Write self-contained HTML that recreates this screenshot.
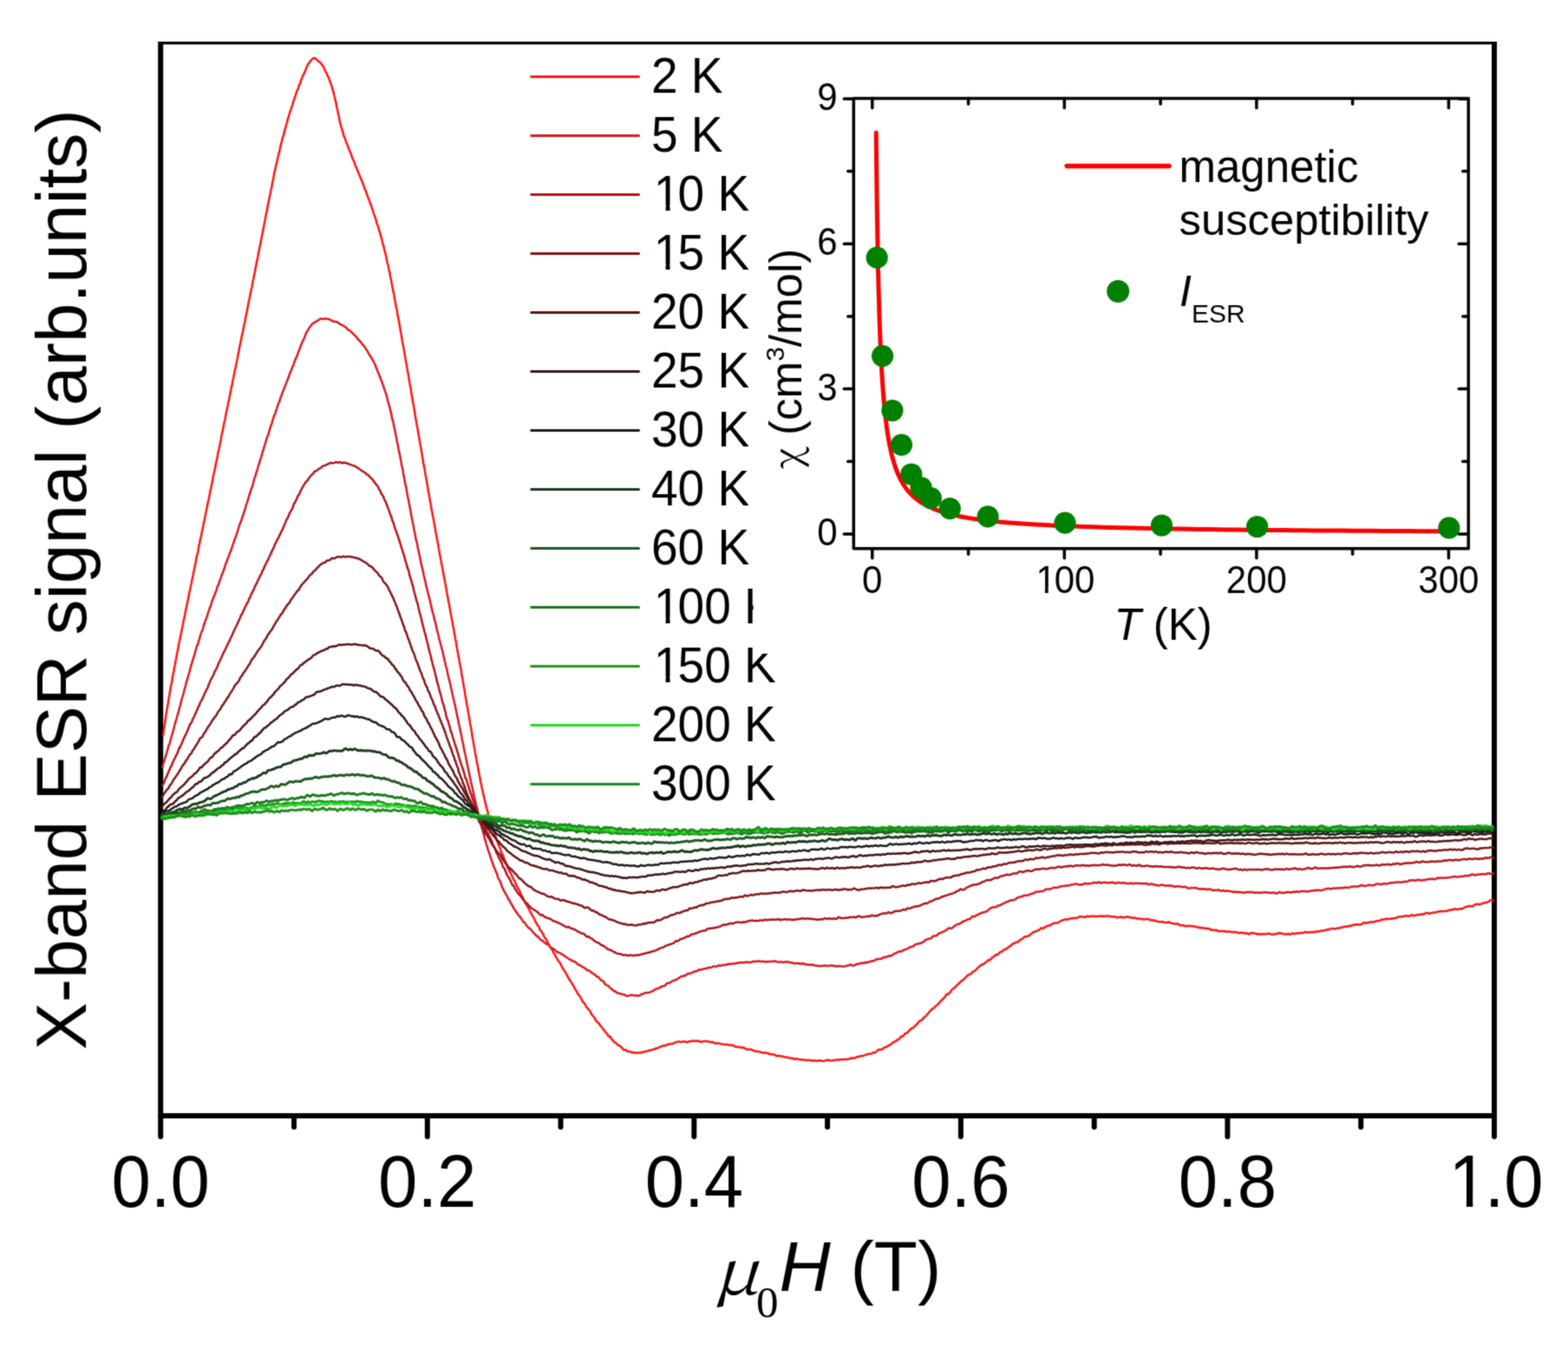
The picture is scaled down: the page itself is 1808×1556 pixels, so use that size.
<!DOCTYPE html><html><head><meta charset="utf-8"><title>X-band ESR signal</title><style>html,body{margin:0;padding:0;background:#fff;overflow:hidden;}svg{display:block;}#w{width:1808px;height:1556px;}text{font-family:'Liberation Sans', Arial, sans-serif;fill:#000;}</style></head><body>
<div id="w">
<svg width="1808" height="1556" viewBox="0 0 1808 1556">
<rect x="0" y="0" width="1808" height="1556" fill="#fff"/>
<defs><filter id="bl" x="0" y="0" width="1" height="1" color-interpolation-filters="sRGB"><feConvolveMatrix order="3" kernelMatrix="0.02768 0.11101 0.02768 0.11101 0.44521 0.11101 0.02768 0.11101 0.02768" edgeMode="duplicate"/></filter></defs>
<g filter="url(#bl)">
<defs><clipPath id="pc"><rect x="185.2" y="51.3" width="1537.8" height="1232.6"/></clipPath></defs>
<line x1="611.5" y1="88.4" x2="737.7" y2="88.4" stroke="#ff1414" stroke-width="3"/>
<text transform="translate(0 106.6) scale(1 1.040)" x="751.00 781.58 796.87" font-size="55.0">2 K</text>
<line x1="611.5" y1="156.4" x2="737.7" y2="156.4" stroke="#dc1820" stroke-width="3"/>
<text transform="translate(0 174.6) scale(1 1.040)" x="751.00 781.58 796.87" font-size="55.0">5 K</text>
<line x1="611.5" y1="224.4" x2="737.7" y2="224.4" stroke="#b0161c" stroke-width="3"/>
<text transform="translate(0 242.6) scale(1 1.040)" x="753.75 781.58 812.16 827.45" font-size="55.0">10 K</text>
<line x1="611.5" y1="292.4" x2="737.7" y2="292.4" stroke="#82161a" stroke-width="3"/>
<text transform="translate(0 310.6) scale(1 1.040)" x="753.75 781.58 812.16 827.45" font-size="55.0">15 K</text>
<line x1="611.5" y1="360.4" x2="737.7" y2="360.4" stroke="#5c1414" stroke-width="3"/>
<text transform="translate(0 378.6) scale(1 1.040)" x="751.00 781.58 812.16 827.45" font-size="55.0">20 K</text>
<line x1="611.5" y1="428.4" x2="737.7" y2="428.4" stroke="#3c1616" stroke-width="3"/>
<text transform="translate(0 446.6) scale(1 1.040)" x="751.00 781.58 812.16 827.45" font-size="55.0">25 K</text>
<line x1="611.5" y1="496.4" x2="737.7" y2="496.4" stroke="#1c1c1c" stroke-width="3"/>
<text transform="translate(0 514.6) scale(1 1.040)" x="751.00 781.58 812.16 827.45" font-size="55.0">30 K</text>
<line x1="611.5" y1="564.4" x2="737.7" y2="564.4" stroke="#1c381c" stroke-width="3"/>
<text transform="translate(0 582.6) scale(1 1.040)" x="751.00 781.58 812.16 827.45" font-size="55.0">40 K</text>
<line x1="611.5" y1="632.4" x2="737.7" y2="632.4" stroke="#1e581e" stroke-width="3"/>
<text transform="translate(0 650.6) scale(1 1.040)" x="751.00 781.58 812.16 827.45" font-size="55.0">60 K</text>
<line x1="611.5" y1="700.4" x2="737.7" y2="700.4" stroke="#1c781c" stroke-width="3"/>
<text transform="translate(0 718.6) scale(1 1.040)" x="753.75 781.58 812.16 842.74 858.03" font-size="55.0">100 K</text>
<line x1="611.5" y1="768.4" x2="737.7" y2="768.4" stroke="#1e981e" stroke-width="3"/>
<text transform="translate(0 786.6) scale(1 1.040)" x="753.75 781.58 812.16 842.74 858.03" font-size="55.0">150 K</text>
<line x1="611.5" y1="836.4" x2="737.7" y2="836.4" stroke="#22dd22" stroke-width="3"/>
<text transform="translate(0 854.6) scale(1 1.040)" x="751.00 781.58 812.16 842.74 858.03" font-size="55.0">200 K</text>
<line x1="611.5" y1="904.4" x2="737.7" y2="904.4" stroke="#1c8c1c" stroke-width="3"/>
<text transform="translate(0 922.6) scale(1 1.040)" x="751.00 781.58 812.16 842.74 858.03" font-size="55.0">300 K</text>
<rect x="868.6" y="52" width="850.4" height="702" fill="#fff"/>
<rect x="185.2" y="48.3" width="1537.8" height="1238.6" fill="none" stroke="#000" stroke-width="6" stroke-linejoin="round"/>
<line x1="185.2" y1="1286.9" x2="185.2" y2="1310.9" stroke="#000" stroke-width="6" stroke-linecap="round"/>
<line x1="339.0" y1="1286.9" x2="339.0" y2="1299.9" stroke="#000" stroke-width="6" stroke-linecap="round"/>
<line x1="492.8" y1="1286.9" x2="492.8" y2="1310.9" stroke="#000" stroke-width="6" stroke-linecap="round"/>
<line x1="646.5" y1="1286.9" x2="646.5" y2="1299.9" stroke="#000" stroke-width="6" stroke-linecap="round"/>
<line x1="800.3" y1="1286.9" x2="800.3" y2="1310.9" stroke="#000" stroke-width="6" stroke-linecap="round"/>
<line x1="954.1" y1="1286.9" x2="954.1" y2="1299.9" stroke="#000" stroke-width="6" stroke-linecap="round"/>
<line x1="1107.9" y1="1286.9" x2="1107.9" y2="1310.9" stroke="#000" stroke-width="6" stroke-linecap="round"/>
<line x1="1261.7" y1="1286.9" x2="1261.7" y2="1299.9" stroke="#000" stroke-width="6" stroke-linecap="round"/>
<line x1="1415.4" y1="1286.9" x2="1415.4" y2="1310.9" stroke="#000" stroke-width="6" stroke-linecap="round"/>
<line x1="1569.2" y1="1286.9" x2="1569.2" y2="1299.9" stroke="#000" stroke-width="6" stroke-linecap="round"/>
<line x1="1723.0" y1="1286.9" x2="1723.0" y2="1310.9" stroke="#000" stroke-width="6" stroke-linecap="round"/>
<text transform="translate(0 1392.2) scale(1 1.040)" x="128.56 173.87 196.53" font-size="81.5">0.0</text>
<text transform="translate(0 1392.2) scale(1 1.040)" x="436.12 481.43 504.09" font-size="81.5">0.2</text>
<text transform="translate(0 1392.2) scale(1 1.040)" x="743.68 788.99 811.65" font-size="81.5">0.4</text>
<text transform="translate(0 1392.2) scale(1 1.040)" x="1051.24 1096.55 1119.21" font-size="81.5">0.6</text>
<text transform="translate(0 1392.2) scale(1 1.040)" x="1358.80 1404.11 1426.77" font-size="81.5">0.8</text>
<text transform="translate(0 1392.2) scale(1 1.040)" x="1670.43 1711.67 1734.33" font-size="81.5">1.0</text>
<g clip-path="url(#pc)" fill="none" stroke-linejoin="round" stroke-linecap="round">
<polyline points="188.1,848.5 188.2,847.1 188.4,845.2 188.6,843.6 188.7,842.6 188.9,841.7 189.1,840.5 189.3,839.3 189.4,838.1 189.6,836.7 189.8,835.6 190.0,835.0 190.2,834.3 190.3,833.1 190.5,831.4 190.7,829.8 190.9,828.3 191.1,827.2 191.3,826.3 191.4,824.9 191.6,823.5 191.8,822.9 192.0,822.2 192.2,820.7 192.4,818.9 192.6,817.9 192.8,817.0 193.0,815.7 193.2,814.3 193.4,813.3 193.6,812.8 193.8,811.6 194.0,809.7 194.2,808.1 194.4,806.7 194.6,805.2 194.8,804.3 195.0,803.7 195.2,802.9 195.4,801.5 195.6,800.0 195.8,799.1 196.0,797.7 196.2,796.1 196.4,795.1 196.6,794.1 196.8,792.9 197.0,791.6 197.2,790.2 197.5,789.5 197.7,789.0 197.9,788.0 198.1,786.9 198.3,785.8 198.5,784.3 198.7,782.7 199.0,781.3 199.2,779.8 199.4,778.3 199.6,777.4 199.8,777.0 200.0,776.2 200.3,774.9 200.5,773.7 200.7,772.2 200.9,770.8 201.1,769.6 201.4,768.3 201.6,767.6 201.8,766.7 202.0,765.1 202.3,763.9 202.5,763.0 202.7,762.1 202.9,760.8 203.2,759.5 203.4,758.3 203.6,756.7 203.9,755.4 204.1,754.4 204.3,753.0 204.5,752.0 204.8,751.0 205.0,749.5 205.2,748.6 205.5,747.7 205.7,746.2 205.9,744.2 206.2,742.5 206.4,741.7 206.6,741.0 206.9,739.8 207.1,738.7 207.3,737.8 207.6,736.6 207.8,735.5 208.0,734.4 208.3,733.0 208.5,732.1 208.7,731.6 209.0,730.1 209.2,728.2 209.4,727.2 209.7,726.5 209.9,725.5 210.2,723.9 210.4,722.3 210.6,721.2 210.9,720.4 211.1,719.2 211.3,717.8 211.6,716.5 211.8,715.5 212.1,714.4 212.3,713.2 212.5,712.2 212.8,711.3 213.0,709.8 213.3,708.5 213.5,707.5 213.7,706.2 214.0,704.9 214.2,703.3 214.5,702.0 214.7,701.3 215.0,700.4 215.2,699.2 215.4,697.9 215.7,696.5 215.9,695.2 216.2,694.5 216.4,693.9 216.6,692.5 216.9,690.9 217.1,689.7 217.4,688.4 217.6,687.3 217.9,686.3 218.1,684.7 218.3,683.0 218.6,682.1 218.8,681.4 219.1,680.5 219.3,679.4 219.6,678.0 219.8,677.0 220.0,675.8 220.3,674.6 220.5,673.6 220.8,672.2 221.0,670.9 221.3,669.7 221.5,668.3 221.7,667.2 222.0,666.3 222.2,665.0 222.5,663.7 222.7,662.5 222.9,661.6 223.2,660.5 223.4,659.0 223.7,657.8 223.9,656.5 224.2,655.6 224.4,655.1 224.6,653.4 224.9,651.8 225.1,650.9 225.4,649.7 225.6,648.6 225.9,647.6 226.1,646.1 226.3,644.7 226.6,643.6 226.8,642.3 227.1,640.7 227.3,639.6 227.5,639.1 227.8,638.4 228.0,637.5 228.3,636.4 228.5,634.9 228.8,633.2 229.0,631.6 229.2,630.1 229.5,628.9 229.7,628.1 230.0,627.4 230.2,626.4 230.4,624.9 230.7,623.3 230.9,622.1 231.2,621.3 231.4,620.5 231.7,619.2 231.9,618.1 232.1,617.5 232.4,616.3 232.6,614.5 232.9,613.1 233.1,611.9 233.3,610.9 233.6,609.9 233.8,608.9 234.1,608.0 234.3,607.0 234.5,605.6 234.8,604.1 235.0,602.8 235.3,601.4 235.5,600.4 235.8,599.6 236.0,598.5 236.2,597.4 236.5,595.9 236.7,594.7 237.0,593.7 237.2,592.4 237.4,591.0 237.7,589.7 237.9,588.4 238.2,587.2 238.4,586.3 238.6,585.5 238.9,584.4 239.1,582.8 239.4,581.0 239.6,580.0 239.9,579.3 240.1,578.2 240.3,577.3 240.6,576.0 240.8,574.6 241.1,573.9 241.3,573.2 241.5,571.6 241.8,569.9 242.0,568.5 242.3,567.2 242.5,565.8 242.7,565.2 243.0,564.9 243.2,563.6 243.5,562.1 243.7,561.2 243.9,560.1 244.2,558.9 244.4,557.8 244.7,556.4 244.9,555.0 245.1,553.5 245.4,551.6 245.6,550.5 245.9,549.7 246.1,548.4 246.4,547.2 246.6,545.9 246.8,545.2 247.1,544.8 247.3,543.4 247.6,541.9 247.8,540.8 248.0,539.5 248.3,538.4 248.5,537.4 248.8,536.1 249.0,534.5 249.2,533.4 249.5,532.2 249.7,530.8 250.0,529.8 250.2,528.8 250.4,527.9 250.7,526.8 250.9,525.4 251.2,524.2 251.4,522.8 251.6,521.1 251.9,520.0 252.1,519.1 252.4,518.0 252.6,517.0 252.8,515.8 253.1,514.7 253.3,514.2 253.6,513.2 253.8,511.3 254.0,509.8 254.3,509.0 254.5,508.3 254.8,506.9 255.0,504.9 255.2,503.4 255.5,502.2 255.7,500.8 256.0,499.8 256.2,498.9 256.4,498.0 256.7,497.4 256.9,496.1 257.2,494.2 257.4,492.8 257.6,492.1 257.9,491.2 258.1,489.6 258.4,488.0 258.6,487.3 258.8,486.3 259.1,485.3 259.3,484.4 259.6,483.2 259.8,481.7 260.0,480.2 260.3,479.1 260.5,477.7 260.8,476.2 261.0,475.2 261.2,474.0 261.5,472.8 261.7,472.1 262.0,471.5 262.2,470.4 262.4,469.2 262.7,467.7 262.9,465.7 263.2,464.1 263.4,463.6 263.6,463.1 263.9,461.9 264.1,460.9 264.4,459.5 264.6,457.8 264.8,457.1 265.1,456.3 265.3,454.4 265.6,452.6 265.8,451.7 266.0,450.9 266.3,449.8 266.5,448.5 266.7,447.0 267.0,445.8 267.2,445.3 267.5,444.9 267.7,443.3 267.9,441.4 268.2,439.8 268.4,438.4 268.7,437.7 268.9,436.8 269.1,435.5 269.4,434.6 269.6,433.7 269.9,432.6 270.1,431.3 270.3,429.7 270.6,427.9 270.8,426.8 271.1,426.1 271.3,425.2 271.5,424.3 271.8,423.2 272.0,421.6 272.3,420.3 272.5,419.3 272.7,418.2 273.0,417.0 273.2,415.9 273.4,414.9 273.7,413.7 273.9,412.5 274.2,411.5 274.4,410.1 274.6,408.6 274.9,407.4 275.1,406.3 275.4,405.4 275.6,404.2 275.8,402.4 276.1,400.9 276.3,400.0 276.5,398.9 276.8,397.6 277.0,396.5 277.3,395.2 277.5,394.0 277.7,393.2 278.0,392.2 278.2,390.8 278.5,389.6 278.7,388.6 278.9,387.0 279.2,385.4 279.4,384.6 279.6,384.2 279.9,383.5 280.1,382.6 280.4,381.1 280.6,379.3 280.8,377.8 281.1,377.0 281.3,376.3 281.5,375.0 281.8,373.4 282.0,372.3 282.3,371.7 282.5,370.7 282.7,369.0 283.0,367.3 283.2,366.0 283.4,364.9 283.7,363.9 283.9,363.2 284.2,362.3 284.4,361.1 284.6,359.7 284.9,358.2 285.1,356.9 285.3,355.7 285.6,354.8 285.8,353.8 286.0,352.1 286.3,350.4 286.5,349.4 286.8,348.2 287.0,346.8 287.2,346.0 287.5,345.7 287.7,344.6 287.9,343.1 288.2,342.1 288.4,340.8 288.6,339.1 288.9,337.9 289.1,337.0 289.4,335.6 289.6,334.1 289.8,333.2 290.1,332.7 290.3,332.0 290.5,330.6 290.8,329.2 291.0,328.2 291.2,326.7 291.5,325.0 291.7,324.0 291.9,322.9 292.2,321.8 292.4,320.7 292.7,319.7 292.9,318.4 293.1,317.1 293.4,316.1 293.6,314.8 293.8,313.5 294.1,312.5 294.3,311.0 294.5,309.5 294.8,308.2 295.0,306.9 295.2,306.2 295.5,305.6 295.7,304.0 295.9,302.5 296.2,301.2 296.4,300.3 296.6,299.8 296.9,298.6 297.1,296.9 297.3,295.5 297.6,294.2 297.8,292.9 298.0,291.7 298.3,290.7 298.5,289.9 298.7,289.0 299.0,287.8 299.2,286.2 299.4,284.7 299.7,283.6 299.9,282.7 300.1,281.9 300.4,280.9 300.6,279.6 300.8,277.8 301.1,276.4 301.3,276.0 301.5,274.9 301.8,273.1 302.0,272.2 302.2,271.3 302.5,270.0 302.7,269.0 302.9,267.5 303.1,266.2 303.4,265.5 303.6,264.2 303.8,262.8 304.1,261.5 304.3,260.3 304.5,259.4 304.8,258.2 305.0,256.8 305.2,255.7 305.5,254.8 305.7,253.6 305.9,252.2 306.1,251.1 306.4,249.8 306.6,248.4 306.8,247.1 307.1,245.8 307.3,244.9 307.5,244.1 307.8,243.1 308.0,242.0 308.2,240.6 308.4,238.7 308.7,237.2 308.9,236.4 309.1,235.7 309.4,234.5 309.6,233.3 309.8,232.1 310.1,230.4 310.3,229.2 310.5,228.8 310.8,228.3 311.0,226.6 311.2,225.0 311.5,224.1 311.7,223.2 311.9,221.9 312.2,220.3 312.4,218.9 312.6,218.0 312.9,217.3 313.1,216.6 313.4,215.4 313.6,213.4 313.8,211.9 314.1,210.9 314.3,209.8 314.6,208.9 314.8,207.8 315.0,206.7 315.3,205.6 315.5,204.0 315.8,202.2 316.0,200.8 316.3,199.7 316.5,198.4 316.8,197.4 317.0,196.9 317.3,195.8 317.5,194.3 317.8,192.8 318.1,191.4 318.3,190.8 318.6,190.0 318.8,188.3 319.1,187.3 319.4,186.7 319.6,185.3 319.9,184.1 320.1,182.9 320.4,181.5 320.7,180.8 321.0,179.7 321.2,177.9 321.5,176.6 321.8,175.9 322.1,175.2 322.3,174.2 322.6,172.7 322.9,170.9 323.2,169.6 323.5,168.8 323.7,167.7 324.0,166.2 324.3,165.2 324.6,164.5 324.9,163.3 325.2,161.8 325.5,160.5 325.8,159.2 326.1,158.0 326.4,157.4 326.7,157.1 327.0,156.3 327.3,154.4 327.6,152.9 327.9,151.6 328.3,150.1 328.6,148.9 328.9,147.9 329.2,147.3 329.5,146.4 329.9,144.7 330.2,143.4 330.5,142.6 330.8,141.4 331.2,140.0 331.5,138.6 331.8,137.2 332.2,136.4 332.5,135.7 332.9,134.4 333.2,132.9 333.6,131.6 333.9,130.7 334.3,129.7 334.6,128.3 335.0,127.2 335.4,126.5 335.7,125.5 336.1,124.3 336.5,123.2 336.8,122.3 337.2,121.1 337.6,119.5 338.0,118.0 338.3,116.8 338.7,115.8 339.1,115.0 339.5,113.9 339.9,112.4 340.3,111.1 340.7,110.1 341.1,109.2 341.5,108.0 341.9,106.7 342.3,105.4 342.7,104.2 343.1,103.4 343.6,102.8 344.0,101.5 344.4,99.9 344.8,98.4 345.3,97.5 345.7,97.0 346.1,95.9 346.6,94.1 347.0,92.7 347.4,91.9 347.9,90.6 348.3,89.3 348.8,88.7 349.2,87.7 349.7,86.3 350.2,85.5 350.6,84.9 351.1,83.7 351.6,82.6 352.0,81.9 352.5,80.4 353.0,78.9 353.5,77.8 354.0,76.7 354.5,75.5 355.1,74.4 355.7,73.5 356.2,72.6 356.9,71.9 357.6,71.0 358.4,69.8 359.2,68.9 360.1,68.1 361.2,67.1 362.4,67.1 363.6,67.7 364.7,68.2 365.7,69.3 366.6,70.5 367.5,70.7 368.3,71.1 369.1,72.2 369.8,72.9 370.5,73.6 371.2,74.8 371.8,75.4 372.4,75.7 373.0,77.0 373.6,78.6 374.2,79.9 374.7,81.1 375.3,82.3 375.8,83.2 376.3,83.8 376.8,84.6 377.3,86.3 377.8,87.8 378.3,88.3 378.7,88.8 379.2,90.3 379.6,92.1 380.1,93.0 380.5,93.7 380.9,95.0 381.3,96.4 381.7,97.3 382.1,98.0 382.5,99.1 382.9,100.8 383.3,102.3 383.6,103.5 384.0,104.7 384.3,105.7 384.6,106.8 384.9,107.9 385.2,109.2 385.5,110.6 385.8,111.6 386.1,112.4 386.3,113.6 386.6,114.9 386.9,116.2 387.1,117.4 387.4,118.3 387.6,119.2 387.8,120.8 388.1,122.2 388.3,123.1 388.5,124.6 388.8,125.7 389.0,126.3 389.2,127.3 389.5,128.8 389.7,129.9 389.9,131.1 390.2,132.4 390.4,133.2 390.7,134.1 390.9,135.4 391.2,137.0 391.4,138.6 391.7,139.8 392.0,140.8 392.3,141.8 392.5,142.9 392.8,144.3 393.2,145.9 393.5,146.6 393.8,146.9 394.1,148.4 394.5,150.1 394.8,150.8 395.2,151.9 395.6,153.3 395.9,154.4 396.3,156.1 396.7,157.4 397.1,158.1 397.5,159.1 397.9,159.9 398.3,160.9 398.7,162.4 399.1,163.6 399.5,164.7 400.0,165.8 400.4,166.5 400.8,167.4 401.3,168.8 401.7,170.5 402.1,171.9 402.6,172.7 403.0,173.4 403.5,174.7 403.9,175.8 404.4,176.4 404.8,177.7 405.3,179.4 405.7,180.7 406.2,181.7 406.6,182.8 407.0,183.9 407.5,184.9 407.9,185.7 408.4,186.7 408.8,187.8 409.3,189.4 409.7,191.1 410.2,191.9 410.6,192.6 411.1,193.6 411.5,194.7 412.0,195.9 412.4,197.1 412.9,198.3 413.3,199.4 413.8,200.3 414.2,201.6 414.7,202.7 415.1,203.5 415.5,204.7 416.0,206.0 416.4,206.9 416.9,207.7 417.3,208.8 417.8,210.3 418.2,211.2 418.6,212.2 419.1,213.5 419.5,214.5 419.9,216.1 420.4,217.5 420.8,218.5 421.2,219.2 421.7,219.7 422.1,221.0 422.5,222.8 422.9,223.8 423.4,225.0 423.8,226.4 424.2,227.2 424.6,228.1 425.1,229.3 425.5,230.3 425.9,231.2 426.3,232.7 426.7,234.4 427.1,235.1 427.5,235.0 427.9,236.3 428.3,238.2 428.7,239.6 429.1,240.8 429.5,241.9 429.9,242.8 430.3,244.3 430.7,245.6 431.1,246.6 431.5,247.9 431.9,249.0 432.2,249.8 432.6,250.9 433.0,252.3 433.4,253.2 433.7,254.2 434.1,256.0 434.5,257.5 434.8,258.5 435.2,259.3 435.5,260.2 435.9,261.0 436.2,262.0 436.6,263.4 436.9,264.7 437.3,266.0 437.6,267.2 437.9,267.8 438.3,268.7 438.6,270.3 438.9,271.9 439.3,272.8 439.6,273.6 439.9,274.6 440.2,275.6 440.5,277.0 440.8,278.8 441.1,280.2 441.4,281.2 441.7,282.4 442.0,283.8 442.3,284.1 442.6,284.6 442.9,286.3 443.2,288.0 443.5,289.1 443.8,290.1 444.1,291.7 444.4,293.0 444.6,293.6 444.9,294.2 445.2,295.4 445.5,297.1 445.7,298.8 446.0,300.1 446.3,301.3 446.5,302.5 446.8,303.5 447.0,304.4 447.3,305.1 447.6,306.2 447.8,307.5 448.1,308.8 448.3,310.4 448.6,311.9 448.8,312.7 449.1,313.3 449.3,314.6 449.6,316.1 449.8,317.1 450.0,318.2 450.3,319.4 450.5,320.8 450.8,322.1 451.0,322.8 451.2,323.9 451.5,325.6 451.7,327.0 451.9,328.0 452.2,329.1 452.4,330.5 452.6,332.0 452.8,333.0 453.1,333.7 453.3,334.7 453.5,336.1 453.7,337.4 454.0,338.4 454.2,339.0 454.4,339.9 454.6,341.7 454.9,343.5 455.1,344.8 455.3,346.2 455.5,347.1 455.7,347.9 455.9,349.2 456.2,350.4 456.4,351.7 456.6,352.8 456.8,353.9 457.0,355.0 457.2,355.8 457.5,356.7 457.7,357.8 457.9,358.9 458.1,360.7 458.3,362.7 458.5,364.0 458.8,364.6 459.0,365.0 459.2,366.3 459.4,368.0 459.6,369.0 459.8,369.9 460.0,370.7 460.2,372.3 460.5,374.0 460.7,375.1 460.9,376.0 461.1,376.8 461.3,378.2 461.5,379.9 461.7,381.1 461.9,382.0 462.1,383.1 462.4,384.3 462.6,385.9 462.8,387.2 463.0,387.9 463.2,389.2 463.4,390.5 463.6,391.7 463.8,393.4 464.0,394.6 464.2,395.3 464.5,396.7 464.7,397.9 464.9,398.5 465.1,399.7 465.3,400.9 465.5,402.1 465.7,403.4 465.9,404.2 466.1,404.9 466.3,406.1 466.5,407.9 466.7,409.4 466.9,410.4 467.2,411.5 467.4,412.9 467.6,414.4 467.8,415.3 468.0,416.1 468.2,417.4 468.4,418.9 468.6,419.8 468.8,420.8 469.0,421.9 469.2,423.2 469.4,424.3 469.6,425.4 469.8,427.0 470.0,428.0 470.2,428.8 470.4,430.1 470.6,431.2 470.9,432.8 471.1,434.2 471.3,435.1 471.5,436.3 471.7,437.7 471.9,438.7 472.1,439.9 472.3,441.5 472.5,442.8 472.7,443.6 472.9,444.8 473.1,445.8 473.3,446.3 473.5,447.4 473.7,448.4 473.9,450.0 474.1,452.1 474.3,453.6 474.5,454.6 474.7,455.5 474.9,456.5 475.1,457.5 475.3,458.6 475.5,459.9 475.7,461.5 475.9,462.9 476.1,463.8 476.3,464.8 476.6,465.9 476.8,466.9 477.0,468.1 477.2,469.5 477.4,470.7 477.6,471.7 477.8,473.1 478.0,474.6 478.2,475.7 478.4,476.7 478.6,477.9 478.8,479.2 479.0,480.5 479.2,481.8 479.4,483.3 479.6,484.5 479.8,485.1 480.0,486.0 480.2,487.9 480.4,489.3 480.6,489.8 480.8,490.2 481.0,491.3 481.2,492.9 481.4,494.4 481.6,495.5 481.8,496.2 482.0,497.6 482.2,499.2 482.4,500.1 482.6,501.1 482.8,502.5 483.0,503.6 483.2,504.8 483.4,506.0 483.6,507.1 483.9,508.5 484.1,509.8 484.3,510.9 484.5,511.9 484.7,513.2 484.9,514.4 485.1,515.5 485.3,516.4 485.5,517.0 485.7,518.1 485.9,519.8 486.1,521.6 486.3,522.7 486.5,523.4 486.7,524.9 486.9,526.6 487.1,527.7 487.3,528.5 487.5,529.1 487.7,530.3 487.9,532.5 488.1,534.1 488.3,534.8 488.5,535.6 488.8,536.9 489.0,538.2 489.2,539.2 489.4,539.9 489.6,540.8 489.8,542.4 490.0,544.2 490.2,545.4 490.4,546.3 490.6,547.6 490.8,548.7 491.0,549.6 491.2,550.4 491.4,551.3 491.6,553.0 491.8,554.7 492.1,555.6 492.3,556.8 492.5,558.1 492.7,558.9 492.9,560.2 493.1,561.6 493.3,563.0 493.5,564.3 493.7,565.3 493.9,566.4 494.1,567.9 494.3,569.0 494.6,569.8 494.8,570.7 495.0,572.1 495.2,573.5 495.4,574.5 495.6,576.0 495.8,577.8 496.0,578.7 496.2,579.3 496.4,580.2 496.7,581.6 496.9,583.2 497.1,584.4 497.3,585.8 497.5,587.2 497.7,587.8 497.9,588.5 498.1,589.9 498.4,591.3 498.6,592.5 498.8,593.7 499.0,595.1 499.2,596.2 499.4,596.7 499.6,597.6 499.9,599.2 500.1,600.4 500.3,601.5 500.5,602.7 500.7,603.6 500.9,604.9 501.1,606.4 501.4,607.7 501.6,608.8 501.8,609.8 502.0,610.9 502.2,612.0 502.4,613.4 502.6,614.8 502.9,615.7 503.1,616.6 503.3,618.1 503.5,619.7 503.7,621.1 503.9,622.0 504.2,622.7 504.4,624.1 504.6,625.7 504.8,626.4 505.0,627.2 505.2,628.4 505.5,629.7 505.7,631.4 505.9,632.8 506.1,633.7 506.3,634.5 506.6,635.9 506.8,637.6 507.0,639.3 507.2,640.8 507.4,641.3 507.6,641.5 507.9,642.8 508.1,644.4 508.3,645.8 508.5,646.9 508.7,648.0 509.0,649.1 509.2,650.6 509.4,651.9 509.6,652.3 509.8,652.8 510.0,654.5 510.3,656.5 510.5,657.6 510.7,658.3 510.9,659.5 511.1,661.1 511.4,662.3 511.6,663.1 511.8,664.2 512.0,665.4 512.2,666.7 512.4,668.3 512.7,669.3 512.9,669.6 513.1,670.7 513.3,672.4 513.5,673.6 513.8,674.4 514.0,675.7 514.2,677.1 514.4,678.3 514.6,679.5 514.9,680.9 515.1,682.5 515.3,683.8 515.5,684.8 515.7,685.7 515.9,686.5 516.2,687.8 516.4,689.3 516.6,690.6 516.8,691.9 517.0,692.9 517.2,694.0 517.5,695.0 517.7,695.8 517.9,697.0 518.1,698.5 518.3,699.9 518.6,700.9 518.8,702.0 519.0,703.3 519.2,704.7 519.4,706.0 519.6,706.9 519.9,708.1 520.1,709.4 520.3,710.6 520.5,711.6 520.7,712.7 520.9,713.7 521.1,714.8 521.4,716.3 521.6,717.5 521.8,718.7 522.0,720.1 522.2,721.2 522.4,722.4 522.7,723.4 522.9,724.1 523.1,725.2 523.3,726.4 523.5,727.9 523.7,729.8 523.9,731.3 524.2,732.0 524.4,732.4 524.6,733.9 524.8,735.7 525.0,737.0 525.2,738.0 525.4,738.7 525.6,739.4 525.9,740.5 526.1,742.1 526.3,743.7 526.5,744.7 526.7,746.0 526.9,747.4 527.1,748.5 527.3,749.4 527.5,750.9 527.8,752.2 528.0,753.0 528.2,754.4 528.4,756.0 528.6,757.1 528.8,757.8 529.0,758.1 529.2,759.2 529.4,760.7 529.6,762.0 529.8,763.5 530.1,764.7 530.3,765.8 530.5,767.0 530.7,768.0 530.9,769.5 531.1,770.4 531.3,770.9 531.5,771.8 531.7,773.1 531.9,774.7 532.1,776.6 532.3,778.3 532.5,779.1 532.7,779.4 532.9,780.2 533.2,781.7 533.4,783.1 533.6,784.4 533.8,786.1 534.0,787.6 534.2,788.2 534.4,789.6 534.6,791.3 534.8,791.9 535.0,793.0 535.2,794.3 535.4,794.7 535.6,795.5 535.8,797.2 536.0,799.0 536.2,800.4 536.4,801.8 536.6,803.2 536.8,804.0 537.0,804.8 537.2,806.2 537.5,807.6 537.7,808.6 537.9,809.8 538.1,811.5 538.3,812.9 538.5,813.5 538.7,813.9 538.9,814.9 539.1,816.4 539.3,817.7 539.5,818.9 539.7,820.2 539.9,821.5 540.1,822.5 540.3,823.7 540.5,824.9 540.7,825.9 540.9,827.3 541.1,828.8 541.3,829.8 541.5,830.8 541.7,832.1 541.9,833.5 542.1,834.6 542.3,835.8 542.5,837.2 542.8,838.2 543.0,838.7 543.2,839.6 543.4,841.0 543.6,842.6 543.8,843.8 544.0,844.9 544.2,846.5 544.4,848.3 544.6,849.6 544.8,850.5 545.0,851.8 545.2,853.0 545.4,853.9 545.6,854.5 545.8,855.4 546.0,857.2 546.2,858.4 546.4,859.1 546.6,860.3 546.8,861.9 547.0,863.0 547.3,863.7 547.5,865.1 547.7,867.0 547.9,868.4 548.1,869.3 548.3,870.4 548.5,871.5 548.7,872.5 548.9,873.5 549.1,874.5 549.3,875.7 549.5,877.2 549.8,878.7 550.0,879.8 550.2,880.8 550.4,881.8 550.6,882.6 550.8,883.0 551.0,884.3 551.3,885.9 551.5,887.2 551.7,888.8 551.9,890.1 552.2,891.0 552.4,892.1 552.6,893.0 552.8,894.2 553.1,895.4 553.3,896.7 553.5,898.3 553.8,899.6 554.0,900.9 554.2,902.0 554.5,903.0 554.7,903.9 555.0,905.1 555.2,906.4 555.5,908.0 555.7,909.3 556.0,910.1 556.2,911.2 556.5,912.6 556.7,913.9 557.0,914.8 557.3,915.7 557.5,916.9 557.8,918.2 558.1,919.4 558.3,920.4 558.6,921.7 558.9,923.1 559.2,924.1 559.5,925.2 559.8,926.7 560.1,928.1 560.3,929.2 560.6,930.2 560.9,931.1 561.2,932.3 561.6,933.6 561.9,934.4 562.2,935.2 562.5,936.7 562.8,938.2 563.1,939.4 563.5,940.3 563.8,941.2 564.1,941.8 564.5,942.5 564.8,943.7 565.2,945.8 565.5,948.0 565.9,949.1 566.2,949.6 566.6,950.9 566.9,952.3 567.3,952.8 567.7,953.7 568.1,955.3 568.4,956.5 568.8,957.6 569.2,959.3 569.6,960.4 570.0,961.6 570.4,962.7 570.8,963.3 571.2,964.1 571.6,965.6 572.0,966.9 572.4,968.1 572.8,969.0 573.2,969.8 573.6,971.0 574.1,972.1 574.5,973.2 574.9,974.5 575.3,975.8 575.8,976.7 576.2,977.6 576.7,978.7 577.1,980.1 577.5,981.6 578.0,982.4 578.4,983.5 578.9,984.9 579.3,985.6 579.8,986.1 580.3,987.2 580.7,988.9 581.2,990.4 581.7,991.6 582.1,992.4 582.6,993.4 583.1,994.8 583.6,996.0 584.1,997.2 584.5,998.8 585.0,999.5 585.5,1000.6 586.0,1002.0 586.5,1002.8 587.0,1003.6 587.5,1004.9 588.0,1005.6 588.5,1006.0 589.0,1007.3 589.5,1008.5 590.0,1009.5 590.5,1010.8 591.0,1012.1 591.6,1013.1 592.1,1014.2 592.6,1015.1 593.1,1015.6 593.6,1016.5 594.2,1017.9 594.7,1019.3 595.2,1020.5 595.8,1021.6 596.3,1022.8 596.8,1024.2 597.4,1025.2 597.9,1025.6 598.4,1026.2 599.0,1027.2 599.5,1028.7 600.1,1030.5 600.6,1031.5 601.2,1032.4 601.7,1033.8 602.3,1034.3 602.8,1035.0 603.4,1036.8 603.9,1038.3 604.5,1038.8 605.1,1039.7 605.6,1041.0 606.2,1042.0 606.8,1043.0 607.3,1044.2 607.9,1045.2 608.5,1045.9 609.0,1046.9 609.6,1048.0 610.2,1048.8 610.7,1050.2 611.3,1051.7 611.9,1052.6 612.5,1053.5 613.0,1054.7 613.6,1055.8 614.2,1056.5 614.8,1057.7 615.4,1058.7 616.0,1059.3 616.5,1060.6 617.1,1062.5 617.7,1063.5 618.3,1064.1 618.9,1065.3 619.5,1066.6 620.1,1067.9 620.7,1068.4 621.3,1068.6 621.8,1070.0 622.4,1072.0 623.0,1073.0 623.6,1073.3 624.2,1074.0 624.8,1075.3 625.4,1076.4 626.0,1077.3 626.6,1078.4 627.2,1079.8 627.8,1081.1 628.4,1081.8 629.0,1082.2 629.6,1082.9 630.2,1084.2 630.8,1085.6 631.4,1086.5 632.0,1088.2 632.6,1089.6 633.2,1090.1 633.8,1091.1 634.5,1092.6 635.1,1093.5 635.7,1094.1 636.3,1095.1 636.9,1096.2 637.5,1097.3 638.1,1098.5 638.7,1099.8 639.3,1100.6 639.9,1101.3 640.5,1102.7 641.1,1103.9 641.7,1104.7 642.4,1105.8 643.0,1107.0 643.6,1107.9 644.2,1108.7 644.8,1109.6 645.4,1110.3 646.0,1111.1 646.6,1112.2 647.2,1113.5 647.8,1114.9 648.4,1116.2 649.1,1117.4 649.7,1118.5 650.3,1119.1 650.9,1119.7 651.5,1120.6 652.1,1121.7 652.7,1123.1 653.3,1124.3 653.9,1125.1 654.5,1126.2 655.2,1127.5 655.8,1128.5 656.4,1129.5 657.0,1130.5 657.6,1131.5 658.2,1132.3 658.8,1133.0 659.5,1134.5 660.1,1135.6 660.7,1136.3 661.3,1137.4 661.9,1138.5 662.6,1139.8 663.2,1140.9 663.8,1142.0 664.5,1142.8 665.1,1143.7 665.7,1145.3 666.3,1146.3 667.0,1146.8 667.6,1147.9 668.3,1149.0 668.9,1149.5 669.5,1150.6 670.2,1152.1 670.8,1153.1 671.5,1154.4 672.1,1155.8 672.8,1156.2 673.5,1156.9 674.1,1157.9 674.8,1158.5 675.4,1159.9 676.1,1161.6 676.8,1162.2 677.5,1162.7 678.1,1163.6 678.8,1164.7 679.5,1165.5 680.2,1165.9 680.9,1167.3 681.6,1169.1 682.2,1170.2 682.9,1170.9 683.6,1171.6 684.3,1172.6 685.1,1173.5 685.8,1174.3 686.5,1175.9 687.2,1177.2 687.9,1177.8 688.6,1178.7 689.4,1179.5 690.1,1179.8 690.8,1180.8 691.6,1182.0 692.3,1183.1 693.1,1184.0 693.8,1184.7 694.6,1185.7 695.4,1187.1 696.1,1187.9 696.9,1188.5 697.7,1189.9 698.4,1191.1 699.2,1191.4 700.0,1192.0 700.8,1193.7 701.6,1195.3 702.4,1195.7 703.2,1195.5 704.0,1196.2 704.8,1197.9 705.6,1198.9 706.4,1199.7 707.3,1200.7 708.1,1201.8 709.0,1202.4 709.8,1202.9 710.7,1203.6 711.5,1204.3 712.4,1205.3 713.3,1205.9 714.3,1206.1 715.2,1206.8 716.2,1207.6 717.1,1208.5 718.1,1209.8 719.2,1210.9 720.2,1211.1 721.3,1210.9 722.4,1211.4 723.5,1212.5 724.6,1213.0 725.7,1213.0 726.9,1212.9 728.1,1213.3 729.2,1214.3 730.4,1214.3 731.6,1213.9 732.8,1214.2 734.0,1214.6 735.2,1214.4 736.4,1214.1 737.6,1214.1 738.8,1214.2 740.0,1214.0 741.2,1213.4 742.4,1213.2 743.6,1213.0 744.7,1212.6 745.9,1212.5 747.1,1212.2 748.2,1211.7 749.4,1211.5 750.5,1211.4 751.7,1210.9 752.8,1210.5 754.0,1210.4 755.1,1210.0 756.2,1209.5 757.4,1209.0 758.5,1208.7 759.7,1208.4 760.8,1207.6 761.9,1207.0 763.1,1206.9 764.2,1206.4 765.3,1205.9 766.5,1206.0 767.6,1205.9 768.8,1205.3 769.9,1204.7 771.1,1204.5 772.2,1204.3 773.4,1204.0 774.5,1204.0 775.7,1203.9 776.9,1203.3 778.0,1202.7 779.2,1202.2 780.4,1201.9 781.6,1201.6 782.8,1201.5 784.0,1201.6 785.1,1201.9 786.3,1201.8 787.5,1201.5 788.7,1201.2 789.9,1201.3 791.1,1202.1 792.3,1202.2 793.5,1201.5 794.7,1201.2 795.9,1201.2 797.1,1201.1 798.3,1200.6 799.5,1200.4 800.7,1200.7 801.9,1200.8 803.1,1200.7 804.3,1200.6 805.5,1200.8 806.7,1201.5 807.9,1201.8 809.1,1201.4 810.3,1201.2 811.5,1201.3 812.7,1201.1 813.9,1200.9 815.1,1201.0 816.3,1201.2 817.5,1201.6 818.7,1202.0 819.9,1202.0 821.0,1201.8 822.2,1202.1 823.4,1203.0 824.6,1203.5 825.8,1203.6 827.0,1203.3 828.2,1203.2 829.4,1203.6 830.5,1203.9 831.7,1204.1 832.9,1204.4 834.1,1204.6 835.3,1204.9 836.4,1204.8 837.6,1204.7 838.8,1204.9 840.0,1205.0 841.2,1205.4 842.3,1205.6 843.5,1205.5 844.7,1205.6 845.9,1206.0 847.0,1206.7 848.2,1207.4 849.4,1207.4 850.6,1207.5 851.7,1207.7 852.9,1207.8 854.1,1208.2 855.3,1208.4 856.4,1208.3 857.6,1208.4 858.8,1209.1 860.0,1210.1 861.1,1210.4 862.3,1210.3 863.5,1210.4 864.6,1210.4 865.8,1210.3 867.0,1210.8 868.1,1211.6 869.3,1211.8 870.5,1212.2 871.7,1212.8 872.8,1212.7 874.0,1212.8 875.2,1213.1 876.3,1213.3 877.5,1213.6 878.7,1214.0 879.9,1214.5 881.0,1214.6 882.2,1214.1 883.4,1214.2 884.5,1214.6 885.7,1215.0 886.9,1215.5 888.1,1216.0 889.2,1216.0 890.4,1216.2 891.6,1216.3 892.8,1216.3 893.9,1217.0 895.1,1217.9 896.3,1218.0 897.5,1217.7 898.7,1217.8 899.8,1218.2 901.0,1218.2 902.2,1218.3 903.4,1218.9 904.6,1219.2 905.7,1219.2 906.9,1219.4 908.1,1219.8 909.3,1219.9 910.5,1220.0 911.7,1220.6 912.9,1220.8 914.0,1220.7 915.2,1221.3 916.4,1221.7 917.6,1221.3 918.8,1221.0 920.0,1221.6 921.2,1221.9 922.4,1221.9 923.6,1222.2 924.8,1222.2 926.0,1222.2 927.1,1222.6 928.3,1222.8 929.5,1222.9 930.7,1222.8 931.9,1222.8 933.1,1222.8 934.3,1223.0 935.5,1223.2 936.7,1223.2 937.9,1223.2 939.1,1223.3 940.3,1223.5 941.5,1223.7 942.7,1223.6 943.9,1223.2 945.1,1223.0 946.3,1223.4 947.5,1223.8 948.7,1223.8 949.9,1223.7 951.1,1223.4 952.3,1223.1 953.5,1222.7 954.7,1222.6 955.9,1223.0 957.1,1223.2 958.3,1223.3 959.5,1223.2 960.7,1223.1 961.9,1223.1 963.1,1222.7 964.3,1222.4 965.5,1222.3 966.7,1222.5 967.9,1222.6 969.1,1222.1 970.3,1222.1 971.5,1222.2 972.7,1222.1 973.8,1222.1 975.0,1222.1 976.2,1221.9 977.4,1221.7 978.6,1221.6 979.8,1221.3 981.0,1220.7 982.2,1220.3 983.3,1220.4 984.5,1220.4 985.7,1220.3 986.9,1219.6 988.0,1219.1 989.2,1219.2 990.4,1218.6 991.6,1218.2 992.7,1218.3 993.9,1218.0 995.0,1217.8 996.2,1217.4 997.4,1217.1 998.5,1216.6 999.7,1215.9 1000.8,1215.7 1002.0,1215.6 1003.1,1215.4 1004.2,1215.4 1005.4,1215.1 1006.5,1214.3 1007.6,1214.0 1008.7,1214.1 1009.9,1213.6 1011.0,1212.6 1012.1,1211.4 1013.2,1210.7 1014.3,1210.6 1015.4,1210.5 1016.5,1210.6 1017.6,1210.3 1018.6,1209.0 1019.7,1208.2 1020.8,1208.1 1021.8,1207.8 1022.9,1207.2 1024.0,1206.2 1025.0,1205.7 1026.0,1205.7 1027.1,1204.7 1028.1,1203.5 1029.1,1202.9 1030.1,1202.2 1031.2,1201.6 1032.2,1201.3 1033.2,1200.7 1034.2,1199.7 1035.2,1199.2 1036.1,1199.0 1037.1,1198.0 1038.1,1196.6 1039.1,1195.5 1040.0,1195.2 1041.0,1195.3 1041.9,1194.7 1042.9,1193.1 1043.8,1192.0 1044.8,1191.7 1045.7,1191.4 1046.6,1190.7 1047.6,1189.7 1048.5,1188.6 1049.4,1187.5 1050.3,1186.7 1051.2,1186.2 1052.1,1185.8 1053.0,1185.4 1053.9,1184.6 1054.8,1183.5 1055.7,1182.9 1056.6,1181.9 1057.5,1181.0 1058.4,1180.2 1059.3,1178.6 1060.1,1177.7 1061.0,1177.3 1061.9,1177.1 1062.8,1176.7 1063.6,1175.7 1064.5,1174.5 1065.3,1173.7 1066.2,1173.1 1067.1,1172.4 1067.9,1171.5 1068.8,1170.5 1069.6,1169.5 1070.5,1168.5 1071.3,1167.5 1072.2,1166.5 1073.0,1165.6 1073.9,1164.8 1074.7,1164.0 1075.6,1163.2 1076.4,1162.8 1077.3,1162.2 1078.1,1161.3 1079.0,1160.4 1079.8,1159.8 1080.7,1159.2 1081.5,1158.2 1082.4,1157.4 1083.2,1156.6 1084.1,1155.4 1084.9,1154.2 1085.8,1153.6 1086.6,1153.1 1087.5,1152.1 1088.3,1151.1 1089.2,1150.5 1090.1,1149.2 1090.9,1147.7 1091.8,1146.7 1092.6,1146.6 1093.5,1146.5 1094.4,1145.7 1095.2,1144.9 1096.1,1143.8 1097.0,1142.3 1097.9,1141.2 1098.7,1140.7 1099.6,1140.2 1100.5,1139.3 1101.4,1138.6 1102.3,1137.8 1103.2,1136.6 1104.1,1135.5 1105.0,1135.0 1105.8,1134.4 1106.7,1133.3 1107.7,1132.2 1108.6,1131.5 1109.5,1131.0 1110.4,1130.4 1111.3,1129.5 1112.2,1128.5 1113.1,1127.9 1114.0,1127.0 1115.0,1125.9 1115.9,1124.9 1116.8,1124.3 1117.7,1124.0 1118.7,1123.6 1119.6,1123.0 1120.5,1122.2 1121.5,1121.2 1122.4,1120.4 1123.4,1120.1 1124.3,1119.6 1125.3,1118.6 1126.2,1117.6 1127.2,1116.7 1128.1,1115.8 1129.1,1114.9 1130.0,1114.1 1131.0,1113.2 1131.9,1112.5 1132.9,1112.6 1133.9,1112.3 1134.8,1111.4 1135.8,1110.4 1136.8,1109.8 1137.8,1109.2 1138.7,1108.0 1139.7,1107.3 1140.7,1107.6 1141.7,1107.2 1142.7,1106.2 1143.6,1105.0 1144.6,1104.0 1145.6,1103.5 1146.6,1102.8 1147.6,1101.7 1148.6,1101.2 1149.6,1101.2 1150.6,1100.9 1151.6,1099.9 1152.6,1098.6 1153.6,1098.1 1154.6,1098.0 1155.6,1097.4 1156.6,1096.5 1157.6,1095.5 1158.6,1094.9 1159.7,1094.9 1160.7,1094.5 1161.7,1093.4 1162.7,1092.4 1163.7,1091.9 1164.7,1091.5 1165.8,1090.5 1166.8,1089.4 1167.8,1088.6 1168.8,1088.2 1169.9,1088.1 1170.9,1087.3 1171.9,1086.5 1173.0,1086.6 1174.0,1086.5 1175.0,1085.3 1176.1,1084.0 1177.1,1083.7 1178.2,1083.5 1179.2,1082.4 1180.2,1081.5 1181.3,1080.9 1182.3,1080.2 1183.4,1080.2 1184.4,1080.1 1185.5,1079.7 1186.5,1079.1 1187.6,1078.2 1188.6,1077.4 1189.7,1076.6 1190.8,1075.8 1191.8,1075.1 1192.9,1074.7 1194.0,1074.4 1195.0,1073.9 1196.1,1073.5 1197.2,1073.1 1198.3,1072.6 1199.3,1071.5 1200.4,1070.5 1201.5,1070.6 1202.6,1071.0 1203.7,1070.4 1204.8,1069.4 1205.9,1068.8 1207.0,1068.3 1208.1,1067.8 1209.2,1067.6 1210.3,1067.5 1211.4,1067.0 1212.5,1066.2 1213.6,1065.5 1214.8,1065.1 1215.9,1065.0 1217.0,1064.7 1218.2,1064.4 1219.3,1064.4 1220.4,1064.0 1221.6,1063.2 1222.7,1062.4 1223.9,1061.9 1225.0,1061.7 1226.2,1061.2 1227.3,1060.7 1228.5,1060.5 1229.6,1060.2 1230.8,1060.4 1232.0,1060.5 1233.2,1059.9 1234.3,1059.5 1235.5,1059.2 1236.7,1059.1 1237.9,1059.1 1239.0,1059.1 1240.2,1059.1 1241.4,1059.0 1242.6,1058.4 1243.8,1057.8 1245.0,1057.4 1246.2,1057.2 1247.4,1057.2 1248.6,1057.5 1249.8,1057.9 1251.0,1058.0 1252.1,1057.5 1253.3,1056.8 1254.5,1057.0 1255.7,1057.4 1256.9,1057.1 1258.1,1056.8 1259.3,1056.8 1260.5,1056.8 1261.7,1056.8 1262.9,1056.9 1264.1,1057.0 1265.3,1056.9 1266.5,1056.8 1267.7,1056.8 1268.9,1056.7 1270.1,1056.6 1271.3,1056.7 1272.5,1056.8 1273.7,1056.8 1274.9,1056.7 1276.1,1056.6 1277.3,1056.6 1278.5,1056.7 1279.7,1057.1 1280.9,1057.2 1282.1,1057.3 1283.3,1057.4 1284.5,1057.2 1285.7,1057.3 1286.9,1058.0 1288.1,1058.3 1289.3,1058.1 1290.5,1058.0 1291.7,1057.7 1292.9,1057.5 1294.1,1058.0 1295.3,1058.3 1296.5,1058.3 1297.7,1058.0 1298.9,1057.5 1300.1,1057.4 1301.3,1057.8 1302.5,1058.0 1303.7,1058.2 1304.9,1058.5 1306.1,1058.9 1307.2,1058.9 1308.4,1058.6 1309.6,1058.8 1310.8,1059.4 1312.0,1059.8 1313.2,1059.7 1314.4,1059.4 1315.6,1059.8 1316.8,1060.3 1318.0,1060.2 1319.2,1060.2 1320.4,1060.4 1321.5,1060.1 1322.7,1060.0 1323.9,1060.0 1325.1,1060.6 1326.3,1061.4 1327.5,1061.3 1328.7,1061.2 1329.9,1061.7 1331.1,1061.6 1332.2,1061.8 1333.4,1062.7 1334.6,1062.9 1335.8,1062.9 1337.0,1063.3 1338.2,1063.3 1339.4,1063.2 1340.5,1063.2 1341.7,1063.4 1342.9,1063.9 1344.1,1064.2 1345.3,1064.0 1346.5,1063.8 1347.7,1063.5 1348.8,1063.9 1350.0,1064.7 1351.2,1065.0 1352.4,1065.1 1353.6,1065.5 1354.8,1065.6 1356.0,1065.7 1357.1,1065.6 1358.3,1065.6 1359.5,1066.5 1360.7,1067.3 1361.9,1067.4 1363.1,1067.2 1364.2,1067.3 1365.4,1067.7 1366.6,1068.2 1367.8,1068.3 1369.0,1067.9 1370.2,1067.9 1371.4,1068.1 1372.5,1068.1 1373.7,1068.3 1374.9,1068.3 1376.1,1068.3 1377.3,1068.8 1378.5,1069.1 1379.7,1069.0 1380.8,1069.3 1382.0,1069.8 1383.2,1070.2 1384.4,1070.1 1385.6,1070.3 1386.8,1070.6 1388.0,1070.4 1389.1,1070.5 1390.3,1071.0 1391.5,1071.1 1392.7,1070.9 1393.9,1071.1 1395.1,1072.0 1396.3,1072.5 1397.5,1072.3 1398.7,1072.6 1399.8,1073.0 1401.0,1073.0 1402.2,1072.8 1403.4,1073.1 1404.6,1073.8 1405.8,1074.2 1407.0,1074.0 1408.2,1074.0 1409.4,1074.2 1410.6,1074.0 1411.8,1073.8 1412.9,1074.3 1414.1,1074.7 1415.3,1074.5 1416.5,1074.4 1417.7,1074.4 1418.9,1074.7 1420.1,1075.1 1421.3,1075.2 1422.5,1075.0 1423.7,1074.9 1424.9,1075.1 1426.1,1075.4 1427.3,1076.0 1428.5,1076.3 1429.7,1076.0 1430.9,1075.8 1432.1,1075.8 1433.3,1075.9 1434.5,1076.4 1435.6,1076.6 1436.8,1076.3 1438.0,1076.4 1439.2,1077.4 1440.4,1077.4 1441.6,1076.5 1442.8,1076.0 1444.0,1076.3 1445.2,1076.6 1446.4,1076.6 1447.6,1076.7 1448.8,1077.2 1450.0,1077.7 1451.2,1077.3 1452.4,1077.2 1453.6,1077.7 1454.8,1077.6 1456.0,1077.2 1457.2,1077.3 1458.4,1077.4 1459.6,1077.2 1460.8,1077.2 1462.0,1076.9 1463.2,1076.8 1464.4,1077.1 1465.6,1077.6 1466.8,1077.9 1468.0,1077.6 1469.2,1077.3 1470.4,1077.4 1471.6,1077.2 1472.8,1076.7 1474.0,1076.5 1475.2,1076.3 1476.4,1076.3 1477.6,1076.7 1478.8,1077.1 1480.0,1077.2 1481.2,1077.4 1482.4,1077.6 1483.6,1077.5 1484.8,1077.2 1486.0,1077.3 1487.2,1077.7 1488.4,1077.5 1489.6,1076.8 1490.8,1076.6 1492.0,1077.0 1493.2,1077.0 1494.4,1076.8 1495.6,1076.6 1496.8,1076.2 1498.0,1076.2 1499.2,1076.4 1500.4,1076.1 1501.6,1076.0 1502.8,1075.9 1504.0,1075.4 1505.2,1075.0 1506.4,1075.2 1507.6,1075.5 1508.8,1075.5 1509.9,1075.6 1511.1,1075.4 1512.3,1074.9 1513.5,1075.0 1514.7,1075.3 1515.9,1075.1 1517.1,1074.5 1518.3,1074.3 1519.5,1074.6 1520.7,1074.4 1521.9,1074.0 1523.0,1073.7 1524.2,1073.5 1525.4,1073.6 1526.6,1073.5 1527.8,1072.9 1529.0,1072.6 1530.2,1072.2 1531.4,1072.1 1532.5,1072.2 1533.7,1071.6 1534.9,1071.1 1536.1,1071.0 1537.3,1071.1 1538.5,1071.4 1539.6,1071.4 1540.8,1071.0 1542.0,1070.6 1543.2,1070.5 1544.4,1070.7 1545.6,1070.2 1546.7,1069.6 1547.9,1069.6 1549.1,1069.4 1550.3,1068.9 1551.5,1068.5 1552.7,1068.9 1553.8,1068.8 1555.0,1068.1 1556.2,1067.7 1557.4,1068.0 1558.6,1067.8 1559.7,1066.9 1560.9,1066.6 1562.1,1066.7 1563.3,1066.5 1564.5,1066.3 1565.6,1066.4 1566.8,1066.5 1568.0,1066.4 1569.2,1066.3 1570.4,1065.8 1571.5,1064.8 1572.7,1064.2 1573.9,1064.6 1575.1,1064.8 1576.2,1064.5 1577.4,1064.3 1578.6,1064.1 1579.8,1063.6 1581.0,1063.6 1582.1,1063.7 1583.3,1063.6 1584.5,1063.5 1585.7,1063.0 1586.9,1062.5 1588.0,1062.2 1589.2,1062.2 1590.4,1062.1 1591.6,1061.7 1592.8,1060.8 1594.0,1060.4 1595.1,1060.8 1596.3,1060.6 1597.5,1059.9 1598.7,1059.7 1599.9,1059.9 1601.0,1060.0 1602.2,1060.0 1603.4,1059.8 1604.6,1059.5 1605.8,1059.4 1607.0,1059.3 1608.2,1059.2 1609.3,1059.1 1610.5,1058.6 1611.7,1057.8 1612.9,1057.4 1614.1,1057.4 1615.3,1057.3 1616.5,1057.2 1617.6,1057.1 1618.8,1056.8 1620.0,1056.5 1621.2,1056.1 1622.4,1056.4 1623.6,1056.8 1624.8,1056.6 1626.0,1056.2 1627.2,1055.6 1628.3,1055.5 1629.5,1056.0 1630.7,1056.2 1631.9,1055.8 1633.1,1055.5 1634.3,1055.3 1635.5,1055.0 1636.7,1055.0 1637.9,1054.7 1639.0,1054.4 1640.2,1054.6 1641.4,1054.5 1642.6,1054.0 1643.8,1053.2 1645.0,1052.9 1646.2,1053.2 1647.4,1053.6 1648.6,1053.7 1649.8,1053.3 1650.9,1052.9 1652.1,1052.8 1653.3,1052.6 1654.5,1052.4 1655.7,1052.2 1656.9,1051.9 1658.1,1051.6 1659.3,1051.2 1660.5,1051.1 1661.6,1051.3 1662.8,1051.2 1664.0,1051.1 1665.2,1050.9 1666.4,1050.9 1667.6,1051.0 1668.8,1050.6 1670.0,1049.9 1671.1,1049.7 1672.3,1049.4 1673.5,1049.3 1674.7,1049.5 1675.9,1049.0 1677.1,1048.2 1678.2,1048.4 1679.4,1048.8 1680.6,1049.0 1681.8,1048.8 1683.0,1048.3 1684.1,1048.1 1685.3,1048.5 1686.5,1048.0 1687.7,1047.2 1688.9,1046.7 1690.0,1046.2 1691.2,1045.7 1692.4,1045.5 1693.6,1045.5 1694.7,1045.1 1695.9,1045.1 1697.1,1045.6 1698.2,1045.3 1699.4,1044.2 1700.6,1043.6 1701.7,1043.3 1702.9,1042.8 1704.1,1042.8 1705.2,1043.2 1706.4,1043.1 1707.6,1042.7 1708.7,1042.4 1709.9,1041.8 1711.0,1041.2 1712.2,1041.3 1713.3,1041.3 1714.5,1040.7 1715.6,1040.3 1716.8,1039.8 1717.9,1038.9 1719.1,1038.2 1720.2,1038.1 1721.4,1038.2" stroke="#ff1414" stroke-width="2.5"/>
<polyline points="187.2,884.6 187.6,883.1 188.0,881.4 188.3,880.5 188.7,879.6 189.1,878.3 189.4,877.2 189.8,876.2 190.1,874.9 190.5,873.8 190.9,872.9 191.2,871.8 191.6,870.4 191.9,869.4 192.3,868.4 192.6,866.9 193.0,865.5 193.3,864.7 193.7,863.8 194.0,861.9 194.3,860.0 194.7,859.2 195.0,859.0 195.4,858.7 195.7,857.6 196.0,856.1 196.4,854.8 196.7,853.5 197.0,852.2 197.4,850.9 197.7,849.6 198.0,848.3 198.4,847.2 198.7,846.3 199.0,845.4 199.4,844.2 199.7,842.8 200.0,841.7 200.3,840.6 200.7,839.3 201.0,838.1 201.3,836.8 201.6,835.3 202.0,834.2 202.3,833.1 202.6,832.1 202.9,831.1 203.2,830.1 203.6,829.1 203.9,827.7 204.2,826.5 204.5,825.4 204.8,824.2 205.1,823.3 205.5,822.3 205.8,821.3 206.1,820.5 206.4,819.1 206.7,817.3 207.0,815.9 207.4,814.7 207.7,813.8 208.0,812.8 208.3,811.4 208.6,810.1 208.9,809.1 209.3,808.0 209.6,806.5 209.9,805.3 210.2,804.5 210.5,803.5 210.8,802.4 211.2,801.2 211.5,800.2 211.8,799.4 212.1,798.2 212.4,796.4 212.7,795.1 213.1,793.7 213.4,792.9 213.7,792.6 214.0,791.2 214.3,789.1 214.6,787.9 215.0,786.8 215.3,785.3 215.6,784.6 215.9,783.9 216.3,782.4 216.6,781.0 216.9,780.3 217.2,779.3 217.6,777.8 217.9,776.6 218.2,775.9 218.5,774.8 218.9,773.3 219.2,772.2 219.5,771.0 219.9,769.4 220.2,768.1 220.5,766.8 220.9,765.9 221.2,765.2 221.5,764.1 221.9,762.7 222.2,761.8 222.5,761.0 222.9,759.7 223.2,758.2 223.6,757.1 223.9,756.3 224.2,755.5 224.6,753.8 224.9,752.3 225.3,751.2 225.6,750.1 226.0,749.2 226.3,747.8 226.7,746.3 227.1,745.0 227.4,744.2 227.8,744.0 228.1,743.5 228.5,742.0 228.9,740.5 229.2,739.3 229.6,738.2 230.0,737.2 230.3,735.9 230.7,734.1 231.1,732.6 231.4,731.6 231.8,730.6 232.2,729.3 232.6,728.5 232.9,727.8 233.3,726.8 233.7,726.0 234.1,724.8 234.5,722.8 234.9,721.2 235.2,720.3 235.6,719.4 236.0,718.6 236.4,717.6 236.8,715.9 237.2,714.7 237.6,714.0 238.0,713.2 238.4,711.9 238.8,710.8 239.2,709.8 239.5,708.5 239.9,707.0 240.3,705.7 240.7,704.6 241.1,703.8 241.5,702.4 241.9,700.7 242.3,700.1 242.8,699.3 243.2,698.2 243.6,696.7 244.0,694.9 244.4,693.7 244.8,693.0 245.2,692.0 245.6,691.0 246.0,689.6 246.4,688.4 246.8,687.9 247.2,687.2 247.6,685.8 248.0,684.2 248.5,683.2 248.9,682.4 249.3,681.5 249.7,680.3 250.1,678.6 250.5,677.0 250.9,676.1 251.3,675.6 251.7,674.9 252.2,674.0 252.6,672.4 253.0,670.9 253.4,669.7 253.8,668.6 254.2,667.7 254.6,666.6 255.1,665.1 255.5,663.7 255.9,662.7 256.3,661.9 256.7,661.2 257.1,660.0 257.5,658.5 258.0,657.5 258.4,656.3 258.8,655.3 259.2,654.2 259.6,652.7 260.0,651.4 260.4,649.9 260.8,648.8 261.3,648.4 261.7,647.3 262.1,645.6 262.5,644.2 262.9,643.7 263.3,643.1 263.7,641.9 264.1,640.3 264.5,639.1 264.9,637.9 265.4,636.8 265.8,636.2 266.2,635.4 266.6,634.1 267.0,632.7 267.4,631.7 267.8,630.4 268.2,628.8 268.6,627.9 269.0,626.9 269.4,625.6 269.8,624.5 270.2,623.6 270.6,622.3 271.0,621.0 271.4,620.2 271.8,619.2 272.2,618.0 272.6,616.9 273.0,615.7 273.4,614.3 273.8,612.9 274.2,612.0 274.6,611.0 274.9,609.5 275.3,608.4 275.7,607.0 276.1,605.6 276.5,604.7 276.9,604.1 277.3,603.0 277.6,601.8 278.0,601.3 278.4,600.3 278.8,598.6 279.2,597.1 279.5,596.0 279.9,595.2 280.3,594.3 280.7,593.2 281.0,591.8 281.4,590.6 281.8,589.4 282.1,588.3 282.5,587.7 282.9,586.5 283.2,584.9 283.6,583.3 284.0,582.2 284.3,581.2 284.7,580.2 285.1,579.3 285.4,578.1 285.8,576.7 286.1,575.6 286.5,574.6 286.9,573.2 287.2,571.7 287.6,570.7 287.9,570.1 288.3,569.0 288.6,567.7 289.0,566.8 289.3,565.4 289.7,563.9 290.1,563.1 290.4,562.3 290.8,561.4 291.1,560.5 291.5,559.1 291.8,557.7 292.2,556.5 292.5,555.0 292.9,553.2 293.2,552.0 293.6,551.4 293.9,550.6 294.3,549.6 294.6,548.6 295.0,547.4 295.3,546.0 295.7,544.7 296.0,543.7 296.4,542.9 296.7,541.8 297.1,540.5 297.4,538.9 297.8,537.5 298.1,536.5 298.5,535.8 298.8,535.0 299.2,533.7 299.5,532.0 299.9,530.9 300.2,530.2 300.6,529.0 300.9,527.8 301.3,526.6 301.6,525.6 302.0,524.5 302.3,523.0 302.7,521.6 303.0,520.3 303.4,519.5 303.7,518.7 304.1,517.3 304.4,516.0 304.8,514.9 305.2,513.6 305.5,512.3 305.9,511.1 306.2,510.1 306.6,509.3 306.9,507.8 307.3,506.2 307.7,505.4 308.0,504.6 308.4,503.5 308.8,502.7 309.1,501.7 309.5,500.4 309.9,499.6 310.2,498.2 310.6,496.4 311.0,495.6 311.3,494.6 311.7,493.3 312.1,492.3 312.4,491.0 312.8,489.9 313.2,489.0 313.6,487.9 314.0,486.7 314.3,485.0 314.7,483.5 315.1,482.7 315.5,481.5 315.9,479.9 316.2,478.8 316.6,478.5 317.0,478.0 317.4,476.8 317.8,475.4 318.2,474.0 318.6,472.8 319.0,471.7 319.4,470.6 319.8,469.1 320.2,467.6 320.6,466.8 321.0,465.9 321.4,464.7 321.8,464.0 322.2,463.4 322.6,461.8 323.0,460.1 323.5,458.8 323.9,457.5 324.3,456.8 324.7,456.0 325.1,454.6 325.6,453.0 326.0,452.0 326.4,451.2 326.8,450.2 327.3,449.1 327.7,447.8 328.1,446.7 328.6,445.9 329.0,444.6 329.4,443.4 329.9,442.4 330.3,441.4 330.7,440.2 331.2,439.0 331.6,437.9 332.0,436.9 332.5,435.9 332.9,434.8 333.4,433.6 333.8,431.8 334.2,430.5 334.7,429.7 335.1,428.9 335.6,427.7 336.0,426.4 336.4,425.5 336.9,424.4 337.3,422.9 337.8,422.3 338.2,421.7 338.7,420.1 339.1,418.5 339.5,417.4 340.0,416.4 340.4,414.8 340.9,413.5 341.3,413.2 341.7,412.2 342.2,411.1 342.6,410.3 343.0,409.0 343.5,407.6 343.9,406.6 344.3,405.7 344.8,404.6 345.2,403.4 345.6,402.5 346.1,401.3 346.5,399.7 346.9,398.4 347.4,397.7 347.8,396.7 348.2,395.3 348.7,394.1 349.1,393.3 349.6,392.4 350.0,391.5 350.5,390.6 351.0,389.7 351.5,388.1 352.0,386.3 352.5,385.3 353.1,384.1 353.7,382.9 354.2,382.3 354.8,381.4 355.5,380.2 356.1,378.9 356.8,377.8 357.5,376.9 358.2,376.0 359.0,375.1 359.8,374.0 360.6,373.1 361.5,372.7 362.4,372.2 363.3,371.5 364.3,371.0 365.3,370.4 366.4,369.6 367.5,369.0 368.6,368.2 369.8,367.7 370.9,367.6 372.1,367.9 373.3,368.0 374.5,367.5 375.7,367.4 376.9,368.0 378.1,368.0 379.3,367.9 380.4,368.7 381.6,369.3 382.7,369.7 383.8,370.5 384.9,370.9 386.1,370.9 387.2,371.0 388.2,371.2 389.3,371.8 390.4,372.7 391.5,373.4 392.5,374.0 393.5,374.6 394.6,375.0 395.6,375.4 396.6,376.1 397.6,376.8 398.6,377.5 399.6,378.3 400.5,379.4 401.5,380.5 402.4,380.8 403.3,381.2 404.2,382.1 405.1,382.9 406.0,383.8 406.9,384.6 407.8,385.5 408.6,386.5 409.5,387.2 410.3,387.7 411.2,388.8 412.0,390.3 412.8,391.5 413.6,392.0 414.3,392.6 415.1,393.7 415.9,394.4 416.6,395.3 417.3,396.5 418.1,397.3 418.8,398.0 419.5,398.9 420.2,399.7 420.9,400.7 421.5,401.8 422.2,403.0 422.9,403.8 423.5,404.6 424.1,405.8 424.8,407.0 425.4,408.2 426.0,409.4 426.6,410.2 427.2,410.9 427.8,411.8 428.4,412.9 428.9,413.8 429.5,414.7 430.0,415.9 430.6,416.8 431.1,417.8 431.7,419.0 432.2,420.1 432.7,421.2 433.2,422.5 433.7,424.0 434.2,425.2 434.7,426.1 435.2,427.6 435.7,428.9 436.1,429.8 436.6,430.7 437.0,431.9 437.5,433.2 437.9,434.3 438.4,435.2 438.8,436.6 439.2,438.0 439.7,439.1 440.1,439.9 440.5,440.7 440.9,441.8 441.3,443.0 441.7,444.1 442.1,445.3 442.5,446.5 442.8,447.5 443.2,448.6 443.6,449.8 443.9,450.9 444.3,451.9 444.7,453.1 445.0,454.1 445.4,454.9 445.7,455.9 446.0,457.3 446.4,458.9 446.7,460.6 447.0,462.0 447.3,463.1 447.7,464.0 448.0,464.9 448.3,466.2 448.6,467.2 448.9,468.0 449.2,469.3 449.5,470.3 449.8,471.4 450.1,472.9 450.3,473.9 450.6,475.1 450.9,476.4 451.2,477.1 451.5,478.4 451.7,480.6 452.0,482.2 452.3,482.9 452.5,483.6 452.8,484.8 453.0,486.2 453.3,486.7 453.6,487.1 453.8,488.9 454.1,490.4 454.3,491.5 454.6,493.0 454.8,494.3 455.1,495.0 455.3,496.1 455.5,497.5 455.8,499.1 456.0,500.2 456.3,501.0 456.5,502.2 456.8,503.4 457.0,504.7 457.2,506.1 457.5,507.8 457.7,509.3 457.9,510.0 458.2,510.9 458.4,511.8 458.7,512.8 458.9,514.2 459.1,515.7 459.4,516.8 459.6,517.7 459.8,519.0 460.1,520.6 460.3,521.9 460.5,522.7 460.7,523.7 461.0,524.7 461.2,525.6 461.4,526.9 461.7,528.2 461.9,529.3 462.1,530.5 462.4,532.0 462.6,533.2 462.8,534.5 463.0,536.1 463.3,537.1 463.5,537.8 463.7,538.4 463.9,539.2 464.2,540.5 464.4,541.9 464.6,543.1 464.8,544.8 465.1,546.5 465.3,547.4 465.5,548.0 465.7,549.1 466.0,550.6 466.2,552.1 466.4,553.5 466.6,554.6 466.9,555.8 467.1,556.8 467.3,557.7 467.5,558.9 467.7,560.2 468.0,561.0 468.2,561.5 468.4,562.5 468.6,564.0 468.9,565.5 469.1,566.9 469.3,568.3 469.5,569.5 469.8,570.7 470.0,571.9 470.2,573.3 470.4,574.4 470.6,574.9 470.9,575.6 471.1,577.2 471.3,578.8 471.5,579.8 471.8,580.7 472.0,581.7 472.2,583.0 472.4,584.2 472.7,585.3 472.9,586.7 473.1,588.2 473.3,589.4 473.6,590.5 473.8,591.8 474.0,593.4 474.3,594.5 474.5,595.2 474.7,596.2 474.9,597.7 475.2,599.1 475.4,600.0 475.6,600.9 475.9,602.6 476.1,603.9 476.3,604.7 476.6,605.6 476.8,606.9 477.0,608.0 477.2,609.4 477.5,611.0 477.7,612.4 478.0,613.6 478.2,614.3 478.4,615.1 478.7,616.5 478.9,618.1 479.1,619.4 479.4,620.5 479.6,621.8 479.8,623.1 480.1,624.0 480.3,624.6 480.6,625.2 480.8,626.1 481.1,627.5 481.3,628.9 481.5,630.1 481.8,631.8 482.0,633.4 482.3,634.0 482.5,634.8 482.8,636.4 483.0,637.6 483.3,638.6 483.5,639.6 483.8,640.7 484.0,642.3 484.3,643.6 484.5,644.6 484.8,646.0 485.0,647.2 485.3,648.3 485.6,649.4 485.8,650.4 486.1,651.7 486.3,652.9 486.6,654.1 486.9,655.4 487.1,656.2 487.4,656.8 487.6,657.8 487.9,659.3 488.2,661.0 488.4,662.7 488.7,664.0 489.0,665.0 489.3,665.8 489.5,666.9 489.8,668.4 490.1,669.3 490.3,670.0 490.6,671.4 490.9,673.3 491.2,674.5 491.4,675.4 491.7,677.0 492.0,678.2 492.3,678.8 492.5,679.9 492.8,681.5 493.1,682.3 493.4,683.0 493.6,684.2 493.9,685.4 494.2,686.6 494.5,688.0 494.8,688.9 495.0,689.6 495.3,690.7 495.6,692.0 495.9,693.3 496.2,694.7 496.5,696.1 496.7,697.2 497.0,698.2 497.3,699.5 497.6,700.9 497.9,702.3 498.2,703.6 498.5,704.3 498.7,705.5 499.0,706.9 499.3,707.5 499.6,708.3 499.9,709.6 500.2,711.0 500.5,712.4 500.8,713.8 501.0,715.0 501.3,715.7 501.6,716.9 501.9,717.9 502.2,718.6 502.5,720.0 502.8,721.4 503.1,722.7 503.3,724.3 503.6,725.6 503.9,726.8 504.2,728.1 504.5,728.9 504.8,729.8 505.1,730.9 505.4,731.9 505.7,733.3 505.9,734.7 506.2,736.0 506.5,737.3 506.8,738.4 507.1,739.4 507.4,740.1 507.7,741.5 508.0,743.1 508.3,743.9 508.5,744.5 508.8,745.5 509.1,746.7 509.4,748.1 509.7,749.2 510.0,749.9 510.3,751.1 510.5,752.4 510.8,753.6 511.1,754.9 511.4,756.3 511.7,757.7 512.0,758.8 512.3,760.0 512.5,761.6 512.8,762.8 513.1,763.8 513.4,764.7 513.7,765.7 513.9,767.5 514.2,769.1 514.5,769.6 514.8,770.1 515.1,770.9 515.3,772.1 515.6,773.7 515.9,775.3 516.2,776.8 516.5,778.0 516.7,779.2 517.0,780.6 517.3,781.7 517.6,782.6 517.8,783.9 518.1,784.9 518.4,785.5 518.7,786.6 518.9,788.2 519.2,789.0 519.5,789.8 519.7,791.5 520.0,793.1 520.3,794.4 520.5,795.7 520.8,796.3 521.1,797.1 521.3,798.7 521.6,800.2 521.9,801.4 522.1,802.6 522.4,803.5 522.6,804.5 522.9,805.7 523.2,806.8 523.4,808.0 523.7,809.3 523.9,810.5 524.2,811.5 524.4,812.4 524.7,813.5 524.9,814.6 525.2,816.0 525.4,817.6 525.7,818.7 526.0,819.6 526.2,820.6 526.5,822.1 526.7,823.8 527.0,824.9 527.2,825.7 527.4,827.0 527.7,827.9 527.9,828.7 528.2,829.6 528.4,830.8 528.7,832.7 528.9,834.6 529.2,835.7 529.4,836.4 529.7,837.2 529.9,838.5 530.2,839.9 530.4,840.9 530.6,841.8 530.9,843.4 531.1,844.8 531.4,845.8 531.6,846.5 531.9,847.4 532.1,848.9 532.3,850.3 532.6,851.4 532.8,852.7 533.1,853.9 533.3,855.1 533.5,856.2 533.8,857.1 534.0,858.0 534.3,859.3 534.5,860.9 534.8,862.3 535.0,863.5 535.2,864.7 535.5,866.0 535.7,867.4 536.0,868.2 536.2,869.1 536.5,870.2 536.7,871.2 536.9,872.4 537.2,873.9 537.4,875.1 537.7,876.6 537.9,877.9 538.2,878.7 538.4,879.7 538.7,881.1 538.9,882.5 539.2,883.4 539.4,884.4 539.6,885.8 539.9,886.6 540.1,887.5 540.4,889.1 540.6,890.4 540.9,891.5 541.1,893.1 541.4,894.5 541.6,895.4 541.9,896.3 542.1,897.2 542.4,898.4 542.7,900.0 542.9,901.5 543.2,902.6 543.4,903.3 543.7,904.5 543.9,905.6 544.2,906.1 544.4,907.3 544.7,909.1 545.0,910.3 545.2,911.4 545.5,912.7 545.8,913.4 546.0,914.4 546.3,916.0 546.5,917.5 546.8,918.8 547.1,920.0 547.3,921.0 547.6,922.0 547.9,923.1 548.2,924.3 548.4,925.6 548.7,926.8 549.0,927.7 549.2,928.8 549.5,930.0 549.8,931.0 550.1,931.8 550.4,933.1 550.6,934.5 550.9,936.1 551.2,937.3 551.5,938.4 551.8,939.7 552.1,940.8 552.3,941.4 552.6,942.2 552.9,944.0 553.2,945.7 553.5,946.7 553.8,947.7 554.1,948.6 554.4,950.0 554.7,951.7 555.0,952.5 555.3,953.3 555.6,954.9 555.9,956.1 556.2,956.8 556.5,957.5 556.8,958.9 557.1,960.4 557.5,961.4 557.8,962.3 558.1,963.9 558.4,965.4 558.7,966.4 559.1,967.8 559.4,969.1 559.7,969.8 560.1,970.9 560.4,972.5 560.7,973.8 561.1,974.5 561.4,975.2 561.8,976.6 562.1,977.9 562.5,979.3 562.8,980.5 563.2,981.4 563.5,982.5 563.9,983.0 564.3,984.0 564.6,985.5 565.0,986.9 565.4,988.2 565.8,989.3 566.2,990.0 566.5,991.2 566.9,992.4 567.3,993.3 567.7,994.5 568.1,996.0 568.5,997.1 568.9,998.3 569.4,999.6 569.8,1000.6 570.2,1001.2 570.6,1002.0 571.0,1003.2 571.5,1004.4 571.9,1005.4 572.4,1006.7 572.8,1007.4 573.3,1008.3 573.7,1010.5 574.2,1012.2 574.6,1013.1 575.1,1013.9 575.6,1014.6 576.1,1015.3 576.5,1016.5 577.0,1017.6 577.5,1018.6 578.0,1019.8 578.5,1021.7 579.0,1023.4 579.5,1024.2 580.0,1025.2 580.6,1026.5 581.1,1027.7 581.6,1028.4 582.2,1028.9 582.7,1030.3 583.3,1031.4 583.8,1032.1 584.4,1033.1 584.9,1034.0 585.5,1035.5 586.1,1037.0 586.7,1037.6 587.3,1038.2 587.9,1039.4 588.5,1040.9 589.1,1042.1 589.7,1042.9 590.3,1043.6 590.9,1044.6 591.6,1046.1 592.2,1047.6 592.8,1048.2 593.5,1049.0 594.2,1050.1 594.8,1051.3 595.5,1052.3 596.2,1053.2 596.9,1054.1 597.5,1054.9 598.2,1055.9 598.9,1057.0 599.7,1057.6 600.4,1058.5 601.1,1059.5 601.8,1060.6 602.6,1062.0 603.3,1063.3 604.1,1063.7 604.8,1063.9 605.6,1065.1 606.3,1066.3 607.1,1067.2 607.9,1068.4 608.7,1069.6 609.5,1070.2 610.3,1070.4 611.1,1071.2 611.9,1072.1 612.8,1072.9 613.6,1074.1 614.4,1075.1 615.3,1075.9 616.1,1076.7 617.0,1077.7 617.9,1078.9 618.7,1079.5 619.6,1079.8 620.5,1080.6 621.4,1081.6 622.3,1082.8 623.2,1083.9 624.1,1084.5 625.0,1084.8 626.0,1085.4 626.9,1086.4 627.8,1087.1 628.8,1087.8 629.7,1088.7 630.7,1089.0 631.6,1088.8 632.6,1089.3 633.6,1090.9 634.6,1092.6 635.5,1093.4 636.5,1093.7 637.5,1094.0 638.5,1094.8 639.5,1095.6 640.5,1096.3 641.5,1097.4 642.5,1098.3 643.6,1098.6 644.6,1098.7 645.6,1099.2 646.6,1100.0 647.6,1100.4 648.7,1101.0 649.7,1101.9 650.7,1102.4 651.7,1103.0 652.8,1103.7 653.8,1104.4 654.8,1105.3 655.9,1106.0 656.9,1106.6 657.9,1107.0 659.0,1107.5 660.0,1108.5 661.0,1109.0 662.1,1109.0 663.1,1109.5 664.1,1110.3 665.2,1111.2 666.2,1112.2 667.2,1113.0 668.2,1112.9 669.3,1113.5 670.3,1114.7 671.3,1115.2 672.3,1115.5 673.4,1116.1 674.4,1116.8 675.4,1117.6 676.4,1118.6 677.4,1119.1 678.4,1119.0 679.4,1119.6 680.4,1120.5 681.4,1121.0 682.3,1121.8 683.3,1122.8 684.3,1123.2 685.3,1123.8 686.2,1124.5 687.2,1125.4 688.1,1126.6 689.1,1126.7 690.0,1126.9 691.0,1128.1 691.9,1129.2 692.8,1130.4 693.7,1131.1 694.6,1131.1 695.5,1131.6 696.4,1133.0 697.3,1134.5 698.2,1135.4 699.1,1136.1 700.1,1136.6 701.0,1136.9 701.9,1137.4 702.8,1138.6 703.8,1139.7 704.7,1140.4 705.7,1141.0 706.7,1142.1 707.7,1142.9 708.7,1143.1 709.7,1143.7 710.7,1144.5 711.8,1145.3 712.9,1145.8 714.0,1145.7 715.1,1145.8 716.2,1146.6 717.3,1146.9 718.5,1146.9 719.7,1147.2 720.8,1147.8 722.0,1148.6 723.2,1148.8 724.4,1148.6 725.6,1148.3 726.8,1147.8 728.0,1147.7 729.2,1147.8 730.4,1148.1 731.6,1148.4 732.8,1148.1 734.0,1148.2 735.2,1148.6 736.4,1148.6 737.6,1148.4 738.7,1147.4 739.9,1146.5 741.1,1146.6 742.2,1146.2 743.4,1145.5 744.6,1145.0 745.7,1145.1 746.9,1145.2 748.0,1144.9 749.1,1144.6 750.2,1144.1 751.4,1143.5 752.5,1143.3 753.6,1142.7 754.7,1141.7 755.8,1141.1 756.9,1140.5 758.0,1140.3 759.0,1139.9 760.1,1139.5 761.2,1139.1 762.3,1138.0 763.3,1137.7 764.4,1137.5 765.4,1137.2 766.5,1137.0 767.6,1136.0 768.6,1134.7 769.7,1134.1 770.7,1134.0 771.8,1133.8 772.8,1133.3 773.9,1132.5 774.9,1131.9 776.0,1131.4 777.1,1130.8 778.1,1130.5 779.2,1130.3 780.3,1129.7 781.4,1129.0 782.5,1128.4 783.6,1127.5 784.6,1126.7 785.7,1126.2 786.9,1126.1 788.0,1126.0 789.1,1125.5 790.2,1125.0 791.3,1124.6 792.4,1123.5 793.6,1122.8 794.7,1122.9 795.8,1122.9 797.0,1122.4 798.1,1121.8 799.2,1121.4 800.4,1120.7 801.5,1120.3 802.7,1120.4 803.8,1119.9 805.0,1119.0 806.1,1118.5 807.3,1118.5 808.4,1118.5 809.6,1118.2 810.8,1117.8 811.9,1117.4 813.1,1117.3 814.3,1117.2 815.4,1116.6 816.6,1116.1 817.8,1116.0 818.9,1116.2 820.1,1115.9 821.3,1115.3 822.5,1114.7 823.6,1114.6 824.8,1114.9 826.0,1114.9 827.2,1114.3 828.3,1113.6 829.5,1113.7 830.7,1113.8 831.9,1113.7 833.1,1113.4 834.2,1112.9 835.4,1112.9 836.6,1113.1 837.8,1112.8 839.0,1112.1 840.2,1111.8 841.4,1111.9 842.5,1111.7 843.7,1111.7 844.9,1111.8 846.1,1111.6 847.3,1111.5 848.5,1111.2 849.7,1110.8 850.9,1110.9 852.1,1110.5 853.3,1110.1 854.5,1110.3 855.7,1110.5 856.8,1110.3 858.0,1110.1 859.2,1110.1 860.4,1109.7 861.6,1109.7 862.8,1110.1 864.0,1110.0 865.2,1110.0 866.4,1110.1 867.6,1109.3 868.8,1108.8 870.0,1109.0 871.2,1109.1 872.4,1108.9 873.6,1108.7 874.8,1108.6 876.0,1108.8 877.2,1108.9 878.4,1108.8 879.6,1108.9 880.8,1109.0 882.0,1109.3 883.2,1109.5 884.4,1109.2 885.6,1109.0 886.8,1109.2 888.0,1109.1 889.2,1108.9 890.4,1108.9 891.6,1108.9 892.8,1108.5 894.0,1108.7 895.2,1109.0 896.4,1109.4 897.6,1109.7 898.8,1109.6 900.0,1109.4 901.2,1109.5 902.4,1109.9 903.6,1109.9 904.8,1109.6 906.0,1109.5 907.2,1109.5 908.4,1109.6 909.6,1109.7 910.8,1110.0 912.0,1110.4 913.2,1110.5 914.4,1110.7 915.5,1111.3 916.7,1111.4 917.9,1111.1 919.1,1111.1 920.3,1111.3 921.5,1111.3 922.7,1111.5 923.9,1111.8 925.1,1111.4 926.3,1111.2 927.5,1111.9 928.7,1112.6 929.9,1112.5 931.1,1112.5 932.3,1112.8 933.5,1112.8 934.6,1113.0 935.8,1112.8 937.0,1112.6 938.2,1113.2 939.4,1113.6 940.6,1113.7 941.8,1113.9 943.0,1114.1 944.2,1114.1 945.4,1114.3 946.6,1114.3 947.8,1114.2 949.0,1113.9 950.2,1113.7 951.4,1113.8 952.6,1114.2 953.8,1114.1 955.0,1114.0 956.2,1114.1 957.4,1113.8 958.6,1113.4 959.8,1113.7 961.0,1114.1 962.2,1114.1 963.4,1114.6 964.6,1114.7 965.8,1114.3 967.0,1114.2 968.2,1114.4 969.4,1114.5 970.6,1114.6 971.8,1114.8 973.0,1114.9 974.2,1114.6 975.4,1114.1 976.6,1113.9 977.8,1113.8 979.0,1113.3 980.1,1112.4 981.3,1112.7 982.5,1113.7 983.7,1113.7 984.9,1113.5 986.1,1113.1 987.3,1112.3 988.5,1111.9 989.6,1112.0 990.8,1111.7 992.0,1110.9 993.2,1110.7 994.4,1111.1 995.5,1111.0 996.7,1110.2 997.9,1110.4 999.0,1110.7 1000.2,1109.9 1001.4,1109.4 1002.5,1109.5 1003.7,1109.3 1004.9,1108.5 1006.0,1108.2 1007.2,1108.5 1008.3,1107.9 1009.5,1107.0 1010.7,1106.5 1011.8,1106.5 1013.0,1106.3 1014.1,1105.9 1015.2,1105.9 1016.4,1105.9 1017.5,1105.1 1018.7,1104.3 1019.8,1104.2 1021.0,1104.2 1022.1,1103.5 1023.2,1103.2 1024.4,1103.1 1025.5,1102.4 1026.6,1102.4 1027.7,1102.5 1028.9,1101.7 1030.0,1100.8 1031.1,1100.1 1032.2,1099.6 1033.4,1099.3 1034.5,1098.6 1035.6,1097.9 1036.7,1097.6 1037.8,1097.3 1038.9,1097.4 1040.0,1097.2 1041.2,1096.3 1042.3,1095.7 1043.4,1095.3 1044.5,1094.9 1045.6,1094.7 1046.7,1094.3 1047.8,1093.4 1048.9,1092.5 1050.0,1092.2 1051.1,1092.2 1052.2,1091.8 1053.3,1091.1 1054.4,1090.4 1055.5,1089.5 1056.6,1088.9 1057.7,1088.8 1058.8,1088.7 1059.8,1088.2 1060.9,1088.0 1062.0,1087.9 1063.1,1087.1 1064.2,1086.5 1065.3,1086.1 1066.4,1085.0 1067.5,1083.9 1068.5,1083.6 1069.6,1083.4 1070.7,1082.8 1071.8,1082.7 1072.9,1082.6 1073.9,1081.7 1075.0,1080.6 1076.1,1079.9 1077.2,1079.4 1078.3,1079.6 1079.3,1079.6 1080.4,1078.8 1081.5,1077.6 1082.6,1076.7 1083.6,1076.2 1084.7,1075.9 1085.8,1075.3 1086.9,1074.9 1088.0,1074.6 1089.0,1074.0 1090.1,1073.3 1091.2,1072.7 1092.2,1071.9 1093.3,1070.9 1094.4,1070.5 1095.5,1070.6 1096.5,1070.9 1097.6,1070.6 1098.7,1069.7 1099.8,1068.8 1100.8,1067.8 1101.9,1067.2 1103.0,1066.8 1104.1,1066.2 1105.1,1065.8 1106.2,1065.7 1107.3,1065.1 1108.4,1064.4 1109.4,1063.6 1110.5,1062.9 1111.6,1062.5 1112.7,1062.2 1113.8,1061.5 1114.8,1061.0 1115.9,1060.6 1117.0,1060.3 1118.1,1060.1 1119.2,1059.5 1120.2,1058.1 1121.3,1056.9 1122.4,1057.1 1123.5,1057.4 1124.6,1056.6 1125.7,1055.6 1126.7,1055.5 1127.8,1055.2 1128.9,1054.2 1130.0,1053.7 1131.1,1053.6 1132.2,1053.0 1133.3,1052.5 1134.4,1052.3 1135.5,1052.1 1136.6,1051.7 1137.7,1051.0 1138.7,1050.5 1139.8,1049.6 1140.9,1048.5 1142.0,1047.8 1143.1,1047.1 1144.2,1046.6 1145.3,1046.5 1146.4,1046.4 1147.6,1046.3 1148.7,1046.0 1149.8,1045.1 1150.9,1044.5 1152.0,1044.6 1153.1,1044.2 1154.2,1043.6 1155.3,1042.9 1156.4,1042.4 1157.5,1041.9 1158.6,1041.6 1159.8,1040.7 1160.9,1039.9 1162.0,1040.0 1163.1,1039.6 1164.2,1038.9 1165.4,1038.4 1166.5,1038.2 1167.6,1038.4 1168.7,1038.1 1169.9,1037.6 1171.0,1037.2 1172.1,1036.3 1173.3,1035.4 1174.4,1034.9 1175.5,1034.8 1176.6,1034.4 1177.8,1034.0 1178.9,1034.0 1180.1,1033.3 1181.2,1032.7 1182.3,1032.7 1183.5,1032.7 1184.6,1032.7 1185.8,1032.5 1186.9,1031.9 1188.1,1031.2 1189.2,1031.0 1190.4,1030.8 1191.5,1030.3 1192.7,1029.7 1193.8,1029.0 1195.0,1028.7 1196.1,1028.5 1197.3,1028.5 1198.4,1028.5 1199.6,1028.1 1200.8,1027.9 1201.9,1027.9 1203.1,1027.7 1204.3,1026.8 1205.4,1026.0 1206.6,1025.7 1207.8,1025.4 1208.9,1025.4 1210.1,1025.7 1211.3,1025.4 1212.4,1024.9 1213.6,1024.3 1214.8,1023.8 1216.0,1023.7 1217.1,1023.8 1218.3,1023.9 1219.5,1023.6 1220.7,1023.2 1221.9,1022.8 1223.1,1022.3 1224.2,1022.2 1225.4,1022.2 1226.6,1021.9 1227.8,1021.7 1229.0,1021.7 1230.2,1021.6 1231.4,1021.6 1232.5,1021.5 1233.7,1020.9 1234.9,1020.6 1236.1,1020.5 1237.3,1020.2 1238.5,1019.9 1239.7,1019.5 1240.9,1019.5 1242.1,1019.9 1243.3,1020.2 1244.5,1020.6 1245.7,1020.5 1246.8,1020.2 1248.0,1020.4 1249.2,1019.9 1250.4,1019.0 1251.6,1019.0 1252.8,1019.2 1254.0,1019.4 1255.2,1019.2 1256.4,1019.0 1257.6,1019.1 1258.8,1019.0 1260.0,1018.4 1261.2,1017.8 1262.4,1017.9 1263.6,1018.4 1264.8,1018.4 1266.0,1017.7 1267.2,1017.5 1268.4,1018.0 1269.6,1018.5 1270.8,1018.5 1272.0,1017.9 1273.2,1017.6 1274.4,1018.1 1275.6,1018.1 1276.8,1018.3 1278.0,1018.6 1279.2,1018.1 1280.4,1017.9 1281.6,1018.0 1282.8,1017.8 1284.0,1018.0 1285.2,1018.7 1286.4,1018.9 1287.6,1018.5 1288.8,1018.1 1290.0,1018.1 1291.2,1018.2 1292.4,1018.4 1293.6,1018.4 1294.8,1018.4 1296.0,1018.3 1297.2,1018.5 1298.4,1018.9 1299.6,1019.1 1300.8,1019.2 1302.0,1019.1 1303.2,1018.6 1304.4,1018.8 1305.6,1019.2 1306.8,1019.0 1308.0,1018.8 1309.2,1018.9 1310.4,1018.9 1311.6,1018.7 1312.8,1018.7 1314.0,1019.0 1315.2,1019.2 1316.4,1019.0 1317.6,1019.1 1318.8,1019.3 1320.0,1019.2 1321.2,1018.9 1322.4,1019.1 1323.6,1020.0 1324.8,1020.3 1326.0,1019.8 1327.2,1019.5 1328.4,1019.6 1329.5,1020.1 1330.7,1020.5 1331.9,1020.5 1333.1,1020.8 1334.3,1021.2 1335.5,1021.4 1336.7,1021.3 1337.9,1021.1 1339.1,1020.7 1340.3,1020.6 1341.5,1020.9 1342.7,1021.4 1343.9,1021.6 1345.1,1021.5 1346.3,1021.5 1347.5,1021.3 1348.7,1021.5 1349.9,1021.9 1351.1,1021.7 1352.3,1021.8 1353.5,1022.7 1354.7,1022.9 1355.9,1022.3 1357.0,1022.3 1358.2,1022.5 1359.4,1022.5 1360.6,1022.4 1361.8,1022.6 1363.0,1023.0 1364.2,1023.2 1365.4,1022.9 1366.6,1022.9 1367.8,1023.3 1369.0,1024.1 1370.2,1024.6 1371.4,1024.5 1372.6,1024.4 1373.8,1024.1 1375.0,1024.1 1376.2,1024.4 1377.4,1024.1 1378.5,1023.9 1379.7,1024.5 1380.9,1025.0 1382.1,1025.1 1383.3,1025.6 1384.5,1025.6 1385.7,1025.2 1386.9,1025.4 1388.1,1025.5 1389.3,1025.3 1390.5,1025.6 1391.7,1026.1 1392.9,1026.0 1394.1,1025.5 1395.3,1025.6 1396.5,1026.1 1397.7,1026.7 1398.9,1026.9 1400.0,1026.7 1401.2,1026.8 1402.4,1026.9 1403.6,1026.6 1404.8,1026.3 1406.0,1026.8 1407.2,1027.5 1408.4,1027.7 1409.6,1027.2 1410.8,1027.1 1412.0,1027.8 1413.2,1028.0 1414.4,1027.6 1415.6,1027.5 1416.8,1027.9 1418.0,1028.0 1419.2,1027.9 1420.4,1028.3 1421.6,1028.7 1422.8,1028.9 1424.0,1028.7 1425.2,1028.6 1426.4,1029.2 1427.6,1028.9 1428.8,1028.7 1430.0,1029.2 1431.2,1029.2 1432.4,1029.2 1433.6,1029.7 1434.8,1029.9 1436.0,1029.2 1437.2,1028.9 1438.3,1029.2 1439.5,1028.9 1440.7,1029.0 1441.9,1029.2 1443.1,1029.1 1444.3,1029.1 1445.5,1029.3 1446.7,1029.7 1447.9,1029.8 1449.1,1029.6 1450.3,1029.6 1451.5,1029.7 1452.7,1029.8 1453.9,1029.5 1455.1,1029.4 1456.3,1029.4 1457.5,1029.2 1458.7,1029.3 1459.9,1029.3 1461.1,1029.2 1462.3,1029.8 1463.5,1029.8 1464.7,1029.6 1465.9,1030.0 1467.1,1029.8 1468.3,1029.4 1469.5,1029.8 1470.7,1030.4 1471.9,1030.6 1473.1,1030.2 1474.3,1029.2 1475.5,1028.9 1476.7,1029.6 1477.9,1030.0 1479.1,1029.8 1480.3,1029.7 1481.5,1029.8 1482.7,1029.3 1483.9,1029.0 1485.1,1029.1 1486.3,1029.1 1487.5,1029.2 1488.7,1029.4 1489.9,1029.2 1491.1,1028.8 1492.3,1028.6 1493.5,1028.8 1494.7,1028.4 1495.9,1028.2 1497.1,1028.8 1498.3,1028.7 1499.5,1028.2 1500.7,1027.9 1501.9,1028.0 1503.1,1028.0 1504.3,1027.9 1505.5,1028.2 1506.7,1028.3 1507.9,1028.2 1509.1,1028.2 1510.3,1027.8 1511.5,1027.5 1512.7,1027.4 1513.9,1027.3 1515.1,1027.3 1516.2,1027.0 1517.4,1026.8 1518.6,1026.7 1519.8,1026.6 1521.0,1026.9 1522.2,1027.1 1523.4,1027.0 1524.6,1026.7 1525.8,1026.4 1527.0,1026.0 1528.2,1025.5 1529.4,1025.3 1530.6,1025.0 1531.8,1024.7 1533.0,1025.0 1534.2,1025.4 1535.4,1025.3 1536.6,1024.7 1537.7,1024.4 1538.9,1024.6 1540.1,1024.7 1541.3,1024.4 1542.5,1024.1 1543.7,1024.5 1544.9,1024.6 1546.1,1024.1 1547.3,1024.0 1548.5,1024.3 1549.7,1024.1 1550.9,1023.6 1552.1,1023.4 1553.3,1024.0 1554.5,1024.1 1555.7,1023.7 1556.8,1023.3 1558.0,1022.8 1559.2,1022.7 1560.4,1022.8 1561.6,1022.5 1562.8,1022.4 1564.0,1022.5 1565.2,1022.5 1566.4,1022.3 1567.6,1022.0 1568.8,1021.3 1570.0,1020.9 1571.2,1021.3 1572.4,1021.7 1573.6,1021.9 1574.8,1021.8 1576.0,1021.4 1577.1,1021.0 1578.3,1020.8 1579.5,1020.9 1580.7,1021.1 1581.9,1021.2 1583.1,1021.2 1584.3,1021.0 1585.5,1020.4 1586.7,1019.8 1587.9,1019.5 1589.1,1019.6 1590.3,1019.7 1591.5,1019.9 1592.7,1020.2 1593.9,1019.7 1595.1,1019.3 1596.3,1019.2 1597.4,1019.3 1598.6,1019.4 1599.8,1019.4 1601.0,1019.1 1602.2,1018.5 1603.4,1018.2 1604.6,1018.4 1605.8,1018.3 1607.0,1018.0 1608.2,1017.9 1609.4,1017.7 1610.6,1017.6 1611.8,1017.5 1613.0,1017.5 1614.2,1017.8 1615.4,1017.8 1616.6,1017.3 1617.8,1017.2 1618.9,1017.2 1620.1,1016.8 1621.3,1016.9 1622.5,1017.0 1623.7,1016.3 1624.9,1015.6 1626.1,1015.4 1627.3,1015.4 1628.5,1015.2 1629.7,1015.2 1630.9,1015.5 1632.1,1015.8 1633.3,1015.5 1634.5,1014.7 1635.7,1014.7 1636.9,1015.3 1638.1,1015.6 1639.3,1015.5 1640.4,1015.3 1641.6,1015.3 1642.8,1015.1 1644.0,1014.5 1645.2,1014.4 1646.4,1014.3 1647.6,1013.9 1648.8,1014.1 1650.0,1014.0 1651.2,1013.6 1652.4,1013.8 1653.6,1014.3 1654.8,1014.2 1656.0,1013.6 1657.2,1012.8 1658.4,1012.6 1659.6,1012.7 1660.8,1012.6 1661.9,1012.6 1663.1,1012.7 1664.3,1012.7 1665.5,1012.5 1666.7,1012.5 1667.9,1012.6 1669.1,1012.6 1670.3,1012.3 1671.5,1011.9 1672.7,1011.9 1673.9,1011.8 1675.1,1011.3 1676.3,1010.9 1677.5,1010.9 1678.7,1011.4 1679.9,1011.5 1681.1,1011.5 1682.3,1011.4 1683.5,1011.1 1684.6,1010.7 1685.8,1010.7 1687.0,1010.9 1688.2,1010.6 1689.4,1009.9 1690.6,1010.0 1691.8,1010.3 1693.0,1010.3 1694.2,1010.0 1695.4,1009.3 1696.6,1008.7 1697.8,1008.4 1699.0,1008.8 1700.2,1009.6 1701.4,1009.4 1702.6,1008.9 1703.8,1008.8 1705.0,1008.8 1706.2,1008.6 1707.4,1008.3 1708.5,1008.4 1709.7,1008.3 1710.9,1008.3 1712.1,1008.3 1713.3,1008.3 1714.5,1007.9 1715.7,1007.2 1716.9,1007.4 1718.1,1007.8 1719.3,1007.7 1720.5,1007.5 1721.7,1007.2" stroke="#dc1820" stroke-width="2.5"/>
<polyline points="187.3,905.8 187.8,904.5 188.3,903.9 188.8,903.4 189.2,902.5 189.7,901.3 190.2,899.7 190.7,898.3 191.2,897.2 191.7,896.4 192.2,895.9 192.7,894.5 193.2,892.5 193.7,891.6 194.2,890.6 194.7,889.4 195.2,888.6 195.7,887.3 196.2,885.9 196.7,884.9 197.2,884.0 197.7,883.4 198.2,882.3 198.7,880.7 199.2,879.5 199.7,878.4 200.2,877.3 200.7,876.3 201.2,875.3 201.7,874.5 202.2,873.6 202.7,872.3 203.2,871.1 203.7,870.3 204.2,869.4 204.7,868.3 205.2,867.1 205.7,865.7 206.2,863.9 206.7,862.4 207.2,862.2 207.7,862.2 208.2,860.6 208.7,859.0 209.2,858.1 209.7,857.1 210.2,856.1 210.7,854.9 211.2,853.3 211.7,852.3 212.2,851.5 212.7,850.3 213.2,849.1 213.7,848.1 214.2,847.3 214.7,846.2 215.2,845.0 215.7,844.0 216.2,842.6 216.7,841.2 217.2,840.4 217.7,839.3 218.2,837.6 218.7,836.0 219.2,835.5 219.7,835.1 220.2,834.2 220.7,833.5 221.2,832.8 221.7,831.2 222.2,829.5 222.7,828.5 223.2,827.7 223.7,826.8 224.2,825.7 224.7,824.4 225.2,823.3 225.7,822.6 226.2,821.6 226.7,820.0 227.2,818.8 227.7,817.9 228.2,816.6 228.7,815.3 229.2,814.5 229.7,813.8 230.2,812.4 230.8,810.6 231.3,809.8 231.8,808.8 232.3,807.5 232.8,807.2 233.3,806.5 233.8,804.8 234.3,803.8 234.8,803.0 235.3,801.6 235.8,800.1 236.3,799.3 236.8,798.7 237.3,797.3 237.8,796.1 238.3,795.2 238.8,794.4 239.3,793.6 239.9,792.3 240.4,790.5 240.9,789.0 241.4,788.0 241.9,786.6 242.4,785.5 242.9,784.5 243.4,783.4 243.9,782.5 244.4,781.9 244.9,781.0 245.4,779.7 245.9,778.6 246.5,777.9 247.0,776.5 247.5,774.6 248.0,773.9 248.5,773.3 249.0,772.2 249.5,771.2 250.0,770.4 250.5,769.5 251.0,767.8 251.5,766.2 252.0,765.2 252.6,764.1 253.1,763.0 253.6,761.8 254.1,760.8 254.6,760.2 255.1,759.1 255.6,757.6 256.1,756.5 256.6,755.5 257.1,754.1 257.6,753.1 258.2,752.1 258.7,751.0 259.2,750.4 259.7,749.1 260.2,747.8 260.7,747.1 261.2,746.3 261.7,745.0 262.2,743.6 262.8,742.5 263.3,741.7 263.8,740.9 264.3,739.9 264.8,738.5 265.3,737.5 265.8,736.5 266.3,735.2 266.8,734.2 267.4,733.3 267.9,732.1 268.4,730.7 268.9,729.4 269.4,728.3 269.9,727.5 270.4,726.4 270.9,724.9 271.5,723.9 272.0,723.3 272.5,722.3 273.0,721.0 273.5,719.8 274.0,718.9 274.5,717.9 275.0,716.7 275.6,715.4 276.1,714.3 276.6,713.2 277.1,711.9 277.6,710.5 278.1,709.2 278.6,708.5 279.2,708.0 279.7,707.2 280.2,706.0 280.7,704.3 281.2,703.4 281.7,702.7 282.2,701.0 282.8,699.8 283.3,699.2 283.8,698.4 284.3,697.0 284.8,695.7 285.3,695.1 285.8,694.7 286.4,693.5 286.9,691.7 287.4,690.2 287.9,689.5 288.4,689.0 288.9,687.7 289.5,685.8 290.0,684.7 290.5,684.4 291.0,683.4 291.5,681.7 292.0,680.8 292.6,680.4 293.1,679.0 293.6,677.2 294.1,676.1 294.6,675.4 295.1,674.3 295.7,673.3 296.2,672.5 296.7,671.2 297.2,669.6 297.7,668.8 298.2,668.0 298.8,666.7 299.3,665.6 299.8,664.4 300.3,663.4 300.8,662.9 301.3,662.0 301.9,660.5 302.4,659.0 302.9,658.0 303.4,657.3 303.9,656.5 304.5,655.0 305.0,653.2 305.5,652.2 306.0,651.7 306.5,650.6 307.1,649.2 307.6,648.1 308.1,647.2 308.6,646.6 309.1,645.7 309.6,644.2 310.2,642.9 310.7,642.0 311.2,641.2 311.7,639.8 312.2,638.8 312.8,637.8 313.3,636.1 313.8,634.9 314.3,634.2 314.8,633.3 315.3,632.4 315.9,630.9 316.4,629.3 316.9,628.4 317.4,627.3 317.9,626.1 318.4,625.4 319.0,624.4 319.5,622.9 320.0,621.8 320.5,621.3 321.0,620.6 321.5,619.4 322.1,617.9 322.6,616.9 323.1,616.3 323.6,615.0 324.1,613.5 324.6,612.8 325.2,612.0 325.7,610.8 326.2,609.8 326.7,608.4 327.2,606.7 327.7,605.7 328.2,605.0 328.7,603.8 329.3,602.3 329.8,601.0 330.3,599.7 330.8,598.7 331.3,598.1 331.8,597.1 332.3,595.9 332.8,595.1 333.3,593.7 333.8,592.2 334.4,591.1 334.9,590.4 335.4,589.6 335.9,588.6 336.4,587.6 336.9,586.8 337.4,585.9 337.9,584.4 338.4,582.6 338.9,581.1 339.4,580.7 339.9,580.2 340.4,579.0 340.9,577.9 341.4,576.8 342.0,575.8 342.5,574.6 343.0,573.3 343.5,572.1 344.0,571.3 344.6,570.7 345.1,570.1 345.7,568.8 346.2,567.2 346.8,566.0 347.4,565.1 347.9,563.7 348.5,562.5 349.1,561.6 349.8,560.5 350.4,559.4 351.0,558.6 351.7,557.5 352.3,556.2 353.0,555.6 353.7,555.2 354.4,554.4 355.1,553.2 355.9,552.0 356.6,551.0 357.4,550.0 358.2,549.0 359.0,548.1 359.8,547.5 360.6,546.7 361.5,545.7 362.4,544.3 363.3,543.5 364.2,543.3 365.2,542.9 366.1,542.1 367.1,541.2 368.1,540.7 369.1,540.2 370.1,539.4 371.2,538.6 372.2,537.6 373.3,537.2 374.4,537.1 375.5,536.6 376.6,536.0 377.7,535.4 378.8,535.0 380.0,534.3 381.1,533.8 382.3,533.9 383.5,534.2 384.7,534.0 385.9,533.6 387.1,533.1 388.2,533.2 389.4,533.6 390.6,533.6 391.8,533.1 393.0,533.2 394.2,534.2 395.4,534.0 396.6,533.5 397.8,533.7 399.0,534.1 400.1,534.5 401.3,534.7 402.5,535.3 403.6,535.7 404.7,536.0 405.9,536.6 407.0,536.9 408.1,537.2 409.2,537.7 410.3,538.3 411.3,538.9 412.4,539.4 413.4,540.2 414.5,541.0 415.5,541.7 416.5,542.5 417.5,543.2 418.5,543.7 419.5,544.3 420.4,544.8 421.4,545.5 422.3,546.7 423.2,547.4 424.1,547.8 425.0,548.4 425.9,549.5 426.7,550.5 427.6,551.1 428.4,552.0 429.2,552.7 430.0,553.6 430.7,555.1 431.5,555.9 432.2,556.3 432.9,557.8 433.6,558.9 434.3,559.2 435.0,560.1 435.7,561.2 436.3,562.4 436.9,563.8 437.5,564.9 438.1,565.4 438.7,566.7 439.3,568.6 439.8,569.8 440.4,570.2 440.9,570.9 441.5,572.0 442.0,572.8 442.5,574.0 443.0,575.6 443.5,576.7 443.9,577.5 444.4,578.3 444.9,579.3 445.3,580.4 445.8,581.6 446.2,583.0 446.7,584.1 447.1,585.2 447.5,586.5 447.9,587.3 448.4,588.1 448.8,589.4 449.2,590.8 449.6,592.0 450.0,593.1 450.4,594.5 450.8,595.4 451.3,595.9 451.7,597.5 452.1,599.9 452.5,600.8 452.9,601.2 453.3,602.5 453.7,603.4 454.0,604.1 454.4,605.4 454.8,607.0 455.2,608.7 455.6,610.0 456.0,611.0 456.4,611.8 456.8,612.6 457.1,613.4 457.5,614.8 457.9,616.3 458.3,616.9 458.7,617.7 459.0,619.3 459.4,620.4 459.8,621.6 460.1,622.6 460.5,623.4 460.9,624.8 461.2,626.1 461.6,627.0 462.0,628.4 462.3,629.6 462.7,630.8 463.1,632.2 463.4,633.1 463.8,633.7 464.1,634.9 464.5,636.5 464.8,637.6 465.2,638.5 465.5,639.7 465.9,641.0 466.2,642.0 466.6,643.1 466.9,644.5 467.2,646.2 467.6,647.5 467.9,648.1 468.3,649.1 468.6,650.2 468.9,651.4 469.3,652.8 469.6,654.1 470.0,655.3 470.3,656.3 470.6,657.1 470.9,657.7 471.3,658.2 471.6,659.8 471.9,661.9 472.3,663.3 472.6,664.4 472.9,665.4 473.2,666.7 473.6,667.8 473.9,668.3 474.2,669.3 474.5,670.6 474.8,672.1 475.2,673.5 475.5,674.1 475.8,674.8 476.1,676.1 476.4,677.3 476.7,678.7 477.0,680.4 477.4,681.8 477.7,682.9 478.0,683.9 478.3,685.0 478.6,686.2 478.9,687.1 479.2,688.4 479.5,689.9 479.8,690.9 480.1,692.0 480.4,693.2 480.8,694.0 481.1,694.7 481.4,695.7 481.7,697.1 482.0,698.4 482.3,699.8 482.6,701.5 482.9,702.8 483.2,703.6 483.5,704.7 483.8,706.1 484.1,707.4 484.4,708.5 484.7,709.3 485.0,710.4 485.3,711.7 485.6,712.9 485.9,713.7 486.1,714.7 486.4,716.5 486.7,718.0 487.0,718.9 487.3,719.8 487.6,721.2 487.9,722.7 488.2,723.7 488.5,724.6 488.8,725.8 489.1,727.2 489.4,728.6 489.7,729.5 490.0,729.9 490.3,730.8 490.6,732.2 490.9,733.3 491.1,734.3 491.4,735.7 491.7,737.2 492.0,738.1 492.3,739.2 492.6,740.9 492.9,741.9 493.2,742.4 493.5,743.5 493.8,745.5 494.1,747.2 494.4,748.2 494.6,749.0 494.9,750.1 495.2,751.4 495.5,752.4 495.8,753.6 496.1,754.5 496.4,755.5 496.7,756.7 497.0,757.9 497.3,759.3 497.6,760.9 497.9,762.1 498.2,763.0 498.5,764.0 498.7,765.5 499.0,766.6 499.3,767.3 499.6,768.5 499.9,770.0 500.2,770.8 500.5,771.4 500.8,772.9 501.1,774.2 501.4,775.1 501.7,776.5 502.0,777.8 502.3,779.1 502.6,780.2 502.9,781.1 503.2,782.3 503.5,784.2 503.8,786.0 504.1,786.7 504.4,787.4 504.7,788.7 505.0,789.7 505.3,790.5 505.6,791.8 505.9,793.2 506.2,794.1 506.5,794.9 506.8,796.5 507.1,798.0 507.5,799.0 507.8,800.3 508.1,801.2 508.4,802.2 508.7,803.6 509.0,804.6 509.3,805.6 509.6,807.1 509.9,808.4 510.3,809.7 510.6,811.0 510.9,811.6 511.2,812.3 511.5,813.5 511.8,814.7 512.2,815.8 512.5,817.0 512.8,818.6 513.1,819.9 513.4,820.4 513.8,821.5 514.1,823.6 514.4,825.4 514.7,826.5 515.1,827.6 515.4,828.6 515.7,829.5 516.1,830.2 516.4,831.0 516.7,831.9 517.1,833.1 517.4,834.5 517.7,835.6 518.1,836.6 518.4,837.8 518.8,839.3 519.1,840.6 519.4,841.8 519.8,843.0 520.1,844.4 520.5,845.0 520.8,845.2 521.2,846.5 521.5,848.2 521.9,849.8 522.2,851.0 522.6,851.9 522.9,852.9 523.3,854.0 523.6,855.1 524.0,856.0 524.3,857.3 524.7,858.9 525.1,859.6 525.4,860.4 525.8,862.1 526.1,863.2 526.5,863.9 526.9,865.3 527.2,866.4 527.6,867.3 527.9,868.5 528.3,869.6 528.7,871.1 529.0,872.7 529.4,874.0 529.8,875.3 530.1,876.5 530.5,877.5 530.9,878.5 531.2,879.6 531.6,880.9 532.0,882.2 532.3,883.2 532.7,884.0 533.1,884.8 533.4,885.8 533.8,887.4 534.2,888.6 534.6,889.4 534.9,890.8 535.3,892.0 535.7,893.0 536.0,894.9 536.4,896.9 536.8,897.6 537.1,897.9 537.5,898.2 537.9,898.9 538.3,900.8 538.6,902.3 539.0,903.0 539.4,904.5 539.7,906.1 540.1,906.9 540.5,907.6 540.8,909.3 541.2,910.5 541.6,911.3 541.9,912.3 542.3,913.6 542.7,915.1 543.0,915.7 543.4,916.3 543.8,917.3 544.1,918.6 544.5,920.3 544.9,921.6 545.3,922.1 545.6,923.3 546.0,925.0 546.4,926.4 546.8,927.2 547.2,927.6 547.6,928.6 548.0,930.4 548.5,931.6 548.9,932.3 549.3,933.3 549.8,934.6 550.2,936.0 550.7,937.3 551.1,938.6 551.6,940.0 552.1,941.2 552.6,942.0 553.1,943.0 553.6,944.1 554.2,945.0 554.7,946.1 555.2,947.1 555.8,948.1 556.3,949.7 556.9,950.8 557.4,951.2 558.0,952.4 558.6,953.4 559.1,954.3 559.7,955.1 560.2,956.2 560.8,958.0 561.3,959.4 561.8,960.0 562.4,960.5 562.9,961.6 563.4,963.0 564.0,964.1 564.5,965.0 565.0,966.0 565.5,967.0 566.0,968.0 566.5,968.8 567.0,969.6 567.5,971.4 568.0,973.3 568.5,974.6 569.0,975.7 569.5,976.7 570.0,977.4 570.5,978.4 571.0,979.6 571.5,980.7 572.0,982.3 572.5,983.8 572.9,984.3 573.4,985.0 573.9,986.1 574.4,987.4 574.9,988.8 575.4,989.8 575.9,990.5 576.4,991.4 576.9,992.5 577.4,993.6 577.9,994.5 578.4,995.0 578.9,996.2 579.4,998.3 579.9,999.8 580.4,1000.6 580.9,1001.0 581.5,1001.3 582.0,1002.7 582.5,1004.4 583.1,1005.3 583.6,1006.7 584.1,1008.3 584.7,1009.2 585.2,1009.9 585.8,1010.9 586.3,1011.8 586.9,1012.7 587.5,1013.7 588.1,1014.7 588.6,1016.1 589.2,1017.5 589.8,1018.6 590.4,1019.9 591.1,1021.3 591.7,1021.6 592.3,1021.7 592.9,1022.9 593.6,1024.8 594.2,1025.8 594.9,1026.7 595.6,1028.0 596.2,1028.8 596.9,1029.7 597.6,1030.6 598.3,1031.4 599.0,1032.1 599.8,1032.9 600.5,1034.0 601.3,1035.1 602.0,1036.0 602.8,1036.9 603.6,1038.0 604.4,1039.1 605.2,1040.2 606.0,1041.3 606.8,1041.7 607.6,1041.7 608.5,1042.9 609.4,1044.1 610.2,1045.0 611.1,1045.9 612.0,1046.9 612.9,1047.7 613.9,1048.3 614.8,1048.7 615.8,1049.3 616.7,1049.9 617.7,1050.6 618.7,1051.4 619.7,1052.1 620.7,1052.8 621.7,1054.0 622.7,1055.1 623.7,1055.5 624.8,1055.3 625.8,1055.5 626.9,1056.6 627.9,1057.6 629.0,1058.0 630.0,1058.2 631.1,1058.8 632.2,1059.3 633.3,1059.4 634.4,1059.7 635.4,1060.5 636.5,1061.2 637.6,1062.0 638.7,1062.5 639.8,1062.7 640.9,1063.1 642.0,1063.7 643.1,1064.2 644.2,1064.7 645.3,1065.2 646.4,1065.5 647.5,1066.3 648.6,1067.0 649.7,1067.4 650.8,1067.9 651.9,1068.7 653.0,1069.5 654.1,1069.3 655.3,1069.0 656.4,1069.5 657.5,1070.3 658.6,1071.0 659.7,1071.1 660.8,1071.3 661.9,1072.0 663.0,1072.4 664.0,1072.9 665.1,1073.8 666.2,1074.5 667.3,1074.9 668.4,1075.3 669.5,1076.1 670.5,1076.6 671.6,1076.8 672.7,1076.9 673.7,1077.3 674.8,1078.6 675.9,1080.0 676.9,1080.5 678.0,1080.2 679.0,1080.5 680.0,1081.5 681.1,1082.1 682.1,1082.4 683.1,1083.2 684.2,1084.2 685.2,1085.1 686.2,1085.8 687.2,1086.4 688.3,1086.8 689.3,1087.3 690.3,1087.5 691.3,1088.2 692.3,1089.5 693.4,1090.2 694.4,1090.2 695.4,1090.7 696.5,1091.7 697.5,1092.2 698.5,1092.6 699.6,1093.7 700.6,1094.6 701.7,1095.0 702.7,1095.5 703.8,1095.8 704.9,1096.1 706.0,1097.0 707.0,1097.6 708.1,1097.9 709.2,1098.6 710.3,1099.4 711.5,1099.8 712.6,1099.9 713.7,1100.1 714.9,1100.2 716.0,1100.5 717.2,1101.2 718.3,1101.6 719.5,1101.7 720.7,1101.6 721.9,1101.5 723.1,1102.0 724.2,1102.2 725.4,1101.9 726.6,1101.8 727.8,1101.8 729.0,1102.1 730.2,1102.2 731.4,1102.0 732.6,1102.0 733.8,1101.8 735.0,1101.4 736.2,1101.5 737.4,1101.7 738.6,1101.2 739.7,1100.6 740.9,1100.5 742.1,1100.2 743.2,1099.7 744.4,1099.6 745.6,1099.5 746.7,1098.8 747.9,1098.5 749.0,1098.7 750.1,1098.0 751.3,1097.6 752.4,1097.4 753.5,1097.0 754.7,1096.7 755.8,1096.3 756.9,1095.9 758.0,1095.5 759.1,1094.9 760.2,1094.2 761.3,1093.7 762.4,1093.3 763.5,1093.0 764.7,1092.6 765.8,1092.1 766.9,1091.3 768.0,1090.7 769.0,1090.5 770.1,1090.1 771.2,1089.6 772.3,1089.3 773.4,1089.1 774.5,1088.7 775.6,1088.2 776.7,1087.9 777.8,1086.9 778.9,1085.6 780.0,1085.2 781.1,1085.4 782.2,1085.2 783.3,1084.1 784.4,1083.2 785.5,1083.0 786.7,1082.8 787.8,1082.4 788.9,1082.0 790.0,1081.4 791.1,1080.8 792.2,1080.1 793.3,1080.0 794.4,1080.0 795.5,1079.3 796.7,1078.1 797.8,1077.6 798.9,1077.7 800.0,1077.3 801.1,1076.8 802.3,1076.5 803.4,1076.3 804.5,1075.8 805.6,1075.0 806.8,1074.6 807.9,1074.2 809.0,1073.9 810.2,1073.7 811.3,1073.4 812.5,1073.4 813.6,1073.2 814.7,1072.3 815.9,1071.3 817.0,1070.8 818.2,1070.9 819.3,1071.0 820.5,1070.6 821.6,1070.6 822.8,1070.6 824.0,1070.3 825.1,1069.8 826.3,1069.7 827.4,1069.5 828.6,1069.1 829.8,1068.8 830.9,1068.4 832.1,1067.7 833.3,1066.9 834.5,1066.5 835.6,1066.7 836.8,1066.9 838.0,1066.3 839.2,1065.9 840.3,1065.8 841.5,1065.1 842.7,1064.8 843.9,1065.3 845.1,1065.5 846.3,1064.8 847.4,1064.2 848.6,1064.0 849.8,1063.7 851.0,1063.8 852.2,1063.7 853.4,1063.9 854.6,1064.2 855.8,1063.8 856.9,1063.5 858.1,1063.7 859.3,1063.6 860.5,1063.1 861.7,1062.9 862.9,1062.5 864.1,1062.1 865.3,1061.9 866.5,1061.7 867.7,1061.6 868.9,1062.0 870.1,1062.3 871.3,1062.1 872.5,1062.1 873.7,1062.2 874.9,1061.9 876.1,1061.5 877.3,1061.4 878.5,1061.7 879.7,1061.7 880.9,1061.1 882.1,1060.7 883.2,1061.0 884.4,1061.2 885.6,1060.9 886.8,1060.8 888.0,1060.9 889.2,1060.7 890.4,1060.5 891.6,1060.7 892.8,1060.8 894.0,1060.8 895.2,1060.8 896.4,1060.3 897.6,1060.1 898.8,1060.8 900.0,1061.2 901.2,1060.7 902.4,1060.7 903.6,1060.5 904.8,1060.1 906.0,1060.4 907.2,1060.7 908.4,1060.5 909.6,1060.4 910.8,1060.6 912.0,1060.7 913.2,1060.9 914.4,1061.1 915.6,1060.8 916.8,1060.7 918.0,1060.6 919.2,1060.1 920.4,1060.0 921.6,1060.2 922.8,1060.1 924.0,1059.4 925.2,1059.1 926.4,1059.6 927.6,1059.7 928.8,1059.7 930.0,1059.6 931.2,1059.5 932.4,1059.7 933.6,1059.7 934.8,1059.5 936.0,1059.9 937.2,1060.3 938.4,1060.3 939.6,1060.3 940.8,1060.5 942.0,1060.7 943.2,1060.7 944.4,1060.6 945.6,1060.4 946.8,1060.3 948.0,1060.5 949.2,1060.1 950.4,1059.4 951.6,1059.1 952.8,1059.6 954.0,1060.1 955.2,1059.7 956.4,1059.2 957.6,1059.5 958.8,1060.1 960.0,1060.0 961.2,1059.5 962.4,1059.6 963.6,1060.1 964.8,1059.8 966.0,1058.6 967.2,1057.8 968.4,1058.4 969.6,1059.1 970.8,1059.0 972.0,1059.0 973.2,1059.0 974.4,1058.7 975.6,1058.6 976.8,1058.7 978.0,1058.6 979.2,1058.2 980.4,1057.8 981.6,1057.9 982.8,1058.1 984.0,1057.7 985.2,1057.7 986.4,1058.4 987.6,1058.0 988.8,1057.0 990.0,1056.7 991.2,1056.9 992.4,1057.4 993.6,1057.9 994.7,1057.9 995.9,1057.6 997.1,1057.4 998.3,1057.3 999.5,1057.1 1000.7,1056.8 1001.9,1057.0 1003.1,1056.9 1004.3,1056.1 1005.5,1055.6 1006.7,1056.1 1007.9,1056.5 1009.0,1056.2 1010.2,1056.3 1011.4,1056.5 1012.6,1055.7 1013.8,1054.9 1015.0,1054.7 1016.2,1054.2 1017.3,1053.8 1018.5,1053.6 1019.7,1053.6 1020.9,1053.6 1022.1,1053.6 1023.3,1053.0 1024.4,1052.1 1025.6,1052.4 1026.8,1053.2 1028.0,1053.2 1029.1,1052.7 1030.3,1051.9 1031.5,1051.1 1032.7,1051.0 1033.8,1051.0 1035.0,1050.8 1036.2,1050.8 1037.4,1050.8 1038.5,1050.6 1039.7,1050.0 1040.9,1049.3 1042.0,1049.0 1043.2,1049.2 1044.4,1049.5 1045.5,1048.4 1046.7,1047.4 1047.8,1047.7 1049.0,1047.9 1050.2,1047.4 1051.3,1046.7 1052.5,1046.4 1053.6,1046.2 1054.8,1045.6 1055.9,1045.3 1057.1,1045.4 1058.2,1045.3 1059.4,1045.1 1060.5,1044.6 1061.7,1044.2 1062.8,1043.7 1063.9,1043.2 1065.1,1042.5 1066.2,1042.0 1067.4,1042.0 1068.5,1042.1 1069.6,1041.9 1070.8,1040.9 1071.9,1039.9 1073.0,1039.7 1074.1,1039.5 1075.3,1039.1 1076.4,1038.3 1077.5,1037.6 1078.6,1037.2 1079.8,1036.8 1080.9,1036.4 1082.0,1036.2 1083.1,1036.1 1084.2,1035.6 1085.4,1034.7 1086.5,1034.2 1087.6,1034.2 1088.7,1033.7 1089.8,1033.2 1091.0,1032.9 1092.1,1032.6 1093.2,1032.2 1094.3,1031.7 1095.4,1031.3 1096.5,1031.2 1097.6,1030.9 1098.8,1030.4 1099.9,1029.9 1101.0,1029.5 1102.1,1029.0 1103.2,1028.0 1104.3,1027.6 1105.5,1027.3 1106.6,1026.1 1107.7,1025.5 1108.8,1026.0 1109.9,1026.3 1111.0,1026.2 1112.2,1025.9 1113.3,1024.9 1114.4,1023.8 1115.5,1023.4 1116.6,1023.1 1117.8,1022.3 1118.9,1021.7 1120.0,1021.4 1121.1,1021.0 1122.3,1020.5 1123.4,1020.4 1124.5,1020.6 1125.7,1020.4 1126.8,1019.9 1127.9,1019.5 1129.1,1019.3 1130.2,1019.0 1131.4,1018.0 1132.5,1017.2 1133.6,1017.0 1134.8,1016.6 1135.9,1016.1 1137.1,1015.5 1138.2,1015.2 1139.4,1015.2 1140.5,1015.1 1141.7,1015.3 1142.8,1015.1 1144.0,1014.1 1145.1,1013.6 1146.3,1013.0 1147.4,1012.4 1148.6,1012.6 1149.7,1012.9 1150.9,1012.5 1152.1,1011.7 1153.2,1011.0 1154.4,1010.6 1155.6,1010.5 1156.7,1010.2 1157.9,1009.7 1159.1,1009.5 1160.2,1009.0 1161.4,1008.6 1162.6,1009.0 1163.7,1009.3 1164.9,1008.9 1166.1,1008.4 1167.2,1008.0 1168.4,1007.6 1169.6,1007.4 1170.8,1007.5 1171.9,1007.6 1173.1,1007.1 1174.3,1005.8 1175.5,1005.3 1176.7,1005.3 1177.8,1005.5 1179.0,1005.9 1180.2,1005.8 1181.4,1005.3 1182.6,1004.8 1183.7,1004.5 1184.9,1004.3 1186.1,1004.2 1187.3,1004.6 1188.5,1005.0 1189.7,1004.8 1190.8,1004.4 1192.0,1003.6 1193.2,1002.9 1194.4,1002.8 1195.6,1002.7 1196.8,1002.6 1198.0,1002.7 1199.2,1002.4 1200.4,1002.2 1201.5,1002.1 1202.7,1001.8 1203.9,1001.9 1205.1,1002.2 1206.3,1002.2 1207.5,1002.3 1208.7,1002.1 1209.9,1001.5 1211.1,1001.1 1212.3,1000.9 1213.5,1000.9 1214.7,1001.1 1215.9,1001.4 1217.0,1001.1 1218.2,1000.3 1219.4,1000.1 1220.6,1000.1 1221.8,999.7 1223.0,1000.0 1224.2,1000.5 1225.4,1000.1 1226.6,999.5 1227.8,999.4 1229.0,999.6 1230.2,999.4 1231.4,998.9 1232.6,998.7 1233.8,998.9 1235.0,998.6 1236.2,998.9 1237.4,999.5 1238.6,999.0 1239.8,998.3 1241.0,998.2 1242.2,998.2 1243.4,998.2 1244.6,998.4 1245.8,998.6 1247.0,998.2 1248.2,997.8 1249.4,997.9 1250.6,998.4 1251.8,998.5 1253.0,998.2 1254.2,998.4 1255.4,998.7 1256.6,998.6 1257.8,998.2 1259.0,998.0 1260.2,997.9 1261.4,997.7 1262.6,998.0 1263.8,998.2 1265.0,998.0 1266.2,998.0 1267.4,997.9 1268.6,998.0 1269.8,997.7 1271.0,997.1 1272.2,997.2 1273.4,997.5 1274.6,997.8 1275.8,997.7 1277.0,997.6 1278.2,997.7 1279.4,997.9 1280.6,998.3 1281.8,998.5 1283.0,998.4 1284.2,998.5 1285.4,998.7 1286.6,998.6 1287.8,998.2 1289.0,997.7 1290.2,997.5 1291.4,997.7 1292.6,998.0 1293.8,997.5 1295.0,997.2 1296.2,997.5 1297.4,997.6 1298.6,997.9 1299.8,998.1 1301.0,997.6 1302.2,997.1 1303.4,997.3 1304.6,998.4 1305.8,998.7 1307.0,998.0 1308.2,998.0 1309.4,998.7 1310.6,998.6 1311.8,998.3 1313.0,997.6 1314.2,997.7 1315.4,998.8 1316.6,999.2 1317.8,998.9 1319.0,999.1 1320.2,999.0 1321.4,998.6 1322.6,998.6 1323.8,998.6 1325.0,998.9 1326.2,999.4 1327.4,999.2 1328.5,999.3 1329.7,999.7 1330.9,999.6 1332.1,999.2 1333.3,999.1 1334.5,999.4 1335.7,999.6 1336.9,999.5 1338.1,999.3 1339.3,999.4 1340.5,999.8 1341.7,1000.0 1342.9,1000.1 1344.1,1000.0 1345.3,999.9 1346.5,999.9 1347.7,1000.0 1348.9,1000.3 1350.1,1000.2 1351.3,1000.0 1352.5,1000.4 1353.7,1000.5 1354.9,1000.5 1356.1,1000.6 1357.3,1000.1 1358.5,999.8 1359.7,1000.0 1360.9,1000.0 1362.1,1000.3 1363.3,1000.7 1364.5,1000.6 1365.7,1000.6 1366.9,1001.1 1368.1,1001.2 1369.3,1000.9 1370.5,1001.0 1371.7,1001.2 1372.9,1001.0 1374.1,1000.6 1375.3,1000.5 1376.5,1000.6 1377.7,1001.0 1378.9,1001.3 1380.1,1001.7 1381.3,1001.6 1382.5,1001.0 1383.7,1001.1 1384.9,1001.6 1386.1,1001.8 1387.3,1001.7 1388.5,1001.6 1389.7,1001.3 1390.9,1001.2 1392.1,1001.4 1393.3,1001.8 1394.5,1002.1 1395.7,1002.1 1396.9,1001.7 1398.1,1001.5 1399.3,1001.8 1400.5,1002.1 1401.7,1002.5 1402.9,1002.6 1404.1,1002.5 1405.3,1002.9 1406.5,1003.0 1407.7,1002.4 1408.9,1002.0 1410.1,1001.8 1411.3,1001.7 1412.5,1002.1 1413.7,1002.5 1414.9,1002.8 1416.1,1003.0 1417.3,1002.9 1418.5,1002.8 1419.7,1002.7 1420.9,1002.6 1422.1,1002.3 1423.3,1001.9 1424.5,1001.7 1425.7,1001.9 1426.9,1002.5 1428.1,1003.2 1429.3,1003.0 1430.5,1002.7 1431.7,1003.4 1432.9,1003.7 1434.1,1003.1 1435.3,1002.7 1436.5,1003.3 1437.7,1003.6 1438.9,1003.3 1440.1,1002.9 1441.3,1002.9 1442.5,1003.1 1443.7,1003.1 1444.9,1002.9 1446.1,1002.9 1447.3,1003.1 1448.5,1002.9 1449.7,1003.0 1450.9,1003.1 1452.1,1003.0 1453.3,1003.2 1454.5,1003.4 1455.7,1003.2 1456.9,1002.9 1458.1,1002.7 1459.3,1002.6 1460.5,1002.3 1461.7,1002.5 1462.9,1002.7 1464.1,1002.9 1465.3,1003.3 1466.5,1003.4 1467.7,1003.3 1468.9,1003.1 1470.1,1002.4 1471.3,1002.4 1472.5,1002.8 1473.7,1002.7 1474.9,1002.5 1476.1,1002.9 1477.3,1002.8 1478.5,1002.5 1479.7,1002.9 1480.9,1003.1 1482.1,1002.6 1483.3,1002.0 1484.5,1002.2 1485.7,1002.7 1486.9,1002.8 1488.1,1002.5 1489.3,1002.1 1490.5,1001.9 1491.7,1002.0 1492.9,1001.5 1494.1,1001.5 1495.3,1002.4 1496.5,1002.7 1497.7,1002.3 1498.9,1002.2 1500.1,1002.7 1501.3,1002.9 1502.5,1002.8 1503.7,1002.6 1504.9,1002.2 1506.1,1001.9 1507.3,1001.3 1508.5,1000.9 1509.7,1001.3 1510.9,1001.9 1512.1,1002.0 1513.3,1001.9 1514.5,1001.6 1515.7,1000.9 1516.9,1000.4 1518.1,1000.9 1519.3,1001.8 1520.5,1001.8 1521.7,1001.4 1522.9,1001.5 1524.0,1001.5 1525.2,1001.4 1526.4,1001.5 1527.6,1001.6 1528.8,1001.6 1530.0,1001.5 1531.2,1001.4 1532.4,1001.2 1533.6,1001.2 1534.8,1001.1 1536.0,1000.9 1537.2,1001.0 1538.4,1001.0 1539.6,1000.7 1540.8,1000.6 1542.0,1000.7 1543.2,1000.6 1544.4,1000.5 1545.6,1000.4 1546.8,999.9 1548.0,999.8 1549.2,1000.0 1550.4,999.8 1551.6,999.6 1552.8,999.9 1554.0,1000.1 1555.2,999.7 1556.4,999.2 1557.6,999.5 1558.8,1000.1 1560.0,1000.1 1561.2,1000.0 1562.4,1000.0 1563.6,999.4 1564.8,998.8 1566.0,999.0 1567.2,999.5 1568.4,999.8 1569.6,999.4 1570.8,998.8 1572.0,998.6 1573.2,998.3 1574.4,998.0 1575.6,998.1 1576.8,998.0 1578.0,997.8 1579.2,998.2 1580.4,998.3 1581.6,998.1 1582.8,998.2 1584.0,998.2 1585.2,998.0 1586.4,997.7 1587.6,997.5 1588.8,998.1 1590.0,998.3 1591.2,998.4 1592.3,997.9 1593.5,997.1 1594.7,997.3 1595.9,997.5 1597.1,997.2 1598.3,997.1 1599.5,996.9 1600.7,996.8 1601.9,997.2 1603.1,997.4 1604.3,997.5 1605.5,996.8 1606.7,996.4 1607.9,996.9 1609.1,996.5 1610.3,996.0 1611.5,995.9 1612.7,996.1 1613.9,997.0 1615.1,996.9 1616.3,996.4 1617.5,996.4 1618.7,995.9 1619.9,995.6 1621.1,995.7 1622.3,995.5 1623.5,995.5 1624.7,995.5 1625.9,995.4 1627.1,995.6 1628.3,995.6 1629.5,995.0 1630.7,994.9 1631.9,994.7 1633.1,994.0 1634.3,994.1 1635.5,994.7 1636.7,994.8 1637.8,994.5 1639.0,994.0 1640.2,993.5 1641.4,993.7 1642.6,994.2 1643.8,994.2 1645.0,994.2 1646.2,994.3 1647.4,994.2 1648.6,993.8 1649.8,993.7 1651.0,993.7 1652.2,993.4 1653.4,993.8 1654.6,994.1 1655.8,993.8 1657.0,993.5 1658.2,993.5 1659.4,993.5 1660.6,993.5 1661.8,993.5 1663.0,993.3 1664.2,992.8 1665.4,992.3 1666.6,992.4 1667.8,992.9 1669.0,992.5 1670.2,991.9 1671.4,991.9 1672.6,991.9 1673.8,992.0 1675.0,992.5 1676.2,992.4 1677.4,991.9 1678.6,991.5 1679.8,992.0 1680.9,992.2 1682.1,992.1 1683.3,991.9 1684.5,991.5 1685.7,991.4 1686.9,991.1 1688.1,990.7 1689.3,990.9 1690.5,991.5 1691.7,991.3 1692.9,990.7 1694.1,990.6 1695.3,990.7 1696.5,990.7 1697.7,991.0 1698.9,991.0 1700.1,990.4 1701.3,990.1 1702.5,990.7 1703.7,990.7 1704.9,990.5 1706.1,990.7 1707.3,990.6 1708.5,990.3 1709.7,990.4 1710.9,990.3 1712.1,989.7 1713.3,989.3 1714.5,989.6 1715.7,989.7 1716.9,989.4 1718.1,988.9 1719.3,988.8 1720.5,989.2 1721.7,989.4" stroke="#b0161c" stroke-width="2.5"/>
<polyline points="186.9,919.8 187.6,918.4 188.2,917.1 188.9,916.0 189.5,914.8 190.2,914.0 190.9,913.5 191.5,912.4 192.2,911.0 192.8,910.4 193.5,910.1 194.1,909.4 194.8,908.1 195.5,906.6 196.1,905.5 196.8,904.9 197.4,904.2 198.1,903.1 198.8,901.8 199.4,900.4 200.1,899.2 200.7,898.6 201.4,898.0 202.0,896.7 202.7,895.7 203.4,894.8 204.0,893.9 204.7,893.0 205.3,892.0 206.0,890.8 206.7,889.5 207.3,888.8 208.0,887.8 208.6,886.5 209.3,885.3 209.9,883.9 210.6,883.1 211.3,882.5 211.9,881.4 212.6,880.6 213.2,879.9 213.9,878.4 214.6,876.9 215.2,876.5 215.9,875.9 216.5,874.6 217.2,873.4 217.9,872.1 218.5,870.8 219.2,870.3 219.8,870.0 220.5,869.1 221.2,867.7 221.8,866.3 222.5,865.3 223.1,864.5 223.8,863.5 224.5,862.3 225.1,861.3 225.8,860.3 226.4,859.2 227.1,858.3 227.8,857.3 228.4,855.9 229.1,855.0 229.7,853.6 230.4,852.1 231.1,851.3 231.7,850.9 232.4,850.6 233.0,850.2 233.7,849.1 234.4,847.5 235.0,846.1 235.7,845.5 236.3,844.9 237.0,843.8 237.6,842.3 238.3,841.3 239.0,840.5 239.6,839.0 240.3,837.9 240.9,837.3 241.6,836.3 242.3,835.2 242.9,834.5 243.6,833.3 244.2,831.8 244.9,830.9 245.6,830.0 246.2,829.2 246.9,828.3 247.5,827.2 248.2,826.6 248.9,826.0 249.5,824.8 250.2,823.8 250.8,822.4 251.5,821.0 252.1,820.3 252.8,819.5 253.5,818.7 254.1,817.8 254.8,816.6 255.4,815.2 256.1,814.0 256.8,813.3 257.4,812.4 258.1,811.5 258.7,810.4 259.4,809.2 260.0,808.6 260.7,807.7 261.4,806.0 262.0,804.9 262.7,804.7 263.3,803.8 264.0,802.4 264.6,801.1 265.3,799.9 266.0,798.9 266.6,798.1 267.3,797.1 267.9,795.9 268.6,794.8 269.2,793.8 269.9,792.5 270.5,791.2 271.2,790.1 271.9,789.4 272.5,788.9 273.2,788.1 273.8,787.3 274.5,786.6 275.1,785.8 275.8,784.7 276.4,783.3 277.1,781.7 277.8,780.5 278.4,780.1 279.1,779.4 279.7,778.0 280.4,776.7 281.0,775.7 281.7,774.9 282.3,774.2 283.0,773.3 283.6,772.3 284.3,771.1 284.9,770.1 285.6,769.4 286.2,768.1 286.9,766.9 287.5,766.4 288.2,765.3 288.9,763.8 289.5,762.3 290.2,761.1 290.8,760.4 291.5,759.7 292.1,758.8 292.8,758.0 293.4,757.0 294.1,755.9 294.7,754.8 295.4,753.8 296.0,752.9 296.7,751.8 297.3,750.7 298.0,749.6 298.6,749.0 299.3,748.4 299.9,747.4 300.6,746.5 301.2,745.6 301.9,744.4 302.5,743.3 303.1,742.1 303.8,740.8 304.4,739.5 305.1,738.3 305.7,737.6 306.4,737.2 307.0,736.0 307.7,734.9 308.3,733.5 309.0,731.9 309.6,731.3 310.3,730.8 310.9,729.6 311.5,728.4 312.2,727.5 312.8,727.1 313.5,726.3 314.1,725.0 314.8,723.7 315.4,722.6 316.1,721.3 316.7,720.2 317.4,719.3 318.0,718.0 318.7,716.7 319.3,716.1 319.9,715.2 320.6,714.2 321.2,713.1 321.9,711.9 322.6,710.9 323.2,709.8 323.9,708.8 324.5,708.4 325.2,707.7 325.8,706.4 326.5,705.3 327.2,704.3 327.8,703.2 328.5,702.0 329.2,701.1 329.8,700.0 330.5,698.9 331.2,698.0 331.8,697.0 332.5,696.2 333.2,695.9 333.9,695.0 334.6,693.3 335.2,692.2 335.9,691.5 336.6,690.4 337.3,689.5 338.0,688.6 338.7,687.6 339.4,686.3 340.1,685.2 340.8,684.6 341.5,683.6 342.2,682.4 342.9,681.5 343.6,680.9 344.4,680.5 345.1,679.3 345.8,677.7 346.5,676.6 347.3,675.6 348.0,674.5 348.7,673.6 349.5,672.9 350.2,672.2 351.0,671.2 351.7,670.3 352.5,669.6 353.2,668.8 354.0,667.8 354.8,667.2 355.5,666.3 356.3,664.7 357.1,663.7 357.9,663.0 358.7,662.5 359.5,662.0 360.3,660.8 361.2,659.5 362.0,658.7 362.9,658.2 363.7,657.6 364.6,656.4 365.5,655.3 366.4,654.5 367.3,653.6 368.2,652.5 369.1,651.7 370.1,651.0 371.1,650.1 372.0,649.6 373.0,649.3 374.1,649.1 375.1,648.5 376.1,647.4 377.2,646.6 378.2,646.5 379.3,646.4 380.4,645.9 381.5,644.9 382.7,643.7 383.8,643.8 384.9,644.3 386.1,643.8 387.2,643.2 388.4,642.5 389.6,642.1 390.8,642.4 391.9,642.4 393.1,642.5 394.3,642.5 395.5,641.9 396.7,641.8 397.9,642.4 399.1,642.3 400.3,641.9 401.5,642.1 402.7,642.0 403.9,642.0 405.1,642.5 406.3,642.6 407.4,642.7 408.6,643.2 409.7,643.4 410.9,643.5 412.0,644.0 413.1,644.4 414.2,644.6 415.3,645.3 416.4,646.1 417.5,646.6 418.5,647.0 419.6,647.8 420.6,648.3 421.6,648.7 422.6,649.7 423.6,650.5 424.6,651.2 425.5,652.5 426.5,653.1 427.4,653.0 428.3,653.6 429.2,654.4 430.1,655.3 431.0,656.7 431.8,657.5 432.7,658.3 433.5,659.3 434.3,659.9 435.1,660.4 435.9,661.7 436.7,663.1 437.5,664.0 438.2,664.9 439.0,665.4 439.7,665.8 440.4,666.9 441.1,668.5 441.8,670.0 442.5,671.3 443.2,672.1 443.9,672.8 444.5,673.4 445.2,673.8 445.8,674.8 446.4,675.8 447.0,676.7 447.6,678.0 448.2,679.3 448.8,680.6 449.3,681.8 449.9,682.5 450.4,683.7 451.0,684.9 451.5,685.9 452.0,687.3 452.5,688.1 453.0,688.7 453.5,690.2 454.0,691.6 454.5,692.6 455.0,693.7 455.4,694.5 455.9,695.5 456.3,697.1 456.8,698.4 457.2,698.8 457.6,699.7 458.1,701.5 458.5,703.0 458.9,704.1 459.3,705.1 459.8,705.9 460.2,706.8 460.6,708.3 461.0,709.8 461.4,710.7 461.8,711.7 462.2,713.1 462.6,714.2 463.0,714.8 463.4,715.7 463.8,717.2 464.2,718.8 464.6,719.7 465.0,720.7 465.5,722.0 465.9,723.1 466.3,724.4 466.7,726.0 467.1,727.3 467.5,728.1 467.9,728.5 468.3,729.4 468.7,730.9 469.1,731.9 469.5,732.7 469.9,734.2 470.3,735.9 470.7,736.7 471.1,737.3 471.5,738.3 471.9,739.5 472.3,741.3 472.8,742.3 473.2,742.9 473.6,744.5 474.0,746.1 474.4,746.9 474.8,747.6 475.2,749.3 475.6,750.7 476.0,751.3 476.5,752.0 476.9,752.7 477.3,753.9 477.7,755.2 478.1,756.0 478.5,757.5 479.0,759.2 479.4,760.4 479.8,761.5 480.2,762.3 480.6,763.1 481.1,764.1 481.5,765.2 481.9,766.4 482.3,767.8 482.8,769.1 483.2,770.0 483.6,771.2 484.1,772.6 484.5,773.9 484.9,774.8 485.4,775.3 485.8,776.2 486.2,777.7 486.7,779.3 487.1,780.4 487.5,781.4 488.0,782.8 488.4,783.6 488.9,784.3 489.3,785.6 489.8,787.3 490.2,788.7 490.7,789.7 491.1,790.6 491.6,791.4 492.0,792.0 492.5,792.8 492.9,794.4 493.4,796.2 493.9,797.2 494.3,797.6 494.8,798.2 495.3,799.7 495.7,801.0 496.2,801.9 496.6,803.3 497.1,804.8 497.6,805.6 498.0,806.4 498.5,807.6 499.0,808.9 499.4,810.0 499.9,811.5 500.4,812.9 500.8,813.6 501.3,813.9 501.7,815.0 502.2,816.6 502.7,818.3 503.1,819.6 503.6,820.4 504.0,821.4 504.5,823.0 505.0,824.1 505.4,824.5 505.9,825.5 506.3,826.9 506.8,828.1 507.2,829.4 507.7,830.6 508.1,831.4 508.6,832.4 509.0,833.8 509.4,835.1 509.9,835.8 510.3,836.3 510.7,837.9 511.2,839.6 511.6,840.0 512.0,840.6 512.4,842.4 512.9,843.8 513.3,844.5 513.7,845.6 514.1,847.1 514.5,848.3 514.9,849.9 515.3,851.2 515.8,852.0 516.2,853.0 516.6,854.6 517.0,855.6 517.4,856.2 517.8,857.2 518.2,858.7 518.6,860.2 519.0,861.1 519.4,861.9 519.8,862.9 520.2,863.7 520.6,865.1 521.0,866.5 521.4,867.6 521.7,868.8 522.1,870.0 522.5,871.1 522.9,872.1 523.3,872.6 523.7,873.8 524.1,875.7 524.5,876.9 524.9,877.3 525.3,878.2 525.7,879.9 526.1,881.1 526.5,881.9 526.9,883.3 527.3,884.5 527.7,885.0 528.1,886.0 528.5,887.8 528.8,889.6 529.2,890.9 529.6,891.7 530.1,892.8 530.5,893.9 530.9,894.9 531.3,896.1 531.7,897.2 532.1,898.0 532.5,899.1 532.9,900.0 533.3,901.1 533.7,902.8 534.1,903.8 534.6,904.5 535.0,905.6 535.4,906.4 535.8,907.6 536.2,909.2 536.7,910.8 537.1,912.0 537.5,912.8 538.0,913.8 538.4,915.0 538.8,916.3 539.3,917.4 539.7,918.3 540.2,919.3 540.6,920.4 541.1,921.8 541.5,922.9 542.0,923.5 542.4,924.4 542.9,926.0 543.4,927.2 543.9,927.6 544.3,928.4 544.8,930.1 545.3,931.5 545.8,932.7 546.3,934.0 546.7,935.1 547.2,935.6 547.7,936.3 548.2,937.5 548.7,939.0 549.3,940.1 549.8,941.1 550.3,942.0 550.8,942.9 551.3,944.4 551.9,946.0 552.4,947.4 552.9,948.6 553.5,949.2 554.0,949.7 554.6,950.9 555.1,952.0 555.7,952.7 556.3,954.0 556.8,955.3 557.4,956.0 558.0,956.4 558.5,957.6 559.1,959.9 559.7,961.5 560.3,962.1 560.9,962.7 561.5,963.3 562.1,964.3 562.7,965.6 563.3,966.6 564.0,967.3 564.6,968.1 565.2,969.4 565.8,971.1 566.5,972.4 567.1,973.4 567.8,974.5 568.4,975.3 569.1,976.0 569.7,976.9 570.4,977.8 571.1,978.9 571.7,980.3 572.4,981.2 573.1,982.0 573.8,983.2 574.5,984.0 575.2,984.4 575.9,985.1 576.6,985.8 577.3,986.8 578.0,988.1 578.7,989.4 579.4,990.9 580.2,991.9 580.9,992.4 581.6,993.5 582.4,995.1 583.1,996.0 583.9,996.5 584.6,997.4 585.4,998.6 586.2,999.9 586.9,1000.8 587.7,1001.2 588.5,1001.9 589.3,1002.8 590.1,1003.5 590.9,1004.0 591.7,1004.8 592.5,1006.0 593.3,1007.0 594.1,1007.5 594.9,1008.3 595.8,1009.2 596.6,1010.2 597.5,1011.7 598.3,1012.8 599.2,1013.3 600.1,1013.6 600.9,1014.1 601.8,1015.2 602.7,1016.2 603.6,1017.0 604.6,1018.0 605.5,1019.0 606.4,1019.7 607.3,1020.4 608.3,1021.2 609.3,1022.2 610.2,1022.7 611.2,1022.6 612.2,1022.9 613.2,1024.0 614.2,1025.2 615.2,1026.0 616.2,1026.6 617.3,1027.3 618.3,1028.0 619.4,1028.4 620.4,1028.5 621.5,1029.1 622.6,1029.9 623.7,1030.3 624.8,1030.5 625.9,1030.9 627.0,1031.1 628.1,1031.7 629.2,1032.5 630.3,1033.3 631.5,1033.8 632.6,1034.1 633.7,1034.5 634.9,1034.5 636.0,1034.3 637.2,1034.9 638.3,1035.8 639.5,1036.2 640.6,1036.6 641.8,1036.9 642.9,1036.9 644.1,1036.9 645.3,1037.9 646.4,1038.8 647.6,1038.7 648.7,1038.2 649.9,1038.1 651.1,1038.5 652.2,1039.3 653.4,1039.7 654.5,1039.8 655.7,1040.2 656.8,1040.5 658.0,1041.0 659.2,1041.3 660.3,1041.7 661.5,1042.2 662.6,1042.1 663.8,1042.4 664.9,1043.0 666.0,1043.0 667.2,1043.4 668.3,1044.3 669.5,1044.6 670.6,1044.5 671.7,1045.1 672.8,1046.3 674.0,1047.2 675.1,1047.1 676.2,1046.6 677.3,1046.7 678.4,1047.0 679.5,1047.7 680.6,1048.8 681.7,1049.9 682.7,1050.4 683.8,1050.3 684.9,1050.6 686.0,1051.6 687.0,1052.3 688.1,1052.3 689.2,1052.7 690.2,1054.0 691.3,1054.9 692.4,1055.0 693.4,1055.4 694.5,1056.0 695.6,1056.6 696.6,1057.0 697.7,1057.4 698.8,1058.1 699.9,1058.8 700.9,1059.5 702.0,1060.2 703.1,1060.4 704.2,1060.6 705.3,1061.1 706.4,1061.2 707.5,1061.6 708.6,1062.1 709.7,1062.5 710.8,1063.2 712.0,1063.7 713.1,1063.9 714.2,1064.5 715.4,1065.1 716.5,1065.1 717.7,1065.3 718.9,1065.9 720.0,1065.9 721.2,1065.7 722.4,1066.4 723.6,1067.0 724.8,1066.9 726.0,1066.7 727.2,1066.7 728.4,1066.6 729.6,1066.8 730.8,1067.3 732.0,1067.4 733.2,1067.4 734.4,1067.2 735.6,1066.6 736.8,1066.5 737.9,1066.4 739.1,1066.3 740.3,1066.1 741.5,1065.4 742.7,1065.2 743.9,1065.5 745.0,1065.3 746.2,1064.7 747.4,1064.2 748.5,1064.3 749.7,1064.3 750.9,1063.9 752.0,1063.8 753.2,1064.0 754.3,1063.8 755.5,1063.0 756.6,1062.0 757.8,1061.3 758.9,1061.4 760.0,1061.6 761.2,1061.4 762.3,1060.9 763.4,1060.2 764.6,1059.5 765.7,1058.6 766.8,1058.2 767.9,1058.3 769.1,1058.0 770.2,1057.7 771.3,1057.2 772.4,1056.1 773.6,1055.5 774.7,1055.5 775.8,1055.2 776.9,1054.9 778.1,1054.6 779.2,1053.7 780.3,1053.2 781.4,1053.1 782.6,1053.1 783.7,1053.3 784.8,1052.7 786.0,1051.7 787.1,1051.5 788.2,1051.1 789.4,1050.5 790.5,1050.1 791.6,1050.3 792.8,1050.3 793.9,1048.9 795.0,1047.7 796.2,1047.7 797.3,1047.7 798.5,1047.5 799.6,1047.2 800.7,1046.7 801.9,1046.7 803.0,1046.7 804.2,1045.8 805.3,1044.9 806.5,1044.8 807.6,1044.5 808.8,1044.0 809.9,1043.8 811.1,1043.9 812.3,1043.5 813.4,1042.4 814.6,1041.9 815.7,1042.1 816.9,1041.9 818.0,1041.6 819.2,1041.1 820.4,1040.7 821.5,1040.7 822.7,1040.5 823.9,1040.2 825.0,1040.3 826.2,1039.9 827.4,1039.3 828.5,1039.6 829.7,1039.6 830.9,1038.8 832.0,1038.7 833.2,1038.5 834.4,1037.4 835.6,1037.0 836.7,1037.1 837.9,1037.0 839.1,1036.8 840.3,1036.7 841.4,1036.5 842.6,1036.0 843.8,1035.4 845.0,1035.4 846.1,1035.7 847.3,1035.5 848.5,1035.2 849.7,1035.2 850.9,1035.1 852.1,1034.6 853.2,1034.3 854.4,1034.2 855.6,1034.4 856.8,1034.5 858.0,1033.4 859.2,1032.7 860.4,1033.2 861.5,1033.5 862.7,1033.3 863.9,1032.8 865.1,1032.3 866.3,1032.1 867.5,1032.5 868.7,1032.5 869.9,1032.0 871.1,1031.6 872.3,1031.5 873.4,1031.6 874.6,1031.6 875.8,1031.1 877.0,1030.6 878.2,1030.6 879.4,1030.9 880.6,1030.7 881.8,1030.8 883.0,1031.1 884.2,1030.8 885.4,1030.5 886.6,1030.5 887.8,1030.2 889.0,1030.3 890.2,1030.2 891.3,1029.7 892.5,1029.5 893.7,1029.8 894.9,1029.8 896.1,1029.8 897.3,1029.8 898.5,1029.8 899.7,1029.5 900.9,1029.0 902.1,1028.6 903.3,1028.6 904.5,1028.6 905.7,1028.9 906.9,1029.0 908.1,1028.8 909.3,1028.4 910.5,1028.0 911.7,1027.8 912.9,1028.0 914.1,1028.3 915.3,1028.1 916.5,1027.8 917.7,1027.5 918.9,1027.1 920.1,1027.2 921.3,1027.7 922.5,1027.9 923.7,1027.5 924.9,1026.7 926.1,1026.6 927.3,1026.8 928.5,1026.9 929.7,1027.1 930.9,1027.4 932.1,1027.3 933.3,1027.3 934.5,1027.5 935.7,1027.5 936.9,1027.4 938.1,1027.1 939.3,1026.8 940.5,1026.9 941.7,1026.6 942.9,1026.4 944.1,1027.0 945.3,1026.8 946.5,1026.2 947.7,1026.4 948.9,1026.2 950.1,1026.1 951.3,1026.5 952.5,1026.5 953.7,1026.3 954.9,1026.2 956.1,1026.2 957.3,1026.3 958.5,1026.6 959.7,1026.7 960.9,1026.4 962.1,1026.2 963.3,1026.1 964.5,1026.0 965.7,1026.5 966.9,1026.7 968.1,1026.3 969.3,1026.3 970.5,1026.2 971.7,1025.8 972.9,1025.5 974.1,1025.4 975.3,1025.4 976.5,1026.0 977.7,1026.6 978.9,1026.0 980.1,1025.9 981.3,1026.4 982.5,1026.1 983.7,1025.1 984.9,1024.6 986.1,1025.1 987.3,1025.8 988.5,1026.3 989.7,1026.7 990.9,1026.6 992.1,1025.9 993.3,1025.6 994.5,1025.9 995.7,1025.6 996.9,1025.3 998.1,1025.2 999.2,1025.1 1000.4,1024.8 1001.6,1024.4 1002.8,1024.6 1004.0,1024.8 1005.2,1024.6 1006.4,1024.4 1007.6,1024.4 1008.8,1024.3 1010.0,1023.9 1011.2,1024.0 1012.4,1024.5 1013.6,1024.4 1014.8,1023.7 1016.0,1023.5 1017.2,1023.8 1018.4,1023.9 1019.6,1023.8 1020.8,1023.9 1022.0,1023.9 1023.2,1023.7 1024.4,1023.8 1025.6,1023.8 1026.8,1023.7 1028.0,1022.9 1029.2,1022.1 1030.4,1022.4 1031.6,1023.0 1032.8,1023.2 1033.9,1023.2 1035.1,1023.1 1036.3,1022.8 1037.5,1022.6 1038.7,1022.1 1039.9,1021.6 1041.1,1021.6 1042.3,1021.8 1043.5,1021.9 1044.7,1021.7 1045.9,1020.9 1047.0,1020.5 1048.2,1020.7 1049.4,1020.8 1050.6,1020.0 1051.8,1019.4 1053.0,1019.6 1054.2,1019.9 1055.3,1019.7 1056.5,1019.5 1057.7,1019.1 1058.9,1018.4 1060.1,1018.4 1061.2,1018.9 1062.4,1019.0 1063.6,1018.4 1064.8,1018.1 1066.0,1018.1 1067.1,1017.8 1068.3,1017.5 1069.5,1017.7 1070.7,1017.8 1071.9,1017.1 1073.0,1016.2 1074.2,1015.9 1075.4,1016.2 1076.6,1016.3 1077.7,1016.2 1078.9,1016.0 1080.1,1015.5 1081.2,1014.9 1082.4,1014.3 1083.6,1013.7 1084.8,1013.8 1085.9,1014.2 1087.1,1013.8 1088.3,1013.2 1089.4,1012.9 1090.6,1012.2 1091.8,1011.9 1093.0,1012.2 1094.1,1012.3 1095.3,1012.2 1096.5,1012.0 1097.6,1011.5 1098.8,1010.5 1100.0,1010.1 1101.1,1010.3 1102.3,1009.9 1103.5,1009.4 1104.6,1009.7 1105.8,1009.6 1107.0,1008.9 1108.1,1008.3 1109.3,1008.0 1110.5,1008.1 1111.6,1007.7 1112.8,1007.2 1114.0,1006.9 1115.1,1006.4 1116.3,1006.4 1117.5,1006.5 1118.6,1006.3 1119.8,1005.8 1121.0,1005.3 1122.1,1005.2 1123.3,1005.2 1124.5,1004.7 1125.6,1003.9 1126.8,1003.1 1128.0,1003.4 1129.1,1003.4 1130.3,1002.9 1131.5,1002.6 1132.6,1002.2 1133.8,1001.6 1135.0,1001.9 1136.1,1002.3 1137.3,1001.4 1138.5,1000.6 1139.6,1000.5 1140.8,1000.3 1142.0,1000.4 1143.1,1000.3 1144.3,999.6 1145.5,999.3 1146.6,999.4 1147.8,999.2 1149.0,998.7 1150.2,998.3 1151.3,997.7 1152.5,997.4 1153.7,998.0 1154.8,998.1 1156.0,997.2 1157.2,996.5 1158.4,996.5 1159.5,996.8 1160.7,996.6 1161.9,995.8 1163.1,995.3 1164.2,995.3 1165.4,995.1 1166.6,994.8 1167.8,994.9 1168.9,995.0 1170.1,994.5 1171.3,994.0 1172.5,993.8 1173.7,993.6 1174.8,993.2 1176.0,993.2 1177.2,993.3 1178.4,993.3 1179.6,993.0 1180.8,992.2 1181.9,991.6 1183.1,991.6 1184.3,991.8 1185.5,992.0 1186.7,991.2 1187.9,990.8 1189.0,991.1 1190.2,991.1 1191.4,991.2 1192.6,990.9 1193.8,990.0 1195.0,989.5 1196.2,989.7 1197.4,989.7 1198.5,989.5 1199.7,989.2 1200.9,988.8 1202.1,988.7 1203.3,989.1 1204.5,989.5 1205.7,989.4 1206.9,988.9 1208.1,988.8 1209.3,988.8 1210.4,988.4 1211.6,987.9 1212.8,987.7 1214.0,987.6 1215.2,987.6 1216.4,987.4 1217.6,986.9 1218.8,986.4 1220.0,986.5 1221.2,986.5 1222.4,986.3 1223.6,986.6 1224.8,987.1 1226.0,986.9 1227.2,986.3 1228.3,986.2 1229.5,986.4 1230.7,986.4 1231.9,986.1 1233.1,985.6 1234.3,985.5 1235.5,985.7 1236.7,986.0 1237.9,986.1 1239.1,985.9 1240.3,985.3 1241.5,985.2 1242.7,985.4 1243.9,985.4 1245.1,985.0 1246.3,985.0 1247.5,984.9 1248.7,984.7 1249.9,984.9 1251.1,985.1 1252.3,984.6 1253.5,984.5 1254.7,984.7 1255.9,984.4 1257.1,983.8 1258.3,983.8 1259.5,984.0 1260.7,983.8 1261.9,983.8 1263.1,983.9 1264.3,983.9 1265.5,984.2 1266.7,984.5 1267.9,984.2 1269.1,983.5 1270.3,983.3 1271.5,983.5 1272.7,983.4 1273.9,983.1 1275.1,982.9 1276.3,982.8 1277.4,982.9 1278.6,983.1 1279.8,983.2 1281.0,983.0 1282.2,983.3 1283.4,983.6 1284.6,983.1 1285.8,982.9 1287.0,982.8 1288.2,982.7 1289.4,982.6 1290.6,982.7 1291.8,982.7 1293.0,982.4 1294.2,982.5 1295.4,982.6 1296.6,982.7 1297.8,983.2 1299.0,983.2 1300.2,982.6 1301.4,983.0 1302.6,983.3 1303.8,983.0 1305.0,982.5 1306.2,982.3 1307.4,982.2 1308.6,982.2 1309.8,982.3 1311.0,982.7 1312.2,983.1 1313.4,983.2 1314.6,983.3 1315.8,983.2 1317.0,983.0 1318.2,983.3 1319.4,983.3 1320.6,982.5 1321.8,982.0 1323.0,982.4 1324.2,982.7 1325.4,982.5 1326.6,982.2 1327.8,982.2 1329.0,982.6 1330.2,982.7 1331.4,982.4 1332.6,982.2 1333.8,982.6 1335.0,983.2 1336.2,983.2 1337.4,982.8 1338.6,982.9 1339.8,983.4 1341.0,983.4 1342.2,983.0 1343.4,982.8 1344.6,982.6 1345.8,982.7 1347.0,982.7 1348.2,982.9 1349.4,982.7 1350.6,982.3 1351.8,982.6 1353.0,983.1 1354.2,983.4 1355.4,983.3 1356.6,983.3 1357.8,983.4 1359.0,983.2 1360.2,983.0 1361.4,982.9 1362.6,983.0 1363.8,983.3 1365.0,983.5 1366.2,983.4 1367.4,983.5 1368.6,983.7 1369.8,984.2 1371.0,984.5 1372.2,983.9 1373.4,983.2 1374.6,983.3 1375.8,983.8 1377.0,984.0 1378.2,983.5 1379.4,982.9 1380.6,983.1 1381.8,983.6 1383.0,983.9 1384.2,984.0 1385.4,983.9 1386.6,984.0 1387.8,984.3 1389.0,984.7 1390.2,984.8 1391.4,984.5 1392.6,984.1 1393.8,984.0 1395.0,984.2 1396.2,984.3 1397.4,984.2 1398.6,983.9 1399.8,983.8 1401.0,984.1 1402.2,984.1 1403.4,983.8 1404.6,984.2 1405.8,984.2 1407.0,983.6 1408.2,983.7 1409.4,984.4 1410.6,984.9 1411.8,985.0 1413.0,984.6 1414.2,984.5 1415.4,984.1 1416.6,983.4 1417.8,983.7 1419.0,984.5 1420.2,984.5 1421.4,984.4 1422.6,984.7 1423.8,984.6 1425.0,984.2 1426.2,984.4 1427.4,984.3 1428.6,984.4 1429.8,984.8 1431.0,984.9 1432.2,984.7 1433.4,984.6 1434.6,985.0 1435.8,985.4 1437.0,985.3 1438.2,985.0 1439.4,984.8 1440.6,985.1 1441.8,985.2 1443.0,985.1 1444.2,985.5 1445.4,985.8 1446.6,985.9 1447.8,985.8 1449.0,985.4 1450.2,985.2 1451.4,985.1 1452.6,984.8 1453.8,984.6 1455.0,984.9 1456.2,985.1 1457.4,985.0 1458.6,985.2 1459.8,985.5 1461.0,985.5 1462.2,985.2 1463.4,985.4 1464.6,986.1 1465.8,986.0 1467.0,985.6 1468.2,985.5 1469.4,985.2 1470.6,985.3 1471.8,985.5 1473.0,985.1 1474.2,984.7 1475.4,985.2 1476.6,985.3 1477.8,984.8 1479.0,984.8 1480.2,985.2 1481.4,985.4 1482.6,984.9 1483.8,984.6 1485.0,985.1 1486.2,985.4 1487.4,985.5 1488.6,985.2 1489.8,985.1 1491.0,985.4 1492.2,985.2 1493.4,985.2 1494.6,985.4 1495.8,985.5 1497.0,985.5 1498.2,985.6 1499.4,985.5 1500.6,985.4 1501.8,985.4 1503.0,985.3 1504.2,985.0 1505.4,984.4 1506.6,984.7 1507.8,985.8 1509.0,985.8 1510.2,985.7 1511.4,985.8 1512.6,985.3 1513.8,985.1 1515.0,985.4 1516.2,985.7 1517.4,985.6 1518.6,985.6 1519.8,985.8 1521.0,985.3 1522.2,985.0 1523.4,984.8 1524.6,984.7 1525.8,985.2 1527.0,985.5 1528.2,985.6 1529.4,985.5 1530.6,985.1 1531.8,984.9 1533.0,985.0 1534.2,985.2 1535.4,985.3 1536.6,985.1 1537.8,985.0 1539.0,985.4 1540.2,985.4 1541.4,984.9 1542.6,984.9 1543.8,984.9 1545.0,985.0 1546.2,985.2 1547.4,985.0 1548.6,984.6 1549.8,984.3 1551.0,984.2 1552.2,984.2 1553.4,984.4 1554.6,984.6 1555.8,984.9 1557.0,985.1 1558.2,984.8 1559.4,984.5 1560.6,984.2 1561.8,984.0 1563.0,984.3 1564.2,984.7 1565.4,984.3 1566.6,983.9 1567.8,983.9 1569.0,983.7 1570.2,983.5 1571.4,983.7 1572.6,983.9 1573.8,984.0 1575.0,983.9 1576.2,984.0 1577.4,984.5 1578.6,984.3 1579.8,983.8 1581.0,983.7 1582.2,984.0 1583.4,984.4 1584.6,984.5 1585.8,984.1 1587.0,983.8 1588.2,983.9 1589.4,984.1 1590.6,984.1 1591.8,983.5 1593.0,982.9 1594.2,982.8 1595.4,983.1 1596.6,983.5 1597.8,983.6 1599.0,983.4 1600.2,983.1 1601.4,983.0 1602.6,983.0 1603.8,983.1 1605.0,983.3 1606.2,983.4 1607.4,983.2 1608.6,982.7 1609.8,982.3 1611.0,982.7 1612.2,983.1 1613.4,982.9 1614.6,982.6 1615.8,982.4 1617.0,982.7 1618.2,983.2 1619.4,982.5 1620.6,982.1 1621.8,982.3 1623.0,982.3 1624.2,982.7 1625.4,982.9 1626.6,982.1 1627.8,981.7 1629.0,981.8 1630.2,981.9 1631.4,982.1 1632.6,982.0 1633.8,981.7 1635.0,981.7 1636.2,982.1 1637.4,982.2 1638.6,982.4 1639.8,982.2 1641.0,981.7 1642.2,982.2 1643.4,982.7 1644.6,982.1 1645.8,981.4 1647.0,981.3 1648.1,981.3 1649.3,981.0 1650.5,981.0 1651.7,981.3 1652.9,981.4 1654.1,981.3 1655.3,981.4 1656.5,981.6 1657.7,981.2 1658.9,980.8 1660.1,980.8 1661.3,980.9 1662.5,980.8 1663.7,980.6 1664.9,980.3 1666.1,980.2 1667.3,980.3 1668.5,980.4 1669.7,980.3 1670.9,980.1 1672.1,979.6 1673.3,979.7 1674.5,980.3 1675.7,980.2 1676.9,979.8 1678.1,979.8 1679.3,980.3 1680.5,980.3 1681.7,980.0 1682.9,980.0 1684.1,980.2 1685.3,980.4 1686.5,980.4 1687.7,979.6 1688.9,978.8 1690.1,978.8 1691.3,978.6 1692.5,978.4 1693.7,978.9 1694.9,979.1 1696.1,978.9 1697.3,978.8 1698.5,978.7 1699.7,978.7 1700.9,979.0 1702.1,979.2 1703.3,979.6 1704.5,979.7 1705.7,978.8 1706.9,978.2 1708.1,978.6 1709.3,978.6 1710.5,978.0 1711.7,978.0 1712.9,978.1 1714.1,978.1 1715.3,978.0 1716.5,977.9 1717.6,977.6 1718.8,977.3 1720.0,977.6 1721.2,977.6" stroke="#82161a" stroke-width="2.5"/>
<polyline points="185.9,931.2 186.8,930.4 187.6,929.5 188.4,928.5 189.2,927.6 190.1,926.7 190.9,926.1 191.7,925.7 192.5,924.5 193.4,923.5 194.2,922.8 195.0,921.7 195.9,920.5 196.7,919.9 197.6,919.5 198.4,918.2 199.2,916.9 200.1,916.3 200.9,915.6 201.8,914.5 202.6,914.0 203.4,914.0 204.3,913.3 205.1,911.7 206.0,910.6 206.8,909.7 207.7,908.8 208.5,908.2 209.4,907.5 210.2,906.6 211.1,905.9 211.9,905.3 212.8,904.4 213.6,903.2 214.5,902.1 215.3,901.3 216.2,900.3 217.0,899.2 217.9,898.2 218.7,897.5 219.6,897.0 220.4,896.2 221.3,895.5 222.2,895.0 223.0,893.9 223.9,892.6 224.7,892.1 225.6,891.9 226.5,891.1 227.3,889.7 228.2,888.9 229.0,888.0 229.9,886.5 230.8,885.2 231.6,885.1 232.5,885.2 233.3,884.3 234.2,883.1 235.1,882.0 235.9,881.4 236.8,880.8 237.7,879.7 238.5,879.1 239.4,878.7 240.2,877.4 241.1,876.1 242.0,875.1 242.8,874.1 243.7,873.7 244.6,873.3 245.4,872.2 246.3,871.0 247.1,869.6 248.0,868.8 248.9,868.5 249.7,867.5 250.6,866.6 251.5,866.3 252.3,865.6 253.2,864.5 254.0,863.5 254.9,862.5 255.8,862.2 256.6,861.8 257.5,860.7 258.3,859.7 259.2,859.0 260.1,858.1 260.9,857.4 261.8,856.9 262.6,855.6 263.5,854.4 264.4,853.6 265.2,852.7 266.1,851.7 266.9,850.6 267.8,849.3 268.6,848.2 269.5,847.8 270.4,847.8 271.2,847.2 272.1,845.7 272.9,844.6 273.8,844.0 274.6,843.5 275.5,843.2 276.3,842.6 277.2,841.4 278.0,840.4 278.9,839.4 279.7,838.4 280.6,837.6 281.4,836.6 282.2,835.9 283.1,835.1 283.9,834.5 284.8,833.4 285.6,831.8 286.5,831.1 287.3,830.6 288.1,829.8 289.0,829.2 289.8,828.4 290.6,827.4 291.5,826.7 292.3,825.7 293.1,824.7 294.0,824.1 294.8,823.3 295.6,822.3 296.5,821.1 297.3,820.1 298.1,819.3 298.9,818.3 299.8,817.2 300.6,816.7 301.4,816.0 302.2,814.8 303.0,813.8 303.9,813.2 304.7,812.7 305.5,811.9 306.3,810.9 307.1,810.1 307.9,809.2 308.7,808.1 309.5,806.9 310.3,805.6 311.1,804.8 311.9,804.5 312.7,803.8 313.5,802.7 314.3,802.1 315.1,801.2 315.9,800.0 316.7,798.8 317.5,797.6 318.3,796.9 319.1,796.5 319.9,795.5 320.7,794.6 321.5,794.0 322.3,792.5 323.1,791.3 323.9,790.8 324.7,790.1 325.5,789.4 326.3,788.6 327.1,787.7 327.9,787.0 328.7,786.2 329.5,785.0 330.3,783.8 331.1,782.8 332.0,782.2 332.8,781.6 333.6,780.6 334.4,779.4 335.3,778.5 336.1,777.6 336.9,777.1 337.8,776.8 338.6,775.7 339.5,774.7 340.3,773.8 341.2,773.0 342.0,772.2 342.9,771.5 343.8,771.1 344.7,769.9 345.5,768.5 346.4,767.5 347.3,767.0 348.2,766.8 349.1,766.0 350.1,764.7 351.0,764.2 351.9,763.8 352.8,762.7 353.8,762.0 354.7,761.6 355.7,760.7 356.7,759.9 357.6,759.6 358.6,759.1 359.6,758.0 360.6,756.7 361.6,755.7 362.6,755.3 363.6,754.8 364.7,754.2 365.7,753.6 366.7,752.8 367.8,752.3 368.8,752.0 369.9,751.4 371.0,750.6 372.1,750.3 373.1,750.4 374.2,749.5 375.3,748.6 376.5,748.6 377.6,748.4 378.7,747.2 379.8,746.3 381.0,746.3 382.1,746.1 383.3,745.4 384.4,745.6 385.6,745.8 386.7,745.3 387.9,745.0 389.1,744.8 390.3,744.0 391.4,743.4 392.6,743.7 393.8,744.0 395.0,743.8 396.2,743.4 397.4,743.6 398.6,743.5 399.8,743.2 401.0,743.1 402.2,743.1 403.4,743.4 404.6,743.6 405.8,743.5 407.0,743.2 408.2,742.9 409.4,742.8 410.6,743.3 411.8,743.7 412.9,743.7 414.1,743.9 415.3,744.1 416.5,744.1 417.7,744.4 418.9,744.6 420.0,744.4 421.2,744.3 422.3,744.8 423.5,745.4 424.6,746.2 425.8,747.2 426.9,747.8 428.0,747.9 429.1,748.1 430.2,748.3 431.2,748.8 432.3,749.8 433.3,750.4 434.4,750.4 435.4,750.4 436.4,750.8 437.4,751.7 438.4,753.0 439.3,754.4 440.3,755.4 441.2,756.1 442.2,756.8 443.1,757.0 444.0,757.7 444.8,759.0 445.7,759.5 446.6,759.6 447.4,760.3 448.3,761.7 449.1,762.9 449.9,763.6 450.7,764.4 451.5,765.9 452.3,766.9 453.0,767.3 453.8,767.8 454.6,769.2 455.3,770.8 456.0,771.6 456.8,772.1 457.5,773.4 458.2,774.8 458.9,775.5 459.6,775.8 460.3,776.6 461.0,777.8 461.7,779.1 462.4,780.0 463.1,780.3 463.7,781.6 464.4,783.8 465.1,784.9 465.7,785.7 466.4,786.5 467.1,786.6 467.7,787.6 468.4,789.0 469.0,789.9 469.7,791.0 470.3,791.9 470.9,792.4 471.6,793.4 472.2,795.0 472.8,796.4 473.5,797.1 474.1,797.7 474.7,798.7 475.3,799.9 475.9,801.1 476.5,802.2 477.2,803.1 477.8,804.1 478.4,805.5 479.0,806.9 479.6,808.0 480.2,808.7 480.7,809.5 481.3,810.5 481.9,811.5 482.5,813.0 483.1,814.1 483.7,814.8 484.2,815.9 484.8,816.6 485.4,817.5 486.0,819.2 486.5,820.4 487.1,820.7 487.7,821.0 488.2,822.4 488.8,824.4 489.4,825.7 489.9,826.8 490.5,827.9 491.0,828.2 491.6,828.8 492.1,830.3 492.7,831.7 493.2,832.7 493.8,833.7 494.3,834.4 494.9,835.1 495.4,836.4 496.0,837.8 496.5,838.9 497.1,840.1 497.6,840.8 498.2,841.6 498.7,842.9 499.2,844.3 499.8,845.5 500.3,846.4 500.9,847.6 501.4,849.3 501.9,850.3 502.5,850.5 503.0,851.5 503.5,852.9 504.1,853.7 504.6,854.6 505.2,855.8 505.7,856.9 506.2,858.0 506.8,859.7 507.3,861.2 507.8,862.2 508.4,863.0 508.9,863.8 509.5,865.0 510.0,866.1 510.5,867.0 511.1,868.3 511.6,869.3 512.2,870.0 512.7,871.4 513.3,873.0 513.8,873.6 514.4,874.5 514.9,875.8 515.5,876.3 516.0,877.4 516.5,879.2 517.1,880.3 517.7,881.3 518.2,882.7 518.8,883.5 519.3,884.2 519.9,885.4 520.4,886.3 521.0,887.0 521.5,888.0 522.1,889.0 522.7,890.0 523.2,891.4 523.8,893.0 524.4,894.1 524.9,895.1 525.5,896.0 526.1,896.8 526.7,897.6 527.2,898.6 527.8,900.4 528.4,901.8 529.0,902.6 529.5,903.5 530.1,904.5 530.7,905.6 531.3,906.6 531.9,907.4 532.5,908.2 533.1,909.1 533.7,910.3 534.3,911.6 534.9,912.7 535.5,913.8 536.1,915.1 536.7,915.8 537.3,916.5 537.9,917.8 538.5,919.1 539.1,920.1 539.7,921.2 540.3,922.2 541.0,922.4 541.6,922.9 542.2,924.3 542.8,925.9 543.5,927.4 544.1,928.3 544.7,928.9 545.4,929.8 546.0,930.7 546.7,931.7 547.3,933.1 548.0,934.0 548.6,934.7 549.3,935.6 549.9,936.7 550.6,938.0 551.2,939.4 551.9,940.8 552.6,942.0 553.2,942.8 553.9,943.4 554.6,944.2 555.3,945.0 556.0,945.7 556.6,946.9 557.3,948.4 558.0,949.2 558.7,949.9 559.4,951.0 560.1,951.8 560.8,952.6 561.5,953.8 562.2,955.2 562.9,956.1 563.7,956.7 564.4,957.7 565.1,959.0 565.8,960.0 566.6,960.8 567.3,961.6 568.0,962.9 568.8,963.8 569.5,964.3 570.3,965.4 571.0,966.4 571.8,967.2 572.6,968.7 573.4,970.0 574.1,970.3 574.9,970.3 575.7,971.2 576.5,972.8 577.4,973.8 578.2,974.2 579.0,975.2 579.8,976.3 580.7,977.0 581.5,977.5 582.4,978.3 583.3,979.4 584.1,980.6 585.0,981.6 585.9,982.2 586.8,982.9 587.8,983.7 588.7,984.2 589.6,984.8 590.6,985.9 591.5,986.7 592.5,987.3 593.5,988.0 594.5,988.8 595.5,989.4 596.5,989.8 597.5,990.6 598.5,991.7 599.6,992.2 600.6,992.7 601.7,992.8 602.7,993.0 603.8,993.9 604.9,994.7 606.0,995.1 607.1,994.9 608.2,995.2 609.3,996.0 610.4,996.7 611.5,997.4 612.6,998.0 613.8,998.2 614.9,998.2 616.0,998.7 617.2,999.3 618.3,999.1 619.5,999.6 620.6,1000.5 621.8,1000.5 622.9,1000.7 624.1,1001.6 625.2,1002.0 626.4,1002.1 627.6,1002.4 628.7,1002.4 629.9,1002.1 631.0,1002.6 632.2,1003.4 633.4,1003.8 634.5,1004.1 635.7,1004.0 636.9,1003.8 638.0,1004.3 639.2,1004.9 640.4,1005.3 641.5,1005.6 642.7,1005.8 643.9,1006.4 645.0,1006.7 646.2,1006.4 647.4,1006.6 648.5,1007.4 649.7,1007.7 650.9,1007.7 652.0,1007.7 653.2,1007.9 654.4,1009.0 655.5,1010.2 656.7,1010.3 657.8,1010.0 659.0,1010.2 660.2,1010.4 661.3,1010.3 662.5,1010.5 663.6,1011.1 664.7,1011.8 665.9,1012.2 667.0,1012.6 668.2,1012.8 669.3,1013.1 670.5,1014.0 671.6,1014.6 672.7,1014.5 673.9,1014.3 675.0,1014.9 676.1,1015.6 677.3,1015.7 678.4,1016.1 679.5,1017.2 680.6,1017.8 681.8,1017.7 682.9,1017.8 684.0,1018.3 685.2,1019.0 686.3,1019.4 687.4,1019.6 688.5,1020.1 689.7,1021.2 690.8,1021.7 691.9,1021.8 693.1,1022.1 694.2,1022.1 695.3,1022.3 696.5,1023.0 697.6,1023.2 698.7,1023.2 699.9,1023.8 701.0,1024.6 702.2,1025.0 703.3,1024.8 704.5,1025.1 705.6,1026.0 706.8,1026.4 707.9,1026.3 709.1,1026.5 710.2,1027.0 711.4,1027.3 712.6,1027.5 713.7,1027.5 714.9,1027.5 716.1,1028.0 717.2,1028.3 718.4,1028.3 719.6,1028.5 720.8,1028.6 722.0,1029.0 723.2,1029.4 724.4,1029.4 725.6,1029.8 726.8,1030.2 728.0,1030.2 729.2,1030.4 730.4,1030.1 731.6,1029.7 732.8,1029.7 734.0,1029.7 735.2,1029.3 736.4,1029.1 737.6,1029.2 738.8,1028.9 740.0,1029.0 741.1,1029.4 742.3,1029.7 743.5,1029.6 744.7,1028.8 745.9,1028.1 747.1,1028.2 748.3,1028.4 749.5,1028.6 750.7,1028.7 751.9,1028.7 753.1,1028.7 754.3,1028.6 755.5,1028.1 756.6,1027.3 757.8,1026.9 759.0,1027.4 760.2,1027.6 761.4,1027.1 762.6,1026.3 763.7,1025.9 764.9,1025.9 766.1,1026.2 767.3,1026.5 768.4,1026.2 769.6,1025.6 770.8,1025.1 772.0,1024.5 773.1,1024.2 774.3,1024.0 775.5,1023.5 776.7,1023.2 777.8,1023.2 779.0,1023.2 780.2,1023.3 781.3,1023.1 782.5,1022.5 783.7,1022.1 784.8,1021.8 786.0,1021.4 787.2,1020.8 788.3,1020.5 789.5,1020.2 790.7,1020.0 791.8,1020.2 793.0,1020.0 794.2,1019.0 795.3,1018.5 796.5,1018.5 797.6,1018.7 798.8,1018.8 800.0,1018.2 801.1,1017.7 802.3,1017.5 803.5,1017.5 804.6,1017.2 805.8,1016.5 806.9,1016.1 808.1,1016.0 809.3,1015.7 810.4,1015.2 811.6,1014.6 812.8,1014.6 813.9,1014.7 815.1,1014.5 816.2,1014.0 817.4,1013.6 818.6,1013.4 819.7,1013.5 820.9,1013.4 822.1,1012.8 823.2,1012.5 824.4,1012.6 825.6,1011.7 826.7,1010.8 827.9,1010.2 829.1,1009.7 830.2,1009.7 831.4,1010.0 832.6,1009.9 833.8,1009.9 834.9,1009.6 836.1,1009.1 837.3,1009.4 838.5,1009.5 839.6,1008.6 840.8,1007.6 842.0,1007.7 843.2,1007.7 844.4,1007.1 845.5,1006.9 846.7,1007.1 847.9,1007.4 849.1,1007.4 850.3,1006.9 851.5,1006.6 852.6,1006.4 853.8,1005.9 855.0,1005.1 856.2,1004.8 857.4,1004.7 858.6,1004.6 859.8,1005.1 861.0,1004.9 862.2,1004.2 863.3,1004.5 864.5,1004.9 865.7,1004.6 866.9,1004.5 868.1,1004.3 869.3,1004.2 870.5,1004.5 871.7,1004.4 872.9,1003.7 874.1,1003.3 875.3,1003.7 876.5,1004.1 877.7,1004.0 878.9,1003.7 880.1,1003.8 881.3,1004.0 882.5,1003.4 883.7,1002.7 884.9,1002.2 886.1,1001.9 887.3,1002.3 888.5,1002.7 889.7,1002.7 890.9,1003.1 892.1,1003.3 893.3,1002.8 894.5,1002.5 895.7,1002.6 896.9,1002.7 898.1,1002.4 899.3,1002.3 900.5,1002.4 901.7,1002.1 902.9,1002.3 904.0,1002.6 905.2,1002.8 906.4,1002.9 907.6,1003.2 908.8,1003.1 910.0,1002.5 911.2,1001.9 912.4,1001.9 913.6,1002.0 914.8,1002.4 916.0,1002.7 917.2,1002.2 918.4,1001.5 919.6,1001.7 920.8,1001.9 922.0,1002.0 923.2,1002.2 924.4,1001.9 925.6,1001.8 926.8,1002.1 928.0,1001.9 929.2,1001.8 930.4,1002.1 931.6,1001.8 932.8,1001.5 934.0,1002.0 935.2,1002.1 936.4,1002.1 937.6,1002.3 938.8,1002.3 940.0,1002.3 941.2,1002.4 942.4,1002.5 943.6,1002.4 944.8,1002.1 946.0,1001.8 947.2,1001.3 948.4,1001.1 949.6,1001.4 950.8,1002.0 952.0,1001.7 953.2,1000.8 954.4,1000.9 955.6,1001.6 956.8,1001.8 958.0,1001.4 959.2,1001.0 960.4,1001.3 961.6,1002.0 962.8,1001.9 964.0,1001.1 965.2,1000.8 966.4,1001.2 967.6,1001.7 968.8,1001.6 970.0,1001.3 971.2,1001.3 972.4,1001.3 973.6,1001.5 974.8,1001.4 976.0,1000.9 977.2,1000.8 978.4,1001.0 979.6,1000.8 980.8,1000.5 982.0,1000.2 983.2,1000.3 984.4,1000.8 985.6,1000.9 986.8,1000.6 988.0,1000.5 989.2,1000.6 990.4,1000.7 991.6,1000.8 992.8,1000.5 994.0,1000.0 995.2,999.7 996.4,999.6 997.6,999.6 998.8,999.2 1000.0,998.8 1001.2,998.7 1002.4,999.3 1003.6,999.9 1004.8,999.5 1006.0,999.1 1007.2,999.0 1008.4,998.6 1009.6,998.5 1010.8,998.7 1012.0,999.0 1013.2,999.2 1014.4,998.6 1015.6,998.2 1016.7,998.7 1017.9,998.5 1019.1,997.8 1020.3,997.6 1021.5,997.8 1022.7,997.8 1023.9,997.7 1025.1,997.6 1026.3,997.3 1027.5,997.6 1028.7,997.8 1029.9,997.2 1031.1,997.1 1032.3,997.5 1033.5,997.2 1034.7,996.7 1035.9,996.9 1037.1,996.7 1038.3,996.5 1039.5,996.3 1040.7,996.1 1041.9,996.1 1043.0,996.3 1044.2,996.2 1045.4,995.9 1046.6,996.0 1047.8,996.1 1049.0,995.9 1050.2,995.3 1051.4,994.7 1052.6,994.9 1053.8,995.3 1055.0,995.2 1056.2,994.5 1057.4,994.2 1058.6,994.4 1059.8,994.4 1061.0,994.1 1062.2,994.2 1063.3,994.2 1064.5,993.5 1065.7,992.9 1066.9,992.8 1068.1,993.1 1069.3,993.6 1070.5,993.6 1071.7,993.3 1072.9,993.2 1074.1,993.1 1075.3,992.6 1076.5,992.1 1077.7,992.3 1078.9,992.3 1080.0,991.9 1081.2,991.8 1082.4,991.6 1083.6,991.6 1084.8,991.3 1086.0,991.2 1087.2,991.1 1088.4,990.9 1089.6,990.8 1090.8,990.6 1092.0,990.3 1093.2,990.2 1094.4,990.2 1095.6,990.6 1096.7,991.1 1097.9,991.1 1099.1,990.6 1100.3,990.7 1101.5,990.7 1102.7,989.9 1103.9,989.3 1105.1,989.3 1106.3,989.6 1107.5,989.5 1108.7,989.0 1109.9,988.7 1111.1,988.6 1112.2,988.4 1113.4,988.3 1114.6,988.3 1115.8,988.3 1117.0,987.9 1118.2,987.8 1119.4,987.9 1120.6,987.5 1121.8,987.3 1123.0,987.2 1124.2,987.1 1125.4,987.4 1126.6,987.7 1127.7,987.4 1128.9,986.9 1130.1,986.8 1131.3,986.8 1132.5,986.3 1133.7,985.8 1134.9,986.0 1136.1,986.2 1137.3,985.7 1138.5,985.4 1139.7,985.4 1140.9,985.5 1142.1,985.2 1143.3,984.4 1144.4,984.3 1145.6,984.8 1146.8,985.1 1148.0,985.3 1149.2,985.1 1150.4,984.5 1151.6,983.5 1152.8,983.1 1154.0,983.4 1155.2,983.4 1156.4,983.4 1157.6,983.4 1158.8,983.5 1160.0,983.7 1161.2,983.3 1162.3,983.1 1163.5,983.2 1164.7,983.1 1165.9,982.7 1167.1,982.8 1168.3,982.8 1169.5,982.4 1170.7,982.2 1171.9,982.1 1173.1,981.7 1174.3,981.5 1175.5,981.6 1176.7,982.0 1177.9,982.2 1179.1,982.1 1180.3,981.7 1181.5,981.2 1182.7,981.1 1183.8,981.2 1185.0,980.8 1186.2,980.5 1187.4,980.5 1188.6,980.7 1189.8,981.0 1191.0,980.9 1192.2,980.6 1193.4,980.5 1194.6,979.9 1195.8,979.5 1197.0,980.3 1198.2,980.5 1199.4,980.3 1200.6,980.4 1201.8,979.9 1203.0,979.1 1204.2,978.6 1205.4,978.7 1206.6,979.6 1207.8,979.9 1209.0,979.4 1210.2,979.1 1211.4,979.1 1212.5,978.9 1213.7,978.6 1214.9,978.6 1216.1,978.2 1217.3,978.3 1218.5,978.6 1219.7,978.3 1220.9,977.8 1222.1,978.0 1223.3,978.5 1224.5,977.9 1225.7,977.3 1226.9,977.6 1228.1,978.1 1229.3,977.8 1230.5,977.6 1231.7,977.5 1232.9,977.4 1234.1,977.3 1235.3,976.8 1236.5,976.6 1237.7,977.1 1238.9,977.5 1240.1,977.0 1241.3,976.5 1242.5,976.7 1243.7,977.0 1244.9,977.0 1246.1,977.2 1247.3,977.1 1248.5,976.9 1249.7,976.9 1250.9,976.2 1252.1,975.8 1253.3,976.1 1254.5,976.2 1255.7,976.0 1256.9,975.9 1258.1,976.2 1259.3,976.6 1260.5,976.6 1261.7,976.5 1262.9,976.3 1264.1,975.6 1265.3,975.6 1266.5,975.8 1267.7,975.1 1268.9,974.7 1270.0,974.9 1271.2,975.0 1272.4,975.2 1273.6,975.3 1274.8,975.6 1276.0,975.6 1277.2,975.0 1278.4,974.6 1279.6,974.7 1280.8,975.1 1282.0,975.3 1283.2,975.0 1284.4,974.4 1285.6,973.7 1286.8,974.2 1288.0,974.8 1289.2,974.6 1290.4,974.6 1291.6,974.5 1292.8,974.1 1294.0,974.3 1295.2,974.7 1296.4,974.5 1297.6,974.1 1298.8,974.2 1300.0,974.3 1301.2,974.3 1302.4,974.2 1303.6,974.2 1304.8,973.9 1306.0,973.9 1307.2,974.1 1308.4,974.2 1309.6,974.2 1310.8,974.1 1312.0,974.1 1313.2,974.1 1314.4,973.9 1315.6,973.6 1316.8,973.7 1318.0,974.2 1319.2,974.4 1320.4,974.5 1321.6,974.8 1322.8,974.4 1324.0,973.7 1325.2,974.0 1326.4,974.2 1327.6,973.4 1328.8,972.9 1330.0,973.2 1331.2,973.5 1332.4,973.4 1333.6,973.2 1334.8,973.6 1336.0,974.2 1337.2,974.0 1338.4,973.4 1339.6,972.9 1340.8,972.8 1342.0,972.8 1343.2,972.8 1344.4,972.9 1345.6,973.3 1346.8,973.6 1348.0,973.3 1349.2,972.7 1350.4,972.8 1351.6,973.0 1352.8,972.9 1354.0,973.0 1355.2,973.1 1356.4,972.7 1357.6,972.7 1358.8,972.8 1360.0,973.0 1361.2,973.0 1362.4,972.5 1363.6,972.6 1364.8,972.8 1366.0,972.8 1367.2,972.9 1368.4,972.8 1369.6,972.5 1370.8,972.7 1372.0,973.0 1373.2,972.7 1374.4,972.4 1375.6,972.3 1376.8,972.3 1378.0,972.5 1379.2,972.3 1380.4,972.1 1381.6,972.4 1382.8,972.5 1384.0,972.4 1385.2,972.5 1386.4,972.9 1387.6,973.0 1388.8,972.8 1390.0,972.6 1391.2,972.6 1392.4,972.5 1393.6,972.3 1394.8,972.4 1396.0,972.8 1397.2,972.9 1398.4,972.6 1399.6,972.5 1400.8,972.7 1402.0,972.6 1403.2,971.8 1404.4,971.5 1405.6,972.3 1406.8,973.2 1408.0,973.0 1409.2,972.6 1410.4,972.9 1411.6,972.7 1412.8,972.5 1414.0,972.6 1415.2,972.4 1416.4,972.2 1417.6,972.4 1418.8,972.2 1420.0,972.2 1421.2,972.6 1422.4,972.8 1423.6,972.6 1424.8,972.6 1426.0,972.7 1427.2,972.3 1428.4,972.3 1429.6,973.0 1430.8,972.7 1432.0,972.2 1433.2,972.6 1434.4,972.9 1435.6,972.9 1436.8,973.1 1438.0,972.5 1439.2,971.9 1440.4,972.0 1441.6,972.3 1442.8,972.6 1444.0,972.9 1445.2,972.7 1446.4,972.6 1447.6,972.4 1448.8,972.2 1450.0,972.2 1451.2,972.9 1452.4,973.3 1453.6,973.1 1454.8,973.1 1456.0,973.0 1457.2,972.5 1458.4,972.5 1459.6,973.2 1460.8,973.3 1462.0,972.9 1463.2,972.8 1464.4,972.7 1465.6,972.4 1466.8,972.3 1468.0,972.5 1469.2,972.6 1470.4,972.5 1471.6,972.7 1472.8,972.6 1474.0,972.3 1475.2,972.2 1476.4,972.4 1477.6,972.4 1478.8,972.4 1480.0,972.5 1481.2,972.4 1482.4,972.3 1483.6,972.5 1484.8,972.5 1486.0,972.4 1487.2,972.8 1488.4,973.1 1489.6,973.0 1490.8,972.7 1492.0,972.7 1493.2,972.4 1494.4,972.3 1495.6,972.7 1496.8,972.4 1498.0,972.2 1499.2,972.6 1500.4,972.6 1501.6,972.2 1502.8,972.4 1504.0,972.4 1505.2,971.7 1506.4,971.6 1507.6,972.0 1508.8,972.3 1510.0,972.6 1511.2,972.8 1512.4,973.1 1513.6,973.1 1514.8,972.7 1516.0,972.5 1517.2,972.5 1518.4,972.9 1519.6,973.1 1520.8,973.0 1522.0,972.8 1523.2,972.6 1524.4,972.4 1525.6,972.2 1526.8,972.1 1528.0,972.4 1529.2,972.5 1530.4,972.3 1531.6,972.3 1532.8,972.2 1534.0,972.5 1535.2,972.5 1536.4,972.4 1537.6,972.7 1538.8,972.3 1540.0,971.8 1541.2,972.1 1542.4,972.5 1543.6,972.1 1544.8,971.6 1546.0,971.9 1547.2,972.2 1548.4,972.3 1549.6,972.5 1550.8,972.7 1552.0,972.6 1553.2,972.1 1554.4,971.9 1555.6,972.3 1556.8,972.1 1558.0,972.0 1559.2,972.5 1560.4,972.6 1561.6,972.2 1562.8,972.3 1564.0,972.6 1565.2,972.3 1566.4,971.9 1567.6,972.1 1568.8,972.2 1570.0,971.8 1571.2,972.1 1572.4,972.4 1573.6,971.8 1574.8,971.6 1576.0,972.0 1577.2,972.1 1578.4,972.0 1579.6,971.5 1580.8,971.4 1582.0,971.4 1583.2,971.7 1584.4,971.8 1585.6,971.3 1586.8,971.2 1588.0,971.4 1589.2,971.5 1590.4,971.7 1591.6,971.9 1592.8,972.4 1594.0,972.6 1595.2,972.4 1596.4,972.1 1597.6,971.5 1598.8,971.1 1600.0,971.2 1601.2,971.3 1602.4,971.3 1603.6,971.8 1604.8,972.0 1606.0,971.2 1607.2,970.9 1608.4,971.6 1609.6,971.6 1610.8,971.2 1612.0,971.3 1613.2,971.7 1614.4,971.6 1615.6,971.1 1616.8,971.3 1618.0,972.0 1619.2,972.2 1620.4,971.8 1621.6,971.3 1622.8,971.1 1624.0,971.5 1625.2,971.3 1626.4,971.0 1627.6,971.3 1628.8,971.3 1630.0,970.6 1631.2,970.1 1632.4,970.7 1633.6,971.5 1634.8,971.3 1636.0,971.0 1637.2,970.8 1638.4,970.6 1639.6,970.6 1640.8,970.4 1642.0,970.4 1643.2,970.8 1644.4,971.0 1645.6,970.6 1646.8,970.0 1648.0,970.2 1649.2,971.0 1650.4,970.8 1651.6,970.7 1652.8,971.0 1654.0,970.9 1655.2,970.9 1656.4,971.2 1657.6,971.1 1658.8,970.5 1660.0,970.3 1661.2,970.5 1662.4,970.5 1663.6,970.3 1664.8,969.9 1666.0,969.9 1667.2,970.2 1668.4,970.0 1669.6,969.8 1670.8,970.1 1672.0,970.0 1673.2,969.6 1674.4,969.5 1675.6,969.5 1676.8,969.3 1678.0,969.0 1679.2,969.1 1680.4,969.5 1681.6,969.5 1682.8,969.1 1684.0,969.3 1685.2,969.1 1686.4,968.6 1687.6,968.1 1688.8,967.9 1690.0,968.4 1691.2,968.5 1692.4,967.7 1693.5,967.2 1694.7,967.6 1695.9,967.8 1697.1,967.8 1698.3,967.8 1699.5,968.1 1700.7,968.7 1701.9,968.7 1703.1,968.2 1704.3,968.0 1705.5,967.8 1706.7,967.5 1707.9,967.6 1709.1,967.8 1710.3,967.7 1711.5,967.9 1712.7,968.1 1713.9,968.0 1715.1,967.6 1716.3,967.1 1717.5,967.1 1718.7,967.1 1719.9,966.9 1721.1,967.1" stroke="#5c1414" stroke-width="2.5"/>
<polyline points="186.5,937.5 187.4,936.5 188.3,935.6 189.2,935.1 190.1,934.7 191.0,933.8 191.9,932.3 192.8,931.1 193.7,930.5 194.6,929.9 195.5,928.8 196.5,928.0 197.4,927.8 198.3,927.5 199.2,927.2 200.2,926.5 201.1,925.4 202.0,924.3 202.9,923.5 203.9,922.7 204.8,921.5 205.7,920.4 206.7,920.0 207.6,919.5 208.6,918.7 209.5,918.1 210.5,917.6 211.4,916.8 212.4,916.0 213.3,915.1 214.3,914.0 215.2,913.4 216.2,913.1 217.1,912.4 218.1,911.7 219.0,910.6 220.0,909.7 220.9,909.1 221.9,908.3 222.9,907.5 223.8,906.4 224.8,905.1 225.7,904.3 226.7,904.3 227.7,903.9 228.6,902.7 229.6,901.8 230.5,901.8 231.5,901.6 232.5,900.6 233.4,899.7 234.4,898.5 235.4,897.5 236.3,897.2 237.3,897.0 238.2,896.6 239.2,896.2 240.2,895.5 241.1,894.8 242.1,894.2 243.0,893.2 244.0,891.8 245.0,891.2 245.9,891.0 246.9,890.0 247.8,889.2 248.8,888.7 249.7,887.7 250.7,886.8 251.6,886.2 252.6,885.7 253.5,885.3 254.5,884.5 255.4,883.2 256.4,882.6 257.3,882.3 258.3,881.0 259.2,879.5 260.1,879.1 261.1,879.0 262.0,878.1 262.9,876.9 263.9,876.3 264.8,875.5 265.7,874.4 266.7,873.8 267.6,873.1 268.5,872.1 269.4,871.6 270.3,871.0 271.2,869.9 272.2,869.4 273.1,869.4 274.0,868.3 274.9,866.8 275.8,866.3 276.7,865.6 277.6,864.8 278.5,864.0 279.4,863.1 280.3,863.1 281.2,862.8 282.1,861.3 283.0,860.3 283.9,859.7 284.8,858.5 285.7,857.6 286.6,857.2 287.5,856.6 288.3,855.4 289.2,854.8 290.1,854.7 291.0,853.7 291.9,852.3 292.8,850.8 293.7,850.0 294.6,849.9 295.5,849.3 296.4,848.4 297.3,847.8 298.2,846.7 299.1,845.7 300.0,845.3 300.8,844.4 301.7,842.9 302.6,842.0 303.5,841.1 304.4,840.0 305.3,839.4 306.3,839.3 307.2,838.4 308.1,837.4 309.0,836.9 309.9,836.2 310.8,835.3 311.7,834.3 312.6,833.5 313.5,832.9 314.5,832.2 315.4,831.5 316.3,830.8 317.2,830.0 318.2,829.4 319.1,829.0 320.0,827.9 321.0,826.7 321.9,825.9 322.8,825.0 323.8,824.4 324.7,823.8 325.7,823.1 326.6,822.4 327.6,821.1 328.6,820.2 329.5,819.8 330.5,819.4 331.5,818.9 332.4,818.2 333.4,817.3 334.4,816.3 335.4,815.7 336.4,815.4 337.4,815.2 338.4,814.9 339.3,813.8 340.3,813.0 341.4,812.5 342.4,811.6 343.4,810.4 344.4,809.7 345.4,809.7 346.4,809.2 347.5,808.2 348.5,807.7 349.5,807.2 350.6,806.4 351.6,805.4 352.6,804.4 353.7,804.0 354.7,804.1 355.8,803.7 356.9,803.2 357.9,802.9 359.0,802.6 360.1,802.0 361.1,801.6 362.2,801.4 363.3,800.3 364.4,798.8 365.5,798.1 366.6,798.0 367.7,797.8 368.8,797.6 369.9,797.4 371.0,796.9 372.1,796.2 373.3,795.7 374.4,795.4 375.5,795.1 376.6,794.6 377.8,793.9 378.9,793.6 380.1,793.3 381.2,792.8 382.4,792.3 383.5,792.1 384.7,792.2 385.9,792.1 387.0,791.2 388.2,790.7 389.4,790.8 390.6,791.0 391.7,791.1 392.9,790.5 394.1,789.6 395.3,789.3 396.5,789.2 397.7,789.4 398.9,789.5 400.1,789.4 401.3,789.4 402.5,789.7 403.7,789.9 404.9,789.6 406.1,789.7 407.3,790.5 408.5,790.4 409.7,789.8 410.9,790.0 412.1,790.2 413.2,790.5 414.4,790.7 415.6,790.8 416.8,791.2 417.9,791.5 419.1,791.6 420.2,791.9 421.4,792.3 422.5,792.6 423.6,793.6 424.7,794.0 425.8,793.9 426.9,794.5 428.0,795.1 429.1,795.8 430.1,797.0 431.2,797.8 432.2,797.9 433.3,798.0 434.3,798.7 435.3,799.5 436.3,800.7 437.3,801.7 438.3,802.7 439.2,803.4 440.2,803.5 441.2,803.8 442.1,804.2 443.1,805.2 444.0,806.5 444.9,807.0 445.8,807.5 446.7,808.4 447.7,809.2 448.5,810.0 449.4,810.8 450.3,811.7 451.2,812.3 452.0,812.9 452.9,813.9 453.7,815.1 454.6,815.9 455.4,816.3 456.3,816.9 457.1,817.7 457.9,818.9 458.7,820.1 459.5,821.3 460.3,822.3 461.1,822.8 461.9,823.4 462.7,824.8 463.5,825.9 464.2,826.2 465.0,826.8 465.8,827.9 466.5,829.1 467.3,830.2 468.0,831.0 468.8,832.2 469.5,833.6 470.2,834.6 471.0,835.5 471.7,836.0 472.4,836.3 473.2,837.5 473.9,838.7 474.6,839.6 475.3,840.9 476.0,841.8 476.8,842.4 477.5,843.0 478.2,843.6 478.9,844.9 479.6,846.4 480.3,847.3 481.0,848.0 481.8,848.9 482.5,850.0 483.2,851.0 483.9,852.1 484.6,853.2 485.4,853.8 486.1,854.3 486.8,855.5 487.6,856.8 488.3,857.6 489.0,858.4 489.8,859.5 490.5,860.9 491.2,861.9 492.0,862.3 492.7,863.0 493.5,864.5 494.2,865.9 494.9,866.6 495.7,866.7 496.4,867.1 497.2,867.9 497.9,869.2 498.7,871.0 499.4,872.5 500.2,873.1 500.9,873.4 501.6,874.1 502.4,875.1 503.1,875.7 503.9,877.0 504.6,878.7 505.4,879.7 506.1,880.2 506.8,881.5 507.6,882.8 508.3,883.3 509.1,883.9 509.8,884.8 510.5,885.5 511.2,886.6 512.0,888.2 512.7,889.5 513.4,890.4 514.2,891.1 514.9,891.6 515.6,892.5 516.3,893.9 517.0,894.9 517.7,895.8 518.4,896.5 519.2,897.3 519.9,898.6 520.6,899.6 521.3,900.1 522.0,901.0 522.7,902.1 523.4,903.0 524.1,904.3 524.8,905.4 525.5,905.9 526.2,906.9 526.9,908.2 527.6,909.2 528.3,910.2 529.0,911.4 529.7,912.6 530.4,913.7 531.1,914.6 531.8,915.4 532.5,916.2 533.2,917.0 533.9,918.0 534.6,919.0 535.3,920.1 536.0,921.4 536.7,922.3 537.4,923.0 538.2,923.6 538.9,924.5 539.6,925.8 540.3,927.1 541.1,928.0 541.8,928.6 542.5,929.6 543.3,931.5 544.0,932.5 544.8,932.7 545.5,933.7 546.3,934.5 547.0,934.8 547.8,935.7 548.6,936.6 549.3,937.9 550.1,939.2 550.9,939.5 551.7,940.2 552.5,941.2 553.3,941.9 554.1,942.7 554.9,943.8 555.7,945.1 556.5,946.2 557.3,946.8 558.1,947.5 559.0,948.8 559.8,950.0 560.6,950.5 561.5,950.7 562.3,951.6 563.2,953.1 564.1,954.1 564.9,954.6 565.8,955.2 566.7,956.5 567.6,957.5 568.5,957.9 569.3,958.4 570.2,959.4 571.2,960.3 572.1,961.4 573.0,962.1 573.9,962.6 574.8,963.0 575.8,963.6 576.7,964.6 577.6,965.3 578.6,965.7 579.6,966.6 580.5,967.9 581.5,969.0 582.5,969.1 583.4,969.2 584.4,970.0 585.4,971.0 586.4,972.2 587.4,972.8 588.4,973.2 589.4,974.0 590.5,974.6 591.5,975.2 592.5,976.3 593.6,976.8 594.6,976.8 595.7,977.3 596.7,978.1 597.8,978.5 598.9,979.1 599.9,980.1 601.0,980.8 602.1,981.3 603.2,981.8 604.3,981.9 605.4,982.1 606.5,982.7 607.6,983.2 608.7,983.8 609.8,984.3 610.9,984.5 612.1,985.2 613.2,986.0 614.3,986.2 615.4,986.6 616.6,987.1 617.7,987.0 618.8,987.0 620.0,987.5 621.1,987.7 622.2,988.1 623.4,989.0 624.5,989.4 625.7,989.9 626.8,990.5 628.0,990.7 629.1,991.0 630.2,991.4 631.4,991.4 632.5,991.2 633.7,991.1 634.8,991.8 636.0,992.6 637.1,993.1 638.3,993.7 639.4,994.5 640.5,995.0 641.7,994.7 642.8,994.5 644.0,994.6 645.1,995.2 646.3,996.0 647.4,996.2 648.6,996.1 649.7,996.8 650.9,997.7 652.0,998.8 653.1,999.0 654.3,998.8 655.4,999.1 656.6,999.3 657.7,999.5 658.9,999.9 660.0,1000.4 661.2,1000.9 662.4,1001.0 663.5,1001.4 664.7,1001.7 665.8,1001.8 667.0,1002.1 668.1,1002.1 669.3,1002.4 670.4,1003.1 671.6,1003.1 672.8,1003.6 673.9,1004.2 675.1,1004.3 676.2,1004.7 677.4,1005.4 678.6,1005.6 679.7,1005.6 680.9,1006.0 682.1,1006.0 683.2,1006.0 684.4,1006.2 685.6,1006.5 686.7,1006.8 687.9,1007.2 689.1,1007.3 690.3,1007.6 691.4,1008.1 692.6,1008.8 693.8,1008.8 695.0,1009.0 696.2,1009.6 697.3,1009.7 698.5,1009.9 699.7,1009.9 700.9,1009.8 702.1,1010.4 703.3,1010.7 704.4,1010.3 705.6,1010.3 706.8,1010.7 708.0,1010.8 709.2,1010.7 710.4,1010.6 711.6,1011.1 712.8,1011.4 714.0,1011.3 715.2,1011.8 716.4,1012.4 717.6,1012.3 718.7,1012.8 719.9,1012.8 721.1,1012.4 722.3,1012.9 723.5,1012.8 724.7,1012.1 725.9,1011.9 727.1,1012.1 728.3,1012.2 729.5,1012.1 730.7,1011.7 731.9,1011.8 733.1,1012.3 734.3,1012.3 735.5,1011.9 736.7,1011.7 737.9,1011.7 739.1,1011.4 740.3,1011.1 741.5,1011.1 742.7,1011.2 743.9,1011.3 745.1,1011.0 746.3,1010.0 747.4,1009.6 748.6,1009.8 749.8,1009.7 751.0,1009.4 752.2,1009.5 753.4,1009.3 754.5,1008.8 755.7,1008.8 756.9,1008.8 758.1,1008.6 759.3,1008.7 760.5,1008.6 761.6,1008.5 762.8,1008.1 764.0,1007.7 765.2,1008.1 766.4,1008.3 767.6,1008.3 768.8,1007.9 770.0,1007.3 771.2,1007.2 772.4,1007.0 773.5,1006.8 774.7,1006.9 775.9,1006.6 777.1,1005.8 778.3,1005.6 779.5,1005.6 780.7,1005.4 781.9,1005.4 783.1,1005.7 784.3,1005.8 785.5,1005.7 786.7,1005.5 787.8,1005.3 789.0,1005.6 790.2,1006.0 791.4,1005.4 792.6,1004.3 793.8,1003.8 795.0,1004.0 796.2,1004.4 797.4,1004.3 798.6,1004.8 799.8,1004.8 801.0,1003.6 802.2,1003.1 803.4,1003.5 804.6,1004.0 805.7,1003.8 806.9,1003.1 808.1,1002.4 809.3,1002.7 810.5,1002.6 811.7,1002.0 812.9,1002.1 814.1,1002.3 815.3,1001.8 816.5,1001.4 817.7,1001.8 818.9,1002.0 820.1,1001.4 821.3,1001.2 822.5,1001.7 823.7,1001.7 824.8,1001.1 826.0,1001.1 827.2,1001.0 828.4,1001.0 829.6,1000.9 830.8,1000.5 832.0,1000.4 833.2,1000.5 834.4,1000.9 835.6,1001.0 836.8,1000.5 838.0,999.9 839.2,999.5 840.4,999.4 841.6,999.8 842.8,999.7 844.0,998.9 845.2,998.8 846.3,998.9 847.5,998.4 848.7,998.2 849.9,998.5 851.1,998.5 852.3,998.8 853.5,999.0 854.7,998.8 855.9,998.6 857.1,998.5 858.3,998.3 859.5,998.3 860.7,998.0 861.9,997.2 863.1,997.0 864.3,997.0 865.5,997.0 866.7,997.1 867.9,997.0 869.0,996.8 870.2,996.5 871.4,996.2 872.6,996.3 873.8,996.4 875.0,996.4 876.2,996.5 877.4,996.6 878.6,996.5 879.8,996.4 881.0,996.5 882.2,996.2 883.4,995.7 884.6,995.9 885.8,996.4 887.0,996.4 888.2,996.0 889.4,995.6 890.6,995.2 891.8,994.8 893.0,994.7 894.1,994.5 895.3,994.6 896.5,995.1 897.7,995.2 898.9,995.0 900.1,994.6 901.3,994.1 902.5,994.0 903.7,994.0 904.9,994.1 906.1,993.6 907.3,993.3 908.5,993.5 909.7,993.7 910.9,993.6 912.1,993.5 913.3,993.3 914.5,992.9 915.7,992.8 916.9,993.0 918.1,992.7 919.3,992.3 920.5,992.3 921.7,992.4 922.8,992.4 924.0,992.2 925.2,992.0 926.4,991.8 927.6,991.7 928.8,991.8 930.0,991.8 931.2,991.8 932.4,992.0 933.6,991.6 934.8,991.0 936.0,991.3 937.2,992.0 938.4,991.7 939.6,990.9 940.8,990.7 942.0,990.7 943.2,990.6 944.4,990.4 945.6,990.1 946.8,990.4 948.0,991.0 949.2,990.7 950.4,990.0 951.6,989.9 952.8,990.0 954.0,989.8 955.2,989.5 956.3,989.6 957.5,990.1 958.7,990.4 959.9,990.2 961.1,989.6 962.3,989.0 963.5,988.6 964.7,988.6 965.9,988.9 967.1,989.2 968.3,989.0 969.5,988.7 970.7,988.7 971.9,988.7 973.1,988.5 974.3,988.3 975.5,988.5 976.7,988.8 977.9,988.9 979.1,988.8 980.3,988.1 981.5,987.7 982.7,987.7 983.9,987.3 985.1,987.4 986.3,988.4 987.5,988.5 988.7,987.7 989.9,987.1 991.1,986.5 992.3,986.3 993.5,987.0 994.7,987.3 995.8,987.4 997.0,987.0 998.2,986.7 999.4,987.2 1000.6,987.0 1001.8,986.2 1003.0,986.3 1004.2,986.6 1005.4,986.6 1006.6,986.4 1007.8,986.0 1009.0,985.9 1010.2,986.1 1011.4,985.8 1012.6,985.6 1013.8,986.1 1015.0,986.3 1016.2,985.8 1017.4,985.5 1018.6,985.6 1019.8,985.8 1021.0,985.5 1022.2,985.0 1023.4,984.8 1024.6,984.8 1025.8,984.7 1027.0,984.9 1028.2,984.8 1029.4,984.4 1030.6,984.6 1031.8,984.7 1033.0,984.7 1034.2,984.6 1035.4,984.4 1036.6,984.2 1037.8,984.4 1039.0,984.6 1040.2,984.3 1041.4,984.1 1042.6,984.1 1043.8,984.1 1044.9,984.3 1046.1,984.5 1047.3,984.7 1048.5,984.3 1049.7,984.1 1050.9,984.0 1052.1,983.4 1053.3,983.0 1054.5,982.8 1055.7,982.6 1056.9,982.8 1058.1,983.2 1059.3,983.4 1060.5,983.1 1061.7,982.5 1062.9,982.0 1064.1,982.0 1065.3,982.0 1066.5,982.0 1067.7,981.8 1068.9,981.4 1070.1,981.6 1071.3,982.4 1072.5,982.8 1073.7,982.1 1074.9,981.5 1076.1,981.3 1077.3,981.7 1078.5,982.0 1079.7,981.9 1080.9,981.6 1082.1,981.6 1083.3,981.9 1084.5,981.5 1085.7,981.1 1086.9,980.9 1088.1,980.6 1089.3,980.8 1090.5,981.3 1091.7,981.3 1092.9,980.8 1094.1,980.6 1095.3,980.8 1096.5,981.3 1097.7,981.1 1098.9,980.8 1100.1,980.9 1101.3,980.9 1102.5,980.8 1103.7,980.8 1104.9,980.7 1106.1,980.7 1107.3,980.7 1108.4,980.6 1109.6,980.3 1110.8,980.0 1112.0,980.0 1113.2,979.9 1114.4,979.5 1115.6,979.5 1116.8,980.0 1118.0,980.4 1119.2,980.4 1120.4,980.0 1121.6,979.6 1122.8,979.4 1124.0,979.2 1125.2,979.1 1126.4,979.2 1127.6,979.3 1128.8,979.1 1130.0,979.2 1131.2,979.1 1132.4,978.9 1133.6,979.1 1134.8,979.4 1136.0,979.6 1137.2,979.3 1138.4,978.6 1139.6,978.3 1140.8,978.3 1142.0,978.5 1143.2,978.5 1144.4,978.4 1145.6,978.4 1146.8,978.6 1148.0,978.3 1149.2,977.6 1150.4,977.4 1151.6,977.7 1152.8,978.1 1154.0,978.3 1155.2,978.0 1156.4,977.9 1157.6,978.1 1158.8,978.1 1160.0,977.5 1161.2,977.2 1162.4,977.6 1163.6,978.1 1164.8,977.8 1166.0,977.6 1167.2,977.8 1168.4,977.6 1169.6,977.3 1170.8,977.1 1172.0,977.1 1173.2,977.3 1174.4,977.6 1175.6,977.5 1176.8,976.9 1178.0,976.3 1179.2,976.0 1180.4,976.2 1181.6,976.9 1182.8,977.6 1184.0,977.6 1185.2,977.0 1186.4,976.4 1187.6,976.3 1188.8,976.7 1190.0,976.5 1191.2,976.3 1192.4,976.5 1193.6,976.4 1194.8,976.0 1196.0,975.8 1197.2,975.8 1198.4,976.2 1199.6,976.6 1200.8,976.6 1202.0,975.9 1203.2,975.4 1204.3,975.6 1205.5,975.7 1206.7,975.8 1207.9,975.9 1209.1,976.0 1210.3,976.2 1211.5,975.9 1212.7,975.7 1213.9,975.6 1215.1,975.8 1216.3,975.9 1217.5,975.5 1218.7,975.2 1219.9,975.5 1221.1,975.5 1222.3,975.1 1223.5,975.3 1224.7,975.7 1225.9,975.8 1227.1,975.6 1228.3,975.0 1229.5,974.4 1230.7,974.4 1231.9,974.5 1233.1,974.3 1234.3,974.2 1235.5,974.5 1236.7,974.8 1237.9,974.6 1239.1,974.6 1240.3,974.7 1241.5,974.5 1242.7,974.6 1243.9,974.6 1245.1,974.4 1246.3,974.5 1247.5,974.5 1248.7,974.5 1249.9,974.2 1251.1,973.9 1252.3,974.2 1253.5,974.3 1254.7,974.3 1255.9,974.3 1257.1,974.2 1258.3,974.4 1259.5,974.7 1260.7,974.3 1261.9,973.6 1263.1,973.4 1264.3,973.6 1265.5,973.8 1266.7,973.9 1267.9,973.6 1269.1,973.3 1270.3,973.3 1271.5,973.3 1272.7,973.0 1273.9,972.6 1275.1,972.7 1276.3,972.9 1277.5,973.1 1278.7,973.3 1279.9,973.4 1281.1,973.6 1282.3,973.2 1283.5,972.6 1284.7,972.6 1285.9,973.2 1287.1,974.2 1288.3,974.0 1289.5,973.2 1290.7,973.0 1291.9,972.7 1293.1,972.5 1294.3,972.9 1295.5,972.9 1296.7,972.4 1297.9,971.9 1299.1,971.7 1300.3,972.3 1301.5,972.6 1302.7,972.1 1303.9,971.7 1305.1,971.9 1306.3,972.4 1307.5,972.4 1308.7,972.2 1309.9,971.8 1311.1,971.4 1312.3,971.3 1313.5,971.5 1314.7,971.8 1315.9,971.7 1317.1,971.7 1318.3,971.9 1319.5,971.7 1320.7,971.5 1321.9,971.9 1323.1,972.4 1324.3,972.0 1325.5,971.9 1326.7,971.5 1327.9,970.6 1329.1,971.2 1330.3,971.9 1331.5,971.6 1332.7,971.0 1333.9,970.8 1335.1,971.2 1336.3,971.7 1337.5,971.9 1338.7,972.2 1339.9,972.3 1341.1,971.9 1342.3,971.4 1343.5,971.3 1344.7,971.4 1345.9,971.5 1347.1,971.2 1348.3,971.0 1349.5,971.1 1350.7,971.1 1351.9,970.9 1353.1,971.4 1354.3,971.9 1355.5,971.8 1356.7,971.1 1357.9,970.6 1359.1,970.9 1360.3,971.0 1361.5,970.8 1362.7,970.3 1363.9,970.5 1365.1,971.1 1366.3,970.9 1367.5,970.5 1368.7,970.3 1369.9,970.1 1371.1,970.2 1372.3,970.0 1373.5,969.6 1374.7,969.8 1375.9,970.0 1377.1,969.8 1378.3,969.6 1379.5,969.6 1380.7,969.7 1381.9,970.1 1383.1,970.1 1384.3,969.7 1385.5,970.2 1386.7,970.9 1387.8,970.9 1389.0,970.3 1390.2,969.6 1391.4,969.3 1392.6,969.2 1393.8,968.8 1395.0,969.1 1396.2,969.5 1397.4,969.6 1398.6,969.8 1399.8,969.6 1401.0,969.7 1402.2,969.9 1403.4,969.8 1404.6,969.5 1405.8,969.5 1407.0,969.4 1408.2,969.3 1409.4,969.3 1410.6,969.2 1411.8,969.3 1413.0,969.3 1414.2,968.8 1415.4,968.6 1416.6,968.7 1417.8,968.8 1419.0,968.9 1420.2,969.3 1421.4,969.3 1422.6,968.6 1423.8,968.6 1425.0,969.1 1426.2,969.0 1427.4,968.5 1428.6,968.7 1429.8,969.0 1431.0,968.6 1432.2,968.3 1433.4,968.4 1434.6,968.7 1435.8,968.7 1437.0,968.4 1438.2,968.4 1439.4,968.4 1440.6,968.3 1441.8,968.5 1443.0,968.5 1444.2,968.4 1445.4,968.8 1446.6,968.8 1447.8,968.5 1449.0,968.5 1450.2,968.5 1451.4,968.4 1452.6,968.5 1453.8,968.5 1455.0,968.0 1456.2,967.7 1457.4,968.2 1458.6,968.3 1459.8,968.1 1461.0,968.3 1462.2,968.4 1463.4,968.3 1464.6,968.1 1465.8,968.0 1467.0,967.7 1468.2,967.4 1469.4,967.4 1470.6,967.8 1471.8,968.1 1473.0,967.8 1474.2,967.9 1475.4,968.3 1476.6,968.2 1477.8,968.1 1479.0,968.1 1480.2,967.9 1481.4,967.3 1482.6,967.2 1483.8,967.4 1485.0,967.4 1486.2,967.6 1487.4,967.7 1488.6,966.8 1489.8,966.5 1491.0,967.5 1492.2,967.8 1493.4,967.5 1494.6,967.4 1495.8,967.3 1497.0,967.3 1498.2,967.1 1499.4,967.1 1500.6,967.2 1501.8,967.1 1503.0,967.0 1504.2,966.6 1505.4,966.5 1506.6,966.7 1507.8,967.0 1509.0,966.8 1510.2,966.5 1511.4,966.5 1512.6,966.5 1513.8,966.4 1515.0,966.6 1516.2,966.9 1517.4,966.5 1518.6,966.1 1519.8,966.0 1521.0,966.4 1522.2,966.6 1523.4,966.6 1524.6,966.9 1525.8,966.8 1527.0,966.7 1528.2,966.9 1529.4,966.9 1530.6,966.6 1531.8,966.2 1533.0,966.0 1534.2,966.4 1535.4,966.7 1536.6,966.6 1537.8,966.6 1539.0,966.3 1540.2,966.3 1541.4,966.4 1542.6,966.4 1543.8,966.2 1545.0,965.9 1546.2,965.9 1547.4,966.1 1548.6,966.3 1549.8,966.3 1551.0,965.9 1552.2,965.7 1553.4,965.5 1554.6,965.4 1555.8,965.5 1557.0,965.5 1558.2,965.7 1559.4,966.1 1560.6,966.0 1561.8,965.5 1563.0,965.5 1564.2,965.8 1565.4,965.9 1566.6,965.9 1567.8,965.9 1569.0,965.5 1570.2,965.2 1571.4,965.5 1572.6,965.6 1573.8,965.6 1575.0,965.5 1576.2,965.4 1577.4,965.9 1578.6,966.2 1579.8,965.7 1581.0,965.3 1582.2,965.9 1583.4,966.1 1584.6,965.3 1585.8,965.1 1587.0,965.2 1588.2,964.6 1589.4,964.2 1590.6,964.7 1591.8,965.2 1593.0,964.8 1594.2,964.6 1595.4,964.4 1596.6,964.6 1597.8,965.0 1599.0,964.9 1600.2,964.4 1601.4,964.1 1602.6,964.6 1603.8,965.0 1605.0,964.5 1606.2,964.5 1607.4,964.8 1608.6,964.7 1609.8,964.5 1611.0,964.8 1612.2,965.0 1613.4,964.7 1614.6,964.6 1615.8,964.5 1617.0,964.2 1618.2,964.2 1619.4,964.6 1620.6,964.4 1621.8,964.0 1623.0,964.0 1624.2,964.0 1625.4,964.0 1626.6,964.2 1627.8,964.1 1629.0,963.7 1630.2,963.9 1631.4,964.8 1632.6,965.2 1633.8,964.9 1635.0,964.3 1636.2,963.7 1637.4,963.5 1638.6,963.5 1639.8,963.8 1641.0,964.2 1642.2,963.6 1643.4,963.2 1644.6,963.5 1645.8,963.2 1647.0,963.1 1648.2,963.5 1649.4,963.7 1650.6,963.5 1651.8,963.5 1653.0,963.3 1654.2,963.3 1655.4,963.2 1656.6,962.9 1657.8,962.7 1659.0,963.4 1660.2,963.9 1661.4,963.6 1662.6,963.8 1663.8,963.6 1665.0,962.6 1666.2,962.5 1667.4,962.7 1668.6,962.8 1669.8,963.0 1671.0,963.0 1672.2,962.8 1673.4,962.6 1674.6,962.5 1675.8,962.4 1677.0,962.7 1678.2,963.0 1679.4,963.0 1680.6,962.9 1681.8,962.5 1683.0,962.2 1684.2,962.2 1685.4,962.6 1686.6,963.1 1687.8,963.2 1689.0,963.2 1690.2,963.0 1691.4,962.5 1692.6,962.1 1693.8,962.0 1695.0,962.1 1696.2,962.4 1697.4,963.2 1698.6,963.3 1699.8,962.4 1701.0,962.1 1702.2,962.6 1703.4,962.9 1704.6,962.5 1705.8,962.2 1707.0,962.0 1708.2,962.1 1709.4,962.5 1710.6,962.6 1711.8,962.5 1713.0,962.5 1714.2,962.0 1715.4,961.4 1716.6,961.5 1717.8,961.5 1719.0,961.2 1720.2,961.8 1721.3,962.2" stroke="#3c1616" stroke-width="2.5"/>
<polyline points="185.4,939.2 186.5,938.7 187.6,938.0 188.7,937.2 189.8,936.1 190.9,935.5 192.0,935.6 193.0,935.4 194.1,935.2 195.2,934.9 196.3,934.2 197.4,933.3 198.4,932.6 199.5,932.1 200.6,931.3 201.6,930.6 202.7,930.3 203.8,930.0 204.8,929.3 205.9,928.4 207.0,927.8 208.0,927.2 209.1,927.0 210.1,926.6 211.2,926.1 212.2,925.9 213.3,925.4 214.4,925.1 215.4,924.6 216.4,923.1 217.5,922.2 218.5,921.8 219.6,921.4 220.6,921.2 221.7,920.8 222.7,920.1 223.7,919.3 224.8,918.5 225.8,917.8 226.9,917.2 227.9,916.9 228.9,916.3 229.9,915.2 231.0,914.3 232.0,913.9 233.0,913.3 234.1,912.5 235.1,912.3 236.1,911.9 237.1,910.9 238.1,910.5 239.2,910.4 240.2,909.2 241.2,908.3 242.2,907.9 243.2,907.6 244.3,906.8 245.3,905.7 246.3,905.2 247.3,904.8 248.3,904.0 249.3,903.3 250.3,903.0 251.3,902.7 252.3,901.9 253.4,901.1 254.4,900.4 255.4,899.5 256.4,898.7 257.4,898.6 258.4,898.4 259.4,897.5 260.4,896.6 261.4,896.2 262.4,895.8 263.4,894.6 264.4,893.3 265.4,893.1 266.4,893.4 267.4,892.7 268.4,891.2 269.4,890.0 270.4,889.3 271.4,888.9 272.4,888.4 273.4,887.8 274.4,887.0 275.4,886.1 276.4,885.5 277.4,884.9 278.4,883.9 279.4,883.1 280.4,882.6 281.4,882.1 282.4,881.3 283.4,880.8 284.4,880.5 285.4,879.6 286.4,878.5 287.4,878.4 288.4,878.1 289.4,877.4 290.4,876.9 291.4,875.9 292.4,875.1 293.4,874.7 294.4,873.8 295.4,873.0 296.4,872.4 297.4,871.6 298.4,871.3 299.4,870.5 300.4,870.0 301.4,869.7 302.5,868.1 303.5,867.0 304.5,866.9 305.5,866.1 306.5,865.4 307.5,865.1 308.5,864.7 309.5,864.1 310.5,863.3 311.6,862.6 312.6,862.0 313.6,861.1 314.6,860.9 315.6,860.8 316.6,859.9 317.7,859.0 318.7,857.9 319.7,856.7 320.7,856.1 321.8,856.2 322.8,856.4 323.8,855.8 324.8,855.5 325.9,855.2 326.9,853.9 327.9,852.7 329.0,852.3 330.0,851.9 331.0,851.2 332.1,850.4 333.1,849.7 334.2,849.3 335.2,849.0 336.2,848.1 337.3,847.3 338.3,846.8 339.4,846.0 340.4,845.3 341.5,844.9 342.5,844.6 343.6,844.1 344.6,843.5 345.7,843.3 346.8,842.9 347.8,842.0 348.9,841.2 350.0,840.8 351.0,840.3 352.1,839.8 353.2,839.5 354.3,839.0 355.3,838.0 356.4,837.4 357.5,837.1 358.6,836.1 359.7,835.2 360.8,834.7 361.9,834.7 363.0,834.8 364.1,834.4 365.2,833.7 366.3,833.5 367.5,833.1 368.6,832.4 369.7,832.0 370.8,831.6 372.0,830.8 373.1,830.0 374.2,829.3 375.4,829.0 376.5,829.2 377.7,829.4 378.8,829.4 380.0,829.2 381.2,828.6 382.3,828.0 383.5,827.6 384.7,827.6 385.8,827.6 387.0,827.4 388.2,826.5 389.4,825.8 390.6,826.4 391.8,826.3 392.9,825.4 394.1,825.4 395.3,826.0 396.5,826.4 397.7,826.6 398.9,826.4 400.1,825.5 401.3,824.9 402.5,825.2 403.7,825.6 404.9,826.0 406.1,826.2 407.3,826.0 408.5,826.5 409.7,827.0 410.9,826.4 412.1,826.3 413.3,827.1 414.4,827.5 415.6,827.3 416.8,827.2 417.9,827.4 419.1,828.0 420.3,828.3 421.4,828.6 422.5,829.2 423.7,829.6 424.8,829.7 426.0,829.8 427.1,830.7 428.2,831.5 429.3,832.0 430.4,832.8 431.5,833.0 432.6,833.0 433.7,833.5 434.8,834.4 435.9,835.5 436.9,836.3 438.0,836.6 439.0,836.9 440.1,837.5 441.1,837.7 442.2,837.9 443.2,838.7 444.3,839.6 445.3,840.5 446.3,841.3 447.3,841.3 448.3,841.2 449.3,841.7 450.3,842.7 451.3,844.0 452.3,844.3 453.3,844.4 454.2,845.0 455.2,845.9 456.2,847.3 457.1,849.1 458.1,850.3 459.0,850.2 460.0,849.9 460.9,850.2 461.8,851.3 462.8,852.7 463.7,853.4 464.6,853.9 465.5,854.4 466.4,855.0 467.3,855.7 468.2,856.9 469.1,857.9 470.0,858.4 470.9,859.4 471.7,860.6 472.6,861.3 473.5,861.7 474.3,861.8 475.2,862.6 476.0,864.3 476.9,865.7 477.7,866.6 478.6,867.7 479.4,868.7 480.2,869.9 481.1,871.0 481.9,871.3 482.7,871.5 483.6,872.4 484.4,873.4 485.2,874.4 486.1,875.4 486.9,876.3 487.7,877.0 488.5,877.8 489.4,878.6 490.2,879.3 491.0,880.1 491.8,881.2 492.7,882.2 493.5,883.0 494.3,883.9 495.2,885.0 496.0,885.7 496.8,886.0 497.7,886.9 498.5,888.4 499.3,889.9 500.2,890.5 501.0,890.5 501.9,891.2 502.7,892.6 503.5,893.2 504.4,893.5 505.2,894.5 506.1,896.0 506.9,897.0 507.8,897.3 508.6,897.7 509.4,898.6 510.3,899.4 511.1,900.2 512.0,901.1 512.8,902.1 513.7,902.9 514.5,903.8 515.4,905.0 516.2,906.0 517.1,907.1 517.9,907.9 518.7,908.3 519.6,909.0 520.4,909.9 521.3,910.5 522.1,911.2 523.0,912.1 523.8,913.4 524.6,915.0 525.5,915.3 526.3,915.6 527.2,917.2 528.0,918.4 528.9,919.0 529.7,919.5 530.5,920.1 531.4,921.2 532.2,921.8 533.1,922.4 533.9,923.4 534.8,924.5 535.6,925.9 536.5,927.2 537.4,927.7 538.2,927.9 539.1,928.9 539.9,929.6 540.8,929.4 541.6,929.6 542.5,930.9 543.4,932.5 544.3,933.7 545.1,934.7 546.0,935.6 546.9,936.1 547.8,936.7 548.6,937.3 549.5,938.2 550.4,939.4 551.3,940.5 552.2,941.6 553.1,942.5 554.0,942.9 554.9,943.5 555.8,944.0 556.7,944.7 557.6,945.4 558.5,945.8 559.5,946.5 560.4,947.5 561.3,948.3 562.2,949.2 563.2,950.2 564.1,951.1 565.1,952.1 566.0,952.9 567.0,953.4 567.9,954.0 568.9,955.2 569.8,956.5 570.8,957.1 571.8,957.2 572.8,957.5 573.7,958.2 574.7,958.8 575.7,959.3 576.7,960.1 577.7,961.5 578.7,962.5 579.7,962.4 580.8,962.7 581.8,963.8 582.8,964.6 583.8,964.6 584.9,964.9 585.9,965.7 587.0,966.6 588.0,967.2 589.1,967.9 590.1,968.5 591.2,968.9 592.3,969.2 593.4,969.6 594.4,970.3 595.5,971.0 596.6,971.6 597.7,972.5 598.8,973.2 599.9,973.5 601.0,974.0 602.2,974.1 603.3,973.7 604.4,973.8 605.5,974.8 606.7,975.9 607.8,976.1 608.9,975.7 610.1,975.6 611.2,975.7 612.4,976.7 613.5,978.2 614.7,978.8 615.8,978.7 617.0,978.6 618.1,978.8 619.3,979.1 620.5,979.2 621.6,978.9 622.8,978.9 624.0,979.7 625.1,980.5 626.3,981.1 627.5,981.1 628.6,980.9 629.8,981.5 631.0,982.3 632.2,982.2 633.3,982.0 634.5,982.8 635.7,983.7 636.9,984.1 638.0,983.8 639.2,983.9 640.4,983.8 641.6,983.6 642.7,983.9 643.9,984.4 645.1,984.4 646.3,984.6 647.5,985.2 648.7,985.6 649.8,985.7 651.0,986.1 652.2,986.5 653.4,986.3 654.6,986.0 655.7,986.0 656.9,986.5 658.1,987.2 659.3,987.8 660.5,987.9 661.6,987.7 662.8,987.8 664.0,988.2 665.2,988.6 666.3,988.9 667.5,989.2 668.7,989.9 669.9,990.1 671.0,989.9 672.2,989.6 673.4,989.8 674.6,990.1 675.8,990.2 676.9,991.0 678.1,991.5 679.3,991.4 680.5,991.7 681.6,991.8 682.8,991.9 684.0,992.0 685.2,992.2 686.3,992.5 687.5,992.7 688.7,993.2 689.9,993.3 691.1,993.1 692.2,993.5 693.4,994.2 694.6,994.4 695.8,994.5 697.0,994.6 698.1,994.5 699.3,994.2 700.5,994.4 701.7,995.1 702.9,995.1 704.1,995.3 705.2,996.0 706.4,996.6 707.6,996.8 708.8,996.8 710.0,996.7 711.2,996.9 712.4,997.7 713.6,998.0 714.8,997.7 715.9,997.7 717.1,997.6 718.3,997.7 719.5,998.3 720.7,998.6 721.9,998.1 723.1,998.1 724.3,998.2 725.5,998.4 726.7,998.7 727.9,998.5 729.1,998.5 730.3,998.5 731.5,998.5 732.7,998.8 733.9,999.2 735.1,999.3 736.3,999.4 737.5,999.0 738.7,998.1 739.9,998.0 741.1,998.5 742.3,998.8 743.5,998.7 744.7,998.5 745.9,997.9 747.1,997.6 748.3,997.8 749.5,998.0 750.7,997.9 751.9,997.8 753.1,998.0 754.3,997.7 755.5,997.2 756.7,997.4 757.9,997.6 759.1,997.4 760.2,996.8 761.4,996.0 762.6,995.6 763.8,995.9 765.0,996.1 766.2,996.0 767.4,995.7 768.6,995.6 769.8,995.6 771.0,995.4 772.2,995.6 773.4,995.7 774.6,995.2 775.8,994.7 777.0,994.8 778.2,994.9 779.3,994.7 780.5,994.8 781.7,995.2 782.9,994.8 784.1,994.0 785.3,993.9 786.5,994.0 787.7,994.0 788.9,993.8 790.1,993.7 791.3,993.7 792.5,993.5 793.7,993.5 794.9,993.4 796.0,993.1 797.2,993.2 798.4,993.5 799.6,993.1 800.8,992.4 802.0,992.6 803.2,993.1 804.4,992.9 805.6,992.2 806.8,991.9 808.0,991.7 809.2,991.2 810.4,991.0 811.6,990.7 812.7,990.5 813.9,990.7 815.1,991.1 816.3,991.2 817.5,990.7 818.7,990.1 819.9,990.1 821.1,990.6 822.3,990.4 823.5,990.3 824.7,990.3 825.9,989.6 827.1,989.4 828.3,989.2 829.5,988.7 830.7,989.1 831.8,989.3 833.0,988.9 834.2,989.2 835.4,989.4 836.6,989.2 837.8,989.2 839.0,988.4 840.2,987.5 841.4,988.0 842.6,988.6 843.8,988.6 845.0,988.7 846.2,988.4 847.4,987.8 848.6,987.5 849.8,987.3 851.0,987.2 852.2,987.2 853.3,987.5 854.5,987.4 855.7,986.9 856.9,987.1 858.1,987.4 859.3,987.1 860.5,986.2 861.7,985.7 862.9,986.0 864.1,986.6 865.3,986.7 866.5,986.0 867.7,985.3 868.9,985.1 870.1,985.3 871.3,985.5 872.5,985.5 873.7,985.6 874.9,985.8 876.0,985.3 877.2,984.4 878.4,983.9 879.6,983.9 880.8,984.2 882.0,984.2 883.2,983.8 884.4,983.6 885.6,984.1 886.8,984.6 888.0,984.3 889.2,983.4 890.4,983.1 891.6,983.4 892.8,983.5 894.0,983.5 895.2,983.1 896.4,982.9 897.6,982.9 898.8,982.6 900.0,982.7 901.2,982.9 902.4,983.0 903.5,983.0 904.7,982.3 905.9,981.9 907.1,982.3 908.3,982.6 909.5,982.6 910.7,982.8 911.9,982.5 913.1,981.7 914.3,981.7 915.5,981.9 916.7,982.1 917.9,982.3 919.1,981.9 920.3,981.3 921.5,981.1 922.7,981.4 923.9,981.4 925.1,981.1 926.3,980.6 927.5,980.6 928.7,980.9 929.9,981.1 931.1,981.6 932.3,981.8 933.5,981.1 934.7,980.1 935.9,979.7 937.0,979.8 938.2,979.7 939.4,979.8 940.6,979.9 941.8,979.9 943.0,980.1 944.2,979.9 945.4,979.3 946.6,978.8 947.8,978.8 949.0,979.6 950.2,980.0 951.4,979.6 952.6,978.9 953.8,978.4 955.0,978.5 956.2,978.9 957.4,979.2 958.6,979.0 959.8,978.6 961.0,978.3 962.2,978.4 963.4,978.6 964.6,978.5 965.8,978.5 967.0,978.4 968.2,977.6 969.4,977.1 970.6,977.0 971.8,977.0 973.0,977.2 974.2,977.1 975.4,976.9 976.6,977.6 977.7,977.5 978.9,976.7 980.1,976.8 981.3,976.9 982.5,977.0 983.7,977.0 984.9,977.2 986.1,977.2 987.3,976.9 988.5,976.6 989.7,976.3 990.9,976.3 992.1,976.6 993.3,977.0 994.5,976.7 995.7,976.2 996.9,976.4 998.1,975.8 999.3,975.3 1000.5,976.0 1001.7,976.5 1002.9,976.0 1004.1,975.6 1005.3,975.9 1006.5,976.0 1007.7,975.6 1008.9,975.2 1010.1,975.0 1011.3,975.6 1012.5,976.1 1013.7,975.6 1014.9,975.1 1016.1,975.3 1017.3,975.6 1018.5,975.7 1019.7,975.7 1020.9,975.8 1022.1,975.9 1023.3,975.4 1024.5,974.3 1025.7,973.5 1026.9,973.2 1028.1,973.8 1029.3,974.4 1030.5,973.9 1031.7,973.7 1032.9,973.5 1034.0,973.4 1035.2,973.9 1036.4,974.2 1037.6,973.8 1038.8,973.8 1040.0,974.0 1041.2,973.8 1042.4,973.6 1043.6,973.6 1044.8,973.5 1046.0,973.4 1047.2,972.9 1048.4,972.7 1049.6,973.3 1050.8,973.8 1052.0,973.7 1053.2,972.9 1054.4,972.6 1055.6,973.0 1056.8,973.1 1058.0,972.6 1059.2,971.9 1060.4,971.6 1061.6,972.2 1062.8,972.6 1064.0,972.7 1065.2,972.9 1066.4,972.6 1067.6,972.1 1068.8,972.0 1070.0,972.3 1071.2,972.7 1072.4,972.5 1073.6,971.9 1074.8,971.6 1076.0,971.6 1077.2,971.3 1078.4,971.6 1079.6,971.5 1080.8,971.0 1082.0,971.4 1083.2,971.8 1084.4,971.6 1085.6,971.0 1086.8,970.8 1088.0,971.4 1089.2,971.9 1090.4,971.7 1091.6,971.0 1092.8,970.8 1094.0,970.9 1095.2,971.0 1096.4,971.4 1097.6,971.0 1098.8,970.4 1100.0,970.6 1101.2,970.5 1102.4,970.0 1103.6,969.9 1104.8,970.2 1106.0,970.1 1107.2,970.0 1108.4,970.5 1109.6,971.0 1110.8,971.5 1112.0,971.5 1113.2,971.1 1114.4,971.1 1115.6,971.0 1116.8,970.6 1118.0,970.1 1119.2,970.0 1120.4,970.0 1121.6,970.0 1122.8,969.9 1124.0,969.4 1125.2,969.0 1126.4,969.0 1127.6,969.1 1128.8,969.4 1129.9,969.3 1131.1,968.8 1132.3,969.6 1133.5,970.3 1134.7,969.6 1135.9,969.0 1137.1,968.9 1138.3,969.0 1139.5,969.6 1140.7,970.1 1141.9,970.0 1143.1,969.6 1144.3,969.4 1145.5,969.2 1146.7,969.0 1147.9,968.9 1149.1,969.1 1150.3,969.8 1151.5,970.2 1152.7,969.4 1153.9,968.7 1155.1,968.6 1156.3,968.4 1157.5,968.1 1158.7,967.9 1159.9,968.4 1161.1,968.7 1162.3,968.4 1163.5,968.1 1164.7,968.4 1165.9,969.1 1167.1,968.9 1168.3,968.1 1169.5,968.1 1170.7,968.5 1171.9,968.4 1173.1,968.0 1174.3,967.8 1175.5,967.7 1176.7,967.7 1177.9,968.0 1179.1,967.9 1180.3,967.7 1181.5,967.6 1182.7,967.5 1183.9,967.8 1185.1,968.0 1186.3,967.7 1187.5,967.3 1188.7,967.4 1189.9,967.6 1191.1,967.3 1192.3,967.2 1193.5,967.9 1194.7,968.1 1195.9,967.2 1197.1,966.3 1198.3,966.4 1199.5,966.7 1200.7,966.8 1201.9,967.1 1203.1,966.9 1204.3,966.5 1205.5,966.9 1206.7,967.4 1207.9,967.5 1209.1,967.5 1210.3,967.5 1211.5,967.3 1212.7,967.0 1213.9,966.4 1215.1,966.3 1216.3,966.9 1217.5,967.0 1218.7,966.9 1219.9,967.3 1221.1,967.5 1222.3,967.0 1223.5,966.7 1224.7,967.1 1225.9,967.4 1227.1,967.3 1228.3,967.1 1229.5,966.6 1230.7,966.2 1231.9,966.5 1233.1,966.6 1234.3,966.4 1235.5,967.0 1236.7,967.7 1237.9,967.3 1239.1,966.4 1240.3,966.1 1241.5,966.5 1242.7,966.9 1243.9,966.8 1245.1,966.7 1246.3,966.7 1247.5,966.2 1248.7,965.9 1249.9,965.8 1251.1,965.8 1252.3,965.9 1253.5,965.8 1254.7,965.9 1255.9,966.3 1257.1,966.3 1258.3,965.9 1259.5,965.6 1260.7,965.3 1261.9,965.3 1263.1,965.0 1264.3,964.8 1265.5,965.7 1266.7,966.4 1267.9,966.3 1269.1,966.1 1270.3,966.1 1271.5,965.9 1272.7,965.7 1273.9,965.5 1275.1,965.1 1276.3,965.1 1277.5,965.2 1278.7,965.3 1279.9,965.5 1281.1,965.1 1282.3,965.0 1283.5,965.8 1284.7,965.8 1285.9,965.3 1287.1,965.4 1288.3,965.3 1289.5,965.3 1290.7,965.3 1291.9,964.8 1293.1,964.5 1294.3,964.6 1295.5,964.5 1296.7,964.6 1297.9,965.1 1299.1,965.4 1300.3,965.5 1301.5,965.6 1302.7,965.5 1303.9,965.5 1305.1,965.7 1306.3,965.7 1307.5,965.0 1308.7,964.8 1309.9,965.0 1311.1,964.9 1312.3,964.9 1313.5,964.9 1314.7,964.9 1315.9,965.0 1317.1,964.8 1318.3,964.8 1319.5,964.9 1320.7,964.7 1321.9,964.2 1323.1,963.6 1324.3,963.5 1325.5,964.0 1326.7,964.0 1327.9,964.0 1329.1,964.5 1330.3,964.8 1331.5,964.3 1332.7,963.7 1333.9,964.3 1335.1,964.8 1336.3,964.4 1337.5,964.1 1338.7,964.1 1339.9,964.6 1341.1,965.2 1342.3,964.9 1343.5,964.3 1344.7,964.5 1345.9,964.7 1347.1,964.4 1348.3,964.5 1349.5,964.8 1350.7,964.5 1351.9,964.2 1353.1,964.3 1354.3,964.3 1355.5,964.4 1356.7,964.4 1357.9,964.1 1359.1,964.0 1360.3,964.4 1361.5,964.5 1362.7,964.3 1363.9,964.4 1365.1,964.8 1366.3,964.6 1367.5,964.0 1368.7,964.0 1369.9,964.2 1371.1,964.1 1372.3,964.0 1373.5,963.8 1374.7,963.7 1375.9,963.6 1377.1,963.4 1378.3,963.8 1379.5,964.7 1380.7,965.0 1381.9,964.2 1383.1,963.9 1384.3,964.0 1385.5,964.0 1386.7,964.1 1387.9,963.8 1389.1,964.0 1390.3,964.3 1391.5,963.7 1392.7,963.5 1393.9,963.7 1395.1,963.6 1396.3,963.4 1397.5,962.9 1398.7,962.6 1399.9,963.1 1401.1,963.5 1402.3,963.7 1403.5,963.8 1404.7,963.5 1405.9,962.7 1407.1,962.5 1408.3,962.9 1409.5,963.4 1410.7,963.8 1411.9,963.9 1413.1,963.4 1414.3,963.1 1415.5,963.3 1416.7,963.6 1417.9,963.4 1419.1,963.0 1420.3,962.6 1421.5,962.4 1422.7,963.1 1423.9,963.7 1425.1,963.4 1426.3,963.0 1427.5,963.0 1428.7,962.7 1429.9,962.0 1431.1,962.2 1432.3,963.0 1433.5,963.7 1434.7,963.7 1435.9,963.2 1437.1,962.6 1438.3,962.7 1439.5,963.2 1440.7,963.0 1441.9,962.9 1443.1,963.0 1444.3,962.9 1445.5,962.5 1446.7,962.5 1447.9,963.0 1449.1,962.8 1450.3,962.9 1451.5,963.7 1452.7,964.0 1453.9,964.0 1455.1,963.6 1456.3,963.1 1457.5,963.2 1458.7,963.4 1459.9,963.4 1461.1,963.2 1462.3,963.0 1463.5,963.0 1464.7,963.2 1465.9,963.1 1467.1,962.8 1468.3,962.9 1469.5,963.3 1470.7,963.6 1471.9,963.2 1473.1,962.5 1474.3,962.1 1475.5,962.2 1476.7,962.3 1477.9,962.5 1479.1,962.6 1480.3,962.6 1481.5,963.1 1482.7,963.3 1483.9,963.1 1485.1,962.9 1486.3,963.0 1487.5,963.3 1488.7,963.1 1489.9,963.1 1491.1,963.3 1492.3,962.9 1493.5,962.6 1494.7,962.9 1495.9,962.9 1497.1,962.7 1498.3,962.7 1499.5,962.6 1500.7,962.6 1501.9,962.5 1503.1,962.4 1504.3,962.0 1505.5,961.6 1506.7,962.2 1507.9,962.7 1509.1,962.4 1510.3,962.1 1511.5,962.4 1512.7,962.9 1513.9,962.9 1515.1,962.4 1516.3,961.8 1517.5,961.5 1518.7,962.0 1519.9,962.6 1521.1,962.2 1522.3,961.9 1523.5,962.3 1524.7,961.9 1525.9,961.4 1527.1,961.8 1528.3,962.4 1529.5,962.3 1530.7,962.2 1531.9,962.5 1533.1,962.7 1534.3,962.8 1535.5,962.4 1536.7,962.0 1537.9,962.6 1539.1,963.0 1540.3,962.6 1541.5,962.0 1542.7,961.9 1543.9,961.8 1545.1,961.4 1546.3,960.9 1547.5,960.9 1548.7,961.8 1549.9,962.4 1551.1,962.0 1552.3,962.4 1553.5,962.1 1554.7,961.5 1555.9,961.8 1557.1,961.7 1558.3,961.6 1559.5,961.9 1560.7,961.5 1561.9,961.4 1563.1,961.9 1564.3,962.5 1565.5,962.6 1566.7,962.2 1567.9,961.9 1569.1,961.4 1570.3,961.1 1571.5,961.4 1572.7,961.5 1573.9,961.5 1575.1,961.6 1576.3,961.3 1577.5,961.0 1578.7,960.8 1579.9,960.8 1581.1,961.5 1582.3,961.9 1583.5,961.5 1584.7,961.8 1585.9,962.4 1587.1,961.9 1588.3,961.3 1589.5,961.5 1590.7,962.0 1591.9,962.0 1593.1,961.3 1594.3,960.5 1595.5,960.1 1596.7,960.5 1597.9,960.7 1599.1,960.8 1600.3,961.4 1601.5,961.5 1602.7,961.3 1603.9,961.5 1605.1,962.0 1606.3,961.7 1607.5,961.2 1608.7,961.2 1609.9,960.9 1611.1,960.9 1612.3,960.8 1613.5,960.4 1614.7,960.7 1615.9,961.5 1617.1,961.7 1618.3,961.4 1619.5,960.6 1620.7,960.2 1621.9,960.8 1623.1,961.7 1624.3,961.9 1625.5,961.5 1626.7,960.6 1627.9,960.2 1629.1,960.7 1630.3,960.9 1631.5,960.2 1632.7,959.7 1633.9,960.1 1635.1,961.0 1636.3,961.0 1637.5,960.5 1638.7,960.4 1639.9,961.0 1641.1,961.3 1642.3,960.8 1643.5,960.8 1644.7,961.3 1645.9,961.4 1647.1,961.3 1648.3,961.3 1649.5,961.2 1650.7,960.9 1651.9,960.9 1653.1,961.5 1654.3,961.4 1655.5,960.7 1656.7,960.1 1657.9,960.0 1659.1,960.8 1660.3,960.9 1661.5,959.8 1662.7,959.6 1663.9,960.4 1665.1,960.8 1666.3,960.3 1667.5,960.2 1668.7,960.4 1669.9,960.3 1671.1,960.4 1672.3,960.6 1673.5,960.1 1674.7,959.9 1675.9,960.1 1677.1,960.2 1678.3,960.6 1679.5,961.3 1680.7,961.1 1681.9,960.3 1683.1,960.0 1684.3,959.6 1685.5,959.3 1686.7,959.6 1687.9,959.7 1689.1,959.8 1690.3,960.3 1691.5,960.7 1692.7,960.4 1693.9,960.1 1695.0,960.3 1696.2,960.0 1697.4,959.2 1698.6,959.0 1699.8,959.0 1701.0,959.3 1702.2,959.5 1703.4,959.6 1704.6,959.8 1705.8,959.5 1707.0,959.5 1708.2,960.2 1709.4,960.5 1710.6,959.7 1711.8,959.3 1713.0,959.5 1714.2,959.5 1715.4,959.1 1716.6,959.0 1717.8,959.2 1719.0,959.4 1720.2,959.0 1721.4,958.7" stroke="#1c1c1c" stroke-width="2.5"/>
<polyline points="186.0,939.7 187.2,939.1 188.3,938.9 189.5,938.7 190.7,938.6 191.8,938.8 193.0,938.8 194.2,938.2 195.3,937.7 196.5,937.5 197.6,937.2 198.8,937.0 199.9,936.6 201.1,936.2 202.2,935.9 203.4,935.0 204.5,934.3 205.7,934.0 206.8,933.3 208.0,932.9 209.1,933.5 210.2,933.7 211.4,932.9 212.5,931.9 213.6,931.7 214.8,932.1 215.9,931.8 217.0,931.2 218.2,930.7 219.3,929.9 220.4,929.0 221.5,928.2 222.7,927.6 223.8,927.4 224.9,927.3 226.0,927.2 227.1,927.2 228.3,926.7 229.4,926.1 230.5,925.5 231.6,925.4 232.7,925.1 233.8,924.7 234.9,924.5 236.0,923.8 237.1,922.9 238.3,921.9 239.4,920.8 240.5,920.9 241.6,921.6 242.7,921.5 243.8,920.9 244.9,920.0 246.0,919.0 247.1,918.4 248.2,917.9 249.3,917.4 250.3,917.0 251.4,916.4 252.5,916.0 253.6,915.5 254.7,914.5 255.8,914.1 256.9,913.9 258.0,913.1 259.1,912.6 260.2,912.6 261.3,911.9 262.4,910.8 263.4,910.4 264.5,910.5 265.6,910.1 266.7,909.4 267.8,909.3 268.9,909.1 270.0,908.2 271.1,907.3 272.1,907.2 273.2,906.7 274.3,905.6 275.4,904.7 276.5,904.2 277.6,904.4 278.7,904.3 279.7,903.3 280.8,902.7 281.9,902.5 283.0,902.3 284.1,901.7 285.2,900.7 286.3,899.7 287.3,899.3 288.4,899.1 289.5,898.5 290.6,897.9 291.7,897.8 292.8,898.0 293.9,897.2 295.0,896.7 296.1,896.8 297.1,895.8 298.2,894.7 299.3,894.5 300.4,894.3 301.5,893.3 302.6,892.1 303.7,891.4 304.8,891.5 305.9,892.0 307.0,891.4 308.1,889.7 309.2,888.5 310.3,888.4 311.4,888.4 312.5,888.1 313.6,887.5 314.7,887.3 315.8,887.2 316.9,886.3 318.0,885.7 319.1,885.5 320.2,884.9 321.3,884.6 322.5,884.9 323.6,884.7 324.7,883.8 325.8,882.6 326.9,881.8 328.0,881.7 329.2,881.5 330.3,881.1 331.4,880.6 332.5,880.3 333.6,880.2 334.8,879.9 335.9,879.4 337.0,878.6 338.2,877.5 339.3,877.0 340.4,877.1 341.6,876.8 342.7,876.4 343.8,876.1 345.0,875.6 346.1,875.3 347.2,875.2 348.4,875.0 349.5,874.3 350.7,873.2 351.8,872.7 353.0,873.0 354.1,873.2 355.3,872.2 356.4,871.1 357.6,871.2 358.7,871.5 359.9,871.2 361.1,871.4 362.2,871.2 363.4,869.8 364.6,869.2 365.7,869.2 366.9,869.3 368.1,869.4 369.2,869.2 370.4,868.9 371.6,868.6 372.7,867.8 373.9,867.6 375.1,868.6 376.3,868.8 377.5,868.0 378.6,867.2 379.8,866.5 381.0,866.1 382.2,866.3 383.4,866.2 384.6,865.8 385.8,865.8 386.9,865.9 388.1,866.1 389.3,866.2 390.5,865.9 391.7,866.1 392.9,866.3 394.1,866.2 395.3,865.6 396.5,864.6 397.7,863.6 398.9,863.5 400.1,864.4 401.3,865.0 402.5,864.8 403.7,864.1 404.9,864.3 406.1,865.0 407.3,864.6 408.5,863.8 409.7,863.9 410.9,864.8 412.1,865.5 413.3,865.8 414.5,865.6 415.7,865.1 416.9,865.6 418.1,866.1 419.3,865.9 420.5,865.8 421.6,866.0 422.8,866.1 424.0,865.7 425.2,865.8 426.4,866.1 427.6,866.0 428.8,866.2 429.9,866.8 431.1,866.8 432.3,866.6 433.4,867.1 434.6,867.6 435.8,867.6 436.9,867.7 438.1,868.0 439.2,868.6 440.4,869.4 441.5,870.0 442.6,870.4 443.8,870.4 444.9,870.5 446.0,871.3 447.1,872.7 448.2,873.6 449.4,874.1 450.5,874.2 451.5,873.9 452.6,874.2 453.7,874.7 454.8,874.9 455.9,875.9 457.0,877.2 458.0,877.4 459.1,877.3 460.1,877.9 461.2,878.9 462.2,879.2 463.3,879.5 464.3,880.4 465.4,881.3 466.4,881.8 467.4,882.1 468.4,882.9 469.5,883.9 470.5,884.8 471.5,885.7 472.5,885.9 473.5,886.2 474.5,887.0 475.5,887.9 476.5,888.6 477.5,889.5 478.5,890.2 479.5,890.2 480.5,890.5 481.4,891.4 482.4,892.5 483.4,893.4 484.4,893.8 485.4,894.6 486.3,895.7 487.3,896.7 488.3,897.4 489.3,897.4 490.2,897.4 491.2,898.5 492.2,899.8 493.1,900.7 494.1,901.3 495.0,901.5 496.0,902.1 497.0,903.2 497.9,903.7 498.9,904.1 499.9,904.9 500.8,906.0 501.8,907.0 502.7,907.4 503.7,908.1 504.7,909.2 505.6,909.6 506.6,910.1 507.5,911.4 508.5,912.5 509.4,913.0 510.4,913.3 511.4,913.7 512.3,914.4 513.3,915.1 514.2,915.6 515.2,916.3 516.2,917.7 517.1,918.8 518.1,919.2 519.1,920.0 520.0,920.7 521.0,921.1 522.0,921.8 522.9,922.9 523.9,923.8 524.9,924.3 525.8,924.4 526.8,924.8 527.8,925.4 528.8,926.0 529.7,926.7 530.7,927.3 531.7,928.1 532.7,929.2 533.7,930.1 534.6,931.1 535.6,931.3 536.6,931.8 537.6,933.2 538.6,933.8 539.6,933.6 540.6,934.6 541.6,935.8 542.6,936.0 543.6,936.4 544.6,937.6 545.6,938.8 546.6,939.6 547.6,939.6 548.6,939.7 549.7,940.6 550.7,941.5 551.7,942.1 552.7,943.0 553.7,943.7 554.8,944.3 555.8,944.9 556.8,945.3 557.9,945.7 558.9,946.2 560.0,947.2 561.0,948.6 562.1,948.9 563.1,948.7 564.2,948.6 565.2,949.3 566.3,950.0 567.3,950.3 568.4,951.0 569.5,951.8 570.5,952.4 571.6,953.2 572.7,954.1 573.8,954.6 574.8,955.2 575.9,955.6 577.0,956.0 578.1,956.6 579.2,957.0 580.3,957.7 581.4,958.4 582.5,958.7 583.6,959.0 584.7,959.5 585.8,959.9 586.9,960.1 588.0,960.7 589.1,961.4 590.2,961.2 591.4,961.6 592.5,962.4 593.6,962.8 594.7,963.5 595.9,963.8 597.0,964.0 598.1,964.5 599.3,964.9 600.4,964.6 601.5,964.9 602.7,965.8 603.8,966.3 605.0,966.5 606.1,967.0 607.3,967.8 608.4,967.8 609.6,967.4 610.7,967.5 611.9,968.3 613.1,969.0 614.2,969.4 615.4,969.9 616.5,970.0 617.7,969.6 618.9,970.0 620.0,970.0 621.2,969.9 622.4,971.1 623.5,972.0 624.7,971.7 625.9,971.8 627.1,972.5 628.2,972.7 629.4,972.9 630.6,973.4 631.7,973.5 632.9,973.4 634.1,974.0 635.3,974.6 636.5,974.9 637.6,974.9 638.8,975.0 640.0,975.2 641.2,975.1 642.4,975.4 643.5,975.8 644.7,975.9 645.9,975.5 647.1,975.2 648.3,975.8 649.4,976.3 650.6,976.0 651.8,976.0 653.0,976.9 654.2,977.3 655.4,977.6 656.6,977.8 657.7,977.7 658.9,977.8 660.1,978.0 661.3,978.1 662.5,978.2 663.7,978.5 664.9,979.1 666.1,979.3 667.2,978.6 668.4,979.1 669.6,980.2 670.8,980.3 672.0,979.9 673.2,979.4 674.4,979.7 675.6,980.2 676.8,979.9 678.0,979.9 679.2,981.0 680.3,981.7 681.5,981.4 682.7,981.9 683.9,982.6 685.1,982.0 686.3,981.3 687.5,981.7 688.7,981.9 689.9,981.8 691.1,981.9 692.3,981.6 693.5,981.5 694.7,982.2 695.9,982.4 697.1,982.4 698.3,982.5 699.5,982.1 700.7,982.4 701.9,983.1 703.1,983.0 704.3,983.1 705.5,983.4 706.7,983.2 707.9,983.2 709.0,983.4 710.2,983.0 711.4,982.8 712.6,983.3 713.8,983.2 715.0,982.8 716.2,982.6 717.4,982.9 718.6,983.4 719.8,983.8 721.0,983.8 722.2,984.0 723.4,984.2 724.6,984.1 725.8,983.8 727.0,983.4 728.2,983.3 729.4,983.7 730.6,984.1 731.8,984.2 733.0,983.9 734.2,983.8 735.4,983.8 736.6,983.2 737.8,983.1 739.0,983.8 740.2,984.5 741.4,984.3 742.6,983.9 743.8,984.2 745.0,984.8 746.2,985.0 747.4,984.4 748.6,983.6 749.8,983.6 751.0,983.5 752.2,983.2 753.4,983.9 754.6,984.1 755.8,983.4 757.0,983.2 758.2,983.4 759.4,983.7 760.6,983.5 761.8,982.7 763.0,983.2 764.2,984.5 765.4,984.5 766.6,984.0 767.8,983.5 769.0,983.0 770.2,982.6 771.4,982.5 772.6,982.7 773.8,982.9 775.0,982.7 776.2,982.3 777.4,982.0 778.6,982.4 779.8,982.9 781.0,982.6 782.2,982.5 783.4,982.4 784.6,981.6 785.8,980.9 787.0,980.9 788.2,981.9 789.4,982.5 790.6,982.2 791.8,982.1 793.0,982.5 794.2,982.6 795.4,982.5 796.6,982.7 797.8,982.4 799.0,981.4 800.1,981.1 801.3,980.9 802.5,980.8 803.7,981.1 804.9,981.0 806.1,980.4 807.3,980.1 808.5,979.8 809.7,979.7 810.9,980.0 812.1,980.1 813.3,980.1 814.5,980.3 815.7,980.5 816.9,980.1 818.1,979.8 819.3,979.6 820.5,978.8 821.7,978.2 822.9,978.3 824.1,978.8 825.3,978.9 826.5,978.9 827.6,979.0 828.8,978.4 830.0,978.3 831.2,978.4 832.4,977.9 833.6,977.8 834.8,978.1 836.0,978.1 837.2,977.8 838.4,977.6 839.6,977.5 840.8,977.4 842.0,977.5 843.2,977.3 844.4,977.0 845.6,976.9 846.8,976.3 848.0,976.3 849.2,976.4 850.4,975.4 851.6,975.5 852.8,976.7 853.9,976.8 855.1,976.0 856.3,975.7 857.5,975.9 858.7,976.5 859.9,976.8 861.1,976.1 862.3,975.7 863.5,975.8 864.7,975.6 865.9,975.8 867.1,975.6 868.3,974.8 869.5,974.7 870.7,975.0 871.9,974.9 873.1,974.6 874.3,974.2 875.5,974.2 876.7,974.2 877.9,974.1 879.1,974.3 880.3,974.1 881.5,974.0 882.7,974.1 883.9,973.5 885.1,972.9 886.2,973.0 887.4,972.9 888.6,973.3 889.8,974.3 891.0,974.3 892.2,973.7 893.4,973.2 894.6,972.8 895.8,972.9 897.0,973.2 898.2,972.9 899.4,973.0 900.6,973.1 901.8,972.5 903.0,972.2 904.2,973.1 905.4,973.3 906.6,972.3 907.8,971.2 909.0,971.5 910.2,972.1 911.4,971.8 912.6,971.8 913.8,971.7 915.0,971.4 916.2,971.5 917.4,971.7 918.6,971.6 919.8,970.8 921.0,970.3 922.2,970.5 923.4,970.7 924.6,970.8 925.8,970.5 926.9,970.5 928.1,970.7 929.3,970.8 930.5,971.2 931.7,970.9 932.9,970.2 934.1,970.3 935.3,970.7 936.5,970.4 937.7,970.0 938.9,969.9 940.1,969.9 941.3,970.3 942.5,970.6 943.7,970.5 944.9,970.5 946.1,970.1 947.3,969.4 948.5,969.3 949.7,969.9 950.9,970.3 952.1,970.1 953.3,969.5 954.5,968.4 955.7,967.5 956.9,967.5 958.1,968.0 959.3,968.3 960.5,968.7 961.7,968.7 962.9,968.3 964.1,968.7 965.3,969.3 966.5,968.8 967.7,968.3 968.9,968.1 970.1,967.7 971.3,967.6 972.5,968.2 973.7,968.7 974.9,968.5 976.1,968.3 977.3,968.4 978.5,968.8 979.7,968.9 980.9,968.3 982.1,967.5 983.3,967.2 984.5,968.1 985.7,969.3 986.9,969.2 988.0,967.6 989.2,966.7 990.4,966.9 991.6,967.0 992.8,967.0 994.0,967.2 995.2,967.2 996.4,967.0 997.6,967.0 998.8,967.4 1000.0,967.5 1001.2,967.1 1002.4,967.0 1003.6,966.5 1004.8,966.1 1006.0,966.6 1007.2,966.9 1008.4,966.9 1009.6,967.0 1010.8,966.7 1012.0,965.9 1013.2,965.9 1014.4,966.7 1015.6,967.0 1016.8,966.6 1018.0,966.3 1019.2,966.2 1020.4,966.1 1021.6,966.0 1022.8,965.3 1024.0,964.7 1025.2,965.2 1026.4,965.8 1027.6,965.9 1028.8,965.9 1030.0,966.1 1031.2,965.9 1032.4,965.2 1033.6,965.3 1034.8,966.0 1036.0,966.1 1037.2,965.5 1038.4,964.8 1039.6,965.1 1040.8,965.7 1042.0,965.4 1043.2,965.0 1044.4,964.6 1045.6,964.4 1046.8,964.5 1048.0,964.9 1049.2,965.5 1050.4,965.0 1051.6,964.8 1052.8,965.2 1054.0,965.1 1055.2,965.1 1056.4,964.9 1057.6,964.3 1058.8,963.9 1060.0,964.2 1061.2,964.5 1062.4,964.4 1063.6,964.2 1064.8,964.2 1066.0,964.7 1067.2,964.7 1068.4,963.8 1069.6,963.3 1070.8,963.8 1072.0,964.5 1073.2,964.4 1074.4,963.4 1075.6,963.3 1076.8,963.9 1078.0,963.5 1079.2,962.9 1080.4,963.5 1081.6,964.1 1082.8,964.0 1084.0,964.1 1085.2,964.3 1086.4,964.0 1087.6,963.4 1088.8,962.6 1090.0,963.1 1091.2,963.5 1092.4,962.7 1093.6,962.7 1094.8,963.3 1096.0,963.6 1097.2,963.8 1098.4,963.4 1099.6,962.7 1100.8,962.2 1102.0,962.4 1103.2,963.0 1104.4,962.9 1105.6,962.8 1106.8,963.1 1108.0,963.1 1109.2,962.8 1110.4,962.3 1111.6,962.3 1112.8,962.5 1114.0,962.3 1115.2,961.9 1116.4,961.9 1117.6,962.6 1118.8,962.9 1120.0,962.4 1121.2,962.3 1122.4,962.3 1123.6,961.9 1124.8,962.1 1126.0,962.8 1127.2,962.8 1128.4,962.6 1129.6,962.6 1130.8,962.3 1132.0,961.7 1133.2,961.3 1134.3,961.0 1135.5,961.3 1136.7,962.1 1137.9,962.0 1139.1,961.3 1140.3,961.1 1141.5,961.7 1142.7,962.3 1143.9,962.1 1145.1,961.9 1146.3,961.5 1147.5,961.6 1148.7,962.6 1149.9,962.6 1151.1,961.8 1152.3,961.9 1153.5,962.1 1154.7,962.0 1155.9,962.3 1157.1,962.9 1158.3,962.2 1159.5,961.3 1160.7,962.0 1161.9,962.5 1163.1,961.3 1164.3,960.6 1165.5,961.3 1166.7,961.8 1167.9,961.8 1169.1,961.9 1170.3,961.4 1171.5,961.4 1172.7,962.0 1173.9,962.0 1175.1,961.9 1176.3,962.0 1177.5,961.6 1178.7,961.0 1179.9,961.0 1181.1,960.9 1182.3,960.9 1183.5,961.3 1184.7,961.7 1185.9,961.7 1187.1,961.8 1188.3,962.2 1189.5,961.9 1190.7,961.2 1191.9,961.4 1193.1,961.4 1194.3,960.6 1195.5,960.4 1196.7,961.1 1197.9,960.9 1199.1,960.3 1200.3,961.3 1201.5,962.0 1202.7,961.5 1203.9,960.9 1205.1,960.4 1206.3,960.1 1207.5,960.3 1208.7,960.8 1209.9,961.1 1211.1,961.1 1212.3,960.7 1213.5,960.4 1214.7,960.9 1215.9,961.4 1217.1,960.9 1218.3,960.1 1219.5,960.2 1220.7,960.5 1221.9,960.3 1223.1,960.7 1224.3,960.8 1225.5,960.3 1226.7,960.5 1227.9,961.1 1229.1,961.3 1230.3,961.1 1231.5,960.4 1232.7,960.0 1233.9,960.0 1235.1,960.5 1236.3,960.5 1237.5,959.9 1238.7,960.1 1239.9,960.2 1241.1,960.5 1242.3,960.9 1243.5,961.0 1244.7,960.4 1245.9,960.0 1247.1,960.0 1248.3,959.7 1249.5,959.9 1250.7,960.3 1251.9,960.7 1253.1,960.9 1254.3,960.3 1255.5,960.1 1256.7,960.4 1257.9,960.2 1259.1,959.7 1260.3,959.4 1261.5,959.6 1262.7,960.1 1263.9,960.1 1265.1,960.0 1266.3,960.1 1267.5,959.9 1268.7,960.1 1269.9,960.3 1271.1,959.5 1272.3,959.2 1273.5,959.8 1274.7,960.0 1275.9,959.9 1277.1,959.8 1278.3,959.8 1279.5,959.6 1280.7,959.7 1281.9,959.2 1283.1,958.6 1284.3,959.3 1285.5,960.0 1286.7,959.6 1287.9,959.5 1289.1,959.8 1290.3,959.8 1291.5,959.5 1292.7,959.7 1293.9,960.0 1295.1,960.1 1296.3,959.9 1297.5,960.2 1298.7,960.7 1299.9,960.4 1301.1,960.1 1302.3,960.3 1303.5,960.1 1304.7,959.1 1305.9,958.6 1307.1,959.5 1308.3,960.4 1309.5,960.0 1310.7,959.3 1311.9,959.4 1313.1,959.5 1314.3,959.4 1315.5,959.7 1316.7,959.8 1317.9,959.4 1319.1,959.4 1320.3,959.5 1321.5,959.5 1322.7,959.3 1323.9,959.0 1325.1,959.2 1326.3,959.7 1327.5,960.2 1328.7,960.1 1329.9,959.6 1331.1,959.6 1332.3,959.8 1333.5,959.6 1334.7,959.5 1335.9,959.9 1337.1,960.1 1338.3,959.9 1339.5,959.3 1340.7,958.9 1341.9,959.3 1343.1,959.6 1344.3,959.1 1345.5,958.8 1346.7,958.7 1347.9,958.8 1349.1,959.3 1350.3,959.3 1351.5,959.3 1352.7,959.5 1353.9,959.6 1355.1,959.8 1356.3,959.5 1357.5,959.2 1358.7,960.0 1359.9,960.3 1361.1,960.0 1362.3,960.3 1363.5,960.3 1364.7,960.0 1365.9,959.4 1367.1,958.8 1368.3,958.6 1369.5,959.1 1370.7,959.9 1371.9,959.7 1373.1,959.4 1374.3,960.0 1375.5,960.1 1376.7,959.8 1377.9,959.9 1379.1,960.1 1380.3,959.7 1381.5,959.3 1382.7,959.3 1383.9,959.7 1385.1,960.0 1386.3,959.7 1387.5,959.2 1388.7,959.3 1389.9,959.7 1391.1,959.8 1392.3,959.5 1393.5,959.5 1394.7,960.1 1395.9,960.6 1397.1,959.9 1398.3,959.2 1399.5,959.3 1400.7,959.3 1401.9,959.3 1403.1,959.5 1404.3,959.3 1405.5,959.2 1406.7,959.8 1407.9,960.4 1409.1,960.1 1410.3,959.5 1411.5,959.5 1412.7,959.9 1413.9,959.9 1415.1,959.4 1416.3,958.9 1417.5,959.2 1418.7,959.5 1419.9,959.4 1421.1,959.4 1422.3,959.2 1423.5,959.2 1424.7,959.0 1425.9,958.2 1427.1,958.2 1428.3,959.5 1429.5,960.5 1430.7,960.1 1431.9,959.5 1433.1,959.4 1434.3,959.3 1435.5,958.8 1436.7,958.7 1437.9,959.5 1439.1,959.9 1440.3,959.6 1441.5,958.9 1442.7,958.4 1443.9,958.8 1445.1,958.9 1446.3,958.9 1447.5,959.2 1448.7,959.4 1449.9,959.9 1451.1,960.4 1452.3,960.2 1453.5,959.5 1454.7,959.0 1455.9,958.6 1457.1,958.9 1458.3,959.1 1459.5,958.9 1460.7,958.7 1461.9,958.9 1463.1,959.1 1464.3,959.1 1465.5,959.3 1466.7,959.2 1467.9,958.8 1469.1,958.9 1470.3,959.0 1471.5,959.1 1472.7,959.5 1473.9,960.0 1475.1,959.9 1476.3,959.6 1477.5,959.6 1478.7,959.5 1479.9,959.0 1481.1,958.9 1482.3,959.3 1483.5,959.2 1484.7,959.1 1485.9,959.7 1487.1,959.9 1488.3,960.0 1489.5,960.2 1490.7,960.1 1491.9,959.6 1493.1,959.1 1494.3,959.0 1495.5,959.6 1496.7,960.0 1497.9,959.9 1499.1,959.5 1500.3,959.1 1501.5,958.9 1502.7,959.3 1503.9,959.6 1505.1,959.2 1506.3,958.9 1507.5,959.2 1508.7,959.3 1509.9,959.7 1511.1,959.8 1512.3,959.2 1513.5,958.6 1514.7,958.5 1515.9,958.9 1517.1,959.1 1518.3,959.0 1519.5,958.9 1520.7,959.0 1521.9,958.7 1523.1,958.4 1524.3,959.4 1525.5,959.9 1526.7,958.9 1527.9,958.8 1529.1,959.4 1530.3,959.8 1531.5,960.2 1532.7,959.6 1533.9,958.9 1535.1,958.3 1536.3,958.7 1537.5,959.4 1538.7,959.0 1539.9,958.8 1541.1,959.0 1542.3,959.1 1543.5,959.3 1544.7,958.8 1545.9,958.7 1547.1,959.1 1548.3,959.2 1549.5,958.9 1550.7,958.9 1551.9,959.4 1553.1,959.1 1554.3,958.7 1555.5,959.3 1556.7,959.1 1557.9,958.3 1559.1,958.7 1560.3,959.6 1561.5,959.2 1562.7,958.6 1563.9,958.8 1565.1,958.7 1566.3,958.5 1567.5,958.4 1568.7,958.5 1569.9,958.9 1571.1,959.6 1572.3,960.0 1573.5,959.7 1574.7,958.8 1575.9,958.3 1577.1,958.9 1578.3,959.7 1579.5,959.7 1580.7,959.1 1581.9,958.9 1583.1,958.9 1584.3,958.8 1585.5,959.0 1586.7,959.0 1587.9,958.7 1589.1,958.8 1590.3,959.0 1591.5,959.1 1592.7,959.2 1593.9,959.2 1595.1,958.7 1596.3,958.5 1597.5,958.7 1598.7,958.6 1599.9,958.8 1601.1,959.4 1602.3,959.1 1603.5,958.4 1604.7,958.3 1605.9,958.7 1607.1,958.7 1608.3,958.8 1609.5,959.1 1610.7,959.2 1611.9,959.0 1613.1,958.8 1614.3,959.2 1615.5,959.5 1616.7,959.5 1617.9,959.0 1619.1,958.2 1620.3,958.4 1621.5,958.4 1622.7,957.8 1623.9,958.0 1625.1,958.4 1626.3,958.5 1627.5,958.7 1628.7,958.9 1629.9,958.6 1631.1,958.3 1632.3,958.5 1633.5,958.9 1634.7,958.5 1635.9,957.5 1637.1,957.8 1638.3,959.1 1639.5,959.3 1640.7,958.8 1641.9,958.4 1643.1,958.6 1644.3,959.1 1645.5,958.9 1646.7,958.4 1647.9,958.6 1649.1,958.8 1650.3,958.4 1651.5,958.2 1652.7,958.0 1653.9,957.8 1655.1,958.3 1656.3,958.9 1657.5,958.7 1658.7,958.3 1659.9,958.0 1661.1,957.9 1662.3,958.2 1663.5,958.0 1664.7,957.3 1665.9,957.2 1667.1,957.9 1668.3,958.7 1669.5,959.0 1670.7,958.7 1671.9,958.0 1673.1,957.7 1674.3,958.0 1675.5,957.9 1676.7,957.6 1677.9,957.3 1679.1,956.9 1680.3,957.4 1681.5,957.6 1682.7,957.4 1683.9,958.0 1685.1,958.4 1686.3,957.9 1687.5,957.4 1688.7,957.7 1689.9,958.0 1691.1,958.1 1692.3,958.6 1693.5,958.9 1694.7,958.6 1695.9,958.5 1697.1,958.3 1698.3,957.6 1699.5,957.0 1700.7,957.2 1701.9,957.7 1703.1,958.3 1704.3,959.0 1705.5,958.9 1706.7,958.1 1707.9,957.7 1709.1,957.8 1710.3,958.2 1711.5,958.7 1712.7,958.6 1713.9,957.9 1715.1,957.8 1716.3,957.5 1717.5,957.4 1718.7,957.8 1719.9,958.1 1721.1,957.9" stroke="#1c381c" stroke-width="2.9"/>
<polyline points="186.2,941.1 187.4,941.5 188.6,941.2 189.8,940.6 190.9,940.5 192.1,939.9 193.3,939.9 194.4,940.3 195.6,939.2 196.8,938.2 198.0,938.5 199.1,938.7 200.3,938.4 201.5,938.0 202.6,937.7 203.8,937.5 205.0,937.5 206.1,937.7 207.3,937.3 208.5,936.7 209.6,936.5 210.8,936.3 212.0,935.5 213.1,935.8 214.3,936.1 215.5,935.1 216.6,934.7 217.8,935.2 219.0,935.0 220.1,934.0 221.3,933.7 222.4,933.2 223.6,932.4 224.8,932.9 225.9,933.0 227.1,931.8 228.2,930.6 229.4,930.9 230.6,931.9 231.7,931.5 232.9,930.6 234.0,930.3 235.2,929.6 236.3,929.3 237.5,929.3 238.7,928.6 239.8,928.4 241.0,928.7 242.1,928.8 243.3,928.3 244.4,927.0 245.6,926.1 246.7,926.5 247.9,926.6 249.1,926.2 250.2,926.2 251.4,926.0 252.5,925.4 253.7,924.8 254.8,924.3 256.0,923.9 257.1,923.7 258.3,923.9 259.4,923.6 260.6,922.8 261.7,921.7 262.9,921.0 264.0,921.3 265.2,921.7 266.4,921.2 267.5,920.8 268.7,920.4 269.8,920.3 271.0,920.6 272.1,919.8 273.3,919.0 274.4,919.6 275.6,919.6 276.7,918.5 277.9,917.8 279.0,917.8 280.2,917.4 281.3,916.6 282.5,916.0 283.7,915.6 284.8,915.1 286.0,915.1 287.1,914.8 288.3,914.1 289.4,913.5 290.6,913.3 291.7,913.2 292.9,912.9 294.0,913.1 295.2,913.5 296.4,913.4 297.5,913.2 298.7,912.6 299.8,911.9 301.0,911.1 302.2,910.6 303.3,910.6 304.5,910.7 305.6,910.6 306.8,910.2 307.9,909.5 309.1,909.0 310.3,908.4 311.4,907.4 312.6,906.6 313.8,906.9 314.9,907.7 316.1,908.0 317.2,907.1 318.4,906.4 319.6,907.1 320.7,907.5 321.9,906.8 323.1,905.6 324.2,904.5 325.4,904.5 326.6,904.9 327.7,905.2 328.9,905.0 330.1,904.4 331.2,903.8 332.4,902.6 333.6,901.7 334.8,901.8 335.9,901.8 337.1,902.1 338.3,902.2 339.4,901.5 340.6,901.1 341.8,901.1 343.0,901.3 344.1,901.3 345.3,901.3 346.5,901.5 347.7,900.9 348.8,899.8 350.0,899.3 351.2,898.9 352.4,898.5 353.6,898.6 354.7,898.3 355.9,898.2 357.1,898.3 358.3,898.0 359.5,898.0 360.7,897.9 361.8,897.1 363.0,896.4 364.2,896.2 365.4,896.6 366.6,897.0 367.8,897.3 369.0,896.9 370.1,896.3 371.3,896.4 372.5,896.0 373.7,895.8 374.9,895.9 376.1,895.8 377.3,895.8 378.5,895.8 379.7,895.4 380.9,895.3 382.1,895.3 383.3,894.9 384.5,894.1 385.7,894.1 386.9,895.0 388.0,895.3 389.2,894.7 390.4,894.3 391.6,894.2 392.8,894.1 394.0,893.8 395.2,894.3 396.4,894.9 397.6,894.3 398.8,893.7 400.0,893.7 401.2,893.9 402.4,894.0 403.6,894.0 404.8,893.8 406.0,893.2 407.2,893.2 408.4,894.0 409.6,894.4 410.8,893.9 412.0,893.3 413.2,893.4 414.4,893.9 415.6,894.4 416.8,894.4 418.0,893.9 419.2,894.0 420.4,894.5 421.6,894.9 422.8,895.3 424.0,895.2 425.2,895.4 426.4,895.4 427.6,894.7 428.7,894.6 429.9,895.4 431.1,896.4 432.3,896.8 433.5,896.9 434.7,897.1 435.8,897.1 437.0,897.1 438.2,897.6 439.4,898.3 440.5,898.3 441.7,897.6 442.9,897.3 444.0,898.3 445.2,898.8 446.4,898.7 447.5,899.1 448.7,899.7 449.9,900.2 451.0,900.7 452.2,901.3 453.3,901.3 454.5,901.0 455.6,901.3 456.8,902.2 457.9,902.8 459.1,902.9 460.2,902.9 461.3,903.9 462.5,905.0 463.6,905.2 464.8,905.3 465.9,905.5 467.0,905.3 468.1,905.9 469.3,906.7 470.4,906.7 471.5,907.0 472.7,907.1 473.8,907.4 474.9,907.8 476.0,908.3 477.1,909.1 478.2,909.7 479.4,909.8 480.5,910.1 481.6,910.1 482.7,910.5 483.8,911.6 484.9,912.6 486.0,912.9 487.1,913.6 488.2,914.7 489.3,915.3 490.4,915.2 491.5,915.3 492.6,915.8 493.7,916.3 494.8,917.0 495.9,917.5 497.0,918.3 498.1,918.8 499.2,918.4 500.3,918.7 501.4,919.6 502.5,920.6 503.6,921.1 504.7,920.9 505.8,921.5 506.9,922.2 508.0,922.8 509.0,923.9 510.1,925.1 511.2,925.4 512.3,924.9 513.4,925.2 514.5,926.2 515.6,926.8 516.7,927.3 517.8,927.6 518.8,927.8 519.9,928.4 521.0,929.1 522.1,929.6 523.2,929.8 524.3,930.2 525.4,930.9 526.5,931.4 527.6,932.0 528.7,932.8 529.8,933.3 530.9,933.0 532.0,932.9 533.1,933.7 534.1,935.0 535.2,936.2 536.3,936.8 537.4,936.7 538.5,936.7 539.6,937.2 540.7,937.9 541.9,938.5 543.0,939.2 544.1,939.8 545.2,940.6 546.3,941.1 547.4,941.3 548.5,941.8 549.6,942.0 550.7,941.7 551.8,942.2 552.9,942.8 554.1,942.9 555.2,943.2 556.3,943.7 557.4,944.4 558.5,944.6 559.7,944.3 560.8,944.6 561.9,945.1 563.0,945.9 564.2,947.4 565.3,947.7 566.4,947.1 567.5,947.6 568.7,948.5 569.8,948.9 570.9,949.2 572.1,950.1 573.2,951.2 574.3,952.0 575.5,952.9 576.6,952.8 577.8,951.9 578.9,952.1 580.0,952.4 581.2,952.1 582.3,952.4 583.5,953.9 584.6,954.9 585.8,954.7 586.9,954.2 588.1,954.9 589.2,956.2 590.4,956.5 591.5,955.8 592.7,955.8 593.8,956.4 595.0,957.1 596.2,957.4 597.3,957.5 598.5,957.4 599.6,956.9 600.8,956.8 602.0,957.5 603.1,958.3 604.3,958.8 605.5,959.0 606.6,959.4 607.8,959.8 609.0,960.2 610.1,961.0 611.3,960.7 612.5,960.2 613.7,960.7 614.8,961.0 616.0,961.7 617.2,962.8 618.4,962.6 619.6,962.6 620.7,963.6 621.9,964.3 623.1,964.2 624.3,963.7 625.5,963.0 626.6,962.6 627.8,963.2 629.0,964.3 630.2,964.6 631.4,964.4 632.6,964.2 633.8,964.3 634.9,964.5 636.1,964.3 637.3,964.2 638.5,965.1 639.7,966.0 640.9,966.0 642.1,965.7 643.3,965.8 644.5,966.3 645.7,966.8 646.9,967.0 648.0,966.8 649.2,966.5 650.4,966.8 651.6,966.9 652.8,966.9 654.0,967.0 655.2,966.3 656.4,966.1 657.6,967.4 658.8,968.1 660.0,968.1 661.2,968.4 662.4,968.0 663.6,967.7 664.8,968.4 666.0,968.5 667.2,967.7 668.4,967.7 669.6,968.2 670.8,968.7 671.9,969.2 673.1,969.9 674.3,970.2 675.5,969.0 676.7,967.9 677.9,968.6 679.1,969.5 680.3,969.8 681.5,969.7 682.7,970.4 683.9,970.9 685.1,970.4 686.3,970.0 687.5,970.4 688.7,970.4 689.9,970.2 691.1,970.2 692.3,970.4 693.5,971.1 694.7,971.8 695.9,971.6 697.1,971.2 698.3,971.1 699.5,971.1 700.7,971.2 701.9,971.5 703.1,971.8 704.3,971.7 705.5,971.3 706.7,970.9 707.9,970.7 709.1,971.2 710.2,971.5 711.4,971.6 712.6,972.3 713.8,972.3 715.0,971.9 716.2,971.5 717.4,971.1 718.6,971.1 719.8,971.5 721.0,971.6 722.2,971.3 723.4,971.6 724.6,972.2 725.8,972.4 727.0,972.2 728.2,971.8 729.4,971.7 730.6,971.5 731.8,971.4 733.0,971.9 734.2,972.4 735.4,972.8 736.6,972.8 737.8,972.5 739.0,972.4 740.2,972.2 741.4,972.1 742.6,972.5 743.8,973.0 745.0,973.0 746.2,972.2 747.4,971.9 748.6,972.5 749.8,972.9 751.0,973.2 752.2,972.9 753.4,971.7 754.6,970.7 755.8,971.2 757.0,971.7 758.2,971.5 759.4,971.5 760.6,971.7 761.8,971.7 763.0,971.8 764.2,971.8 765.4,971.8 766.6,972.1 767.8,971.9 769.0,971.8 770.2,972.2 771.4,972.5 772.6,972.3 773.8,971.8 775.0,972.1 776.2,972.4 777.4,972.4 778.6,972.1 779.8,971.6 781.0,971.5 782.2,971.7 783.4,971.6 784.6,971.3 785.8,971.2 787.0,970.8 788.2,970.6 789.4,970.8 790.6,970.5 791.8,969.9 793.0,970.2 794.2,971.0 795.4,970.8 796.6,970.1 797.8,970.3 799.0,970.2 800.2,969.4 801.4,969.3 802.6,969.4 803.8,969.2 805.0,969.3 806.2,969.4 807.4,969.5 808.6,969.7 809.8,969.6 810.9,969.0 812.1,968.3 813.3,968.4 814.5,969.2 815.7,969.8 816.9,970.0 818.1,969.8 819.3,969.8 820.5,969.8 821.7,969.2 822.9,968.6 824.1,968.6 825.3,968.6 826.5,968.2 827.7,968.1 828.9,968.5 830.1,968.9 831.3,968.9 832.5,968.5 833.7,968.5 834.9,968.6 836.1,968.5 837.3,968.0 838.5,967.6 839.7,967.9 840.9,968.1 842.1,968.6 843.3,968.2 844.5,967.0 845.7,966.8 846.9,966.9 848.1,967.1 849.3,967.9 850.5,967.9 851.7,967.1 852.9,966.8 854.1,967.1 855.3,967.2 856.5,967.3 857.7,967.2 858.9,966.6 860.1,965.5 861.3,965.3 862.5,965.9 863.7,966.4 864.9,966.1 866.1,966.2 867.3,966.3 868.4,965.8 869.6,965.9 870.8,966.6 872.0,966.8 873.2,966.0 874.4,965.6 875.6,966.0 876.8,966.3 878.0,965.8 879.2,965.4 880.4,966.2 881.6,966.8 882.8,965.8 884.0,964.8 885.2,964.6 886.4,965.0 887.6,965.1 888.8,964.9 890.0,965.2 891.2,965.3 892.4,965.7 893.6,965.8 894.8,965.0 896.0,965.0 897.2,965.5 898.4,965.4 899.6,965.6 900.8,965.9 902.0,965.9 903.2,965.3 904.4,964.8 905.6,964.7 906.8,964.7 908.0,964.1 909.2,964.2 910.4,964.7 911.6,964.4 912.8,964.2 914.0,964.5 915.2,964.1 916.4,963.7 917.6,964.0 918.8,963.9 920.0,963.3 921.2,963.2 922.4,963.5 923.6,963.3 924.8,963.2 926.0,963.1 927.2,963.0 928.4,963.5 929.6,964.3 930.8,964.4 932.0,963.8 933.2,963.0 934.4,962.6 935.6,963.1 936.8,963.2 938.0,962.6 939.2,962.7 940.4,963.2 941.6,963.5 942.8,963.0 944.0,962.3 945.2,962.3 946.4,962.2 947.6,961.9 948.8,961.8 950.0,962.0 951.2,962.2 952.4,961.8 953.6,961.3 954.8,961.9 956.0,962.5 957.2,962.4 958.4,962.3 959.6,962.2 960.8,962.4 962.0,962.5 963.2,962.5 964.4,962.9 965.6,962.1 966.8,961.4 968.0,962.0 969.2,962.1 970.4,961.5 971.6,961.8 972.8,961.8 974.0,960.8 975.2,960.4 976.4,960.6 977.5,961.3 978.7,961.9 979.9,961.5 981.1,961.3 982.3,961.3 983.5,961.6 984.7,961.6 985.9,961.5 987.1,961.4 988.3,960.9 989.5,960.5 990.7,960.8 991.9,961.3 993.1,961.4 994.3,961.1 995.5,960.9 996.7,960.7 997.9,960.7 999.1,960.8 1000.3,960.8 1001.5,960.7 1002.7,960.7 1003.9,960.8 1005.1,961.6 1006.3,961.7 1007.5,961.1 1008.7,960.6 1009.9,960.8 1011.1,960.7 1012.3,959.8 1013.5,959.5 1014.7,959.7 1015.9,959.6 1017.1,959.5 1018.3,960.0 1019.5,961.0 1020.7,961.3 1021.9,960.9 1023.1,960.6 1024.3,960.6 1025.5,960.3 1026.7,960.1 1027.9,960.1 1029.1,959.2 1030.3,958.3 1031.5,958.7 1032.7,959.3 1033.9,959.7 1035.1,959.9 1036.3,959.4 1037.5,959.0 1038.7,959.3 1039.9,959.2 1041.1,959.2 1042.3,959.9 1043.5,960.2 1044.7,960.3 1045.9,960.1 1047.1,959.6 1048.3,959.7 1049.5,960.3 1050.7,960.8 1051.9,960.6 1053.1,959.8 1054.3,959.2 1055.5,959.4 1056.7,959.2 1057.9,958.7 1059.1,958.8 1060.3,959.0 1061.5,959.1 1062.7,958.8 1063.9,958.7 1065.1,958.8 1066.3,958.8 1067.5,959.2 1068.7,959.2 1069.9,959.1 1071.1,960.0 1072.3,960.4 1073.5,959.7 1074.7,959.8 1075.9,960.0 1077.1,959.0 1078.3,958.1 1079.5,958.6 1080.7,959.0 1081.9,958.8 1083.1,958.9 1084.3,959.2 1085.5,959.0 1086.7,958.9 1087.9,958.5 1089.1,957.9 1090.3,957.8 1091.5,958.6 1092.7,959.5 1093.9,959.7 1095.1,959.1 1096.3,958.5 1097.5,958.3 1098.7,958.1 1099.9,958.2 1101.1,958.7 1102.3,959.0 1103.5,958.4 1104.7,957.5 1105.9,957.5 1107.1,957.4 1108.3,957.9 1109.5,958.6 1110.7,958.3 1111.9,957.8 1113.1,957.9 1114.3,958.8 1115.5,959.3 1116.7,958.4 1117.9,957.8 1119.1,958.6 1120.3,959.2 1121.5,958.4 1122.7,957.3 1123.9,957.2 1125.1,957.5 1126.3,957.8 1127.5,958.5 1128.7,959.1 1129.9,958.8 1131.1,958.1 1132.3,957.9 1133.5,958.1 1134.7,958.9 1135.9,959.3 1137.1,958.3 1138.3,958.2 1139.5,958.5 1140.7,958.2 1141.9,958.0 1143.1,958.0 1144.3,957.7 1145.5,957.6 1146.7,957.9 1147.9,957.9 1149.1,957.6 1150.3,957.4 1151.5,956.8 1152.7,957.3 1153.9,958.4 1155.1,958.7 1156.3,958.2 1157.5,957.7 1158.7,957.6 1159.9,957.5 1161.1,957.7 1162.3,958.2 1163.5,958.1 1164.7,958.0 1165.9,957.9 1167.1,956.9 1168.3,956.7 1169.5,957.6 1170.7,958.2 1171.9,958.1 1173.1,957.4 1174.3,957.3 1175.5,957.8 1176.7,957.8 1177.9,957.4 1179.1,957.1 1180.3,957.4 1181.5,957.8 1182.7,957.9 1183.9,958.2 1185.1,958.2 1186.3,958.1 1187.5,958.1 1188.7,957.9 1189.9,957.6 1191.1,957.5 1192.3,957.9 1193.5,958.2 1194.7,957.8 1195.9,957.5 1197.1,957.1 1198.3,957.2 1199.5,957.7 1200.7,957.8 1201.9,957.4 1203.1,956.9 1204.3,957.0 1205.5,957.7 1206.7,958.0 1207.9,957.4 1209.1,956.9 1210.3,957.1 1211.5,957.6 1212.7,957.6 1213.9,957.6 1215.1,957.6 1216.3,958.0 1217.5,958.4 1218.7,957.8 1219.9,957.1 1221.1,957.4 1222.3,958.0 1223.5,957.4 1224.7,956.6 1225.9,956.6 1227.1,956.5 1228.3,956.2 1229.5,956.5 1230.7,956.9 1231.9,957.3 1233.1,958.0 1234.3,958.1 1235.5,956.9 1236.7,957.1 1237.9,958.2 1239.1,958.3 1240.3,957.7 1241.5,957.2 1242.7,957.6 1243.9,957.6 1245.1,957.0 1246.3,957.0 1247.5,956.9 1248.7,957.2 1249.9,957.5 1251.1,957.0 1252.3,957.2 1253.5,957.8 1254.7,957.7 1255.9,957.6 1257.1,957.9 1258.3,957.7 1259.5,957.1 1260.7,957.0 1261.9,957.6 1263.1,958.0 1264.3,957.7 1265.5,957.4 1266.7,956.8 1267.9,956.4 1269.1,956.6 1270.3,956.8 1271.5,957.1 1272.7,957.1 1273.9,956.8 1275.1,956.7 1276.3,956.8 1277.5,957.2 1278.7,957.4 1279.9,957.0 1281.1,957.1 1282.3,957.1 1283.5,957.2 1284.7,957.7 1285.9,957.7 1287.1,957.1 1288.3,957.1 1289.5,957.8 1290.7,957.9 1291.9,957.5 1293.1,957.4 1294.3,957.4 1295.5,957.2 1296.7,957.1 1297.9,957.2 1299.1,957.3 1300.3,957.0 1301.5,957.3 1302.7,958.0 1303.9,957.7 1305.1,957.1 1306.3,957.6 1307.5,958.0 1308.7,957.6 1309.9,957.6 1311.1,957.4 1312.3,957.0 1313.5,957.1 1314.7,957.6 1315.9,958.1 1317.1,957.8 1318.3,957.2 1319.5,957.8 1320.7,958.4 1321.9,958.3 1323.1,958.2 1324.3,958.1 1325.5,957.3 1326.7,956.8 1327.9,957.0 1329.1,957.0 1330.3,956.9 1331.5,957.3 1332.7,957.5 1333.9,957.4 1335.1,957.0 1336.3,957.2 1337.5,957.8 1338.7,957.7 1339.9,957.3 1341.1,956.9 1342.3,956.7 1343.5,957.2 1344.7,957.4 1345.9,957.3 1347.1,957.4 1348.3,957.3 1349.5,957.4 1350.7,957.4 1351.9,956.9 1353.1,956.9 1354.3,957.3 1355.5,957.2 1356.7,957.0 1357.9,957.5 1359.1,957.9 1360.3,958.0 1361.5,957.8 1362.7,957.6 1363.9,957.6 1365.1,957.0 1366.3,956.4 1367.5,956.6 1368.7,956.7 1369.9,957.1 1371.1,957.4 1372.3,957.6 1373.5,958.1 1374.7,957.8 1375.9,957.6 1377.1,957.8 1378.3,957.2 1379.5,956.9 1380.7,956.9 1381.9,956.7 1383.1,956.5 1384.3,956.8 1385.5,957.2 1386.7,957.6 1387.9,957.9 1389.1,958.1 1390.3,958.4 1391.5,957.8 1392.7,957.2 1393.9,957.3 1395.1,957.2 1396.3,957.1 1397.5,956.7 1398.7,956.8 1399.9,957.5 1401.1,957.5 1402.3,957.5 1403.5,957.7 1404.7,957.3 1405.9,957.1 1407.1,956.9 1408.3,956.6 1409.5,956.8 1410.7,957.4 1411.9,957.6 1413.1,957.6 1414.3,958.0 1415.5,958.1 1416.7,957.8 1417.9,957.8 1419.1,958.2 1420.3,958.2 1421.5,957.3 1422.7,956.8 1423.9,957.8 1425.1,958.7 1426.3,957.6 1427.5,956.8 1428.7,956.8 1429.9,957.3 1431.1,958.2 1432.3,958.5 1433.5,958.2 1434.7,957.7 1435.9,957.4 1437.1,957.5 1438.3,957.4 1439.5,957.2 1440.7,956.9 1441.9,956.6 1443.1,956.6 1444.3,956.9 1445.5,957.5 1446.7,958.1 1447.9,958.2 1449.1,958.1 1450.3,957.7 1451.5,956.9 1452.7,956.4 1453.9,957.0 1455.1,957.4 1456.3,957.1 1457.5,957.0 1458.7,957.1 1459.9,957.5 1461.1,957.4 1462.3,957.2 1463.5,957.4 1464.7,957.5 1465.9,957.5 1467.1,957.9 1468.3,958.0 1469.5,957.6 1470.7,957.2 1471.9,957.5 1473.1,958.0 1474.3,958.2 1475.5,958.1 1476.7,957.6 1477.9,957.4 1479.1,957.8 1480.3,957.8 1481.5,957.4 1482.7,957.3 1483.9,957.2 1485.1,957.5 1486.3,958.0 1487.5,957.8 1488.7,957.2 1489.9,957.5 1491.1,958.3 1492.3,958.2 1493.5,957.9 1494.7,958.2 1495.9,958.7 1497.1,959.0 1498.3,959.1 1499.5,958.2 1500.7,957.4 1501.9,957.3 1503.1,957.4 1504.3,957.3 1505.5,957.3 1506.7,957.6 1507.9,957.5 1509.1,957.6 1510.3,957.8 1511.5,957.7 1512.7,957.7 1513.9,958.1 1515.1,958.2 1516.3,957.9 1517.5,957.8 1518.7,957.4 1519.9,956.9 1521.1,956.9 1522.3,957.4 1523.5,958.1 1524.7,958.0 1525.9,957.9 1527.1,958.3 1528.3,958.0 1529.5,957.3 1530.7,956.7 1531.9,956.9 1533.1,957.7 1534.3,958.2 1535.5,957.9 1536.7,957.6 1537.9,957.9 1539.1,958.2 1540.3,957.9 1541.5,957.8 1542.7,958.1 1543.9,958.3 1545.1,957.8 1546.3,957.6 1547.5,958.1 1548.7,957.8 1549.9,957.3 1551.1,957.6 1552.3,957.6 1553.5,956.7 1554.7,957.1 1555.9,958.0 1557.1,957.6 1558.3,957.6 1559.5,958.4 1560.7,958.3 1561.9,957.3 1563.1,957.2 1564.3,957.9 1565.5,958.2 1566.7,958.1 1567.9,958.0 1569.1,957.7 1570.3,957.8 1571.5,958.2 1572.7,957.9 1573.9,957.5 1575.1,957.8 1576.3,958.3 1577.5,958.0 1578.7,957.7 1579.9,957.7 1581.1,957.6 1582.3,957.7 1583.5,957.6 1584.7,957.3 1585.9,957.3 1587.1,957.4 1588.3,957.1 1589.5,956.5 1590.7,956.6 1591.9,957.6 1593.1,958.0 1594.3,958.1 1595.5,958.5 1596.7,958.7 1597.9,958.4 1599.1,958.1 1600.3,957.8 1601.5,957.6 1602.7,957.9 1603.9,957.9 1605.1,957.3 1606.3,957.5 1607.5,957.7 1608.7,957.4 1609.9,957.4 1611.1,957.2 1612.3,957.0 1613.5,957.4 1614.7,958.0 1615.9,958.1 1617.1,957.5 1618.3,957.0 1619.5,956.9 1620.7,957.3 1621.9,957.6 1623.1,957.2 1624.3,956.4 1625.5,955.9 1626.7,956.9 1627.9,957.7 1629.1,957.5 1630.3,957.5 1631.5,958.0 1632.7,958.1 1633.9,957.3 1635.1,957.2 1636.3,958.2 1637.5,958.0 1638.7,957.4 1639.9,957.2 1641.1,957.0 1642.3,957.0 1643.5,957.2 1644.7,957.2 1645.9,957.0 1647.1,956.9 1648.3,957.4 1649.5,957.9 1650.7,957.8 1651.9,957.2 1653.1,957.3 1654.3,957.6 1655.5,957.5 1656.7,957.7 1657.9,958.0 1659.1,957.7 1660.3,957.0 1661.5,957.2 1662.7,957.5 1663.9,957.7 1665.1,958.1 1666.3,957.2 1667.5,956.2 1668.7,956.4 1669.9,956.8 1671.1,956.6 1672.3,956.7 1673.5,957.3 1674.7,957.0 1675.9,956.7 1677.1,957.0 1678.3,957.0 1679.5,956.6 1680.7,956.2 1681.9,955.9 1683.1,956.6 1684.3,957.1 1685.5,956.9 1686.7,956.8 1687.9,956.2 1689.1,956.0 1690.3,956.2 1691.5,955.8 1692.7,956.3 1693.9,956.8 1695.1,956.4 1696.3,956.5 1697.5,956.4 1698.7,956.2 1699.9,956.4 1701.1,956.6 1702.3,956.0 1703.5,956.4 1704.7,957.7 1705.9,957.1 1707.1,956.3 1708.3,956.3 1709.5,955.5 1710.7,954.9 1711.9,955.4 1713.1,956.3 1714.3,956.2 1715.5,955.7 1716.7,955.8 1717.9,956.1 1719.1,956.9 1720.3,957.6 1721.5,957.5" stroke="#1e581e" stroke-width="2.9"/>
<polyline points="186.2,942.5 187.4,941.5 188.6,940.9 189.8,941.1 191.0,941.8 192.2,941.4 193.4,940.3 194.6,941.1 195.7,941.6 196.9,941.8 198.1,942.4 199.3,942.0 200.5,941.5 201.7,941.1 202.9,940.2 204.1,939.6 205.3,939.3 206.5,939.0 207.6,938.9 208.8,938.7 210.0,938.6 211.2,938.4 212.4,937.9 213.6,937.8 214.8,937.7 216.0,937.9 217.2,938.6 218.3,938.4 219.5,937.7 220.7,937.0 221.9,936.9 223.1,937.2 224.3,936.8 225.5,936.5 226.7,936.5 227.8,936.9 229.0,937.2 230.2,936.6 231.4,935.9 232.6,935.5 233.8,935.0 235.0,933.8 236.2,933.6 237.3,934.5 238.5,934.8 239.7,934.9 240.9,935.1 242.1,935.4 243.3,935.5 244.5,935.1 245.7,934.5 246.8,933.8 248.0,933.4 249.2,933.4 250.4,933.3 251.6,932.5 252.8,932.6 254.0,933.2 255.1,932.6 256.3,932.0 257.5,932.3 258.7,932.8 259.9,932.2 261.1,931.0 262.3,931.1 263.5,931.8 264.6,931.8 265.8,932.0 267.0,931.6 268.2,930.7 269.4,931.3 270.6,931.1 271.8,929.6 272.9,929.4 274.1,929.4 275.3,929.0 276.5,929.4 277.7,929.9 278.9,929.5 280.1,929.2 281.3,929.1 282.4,928.6 283.6,927.8 284.8,927.2 286.0,927.7 287.2,927.6 288.4,926.9 289.6,926.6 290.8,926.2 291.9,926.6 293.1,927.6 294.3,927.4 295.5,926.0 296.7,925.0 297.9,925.5 299.1,926.6 300.3,926.0 301.4,925.2 302.6,925.5 303.8,925.4 305.0,924.9 306.2,924.2 307.4,923.6 308.6,924.0 309.8,924.6 310.9,924.7 312.1,924.1 313.3,923.9 314.5,924.0 315.7,923.6 316.9,923.2 318.1,923.1 319.3,923.2 320.5,923.0 321.6,923.2 322.8,922.8 324.0,922.1 325.2,922.2 326.4,922.0 327.6,921.8 328.8,922.1 330.0,922.4 331.2,922.6 332.4,922.2 333.5,921.6 334.7,921.3 335.9,920.8 337.1,920.5 338.3,921.0 339.5,921.8 340.7,921.2 341.9,920.5 343.1,920.9 344.3,920.6 345.5,919.7 346.7,919.5 347.8,919.5 349.0,919.5 350.2,920.1 351.4,920.2 352.6,918.6 353.8,917.2 355.0,917.2 356.2,918.1 357.4,918.6 358.6,918.0 359.8,917.1 361.0,916.6 362.2,916.6 363.4,917.5 364.6,918.0 365.7,917.8 366.9,917.9 368.1,918.3 369.3,917.9 370.5,917.2 371.7,917.2 372.9,917.7 374.1,917.7 375.3,917.6 376.5,917.0 377.7,916.7 378.9,916.6 380.1,916.1 381.3,915.7 382.5,915.7 383.7,916.8 384.9,917.7 386.1,917.1 387.3,916.4 388.5,916.2 389.7,915.9 390.9,915.8 392.1,915.4 393.3,914.6 394.5,914.5 395.7,915.4 396.9,915.9 398.1,915.4 399.3,915.1 400.5,915.0 401.7,914.9 402.9,915.0 404.1,915.3 405.3,916.0 406.5,915.6 407.7,915.0 408.9,915.6 410.1,916.4 411.3,916.9 412.5,916.8 413.7,916.2 414.9,915.9 416.1,915.8 417.3,915.4 418.5,914.9 419.7,915.0 420.9,915.6 422.1,915.8 423.3,915.9 424.5,916.3 425.7,916.5 426.9,916.1 428.1,915.5 429.3,915.1 430.4,916.1 431.6,917.1 432.8,916.8 434.0,916.4 435.2,916.2 436.4,916.6 437.6,917.1 438.8,916.7 440.0,917.0 441.2,917.5 442.4,917.1 443.6,916.8 444.8,917.3 446.0,918.1 447.1,918.2 448.3,918.3 449.5,918.9 450.7,918.8 451.9,918.4 453.1,919.1 454.2,919.8 455.4,920.4 456.6,920.2 457.8,919.7 459.0,920.0 460.1,920.3 461.3,920.0 462.5,919.5 463.7,920.3 464.8,921.2 466.0,921.4 467.2,921.5 468.3,921.2 469.5,921.7 470.7,923.1 471.8,923.4 473.0,922.8 474.2,923.1 475.3,923.8 476.5,923.6 477.7,923.6 478.8,924.5 480.0,925.7 481.1,926.2 482.3,926.3 483.5,925.8 484.6,924.9 485.8,925.2 486.9,926.6 488.1,927.6 489.3,927.5 490.4,927.5 491.6,928.0 492.7,928.7 493.9,929.0 495.0,929.2 496.2,930.0 497.4,930.0 498.5,929.6 499.7,929.8 500.8,930.8 502.0,931.5 503.1,931.1 504.3,931.3 505.4,932.4 506.6,932.7 507.8,932.1 508.9,931.9 510.1,932.4 511.2,933.0 512.4,933.7 513.5,934.4 514.7,934.9 515.9,935.3 517.0,935.3 518.2,935.5 519.3,935.6 520.5,936.1 521.7,937.1 522.8,937.6 524.0,937.4 525.1,938.0 526.3,938.6 527.5,938.2 528.6,938.4 529.8,938.8 531.0,938.2 532.1,938.6 533.3,939.6 534.5,939.5 535.6,939.2 536.8,939.6 538.0,939.5 539.2,939.7 540.3,940.5 541.5,941.0 542.7,941.3 543.8,941.9 545.0,942.1 546.2,941.8 547.4,942.3 548.5,942.7 549.7,942.6 550.9,943.1 552.0,944.3 553.2,945.2 554.4,945.2 555.6,945.3 556.7,944.7 557.9,943.7 559.1,944.3 560.3,944.9 561.5,944.6 562.6,945.0 563.8,946.4 565.0,946.6 566.2,945.9 567.4,945.6 568.5,945.7 569.7,946.4 570.9,947.3 572.1,947.8 573.3,947.7 574.4,947.0 575.6,946.5 576.8,947.1 578.0,948.7 579.2,949.5 580.3,948.4 581.5,947.2 582.7,947.6 583.9,949.0 585.1,949.9 586.3,950.3 587.5,950.8 588.6,950.8 589.8,950.2 591.0,950.0 592.2,950.6 593.4,951.0 594.6,951.0 595.8,951.7 596.9,952.2 598.1,952.1 599.3,952.6 600.5,952.5 601.7,952.2 602.9,952.5 604.1,952.9 605.3,953.6 606.5,954.2 607.6,954.2 608.8,954.1 610.0,953.5 611.2,952.4 612.4,953.0 613.6,954.2 614.8,954.2 616.0,953.4 617.2,953.4 618.4,954.4 619.5,955.2 620.7,955.2 621.9,954.7 623.1,954.7 624.3,954.6 625.5,954.6 626.7,954.8 627.9,954.3 629.1,953.9 630.3,954.2 631.5,954.8 632.7,955.2 633.9,955.2 635.1,956.1 636.2,957.4 637.4,957.4 638.6,956.6 639.8,956.6 641.0,956.7 642.2,956.2 643.4,955.8 644.6,956.2 645.8,957.2 647.0,956.9 648.2,956.5 649.4,957.7 650.6,958.0 651.8,957.8 653.0,958.1 654.2,957.8 655.4,957.4 656.6,957.5 657.8,957.5 659.0,957.3 660.2,957.6 661.3,957.7 662.5,957.7 663.7,958.7 664.9,959.9 666.1,959.7 667.3,958.7 668.5,958.3 669.7,958.9 670.9,958.9 672.1,958.5 673.3,958.6 674.5,959.0 675.7,959.2 676.9,959.5 678.1,960.6 679.3,961.3 680.5,960.1 681.7,959.0 682.9,958.8 684.1,959.2 685.3,959.7 686.5,959.7 687.7,959.4 688.9,959.6 690.1,960.5 691.3,960.7 692.5,959.9 693.7,959.6 694.9,959.9 696.1,960.0 697.3,959.5 698.5,959.2 699.7,959.5 700.9,959.8 702.1,960.0 703.3,960.6 704.5,961.3 705.7,961.3 706.9,960.8 708.1,960.8 709.3,960.9 710.5,961.1 711.7,961.4 712.9,961.4 714.1,961.4 715.3,961.7 716.5,961.6 717.7,960.9 718.9,960.7 720.1,961.5 721.3,961.9 722.5,961.3 723.7,961.3 724.9,961.8 726.1,961.2 727.3,960.5 728.5,961.3 729.7,962.2 730.9,961.8 732.1,961.0 733.3,960.5 734.5,961.1 735.7,961.9 736.9,961.8 738.1,961.7 739.3,961.2 740.5,960.9 741.7,961.6 742.9,962.2 744.1,962.3 745.3,962.2 746.5,962.1 747.7,961.3 748.9,961.3 750.1,962.5 751.3,962.8 752.5,962.3 753.7,961.8 754.9,961.0 756.1,960.3 757.3,960.5 758.5,960.7 759.7,961.6 760.9,963.0 762.1,962.9 763.3,961.9 764.5,961.7 765.7,962.3 766.9,963.1 768.1,962.8 769.3,962.3 770.5,963.0 771.7,963.7 772.9,963.2 774.1,962.2 775.3,962.0 776.5,962.2 777.7,962.3 778.9,962.6 780.1,962.2 781.3,961.8 782.5,961.7 783.7,961.1 784.9,960.6 786.1,961.1 787.3,962.2 788.5,962.2 789.7,961.9 790.9,961.6 792.1,961.0 793.3,961.4 794.5,962.3 795.7,962.2 796.9,961.8 798.1,961.5 799.3,960.5 800.5,960.4 801.7,961.2 802.9,961.5 804.1,961.5 805.3,962.2 806.5,962.6 807.7,962.2 808.9,961.8 810.1,961.8 811.3,962.0 812.5,961.9 813.7,962.0 814.9,962.2 816.1,961.4 817.3,960.7 818.5,960.7 819.7,960.7 820.9,961.2 822.1,961.8 823.3,961.6 824.5,961.3 825.7,961.2 826.9,961.1 828.1,961.4 829.3,961.1 830.5,960.6 831.7,960.6 832.9,960.8 834.1,960.8 835.3,960.4 836.5,960.4 837.7,961.3 838.9,962.1 840.1,962.2 841.3,961.8 842.5,961.3 843.7,961.7 844.9,961.8 846.1,961.2 847.3,961.2 848.5,960.9 849.7,960.2 850.9,960.6 852.1,961.1 853.3,961.3 854.5,962.0 855.7,962.2 856.9,961.0 858.1,960.1 859.3,960.6 860.5,961.1 861.7,961.3 862.9,961.7 864.1,961.8 865.3,961.7 866.5,961.1 867.7,960.7 868.9,960.3 870.1,960.0 871.3,960.0 872.5,960.4 873.7,960.3 874.9,959.7 876.1,960.0 877.3,960.3 878.4,960.2 879.6,960.8 880.8,961.3 882.0,960.9 883.2,960.2 884.4,960.5 885.6,960.5 886.8,959.2 888.0,958.4 889.2,959.3 890.4,960.4 891.6,960.3 892.8,960.7 894.0,960.9 895.2,960.1 896.4,959.9 897.6,960.3 898.8,960.5 900.0,961.0 901.2,961.5 902.4,961.3 903.6,960.8 904.8,960.3 906.0,959.9 907.2,959.5 908.4,959.2 909.6,959.3 910.8,959.3 912.0,959.3 913.2,959.7 914.4,960.2 915.6,959.9 916.8,959.2 918.0,959.3 919.2,959.4 920.4,959.4 921.6,960.6 922.8,961.3 924.0,960.7 925.2,959.1 926.4,958.0 927.6,958.2 928.8,958.1 930.0,959.1 931.2,960.1 932.4,959.7 933.6,959.0 934.8,958.4 936.0,958.5 937.2,958.6 938.4,958.5 939.6,959.0 940.8,959.1 942.0,959.2 943.2,959.6 944.4,959.5 945.6,959.1 946.8,958.9 948.0,959.1 949.2,958.3 950.4,957.8 951.6,958.2 952.8,958.1 954.0,958.3 955.2,958.4 956.4,958.5 957.6,959.2 958.8,959.0 960.0,958.5 961.2,958.4 962.4,958.9 963.6,959.3 964.8,959.1 966.0,959.2 967.2,958.8 968.4,958.4 969.6,958.3 970.8,958.1 972.0,958.5 973.2,959.2 974.4,958.9 975.6,958.2 976.8,958.5 978.0,959.3 979.2,959.6 980.4,959.2 981.6,958.2 982.8,958.1 984.0,959.1 985.2,959.2 986.4,958.0 987.6,957.8 988.8,958.4 990.0,958.1 991.2,958.0 992.4,958.6 993.6,958.5 994.8,957.3 996.0,956.9 997.2,958.0 998.4,958.4 999.6,958.2 1000.8,958.3 1002.0,958.4 1003.2,959.0 1004.4,959.3 1005.6,958.6 1006.8,957.9 1008.0,957.9 1009.2,958.1 1010.4,958.1 1011.6,957.6 1012.8,957.3 1014.0,957.5 1015.2,957.9 1016.4,958.4 1017.6,958.2 1018.8,958.4 1020.0,959.0 1021.2,958.9 1022.4,958.9 1023.6,958.9 1024.8,958.4 1026.0,957.5 1027.2,956.9 1028.4,957.3 1029.6,957.8 1030.8,958.0 1032.0,958.9 1033.2,958.9 1034.4,958.1 1035.6,958.0 1036.8,957.9 1038.0,958.0 1039.2,958.2 1040.4,957.8 1041.6,957.3 1042.8,957.1 1044.0,957.2 1045.2,957.0 1046.4,957.0 1047.6,957.5 1048.8,957.9 1050.0,957.8 1051.2,957.8 1052.4,957.7 1053.6,957.4 1054.8,957.3 1056.0,957.4 1057.2,957.8 1058.4,958.0 1059.6,957.4 1060.8,957.2 1062.0,957.7 1063.2,957.7 1064.4,957.7 1065.6,957.5 1066.8,957.4 1068.0,957.5 1069.2,957.8 1070.4,957.7 1071.6,956.9 1072.8,956.5 1074.0,957.1 1075.2,957.6 1076.4,958.4 1077.6,958.9 1078.8,957.9 1080.0,956.7 1081.2,956.9 1082.4,957.7 1083.6,957.7 1084.8,957.7 1086.0,958.3 1087.2,958.5 1088.4,957.8 1089.6,957.3 1090.8,957.3 1092.0,957.2 1093.2,956.7 1094.4,956.8 1095.6,957.3 1096.8,957.6 1098.0,957.6 1099.2,957.6 1100.4,957.9 1101.6,957.8 1102.8,957.5 1104.0,957.7 1105.2,957.5 1106.4,957.5 1107.6,957.9 1108.8,957.8 1110.0,957.1 1111.2,956.9 1112.4,957.4 1113.6,957.3 1114.8,956.7 1116.0,957.1 1117.2,957.5 1118.4,957.0 1119.6,956.5 1120.8,956.3 1122.0,957.0 1123.2,957.3 1124.4,956.4 1125.6,956.3 1126.8,957.8 1128.0,958.0 1129.2,957.0 1130.4,957.1 1131.6,957.3 1132.8,956.6 1134.0,956.7 1135.2,957.7 1136.4,957.5 1137.6,956.2 1138.8,956.5 1140.0,957.9 1141.2,958.1 1142.4,957.3 1143.6,956.5 1144.8,956.6 1146.0,957.5 1147.2,958.0 1148.4,957.5 1149.6,956.7 1150.8,955.7 1152.0,955.7 1153.2,956.3 1154.4,956.4 1155.6,956.6 1156.8,956.5 1158.0,956.4 1159.2,957.0 1160.4,957.2 1161.6,957.1 1162.8,957.0 1164.0,956.4 1165.2,957.0 1166.4,957.8 1167.6,957.4 1168.8,957.5 1170.0,957.7 1171.2,957.0 1172.4,956.0 1173.6,956.2 1174.8,956.7 1176.0,956.3 1177.2,956.1 1178.4,955.8 1179.6,956.3 1180.8,957.5 1182.0,957.9 1183.2,958.0 1184.4,957.3 1185.6,956.2 1186.8,956.2 1188.0,956.7 1189.2,956.5 1190.4,956.2 1191.6,955.9 1192.8,955.5 1194.0,955.5 1195.2,955.4 1196.4,955.8 1197.6,957.0 1198.8,957.6 1200.0,957.8 1201.2,957.7 1202.4,957.0 1203.6,956.9 1204.8,957.0 1206.0,956.5 1207.2,956.0 1208.4,956.1 1209.6,956.5 1210.8,956.1 1212.0,955.6 1213.2,956.1 1214.4,956.3 1215.6,956.0 1216.8,956.6 1218.0,957.5 1219.2,957.3 1220.4,956.5 1221.6,957.0 1222.8,957.9 1224.0,958.1 1225.2,957.7 1226.4,956.3 1227.6,955.6 1228.8,956.1 1230.0,956.3 1231.2,956.5 1232.4,956.6 1233.6,955.8 1234.8,955.5 1236.0,956.1 1237.2,956.9 1238.4,957.5 1239.6,957.6 1240.8,957.6 1242.0,957.6 1243.2,956.7 1244.4,955.7 1245.6,956.1 1246.8,957.1 1248.0,957.0 1249.2,956.2 1250.4,955.9 1251.6,956.2 1252.8,956.8 1254.0,956.9 1255.2,956.5 1256.4,956.5 1257.6,956.3 1258.8,956.1 1260.0,956.9 1261.2,957.4 1262.4,957.0 1263.6,957.0 1264.8,957.6 1266.0,958.0 1267.2,957.2 1268.4,956.4 1269.6,957.1 1270.8,957.9 1272.0,957.4 1273.2,957.1 1274.4,956.5 1275.6,955.6 1276.8,955.2 1278.0,955.3 1279.2,956.1 1280.4,957.1 1281.6,956.6 1282.8,955.5 1284.0,955.9 1285.2,956.3 1286.4,956.0 1287.6,956.3 1288.8,956.2 1290.0,956.1 1291.2,957.1 1292.4,957.5 1293.6,957.6 1294.8,957.6 1296.0,956.9 1297.2,956.7 1298.4,956.5 1299.6,956.5 1300.8,956.9 1302.0,956.4 1303.2,955.9 1304.4,956.0 1305.6,956.4 1306.8,956.8 1308.0,956.1 1309.2,955.5 1310.4,956.0 1311.6,956.6 1312.8,956.4 1314.0,956.1 1315.2,956.1 1316.4,956.2 1317.6,956.3 1318.8,956.3 1320.0,956.5 1321.2,956.8 1322.4,956.6 1323.6,956.0 1324.8,956.0 1326.0,956.4 1327.2,956.2 1328.4,955.9 1329.6,955.8 1330.8,955.9 1332.0,956.2 1333.2,955.4 1334.4,954.3 1335.6,955.1 1336.8,956.9 1338.0,957.4 1339.2,956.9 1340.4,955.9 1341.6,955.2 1342.8,955.4 1344.0,956.1 1345.2,957.0 1346.4,957.1 1347.6,957.1 1348.8,957.7 1350.0,957.6 1351.2,957.2 1352.4,956.8 1353.6,956.2 1354.8,956.2 1356.0,956.6 1357.2,956.8 1358.4,956.7 1359.6,956.0 1360.8,955.8 1362.0,956.2 1363.2,956.5 1364.4,956.4 1365.6,956.4 1366.8,956.1 1368.0,955.6 1369.2,955.7 1370.4,955.6 1371.6,955.5 1372.8,955.9 1374.0,956.0 1375.2,955.3 1376.4,955.5 1377.6,956.3 1378.8,956.7 1380.0,956.4 1381.2,956.1 1382.4,956.2 1383.6,956.2 1384.8,956.1 1386.0,955.6 1387.2,955.1 1388.4,955.8 1389.6,956.7 1390.8,956.1 1392.0,955.0 1393.2,955.1 1394.4,955.1 1395.6,955.2 1396.8,956.6 1398.0,957.5 1399.2,957.0 1400.4,956.6 1401.6,956.5 1402.8,956.0 1404.0,955.4 1405.2,955.8 1406.4,956.5 1407.6,956.8 1408.8,956.5 1410.0,956.3 1411.2,956.9 1412.4,956.9 1413.6,956.6 1414.8,956.1 1416.0,955.9 1417.2,956.6 1418.4,956.8 1419.6,955.7 1420.8,955.4 1422.0,955.8 1423.2,956.0 1424.4,956.3 1425.6,956.5 1426.8,956.5 1428.0,956.3 1429.2,955.7 1430.4,955.2 1431.6,955.6 1432.8,956.1 1434.0,955.9 1435.2,956.4 1436.4,956.8 1437.6,956.2 1438.8,955.7 1440.0,956.1 1441.2,956.9 1442.4,956.9 1443.6,956.5 1444.8,956.4 1446.0,956.7 1447.2,957.0 1448.4,956.7 1449.6,956.5 1450.8,956.4 1452.0,956.5 1453.2,956.3 1454.4,955.7 1455.6,955.6 1456.8,955.3 1458.0,955.4 1459.2,956.3 1460.4,956.0 1461.6,955.4 1462.8,955.4 1464.0,955.9 1465.2,956.8 1466.4,956.7 1467.6,956.1 1468.8,955.9 1470.0,955.7 1471.2,955.7 1472.4,956.4 1473.6,956.6 1474.8,956.0 1476.0,955.8 1477.2,955.7 1478.4,955.1 1479.6,955.1 1480.8,955.0 1482.0,954.7 1483.2,955.6 1484.4,956.1 1485.6,956.0 1486.8,956.1 1488.0,955.7 1489.2,955.8 1490.4,956.2 1491.6,956.5 1492.8,957.4 1494.0,957.6 1495.2,956.6 1496.4,955.8 1497.6,955.9 1498.8,956.6 1500.0,957.7 1501.2,957.5 1502.4,956.7 1503.6,956.5 1504.8,956.1 1506.0,956.5 1507.2,956.8 1508.4,956.2 1509.6,956.0 1510.8,956.6 1512.0,957.4 1513.2,956.6 1514.4,955.2 1515.6,955.8 1516.8,956.8 1518.0,955.7 1519.2,954.6 1520.4,954.9 1521.6,955.4 1522.8,955.8 1524.0,956.0 1525.2,955.8 1526.4,956.3 1527.6,956.7 1528.8,956.8 1530.0,957.0 1531.2,956.5 1532.4,956.1 1533.6,956.8 1534.8,957.1 1536.0,956.5 1537.2,956.1 1538.4,956.3 1539.6,956.7 1540.8,956.4 1542.0,956.2 1543.2,956.6 1544.4,956.9 1545.6,956.7 1546.8,956.1 1548.0,955.8 1549.2,956.7 1550.4,957.1 1551.6,955.4 1552.8,955.6 1554.0,956.9 1555.2,955.9 1556.4,955.2 1557.6,955.2 1558.8,955.1 1560.0,955.6 1561.2,956.3 1562.4,956.4 1563.6,956.8 1564.8,957.2 1566.0,956.4 1567.2,955.6 1568.4,955.8 1569.6,956.3 1570.8,956.6 1572.0,957.0 1573.2,956.9 1574.4,956.6 1575.6,956.7 1576.8,957.0 1578.0,956.8 1579.2,955.8 1580.4,954.6 1581.6,954.3 1582.8,954.0 1584.0,954.6 1585.2,956.3 1586.4,956.8 1587.6,956.6 1588.8,957.1 1590.0,957.0 1591.2,955.9 1592.4,955.3 1593.6,955.5 1594.8,955.9 1596.0,956.2 1597.2,956.5 1598.4,956.9 1599.6,956.5 1600.8,955.2 1602.0,954.9 1603.2,955.5 1604.4,956.0 1605.6,955.8 1606.8,955.2 1608.0,955.3 1609.2,956.4 1610.4,956.5 1611.6,955.4 1612.8,954.9 1614.0,954.9 1615.2,954.8 1616.4,954.7 1617.6,955.2 1618.8,956.4 1620.0,957.1 1621.2,956.9 1622.4,956.5 1623.6,956.0 1624.8,955.5 1626.0,955.5 1627.2,955.9 1628.4,956.2 1629.6,956.5 1630.8,956.5 1632.0,956.5 1633.2,956.7 1634.4,956.5 1635.6,956.0 1636.8,955.7 1638.0,955.4 1639.2,955.8 1640.4,956.7 1641.6,957.3 1642.8,957.6 1644.0,957.0 1645.2,956.6 1646.4,957.3 1647.6,956.7 1648.8,955.9 1650.0,956.1 1651.2,956.6 1652.4,956.9 1653.6,956.4 1654.8,956.1 1656.0,957.0 1657.2,957.3 1658.4,956.9 1659.6,956.6 1660.8,956.3 1662.0,956.4 1663.2,956.5 1664.4,956.4 1665.6,956.4 1666.8,956.1 1668.0,956.1 1669.2,956.2 1670.4,956.0 1671.6,956.1 1672.8,956.1 1674.0,955.9 1675.2,956.2 1676.4,956.3 1677.6,956.0 1678.8,956.5 1680.0,957.0 1681.2,957.0 1682.4,957.0 1683.6,956.9 1684.8,956.6 1686.0,956.1 1687.2,955.8 1688.4,955.7 1689.6,956.2 1690.8,956.5 1692.0,955.7 1693.2,955.3 1694.4,955.7 1695.6,956.4 1696.8,957.1 1698.0,957.2 1699.2,956.6 1700.4,955.5 1701.6,954.7 1702.8,955.0 1704.0,956.1 1705.2,956.8 1706.4,956.4 1707.6,956.1 1708.8,955.6 1710.0,954.4 1711.2,954.9 1712.4,956.3 1713.6,956.5 1714.8,955.7 1716.0,955.4 1717.2,955.7 1718.4,956.3 1719.6,957.5 1720.8,958.0" stroke="#1c781c" stroke-width="2.9"/>
<polyline points="186.2,943.7 187.4,944.7 188.6,944.6 189.8,942.8 191.0,941.5 192.2,941.9 193.4,941.9 194.6,941.0 195.8,941.3 197.0,942.5 198.2,942.3 199.4,941.1 200.6,941.0 201.7,941.3 202.9,940.9 204.1,940.5 205.3,940.7 206.5,940.7 207.7,940.3 208.9,940.1 210.1,940.1 211.3,940.0 212.5,939.4 213.7,939.4 214.9,940.1 216.1,940.4 217.3,939.8 218.4,939.6 219.6,940.3 220.8,940.3 222.0,939.2 223.2,937.6 224.4,937.0 225.6,938.1 226.8,938.4 228.0,938.1 229.2,938.7 230.4,939.0 231.6,938.5 232.8,937.5 233.9,937.0 235.1,937.5 236.3,937.2 237.5,936.9 238.7,937.3 239.9,936.8 241.1,936.3 242.3,936.4 243.5,936.7 244.7,936.8 245.9,936.9 247.0,936.6 248.2,936.0 249.4,935.8 250.6,935.2 251.8,934.4 253.0,935.0 254.2,935.7 255.4,935.2 256.6,934.7 257.8,934.8 259.0,934.3 260.2,934.0 261.3,934.2 262.5,934.4 263.7,934.7 264.9,934.6 266.1,934.3 267.3,933.8 268.5,933.6 269.7,933.0 270.9,931.9 272.1,931.6 273.3,931.4 274.5,931.6 275.6,932.8 276.8,933.1 278.0,932.5 279.2,932.0 280.4,932.3 281.6,932.5 282.8,931.9 284.0,931.6 285.2,932.3 286.4,933.0 287.6,932.3 288.8,931.7 290.0,931.8 291.1,931.1 292.3,930.2 293.5,929.8 294.7,929.5 295.9,930.1 297.1,930.9 298.3,930.3 299.5,929.5 300.7,929.1 301.9,928.7 303.1,928.9 304.3,929.2 305.5,929.3 306.7,929.2 307.9,928.5 309.0,927.7 310.2,928.1 311.4,928.8 312.6,927.9 313.8,927.4 315.0,928.0 316.2,927.4 317.4,927.2 318.6,927.1 319.8,926.3 321.0,926.6 322.2,927.7 323.4,928.0 324.6,927.7 325.8,927.5 327.0,927.2 328.2,926.6 329.4,926.5 330.6,926.5 331.8,926.1 333.0,926.1 334.2,927.3 335.3,927.9 336.5,926.4 337.7,925.4 338.9,925.9 340.1,926.5 341.3,926.6 342.5,926.2 343.7,926.1 344.9,926.4 346.1,926.6 347.3,926.3 348.5,925.3 349.7,924.5 350.9,924.5 352.1,925.6 353.3,926.1 354.5,924.9 355.7,924.6 356.9,926.0 358.1,926.0 359.3,924.6 360.5,924.4 361.7,925.1 362.9,925.3 364.1,924.9 365.3,924.5 366.5,924.0 367.7,923.7 368.9,924.0 370.1,924.3 371.3,924.1 372.5,924.5 373.7,925.3 374.9,925.0 376.1,924.7 377.3,924.9 378.5,925.1 379.7,924.6 380.9,924.4 382.1,924.3 383.3,924.2 384.5,925.1 385.7,925.1 386.9,924.6 388.1,925.8 389.3,926.2 390.5,924.8 391.7,924.4 392.9,925.1 394.1,924.8 395.3,924.3 396.5,924.7 397.7,925.2 398.9,925.1 400.1,925.0 401.3,925.1 402.5,925.0 403.7,925.0 404.9,925.0 406.1,924.7 407.3,924.7 408.5,925.2 409.7,925.2 410.9,924.3 412.1,924.0 413.3,924.8 414.5,924.9 415.7,924.7 416.9,925.0 418.1,925.3 419.3,925.3 420.5,925.5 421.7,925.9 422.9,925.6 424.1,925.7 425.3,926.0 426.5,926.0 427.7,925.7 428.9,925.1 430.1,924.8 431.3,925.6 432.5,926.2 433.7,925.6 434.9,924.2 436.1,923.7 437.3,924.6 438.5,925.1 439.7,925.2 440.8,925.4 442.0,925.8 443.2,926.5 444.4,927.0 445.6,927.5 446.8,927.7 448.0,927.9 449.2,928.0 450.4,927.6 451.6,927.5 452.8,928.1 454.0,928.4 455.2,927.5 456.4,926.8 457.6,927.4 458.8,927.7 460.0,927.4 461.2,927.8 462.4,928.6 463.6,928.5 464.7,928.3 465.9,929.5 467.1,930.0 468.3,929.3 469.5,929.2 470.7,929.1 471.9,929.2 473.1,930.0 474.3,930.4 475.5,929.9 476.7,929.7 477.9,929.8 479.1,929.6 480.2,929.8 481.4,930.6 482.6,930.9 483.8,930.9 485.0,931.2 486.2,931.3 487.4,931.5 488.6,931.9 489.8,931.7 491.0,931.6 492.1,932.1 493.3,932.6 494.5,933.3 495.7,933.4 496.9,932.5 498.1,932.2 499.3,932.5 500.5,932.7 501.7,933.0 502.8,933.3 504.0,933.3 505.2,933.2 506.4,934.0 507.6,934.9 508.8,934.8 510.0,934.5 511.2,934.6 512.3,934.2 513.5,933.9 514.7,934.0 515.9,934.2 517.1,935.3 518.3,936.4 519.5,936.6 520.7,937.1 521.8,937.4 523.0,937.2 524.2,937.2 525.4,936.6 526.6,935.9 527.8,936.1 529.0,936.3 530.2,936.6 531.3,937.3 532.5,937.8 533.7,938.1 534.9,938.0 536.1,937.3 537.3,937.0 538.5,937.6 539.6,938.7 540.8,939.7 542.0,939.3 543.2,939.3 544.4,940.1 545.6,939.9 546.8,939.1 547.9,939.7 549.1,941.2 550.3,941.5 551.5,941.2 552.7,941.0 553.9,940.7 555.1,940.9 556.2,941.5 557.4,942.3 558.6,943.4 559.8,943.9 561.0,942.8 562.2,941.4 563.4,941.2 564.6,941.5 565.7,942.2 566.9,943.1 568.1,943.0 569.3,942.8 570.5,942.8 571.7,942.7 572.9,942.6 574.0,942.5 575.2,943.2 576.4,944.2 577.6,944.6 578.8,944.8 580.0,945.4 581.2,945.4 582.3,945.6 583.5,946.8 584.7,946.4 585.9,945.1 587.1,945.4 588.3,946.4 589.5,946.3 590.7,945.9 591.8,946.2 593.0,946.1 594.2,945.6 595.4,946.1 596.6,947.4 597.8,948.2 599.0,949.1 600.1,949.8 601.3,949.5 602.5,949.1 603.7,949.0 604.9,949.0 606.1,949.3 607.3,948.8 608.5,948.7 609.6,949.5 610.8,950.0 612.0,950.0 613.2,949.8 614.4,949.8 615.6,949.9 616.8,950.0 618.0,950.3 619.2,950.4 620.3,950.8 621.5,951.7 622.7,952.2 623.9,952.5 625.1,953.0 626.3,952.9 627.5,952.6 628.7,952.7 629.9,953.3 631.0,953.6 632.2,953.2 633.4,952.8 634.6,952.5 635.8,952.6 637.0,952.6 638.2,952.8 639.4,953.0 640.6,953.1 641.8,954.6 643.0,955.2 644.1,954.0 645.3,953.6 646.5,954.3 647.7,955.1 648.9,956.1 650.1,956.5 651.3,956.0 652.5,955.6 653.7,955.5 654.9,955.5 656.1,955.9 657.3,955.9 658.4,955.6 659.6,955.7 660.8,956.3 662.0,956.6 663.2,956.1 664.4,956.2 665.6,957.4 666.8,957.3 668.0,956.1 669.2,956.3 670.4,957.1 671.6,957.8 672.8,957.9 674.0,957.5 675.2,956.8 676.3,955.9 677.5,956.8 678.7,958.4 679.9,959.0 681.1,958.8 682.3,958.2 683.5,957.9 684.7,958.0 685.9,958.0 687.1,958.1 688.3,958.5 689.5,958.9 690.7,958.9 691.9,959.1 693.1,959.7 694.3,960.2 695.5,960.0 696.7,959.8 697.9,959.7 699.1,959.5 700.3,959.3 701.5,959.1 702.7,959.3 703.9,959.3 705.1,959.2 706.3,959.4 707.5,960.4 708.6,960.7 709.8,959.8 711.0,959.6 712.2,960.0 713.4,960.2 714.6,960.5 715.8,960.8 717.0,960.5 718.2,960.0 719.4,960.4 720.6,960.2 721.8,959.0 723.0,959.1 724.2,960.2 725.4,960.6 726.6,960.8 727.8,961.4 729.0,961.7 730.2,961.6 731.4,961.0 732.6,960.4 733.8,960.5 735.0,960.8 736.2,961.1 737.4,961.1 738.6,960.9 739.8,961.2 741.0,960.8 742.2,960.9 743.4,961.5 744.6,962.0 745.8,962.7 747.0,961.6 748.2,960.7 749.4,961.6 750.6,962.4 751.8,961.8 753.0,961.3 754.2,962.3 755.4,962.8 756.6,961.7 757.8,961.5 759.0,962.3 760.2,962.5 761.4,962.4 762.6,962.3 763.8,962.2 765.0,961.8 766.2,962.0 767.4,962.5 768.6,962.2 769.8,961.8 771.0,961.3 772.2,961.1 773.4,961.3 774.6,961.6 775.8,962.2 777.0,962.9 778.2,962.9 779.4,962.1 780.6,961.3 781.8,960.9 783.0,960.5 784.2,960.7 785.4,961.6 786.6,961.0 787.8,960.5 789.0,961.6 790.2,962.3 791.4,961.7 792.6,961.0 793.8,961.1 795.0,961.9 796.2,961.9 797.4,960.8 798.6,961.0 799.8,962.0 801.0,962.1 802.2,962.0 803.4,961.8 804.6,961.7 805.8,961.7 807.0,961.8 808.2,962.6 809.4,962.1 810.6,960.6 811.8,959.7 813.0,959.9 814.2,960.8 815.4,960.9 816.6,960.3 817.8,960.0 819.0,960.3 820.2,960.5 821.4,959.8 822.6,959.9 823.8,960.8 825.0,961.1 826.2,961.4 827.4,961.0 828.6,960.0 829.8,960.2 831.0,960.9 832.2,960.3 833.4,959.7 834.6,960.3 835.8,960.6 837.0,960.0 838.2,960.0 839.4,960.3 840.6,960.3 841.8,960.0 843.0,959.7 844.2,960.1 845.4,960.1 846.6,959.9 847.8,959.8 849.0,959.6 850.2,959.5 851.4,959.6 852.6,959.9 853.8,960.0 855.0,959.3 856.2,958.9 857.4,958.9 858.6,958.6 859.8,958.9 861.0,959.3 862.2,959.3 863.4,959.1 864.6,959.1 865.8,959.4 867.0,958.8 868.2,957.8 869.4,958.2 870.6,958.9 871.8,958.9 873.0,959.6 874.2,959.9 875.4,959.1 876.6,958.6 877.8,958.7 879.0,958.7 880.2,958.2 881.4,958.3 882.6,958.7 883.8,958.1 885.0,957.2 886.2,957.3 887.4,958.7 888.6,959.7 889.8,959.5 891.0,959.4 892.2,959.3 893.4,959.1 894.6,959.2 895.8,959.3 897.0,959.4 898.2,959.4 899.4,959.1 900.6,959.3 901.8,959.4 903.0,959.1 904.2,959.1 905.4,958.9 906.6,958.8 907.8,959.2 909.0,959.4 910.2,959.2 911.4,958.4 912.6,957.7 913.8,957.7 915.0,957.9 916.2,957.8 917.4,957.0 918.6,956.3 919.8,957.1 921.0,958.4 922.2,958.5 923.4,958.0 924.6,957.3 925.8,956.9 927.0,956.9 928.2,956.6 929.4,956.6 930.6,956.8 931.8,957.2 933.0,958.0 934.2,958.4 935.4,957.0 936.6,956.5 937.8,957.9 939.0,958.0 940.2,957.2 941.4,956.8 942.6,956.1 943.8,955.4 945.0,956.3 946.2,957.9 947.4,957.9 948.5,957.4 949.7,957.7 950.9,957.8 952.1,957.8 953.3,957.5 954.5,956.7 955.7,956.1 956.9,955.5 958.1,955.3 959.3,956.1 960.5,956.8 961.7,956.6 962.9,956.9 964.1,957.3 965.3,957.3 966.5,957.0 967.7,956.8 968.9,956.8 970.1,956.3 971.3,955.7 972.5,955.7 973.7,956.6 974.9,956.5 976.1,956.2 977.3,956.5 978.5,956.6 979.7,956.7 980.9,956.2 982.1,955.1 983.3,954.9 984.5,956.1 985.7,956.9 986.9,956.3 988.1,955.9 989.3,956.3 990.5,957.4 991.7,957.2 992.9,956.8 994.1,956.7 995.3,956.1 996.5,956.0 997.7,956.7 998.9,957.1 1000.1,956.3 1001.3,955.6 1002.5,955.5 1003.7,955.0 1004.9,955.3 1006.1,955.6 1007.3,955.8 1008.5,956.4 1009.7,956.8 1010.9,956.9 1012.1,956.8 1013.3,956.4 1014.5,956.4 1015.7,956.8 1016.9,957.0 1018.1,956.9 1019.3,956.8 1020.5,956.1 1021.7,955.6 1022.9,955.9 1024.1,955.9 1025.3,955.9 1026.5,956.2 1027.7,956.4 1028.9,956.2 1030.1,955.4 1031.3,955.3 1032.5,955.5 1033.7,955.0 1034.9,955.9 1036.1,958.0 1037.3,958.2 1038.5,957.1 1039.7,955.9 1040.9,955.3 1042.1,955.8 1043.3,955.7 1044.5,955.4 1045.7,955.9 1046.9,956.3 1048.1,956.3 1049.3,955.8 1050.5,955.4 1051.7,954.9 1052.9,954.3 1054.1,954.6 1055.3,955.4 1056.5,955.4 1057.7,954.3 1058.9,953.8 1060.1,954.5 1061.3,955.2 1062.5,954.8 1063.7,954.2 1064.9,955.1 1066.1,955.4 1067.3,954.8 1068.5,954.3 1069.7,954.6 1070.9,955.0 1072.1,955.1 1073.3,955.5 1074.5,955.8 1075.7,955.1 1076.9,954.0 1078.1,954.2 1079.3,955.3 1080.5,955.4 1081.7,954.8 1082.9,955.2 1084.1,955.7 1085.3,955.5 1086.5,955.4 1087.7,955.2 1088.9,954.9 1090.1,954.3 1091.3,954.1 1092.5,955.0 1093.7,956.0 1094.9,956.2 1096.1,955.4 1097.3,955.1 1098.5,955.5 1099.7,955.8 1100.9,956.1 1102.1,955.5 1103.3,954.4 1104.5,954.6 1105.7,954.8 1106.9,954.1 1108.1,954.5 1109.3,954.9 1110.5,953.7 1111.7,954.0 1112.9,956.1 1114.1,956.5 1115.3,955.1 1116.5,954.1 1117.7,954.0 1118.9,954.2 1120.1,954.3 1121.3,955.0 1122.5,955.3 1123.7,955.0 1124.9,955.3 1126.1,955.6 1127.3,955.3 1128.5,955.4 1129.7,955.8 1130.9,955.1 1132.1,954.6 1133.3,955.0 1134.5,954.6 1135.7,954.1 1136.9,954.8 1138.1,955.3 1139.3,955.3 1140.5,955.6 1141.7,955.6 1142.9,954.5 1144.1,953.4 1145.3,953.8 1146.5,955.0 1147.7,955.7 1148.9,955.6 1150.1,955.1 1151.3,955.1 1152.5,955.8 1153.7,956.1 1154.9,955.4 1156.1,954.9 1157.3,955.0 1158.5,955.4 1159.7,955.4 1160.9,954.3 1162.1,952.9 1163.3,953.3 1164.5,954.6 1165.7,955.1 1166.9,954.8 1168.1,954.9 1169.3,955.6 1170.5,955.3 1171.7,954.4 1172.9,954.3 1174.1,954.4 1175.3,954.2 1176.5,954.3 1177.7,955.1 1178.9,955.7 1180.1,955.5 1181.3,955.3 1182.5,955.5 1183.7,955.9 1184.9,955.8 1186.1,955.2 1187.3,954.9 1188.5,954.4 1189.7,954.3 1190.9,954.6 1192.1,954.2 1193.3,953.3 1194.5,953.6 1195.7,954.2 1196.9,954.4 1198.1,955.1 1199.3,955.7 1200.5,955.7 1201.7,955.4 1202.9,954.6 1204.1,954.7 1205.3,955.6 1206.5,955.1 1207.7,954.1 1208.9,954.3 1210.1,954.5 1211.3,953.9 1212.5,953.6 1213.7,953.3 1214.9,953.9 1216.1,955.0 1217.3,954.4 1218.5,953.5 1219.7,954.1 1220.9,955.1 1222.1,955.1 1223.3,955.1 1224.5,954.8 1225.7,954.4 1226.9,954.8 1228.1,954.8 1229.3,954.4 1230.5,954.7 1231.7,955.0 1232.9,954.5 1234.1,954.4 1235.3,954.3 1236.5,954.0 1237.7,954.5 1238.9,954.4 1240.1,953.7 1241.3,954.5 1242.5,955.4 1243.7,954.9 1244.9,954.6 1246.1,954.7 1247.3,954.7 1248.5,955.4 1249.7,955.8 1250.9,955.2 1252.1,954.6 1253.3,955.1 1254.5,955.3 1255.7,955.3 1256.9,955.6 1258.1,955.3 1259.3,955.1 1260.5,955.4 1261.7,955.3 1262.9,955.2 1264.1,955.6 1265.3,955.5 1266.5,955.1 1267.7,954.6 1268.9,954.6 1270.1,955.2 1271.3,955.3 1272.5,954.5 1273.7,954.3 1274.9,954.0 1276.1,953.1 1277.3,952.9 1278.5,953.5 1279.7,954.1 1280.9,954.2 1282.1,954.2 1283.3,954.8 1284.5,955.0 1285.7,954.8 1286.9,955.0 1288.1,955.4 1289.3,956.0 1290.5,956.2 1291.7,955.6 1292.9,954.9 1294.1,955.0 1295.3,955.6 1296.5,955.9 1297.7,955.6 1298.9,955.5 1300.1,955.9 1301.3,956.0 1302.5,955.0 1303.7,954.3 1304.9,954.9 1306.1,955.6 1307.3,955.2 1308.5,954.6 1309.7,954.8 1310.9,955.0 1312.1,954.6 1313.3,953.9 1314.5,954.2 1315.7,955.3 1316.9,955.8 1318.1,955.7 1319.3,955.2 1320.5,954.9 1321.7,955.5 1322.9,955.1 1324.1,954.0 1325.3,954.4 1326.5,954.9 1327.7,954.9 1328.9,955.1 1330.1,955.4 1331.3,956.0 1332.5,956.2 1333.7,955.5 1334.9,954.5 1336.1,954.4 1337.3,955.3 1338.5,956.1 1339.7,956.7 1340.9,957.0 1342.1,957.0 1343.3,956.2 1344.5,955.6 1345.7,955.7 1346.9,955.5 1348.1,954.9 1349.3,953.7 1350.5,953.3 1351.7,953.9 1352.9,954.2 1354.1,954.6 1355.3,954.9 1356.5,955.5 1357.7,956.3 1358.9,956.1 1360.1,955.5 1361.3,955.4 1362.5,955.2 1363.7,955.3 1364.9,955.5 1366.1,955.1 1367.3,954.7 1368.5,954.4 1369.7,953.9 1370.9,954.1 1372.1,954.8 1373.3,955.2 1374.5,956.2 1375.7,956.9 1376.9,956.4 1378.1,956.0 1379.3,955.8 1380.5,955.9 1381.7,955.9 1382.9,955.9 1384.1,956.4 1385.3,956.2 1386.5,955.2 1387.7,954.6 1388.9,955.3 1390.1,956.1 1391.3,955.7 1392.5,955.2 1393.7,954.9 1394.9,954.6 1396.1,954.8 1397.3,955.4 1398.5,955.6 1399.7,955.4 1400.9,955.2 1402.1,954.9 1403.3,954.2 1404.5,954.2 1405.7,954.5 1406.9,954.3 1408.1,954.8 1409.3,955.6 1410.5,955.4 1411.7,955.1 1412.9,954.9 1414.1,955.3 1415.3,955.7 1416.5,955.0 1417.7,954.8 1418.9,955.3 1420.1,955.2 1421.3,955.0 1422.5,954.9 1423.7,954.9 1424.9,955.5 1426.1,956.2 1427.3,955.9 1428.5,955.3 1429.7,956.0 1430.9,956.5 1432.1,956.0 1433.3,955.9 1434.5,955.4 1435.7,955.1 1436.9,954.9 1438.1,954.7 1439.3,955.3 1440.5,955.5 1441.7,954.8 1442.9,954.6 1444.1,955.1 1445.3,955.3 1446.5,955.1 1447.7,955.3 1448.9,955.4 1450.1,955.4 1451.3,955.2 1452.5,955.0 1453.7,955.5 1454.9,955.6 1456.1,955.3 1457.3,955.9 1458.5,955.9 1459.7,955.1 1460.9,955.3 1462.1,956.4 1463.3,956.6 1464.5,955.8 1465.7,955.4 1466.9,955.4 1468.1,955.7 1469.3,956.1 1470.5,956.1 1471.7,956.0 1472.9,955.2 1474.1,954.5 1475.3,955.3 1476.5,957.0 1477.7,957.3 1478.9,956.0 1480.1,955.3 1481.3,955.3 1482.5,955.0 1483.7,954.9 1484.9,955.1 1486.1,955.6 1487.3,956.5 1488.5,956.5 1489.7,955.2 1490.9,954.1 1492.1,954.5 1493.3,955.3 1494.5,955.9 1495.7,956.0 1496.9,955.5 1498.1,955.4 1499.3,955.7 1500.5,956.5 1501.7,957.6 1502.9,956.7 1504.1,955.7 1505.3,956.3 1506.5,956.0 1507.7,954.5 1508.9,954.4 1510.1,955.0 1511.3,955.4 1512.5,955.8 1513.7,955.9 1514.9,955.8 1516.1,955.5 1517.3,955.4 1518.5,955.4 1519.7,955.1 1520.9,955.4 1522.1,956.0 1523.3,955.7 1524.5,956.5 1525.7,956.7 1526.9,955.4 1528.1,955.7 1529.3,955.8 1530.5,955.3 1531.7,955.5 1532.9,955.5 1534.1,955.1 1535.3,954.8 1536.5,955.6 1537.7,957.0 1538.9,957.4 1540.1,957.0 1541.3,956.2 1542.5,955.4 1543.7,955.3 1544.9,955.9 1546.1,956.0 1547.3,955.5 1548.5,955.7 1549.7,955.9 1550.9,955.4 1552.1,955.3 1553.3,955.4 1554.5,955.0 1555.7,954.5 1556.9,955.0 1558.1,955.5 1559.3,955.8 1560.5,956.3 1561.7,956.5 1562.9,956.3 1564.1,956.0 1565.3,955.6 1566.5,955.6 1567.7,956.0 1568.9,956.1 1570.1,955.7 1571.3,955.0 1572.5,954.4 1573.7,955.1 1574.9,956.7 1576.1,956.5 1577.3,955.0 1578.5,954.7 1579.7,955.5 1580.9,955.8 1582.1,955.2 1583.3,955.2 1584.5,955.8 1585.7,955.8 1586.9,955.5 1588.1,955.2 1589.3,954.6 1590.5,953.9 1591.7,954.4 1592.9,955.3 1594.1,955.3 1595.3,955.0 1596.5,955.1 1597.7,955.5 1598.9,955.8 1600.1,955.2 1601.3,954.6 1602.5,954.7 1603.7,955.0 1604.9,955.2 1606.1,955.0 1607.3,955.2 1608.5,956.2 1609.7,957.2 1610.9,957.1 1612.1,956.1 1613.3,955.2 1614.5,955.2 1615.7,955.8 1616.9,956.2 1618.1,955.8 1619.3,954.9 1620.5,954.5 1621.7,955.0 1622.9,956.2 1624.1,956.7 1625.3,956.5 1626.5,956.4 1627.7,956.1 1628.9,955.3 1630.1,955.0 1631.3,955.6 1632.5,956.4 1633.7,956.5 1634.9,955.9 1636.1,955.5 1637.3,955.9 1638.5,955.9 1639.7,954.9 1640.9,955.1 1642.1,955.6 1643.3,955.4 1644.5,955.6 1645.7,955.6 1646.9,955.3 1648.1,955.8 1649.3,955.9 1650.5,955.2 1651.7,955.1 1652.9,955.3 1654.1,955.8 1655.3,955.7 1656.5,954.9 1657.7,955.2 1658.9,955.8 1660.1,955.2 1661.3,954.8 1662.5,955.7 1663.7,956.4 1664.9,955.1 1666.1,953.9 1667.3,954.8 1668.5,955.1 1669.7,954.2 1670.9,954.4 1672.1,954.6 1673.3,954.9 1674.5,955.9 1675.7,956.0 1676.9,955.1 1678.1,954.9 1679.3,954.9 1680.5,954.5 1681.7,954.7 1682.9,954.5 1684.1,954.3 1685.3,954.9 1686.5,955.4 1687.7,954.9 1688.9,953.6 1690.1,953.3 1691.3,954.3 1692.5,955.0 1693.7,954.2 1694.9,953.3 1696.1,953.7 1697.3,954.6 1698.5,954.6 1699.7,954.0 1700.9,954.1 1702.1,954.1 1703.3,953.4 1704.5,953.0 1705.7,953.2 1706.9,953.6 1708.1,953.6 1709.3,953.5 1710.5,955.0 1711.7,956.0 1712.9,955.7 1714.1,955.2 1715.3,954.4 1716.5,954.1 1717.7,954.6 1718.9,954.9 1720.1,954.6 1721.3,953.9" stroke="#1e981e" stroke-width="2.9"/>
<polyline points="186.2,943.4 187.4,943.1 188.6,942.4 189.8,941.8 191.0,942.1 192.2,942.3 193.4,941.5 194.6,941.0 195.8,941.1 197.0,941.5 198.2,941.3 199.4,940.6 200.6,941.0 201.8,941.5 203.0,941.6 204.2,941.6 205.4,941.2 206.6,941.2 207.8,940.5 209.0,940.0 210.2,940.9 211.4,941.2 212.6,941.9 213.8,942.7 215.0,942.0 216.2,940.9 217.4,941.4 218.6,941.8 219.8,940.7 221.0,939.8 222.2,939.5 223.4,939.2 224.6,939.4 225.7,939.2 226.9,939.0 228.1,939.1 229.3,939.2 230.5,939.5 231.7,939.7 232.9,939.9 234.1,940.1 235.3,939.8 236.5,939.3 237.7,939.3 238.9,939.8 240.1,939.6 241.3,938.6 242.5,938.0 243.7,938.2 244.9,938.9 246.1,938.9 247.3,938.4 248.4,938.2 249.6,938.0 250.8,938.1 252.0,937.3 253.2,936.4 254.4,936.8 255.6,936.9 256.8,936.3 258.0,936.4 259.2,936.6 260.4,936.5 261.6,936.0 262.8,935.9 264.0,935.8 265.2,935.2 266.4,935.5 267.5,936.3 268.7,936.6 269.9,936.4 271.1,936.4 272.3,935.8 273.5,934.5 274.7,934.4 275.9,934.8 277.1,934.7 278.3,934.3 279.5,934.3 280.7,934.1 281.9,933.2 283.1,933.3 284.3,934.4 285.4,934.3 286.6,934.2 287.8,934.5 289.0,933.8 290.2,932.9 291.4,932.5 292.6,933.1 293.8,933.4 295.0,932.4 296.2,931.7 297.4,931.5 298.6,931.2 299.8,931.2 301.0,931.9 302.2,932.3 303.4,931.8 304.5,931.9 305.7,932.9 306.9,932.5 308.1,931.7 309.3,932.5 310.5,933.1 311.7,932.5 312.9,931.7 314.1,931.0 315.3,930.7 316.5,930.4 317.7,931.0 318.9,931.7 320.1,930.9 321.3,929.8 322.5,928.7 323.7,928.6 324.9,929.6 326.1,929.7 327.3,929.6 328.4,929.7 329.6,929.4 330.8,929.6 332.0,929.3 333.2,928.5 334.4,928.3 335.6,928.3 336.8,928.4 338.0,928.6 339.2,929.0 340.4,929.5 341.6,928.9 342.8,927.9 344.0,927.7 345.2,927.8 346.4,927.9 347.6,927.9 348.8,927.9 350.0,928.4 351.2,928.6 352.4,928.0 353.6,928.2 354.8,928.7 356.0,928.0 357.2,927.4 358.4,927.7 359.6,928.5 360.8,929.2 362.0,929.7 363.2,929.0 364.4,927.8 365.6,927.9 366.8,928.4 368.0,928.2 369.2,927.7 370.4,927.6 371.6,927.6 372.8,927.0 374.0,927.0 375.2,927.9 376.4,928.4 377.6,928.2 378.8,927.4 380.0,926.4 381.2,926.3 382.4,926.5 383.6,926.9 384.8,927.3 386.0,927.3 387.2,927.5 388.4,927.5 389.6,926.7 390.8,926.9 392.0,927.5 393.2,927.2 394.4,926.4 395.6,926.3 396.8,926.9 398.0,927.2 399.2,927.4 400.4,927.5 401.6,926.9 402.8,926.4 404.0,926.0 405.2,926.4 406.4,927.8 407.6,928.5 408.8,928.0 410.0,927.5 411.2,928.0 412.4,928.9 413.6,929.2 414.8,928.2 416.0,927.3 417.2,927.9 418.4,927.8 419.6,927.3 420.8,927.9 422.0,928.2 423.2,928.2 424.4,928.4 425.6,928.3 426.8,928.3 428.0,928.5 429.2,928.2 430.4,928.0 431.6,928.0 432.8,928.0 434.0,928.4 435.2,929.0 436.3,929.6 437.5,929.6 438.7,929.4 439.9,929.2 441.1,929.5 442.3,929.2 443.5,928.5 444.7,929.8 445.9,930.7 447.1,930.2 448.3,930.2 449.5,930.1 450.7,929.5 451.9,928.6 453.1,928.5 454.3,929.7 455.5,930.1 456.7,929.7 457.9,930.2 459.1,930.8 460.3,931.1 461.5,930.9 462.7,930.3 463.9,930.1 465.1,930.1 466.3,929.8 467.5,930.3 468.7,931.4 469.9,931.4 471.1,931.3 472.2,932.1 473.4,932.5 474.6,932.5 475.8,932.6 477.0,932.8 478.2,932.6 479.4,931.9 480.6,931.7 481.8,932.5 483.0,933.7 484.2,933.8 485.4,933.3 486.6,933.6 487.8,933.9 489.0,933.6 490.2,933.2 491.4,933.4 492.5,933.9 493.7,934.3 494.9,934.2 496.1,933.9 497.3,934.1 498.5,934.3 499.7,934.0 500.9,933.5 502.1,933.4 503.3,933.7 504.5,934.8 505.7,935.7 506.9,935.4 508.1,935.3 509.2,935.8 510.4,936.0 511.6,936.3 512.8,936.3 514.0,936.9 515.2,937.3 516.4,936.6 517.6,935.5 518.8,934.8 520.0,935.1 521.2,935.9 522.3,935.9 523.5,935.9 524.7,936.9 525.9,937.8 527.1,937.9 528.3,937.9 529.5,937.6 530.7,937.6 531.9,938.5 533.1,939.6 534.3,939.5 535.4,938.5 536.6,938.5 537.8,939.0 539.0,939.4 540.2,939.0 541.4,938.9 542.6,939.3 543.8,939.4 545.0,940.4 546.2,940.9 547.3,939.9 548.5,939.4 549.7,940.0 550.9,940.5 552.1,941.0 553.3,941.6 554.5,941.7 555.7,941.8 556.9,941.6 558.0,941.2 559.2,941.0 560.4,940.4 561.6,940.3 562.8,940.7 564.0,941.3 565.2,941.9 566.4,942.0 567.6,942.3 568.7,943.1 569.9,943.7 571.1,943.4 572.3,943.2 573.5,943.4 574.7,943.1 575.9,942.8 577.1,943.5 578.3,944.5 579.4,944.7 580.6,944.3 581.8,944.3 583.0,944.8 584.2,945.1 585.4,945.2 586.6,945.8 587.8,946.5 589.0,946.4 590.1,945.9 591.3,946.3 592.5,946.6 593.7,946.0 594.9,945.7 596.1,946.5 597.3,946.8 598.5,946.6 599.7,947.7 600.9,948.4 602.0,947.1 603.2,946.4 604.4,946.6 605.6,946.8 606.8,947.0 608.0,946.8 609.2,946.8 610.4,947.9 611.6,949.1 612.7,949.6 613.9,949.8 615.1,949.9 616.3,949.7 617.5,950.0 618.7,950.2 619.9,949.4 621.1,948.4 622.3,948.3 623.5,948.9 624.7,949.8 625.8,950.5 627.0,950.5 628.2,950.8 629.4,951.3 630.6,951.5 631.8,951.9 633.0,951.7 634.2,950.7 635.4,950.1 636.6,950.6 637.8,951.4 638.9,951.6 640.1,952.1 641.3,953.0 642.5,953.3 643.7,952.9 644.9,952.8 646.1,952.9 647.3,952.8 648.5,952.3 649.7,952.0 650.9,952.6 652.1,953.1 653.3,953.0 654.4,953.5 655.6,954.8 656.8,954.9 658.0,953.9 659.2,953.7 660.4,954.5 661.6,955.7 662.8,955.8 664.0,955.3 665.2,955.6 666.4,955.6 667.6,955.4 668.8,955.5 670.0,956.1 671.2,957.0 672.4,956.8 673.5,955.9 674.7,955.8 675.9,956.4 677.1,956.8 678.3,955.9 679.5,955.3 680.7,956.1 681.9,956.6 683.1,956.8 684.3,957.2 685.5,957.1 686.7,956.7 687.9,956.8 689.1,957.3 690.3,957.4 691.5,957.2 692.7,956.9 693.9,956.5 695.1,956.6 696.3,957.4 697.5,957.5 698.7,957.0 699.9,957.7 701.1,958.0 702.3,957.2 703.4,957.2 704.6,958.4 705.8,959.0 707.0,959.0 708.2,958.8 709.4,958.6 710.6,958.5 711.8,957.7 713.0,957.2 714.2,958.3 715.4,959.1 716.6,959.3 717.8,959.1 719.0,958.8 720.2,958.8 721.4,959.0 722.6,958.9 723.8,959.1 725.0,959.5 726.2,959.4 727.4,959.2 728.6,959.1 729.8,958.5 731.0,957.7 732.2,958.1 733.4,959.6 734.6,960.4 735.8,960.2 737.0,960.2 738.2,960.0 739.4,959.5 740.6,959.7 741.8,959.7 743.0,959.2 744.2,959.4 745.4,960.3 746.6,960.4 747.8,960.5 749.0,961.2 750.2,960.9 751.4,959.6 752.6,959.3 753.8,960.1 755.0,960.6 756.2,959.8 757.4,959.4 758.6,959.7 759.8,959.9 761.0,959.9 762.2,959.8 763.4,959.7 764.6,959.7 765.8,960.2 767.0,961.0 768.2,961.2 769.4,960.9 770.6,960.2 771.8,959.7 773.0,959.7 774.2,960.4 775.4,960.7 776.6,960.2 777.8,960.3 779.0,960.6 780.2,959.9 781.4,959.5 782.6,959.2 783.8,958.8 785.0,959.3 786.2,960.3 787.4,960.0 788.6,959.7 789.8,960.2 791.0,960.3 792.2,959.5 793.4,959.1 794.6,959.5 795.8,959.3 797.0,959.3 798.2,959.9 799.4,960.0 800.6,960.1 801.8,960.3 803.0,960.2 804.2,959.8 805.4,959.6 806.6,959.6 807.8,960.1 809.0,961.1 810.2,960.9 811.4,960.2 812.6,960.0 813.8,960.1 815.0,960.0 816.2,959.7 817.4,959.8 818.6,959.7 819.8,959.7 821.0,959.7 822.2,959.3 823.4,959.3 824.6,958.6 825.8,958.6 827.0,959.6 828.2,959.1 829.4,958.6 830.6,958.9 831.8,958.7 833.0,959.0 834.2,960.0 835.4,960.0 836.6,959.5 837.8,959.5 839.0,959.1 840.2,958.0 841.4,957.5 842.6,958.7 843.8,959.7 845.0,959.3 846.2,959.5 847.4,959.6 848.6,958.2 849.8,958.1 851.0,959.2 852.2,958.4 853.4,957.4 854.6,957.9 855.8,958.3 857.0,958.3 858.2,958.2 859.4,958.4 860.6,958.5 861.8,957.9 863.0,957.5 864.2,957.4 865.4,957.6 866.6,957.5 867.8,957.2 869.0,957.5 870.2,957.3 871.4,958.0 872.6,959.1 873.8,958.8 875.0,957.7 876.2,956.5 877.4,956.0 878.6,956.0 879.8,956.8 881.0,958.9 882.2,959.9 883.4,958.6 884.6,957.9 885.8,957.8 887.0,957.3 888.2,957.0 889.4,957.6 890.6,957.9 891.8,957.4 893.0,957.2 894.2,957.0 895.4,956.0 896.6,956.0 897.8,956.9 899.0,957.6 900.2,958.2 901.4,958.6 902.6,958.5 903.8,957.6 905.0,957.4 906.2,957.6 907.4,956.8 908.6,956.3 909.8,956.7 911.0,957.3 912.2,957.9 913.4,957.7 914.6,957.0 915.8,956.8 917.0,957.1 918.2,957.2 919.4,957.1 920.6,957.1 921.8,956.2 923.0,955.3 924.2,955.8 925.4,957.0 926.6,957.4 927.8,957.0 929.0,956.3 930.2,956.3 931.4,956.5 932.6,956.9 933.8,957.1 935.0,956.2 936.2,956.0 937.4,956.9 938.6,956.9 939.8,956.7 941.0,957.8 942.2,958.4 943.4,957.4 944.6,957.0 945.8,957.2 947.0,957.0 948.2,956.4 949.4,956.1 950.6,956.1 951.8,956.4 953.0,956.9 954.2,957.0 955.4,956.6 956.6,956.4 957.8,956.0 959.0,955.7 960.2,956.1 961.4,956.5 962.6,956.3 963.8,955.8 965.0,955.7 966.2,956.0 967.4,955.7 968.6,955.1 969.8,955.0 971.0,955.0 972.2,955.6 973.4,956.6 974.6,956.5 975.8,956.2 977.0,956.3 978.2,955.9 979.4,955.7 980.6,955.8 981.8,956.1 983.0,956.2 984.2,956.1 985.4,956.3 986.6,956.1 987.8,954.8 989.0,954.9 990.1,956.4 991.3,956.0 992.5,954.7 993.7,954.6 994.9,954.4 996.1,954.3 997.3,954.7 998.5,954.8 999.7,954.9 1000.9,955.0 1002.1,955.1 1003.3,955.2 1004.5,954.8 1005.7,954.3 1006.9,954.3 1008.1,954.6 1009.3,955.1 1010.5,955.1 1011.7,955.0 1012.9,955.5 1014.1,955.8 1015.3,955.2 1016.5,954.3 1017.7,954.2 1018.9,954.7 1020.1,955.3 1021.3,956.5 1022.5,956.5 1023.7,954.6 1024.9,953.1 1026.1,953.0 1027.3,954.0 1028.5,954.6 1029.7,954.3 1030.9,954.5 1032.1,955.2 1033.3,955.4 1034.5,954.9 1035.7,954.5 1036.9,954.1 1038.1,954.3 1039.3,955.1 1040.5,955.4 1041.7,955.1 1042.9,954.9 1044.1,955.0 1045.3,955.4 1046.5,955.5 1047.7,955.5 1048.9,955.6 1050.1,955.4 1051.3,954.5 1052.5,953.8 1053.7,954.0 1054.9,954.6 1056.1,955.1 1057.3,955.1 1058.5,954.6 1059.7,954.7 1060.9,954.9 1062.1,954.8 1063.3,955.5 1064.5,955.8 1065.7,955.3 1066.9,955.2 1068.1,955.7 1069.3,955.7 1070.5,954.9 1071.7,954.0 1072.9,953.8 1074.1,954.4 1075.3,955.2 1076.5,955.8 1077.7,955.6 1078.9,954.4 1080.1,953.6 1081.3,954.1 1082.5,955.2 1083.7,955.4 1084.9,955.1 1086.1,955.4 1087.3,955.5 1088.5,954.3 1089.7,953.7 1090.9,954.3 1092.1,954.7 1093.3,954.3 1094.5,954.3 1095.7,954.7 1096.9,954.7 1098.1,954.4 1099.3,955.0 1100.5,955.4 1101.7,955.2 1102.9,954.8 1104.1,954.2 1105.3,953.7 1106.5,953.4 1107.7,953.8 1108.9,954.9 1110.1,955.2 1111.3,955.0 1112.5,955.0 1113.7,953.9 1114.9,952.9 1116.1,952.9 1117.3,953.6 1118.5,954.9 1119.7,954.9 1120.9,954.6 1122.1,954.1 1123.3,953.3 1124.5,954.2 1125.7,955.0 1126.9,954.4 1128.1,953.6 1129.3,953.0 1130.5,953.6 1131.7,954.7 1132.9,954.8 1134.1,954.3 1135.3,954.2 1136.5,954.4 1137.7,955.1 1138.9,955.3 1140.1,954.4 1141.3,953.8 1142.5,953.7 1143.7,952.9 1144.9,952.5 1146.1,953.1 1147.3,953.4 1148.5,953.7 1149.7,953.9 1150.9,954.1 1152.1,954.9 1153.3,955.4 1154.5,954.5 1155.7,954.1 1156.9,954.7 1158.1,954.7 1159.3,954.4 1160.5,954.0 1161.7,953.0 1162.9,952.8 1164.1,953.7 1165.3,954.3 1166.5,954.1 1167.7,954.4 1168.9,955.7 1170.1,955.6 1171.3,954.2 1172.5,953.3 1173.7,952.9 1174.9,952.5 1176.1,953.0 1177.3,953.6 1178.5,953.5 1179.7,952.9 1180.9,952.9 1182.1,954.0 1183.3,954.2 1184.5,953.6 1185.7,953.7 1186.9,954.8 1188.1,955.5 1189.3,955.0 1190.5,954.3 1191.7,953.9 1192.9,954.5 1194.1,955.2 1195.3,955.2 1196.5,954.7 1197.7,954.5 1198.9,954.2 1200.1,953.2 1201.3,953.9 1202.5,955.2 1203.7,955.1 1204.9,954.2 1206.1,953.5 1207.3,953.4 1208.5,953.9 1209.7,953.9 1210.9,953.5 1212.1,953.9 1213.3,954.1 1214.5,954.0 1215.7,954.0 1216.9,954.2 1218.1,954.6 1219.3,954.7 1220.5,954.2 1221.7,953.9 1222.9,954.2 1224.1,954.7 1225.3,954.4 1226.5,954.1 1227.7,954.4 1228.9,954.1 1230.1,954.3 1231.3,954.8 1232.5,954.2 1233.7,953.7 1234.9,954.2 1236.1,954.4 1237.3,954.3 1238.5,954.4 1239.7,954.3 1240.9,954.3 1242.1,954.4 1243.3,954.2 1244.5,953.5 1245.7,953.3 1246.9,953.5 1248.1,953.1 1249.3,953.3 1250.5,954.3 1251.7,955.2 1252.9,955.2 1254.1,954.7 1255.3,955.0 1256.5,955.6 1257.7,955.5 1258.9,954.7 1260.1,954.6 1261.3,955.5 1262.5,955.0 1263.7,953.5 1264.9,954.2 1266.1,955.2 1267.3,955.0 1268.5,954.8 1269.7,955.0 1270.9,955.2 1272.1,955.1 1273.3,954.7 1274.5,953.8 1275.7,952.8 1276.9,953.7 1278.1,954.3 1279.3,954.0 1280.5,955.0 1281.7,955.9 1282.9,955.4 1284.1,955.0 1285.3,954.4 1286.5,954.1 1287.7,954.5 1288.9,954.7 1290.1,955.1 1291.3,955.4 1292.5,954.8 1293.7,954.2 1294.9,954.0 1296.1,954.3 1297.3,954.2 1298.5,953.7 1299.7,953.7 1300.9,953.8 1302.1,953.3 1303.3,952.4 1304.5,952.4 1305.7,953.4 1306.9,954.3 1308.1,954.9 1309.3,955.4 1310.5,955.5 1311.7,955.5 1312.9,955.0 1314.1,953.7 1315.3,954.0 1316.5,954.9 1317.7,954.4 1318.9,953.4 1320.1,953.1 1321.3,954.0 1322.5,954.8 1323.7,954.0 1324.9,952.9 1326.1,953.4 1327.3,955.4 1328.5,956.3 1329.7,955.7 1330.9,955.1 1332.1,954.1 1333.3,953.8 1334.5,955.3 1335.7,956.1 1336.9,955.4 1338.1,955.1 1339.3,955.2 1340.5,954.5 1341.7,953.6 1342.9,953.6 1344.1,954.3 1345.3,954.6 1346.5,954.7 1347.7,954.7 1348.9,954.5 1350.1,954.9 1351.3,955.4 1352.5,955.0 1353.7,955.1 1354.9,955.3 1356.1,955.0 1357.3,955.4 1358.5,955.9 1359.7,955.8 1360.9,955.7 1362.1,955.2 1363.3,954.3 1364.5,954.6 1365.7,955.4 1366.9,955.1 1368.1,954.6 1369.3,954.7 1370.5,954.6 1371.7,954.1 1372.9,954.0 1374.1,954.1 1375.3,954.2 1376.5,953.6 1377.7,953.2 1378.9,954.3 1380.1,955.0 1381.3,954.6 1382.5,954.1 1383.7,953.6 1384.9,953.8 1386.1,953.8 1387.3,953.4 1388.5,953.6 1389.7,953.6 1390.9,954.0 1392.1,954.4 1393.3,954.3 1394.5,954.4 1395.7,954.1 1396.9,954.7 1398.1,956.1 1399.3,956.3 1400.5,955.5 1401.7,954.5 1402.9,954.2 1404.1,954.2 1405.3,954.7 1406.5,956.0 1407.7,956.4 1408.9,955.9 1410.1,955.4 1411.3,954.6 1412.5,953.9 1413.7,953.9 1414.9,953.6 1416.1,952.7 1417.3,952.9 1418.5,953.8 1419.7,953.8 1420.9,953.6 1422.1,954.0 1423.3,954.5 1424.5,954.6 1425.7,954.4 1426.9,954.4 1428.1,954.2 1429.3,953.6 1430.5,954.0 1431.7,956.0 1432.9,957.2 1434.1,956.1 1435.3,954.6 1436.5,954.2 1437.7,954.1 1438.9,954.1 1440.1,954.5 1441.3,954.7 1442.5,954.2 1443.7,953.8 1444.9,954.1 1446.1,955.0 1447.3,955.1 1448.5,954.8 1449.7,954.6 1450.9,954.4 1452.1,954.6 1453.3,955.0 1454.5,955.1 1455.7,955.4 1456.9,955.2 1458.1,954.6 1459.3,954.9 1460.5,955.2 1461.7,955.1 1462.9,955.4 1464.1,955.0 1465.3,954.5 1466.5,955.2 1467.7,954.9 1468.9,953.9 1470.1,954.3 1471.3,955.3 1472.5,955.2 1473.7,955.0 1474.9,955.6 1476.1,955.8 1477.3,955.0 1478.5,954.2 1479.7,954.3 1480.9,954.9 1482.1,955.4 1483.3,955.5 1484.5,955.3 1485.7,955.4 1486.9,955.1 1488.1,954.8 1489.3,955.2 1490.5,955.8 1491.7,955.9 1492.9,955.8 1494.1,955.9 1495.3,955.7 1496.5,954.9 1497.7,954.4 1498.9,954.5 1500.1,954.4 1501.3,954.4 1502.5,954.5 1503.7,954.1 1504.9,953.8 1506.1,953.9 1507.3,954.0 1508.5,954.4 1509.7,953.8 1510.9,953.3 1512.1,954.1 1513.3,954.7 1514.5,954.9 1515.7,955.4 1516.9,954.9 1518.1,953.9 1519.3,953.9 1520.5,953.9 1521.7,954.5 1522.9,955.3 1524.1,954.8 1525.3,954.7 1526.5,954.8 1527.7,953.8 1528.9,953.8 1530.1,954.3 1531.3,954.2 1532.5,954.6 1533.7,954.9 1534.9,954.8 1536.1,955.1 1537.3,956.2 1538.5,956.5 1539.7,955.3 1540.9,954.9 1542.1,954.9 1543.3,954.1 1544.5,953.6 1545.7,953.9 1546.9,954.7 1548.1,955.4 1549.3,955.8 1550.5,955.7 1551.7,954.9 1552.9,953.7 1554.1,953.8 1555.3,954.5 1556.5,954.6 1557.7,954.7 1558.9,954.1 1560.1,953.8 1561.3,954.8 1562.5,954.8 1563.7,954.8 1564.9,955.6 1566.1,956.1 1567.3,956.0 1568.5,955.7 1569.7,955.4 1570.9,954.3 1572.1,953.8 1573.3,954.8 1574.5,955.6 1575.7,955.7 1576.9,956.0 1578.1,956.1 1579.3,956.2 1580.5,955.8 1581.7,955.5 1582.9,956.3 1584.1,956.6 1585.3,955.9 1586.5,954.8 1587.7,954.3 1588.9,954.4 1590.1,954.7 1591.3,954.3 1592.5,953.8 1593.7,954.4 1594.9,954.8 1596.1,954.6 1597.3,954.3 1598.5,954.1 1599.7,953.8 1600.9,954.0 1602.1,954.4 1603.3,954.4 1604.5,954.1 1605.7,953.6 1606.9,953.4 1608.1,953.8 1609.3,954.4 1610.5,954.0 1611.7,953.5 1612.9,954.6 1614.1,955.2 1615.3,954.9 1616.5,954.6 1617.7,954.0 1618.9,953.6 1620.1,953.5 1621.3,953.9 1622.5,954.2 1623.7,954.2 1624.9,955.0 1626.1,956.1 1627.3,955.2 1628.5,953.7 1629.7,953.7 1630.9,953.6 1632.1,953.3 1633.3,953.7 1634.5,954.2 1635.7,954.0 1636.9,953.4 1638.1,953.6 1639.3,954.1 1640.5,954.6 1641.7,954.8 1642.9,954.1 1644.1,953.7 1645.3,954.2 1646.5,954.1 1647.7,953.7 1648.9,953.9 1650.1,954.6 1651.3,955.3 1652.5,955.0 1653.7,953.9 1654.9,953.2 1656.1,953.2 1657.3,953.6 1658.5,954.2 1659.7,954.5 1660.9,954.4 1662.1,954.7 1663.3,954.8 1664.5,954.3 1665.7,953.8 1666.9,953.4 1668.1,953.4 1669.3,953.8 1670.5,954.6 1671.7,955.1 1672.9,954.9 1674.1,954.1 1675.3,953.5 1676.5,954.1 1677.7,955.1 1678.9,954.8 1680.1,954.3 1681.3,954.3 1682.5,954.2 1683.7,954.2 1684.9,953.7 1686.1,953.4 1687.3,954.2 1688.5,954.7 1689.7,954.0 1690.9,953.8 1692.1,954.4 1693.3,954.1 1694.5,953.2 1695.7,953.0 1696.9,952.7 1698.1,952.9 1699.3,953.5 1700.5,953.7 1701.7,953.5 1702.9,953.0 1704.1,953.3 1705.3,953.4 1706.5,952.6 1707.7,952.2 1708.9,952.6 1710.1,953.1 1711.3,952.9 1712.5,952.1 1713.7,952.2 1714.9,952.7 1716.1,953.0 1717.3,953.5 1718.5,953.5 1719.7,953.2 1720.9,953.5" stroke="#22dd22" stroke-width="2.9"/>
<polyline points="186.2,944.1 187.4,944.1 188.6,943.9 189.8,944.0 190.9,944.5 192.1,944.2 193.3,943.7 194.5,943.3 195.7,943.0 196.9,943.3 198.1,942.7 199.3,942.5 200.5,943.1 201.7,942.5 202.9,941.7 204.1,941.2 205.3,940.8 206.5,940.9 207.7,940.9 208.9,940.9 210.1,941.5 211.3,942.1 212.5,941.9 213.7,941.9 214.9,942.0 216.1,941.6 217.3,941.8 218.5,941.9 219.7,940.8 220.9,940.5 222.1,940.9 223.3,940.9 224.5,941.5 225.7,941.7 226.8,941.3 228.0,940.8 229.2,940.4 230.4,940.7 231.6,940.9 232.8,940.6 234.0,940.7 235.2,940.6 236.4,939.6 237.6,939.0 238.8,938.9 240.0,938.9 241.2,939.1 242.4,939.2 243.6,939.2 244.8,939.7 246.0,939.9 247.2,939.0 248.4,939.4 249.6,940.6 250.8,939.8 252.0,938.7 253.2,938.4 254.4,938.0 255.6,938.1 256.8,938.0 258.0,937.9 259.2,937.9 260.4,938.0 261.6,938.1 262.8,938.0 264.0,938.0 265.2,938.5 266.4,938.9 267.5,938.6 268.7,938.2 269.9,938.2 271.1,938.2 272.3,938.2 273.5,938.1 274.7,937.6 275.9,937.1 277.1,937.4 278.3,937.5 279.5,937.4 280.7,938.0 281.9,937.5 283.1,936.2 284.3,937.1 285.5,937.7 286.7,936.3 287.9,935.6 289.1,936.8 290.3,937.8 291.5,937.2 292.7,936.7 293.9,936.5 295.1,936.5 296.3,937.0 297.5,936.9 298.7,936.7 299.9,937.2 301.1,937.4 302.3,936.5 303.5,935.9 304.7,936.1 305.9,935.9 307.1,934.9 308.3,934.5 309.5,935.5 310.7,936.2 311.9,935.8 313.1,935.4 314.3,935.8 315.5,936.9 316.7,936.7 317.9,935.9 319.1,935.5 320.3,935.5 321.5,936.6 322.7,936.6 323.9,935.2 325.1,934.8 326.3,935.2 327.5,935.5 328.7,935.4 329.9,935.0 331.1,935.2 332.3,935.5 333.5,934.7 334.7,934.3 335.9,934.1 337.1,934.1 338.3,934.4 339.5,934.4 340.7,934.7 341.9,934.5 343.1,934.1 344.3,934.0 345.5,933.8 346.7,934.2 347.9,934.0 349.0,933.2 350.2,933.1 351.4,933.1 352.6,933.4 353.8,934.1 355.0,933.6 356.2,933.0 357.4,933.3 358.6,934.6 359.8,935.6 361.0,934.5 362.2,933.2 363.4,933.3 364.6,933.5 365.8,933.9 367.0,934.1 368.2,933.4 369.4,933.1 370.6,933.1 371.8,932.0 373.0,931.6 374.2,933.1 375.4,934.1 376.6,934.2 377.8,934.0 379.0,932.8 380.2,932.4 381.4,933.3 382.6,933.6 383.8,933.5 385.0,933.5 386.2,933.0 387.4,933.7 388.6,935.2 389.8,935.1 391.0,933.7 392.2,932.9 393.4,933.1 394.6,934.0 395.8,934.4 397.0,934.0 398.2,933.5 399.4,932.9 400.6,932.4 401.8,932.8 403.0,934.0 404.2,934.2 405.4,933.0 406.6,932.8 407.8,933.2 409.0,933.8 410.2,934.3 411.4,933.7 412.6,932.7 413.8,932.8 415.0,933.2 416.2,933.6 417.4,933.8 418.6,933.5 419.8,933.4 421.0,933.9 422.2,934.9 423.4,935.1 424.6,934.3 425.8,933.8 427.0,933.9 428.2,933.9 429.4,933.9 430.6,934.2 431.8,935.1 433.0,936.1 434.2,935.6 435.4,934.0 436.6,934.1 437.8,935.3 439.0,935.5 440.2,934.4 441.4,933.6 442.6,934.2 443.8,935.1 445.0,934.6 446.2,934.2 447.4,935.1 448.6,935.4 449.8,935.2 451.0,935.5 452.2,935.2 453.4,934.2 454.6,933.9 455.8,934.4 457.0,934.7 458.2,935.1 459.4,935.4 460.6,935.5 461.8,935.0 463.0,934.3 464.2,934.9 465.4,936.2 466.6,936.5 467.8,935.8 469.0,935.5 470.2,936.7 471.4,937.4 472.6,936.7 473.8,935.5 475.0,935.3 476.2,935.6 477.4,935.1 478.6,935.4 479.8,936.5 481.0,936.6 482.2,936.4 483.4,936.2 484.6,936.3 485.8,937.0 487.0,936.7 488.2,936.1 489.4,936.0 490.6,936.6 491.8,937.6 493.0,937.4 494.2,937.1 495.4,937.5 496.6,937.6 497.8,937.6 499.0,937.3 500.1,936.6 501.3,936.3 502.5,936.9 503.7,937.7 504.9,937.7 506.1,938.2 507.3,939.0 508.5,938.8 509.7,938.1 510.9,938.6 512.1,939.5 513.3,939.6 514.5,939.8 515.7,939.6 516.9,938.3 518.1,938.2 519.3,939.4 520.5,939.2 521.7,938.7 522.9,938.9 524.1,939.2 525.3,939.6 526.5,939.5 527.7,938.9 528.9,938.7 530.1,939.1 531.3,939.9 532.4,940.5 533.6,940.0 534.8,939.4 536.0,939.3 537.2,939.5 538.4,939.8 539.6,939.4 540.8,939.5 542.0,941.3 543.2,942.3 544.4,941.7 545.6,941.1 546.8,941.6 548.0,942.6 549.2,943.0 550.4,942.5 551.6,942.3 552.8,942.9 554.0,942.9 555.2,942.8 556.3,942.9 557.5,942.5 558.7,942.3 559.9,942.5 561.1,943.1 562.3,943.4 563.5,943.3 564.7,943.1 565.9,942.7 567.1,943.1 568.3,944.0 569.5,944.6 570.7,944.4 571.9,944.5 573.1,944.9 574.3,944.6 575.5,943.9 576.6,943.9 577.8,944.3 579.0,944.6 580.2,944.5 581.4,945.0 582.6,946.1 583.8,945.9 585.0,944.6 586.2,944.6 587.4,945.9 588.6,946.8 589.8,946.9 591.0,946.2 592.2,946.0 593.4,946.3 594.6,947.0 595.8,947.3 596.9,947.5 598.1,947.6 599.3,946.9 600.5,946.9 601.7,947.1 602.9,946.9 604.1,947.4 605.3,947.7 606.5,947.5 607.7,947.8 608.9,948.1 610.1,947.8 611.3,947.0 612.5,947.0 613.7,948.4 614.9,949.6 616.0,949.3 617.2,948.2 618.4,947.9 619.6,947.9 620.8,948.3 622.0,949.0 623.2,949.0 624.4,949.5 625.6,949.7 626.8,949.0 628.0,949.0 629.2,949.2 630.4,949.1 631.6,949.7 632.8,951.0 634.0,950.9 635.2,950.5 636.4,951.0 637.5,951.4 638.7,950.9 639.9,950.6 641.1,952.0 642.3,952.9 643.5,952.1 644.7,951.3 645.9,951.1 647.1,951.0 648.3,951.3 649.5,951.6 650.7,951.0 651.9,950.9 653.1,951.5 654.3,952.2 655.5,951.6 656.7,950.7 657.9,951.6 659.1,952.6 660.3,952.7 661.5,953.0 662.6,952.8 663.8,952.8 665.0,953.7 666.2,953.6 667.4,952.2 668.6,952.0 669.8,953.3 671.0,953.6 672.2,952.8 673.4,953.3 674.6,954.8 675.8,954.9 677.0,954.1 678.2,953.6 679.4,953.6 680.6,953.9 681.8,954.2 683.0,954.4 684.2,954.3 685.4,954.3 686.6,954.8 687.8,954.7 689.0,953.7 690.2,954.3 691.4,956.0 692.6,956.6 693.8,956.2 695.0,955.3 696.2,954.5 697.4,954.3 698.6,954.5 699.8,954.5 700.9,954.3 702.1,954.8 703.3,954.7 704.5,954.4 705.7,954.6 706.9,955.1 708.1,955.6 709.3,955.7 710.5,956.2 711.7,957.0 712.9,956.2 714.1,955.2 715.3,955.7 716.5,956.1 717.7,957.0 718.9,957.4 720.1,956.6 721.3,956.5 722.5,956.7 723.7,956.9 724.9,957.6 726.1,957.5 727.3,957.3 728.5,957.1 729.7,956.2 730.9,955.7 732.1,956.5 733.3,958.0 734.5,958.7 735.7,958.2 736.9,957.4 738.1,957.2 739.3,957.7 740.5,958.3 741.7,957.8 742.9,957.1 744.1,957.0 745.3,957.3 746.5,957.7 747.7,957.5 748.9,956.8 750.1,956.7 751.3,957.3 752.5,957.7 753.7,956.9 754.9,956.8 756.1,957.6 757.3,957.4 758.5,956.9 759.7,956.9 760.9,957.6 762.1,958.1 763.3,957.9 764.5,957.1 765.7,956.3 766.9,956.3 768.1,957.1 769.3,957.8 770.5,957.7 771.7,957.6 772.9,957.6 774.1,958.0 775.3,958.7 776.5,958.0 777.7,956.8 778.9,956.6 780.1,956.5 781.3,956.6 782.5,958.0 783.7,959.1 784.9,958.6 786.1,957.7 787.3,957.2 788.5,956.9 789.7,956.8 790.9,957.5 792.1,958.9 793.3,959.5 794.5,958.2 795.7,957.0 796.9,957.0 798.1,957.1 799.3,957.2 800.5,957.9 801.7,958.8 802.9,959.0 804.1,959.0 805.3,959.1 806.5,958.8 807.7,957.7 808.9,956.7 810.1,957.3 811.3,957.7 812.5,957.3 813.7,957.3 814.9,957.6 816.1,957.6 817.3,957.9 818.5,958.0 819.7,957.5 820.9,956.9 822.1,956.5 823.3,956.9 824.5,957.1 825.7,957.0 826.9,957.2 828.1,957.5 829.3,957.9 830.5,958.2 831.7,957.7 832.9,957.7 834.1,958.5 835.3,958.0 836.5,956.9 837.7,956.5 838.9,956.3 840.1,956.5 841.3,957.1 842.5,956.9 843.7,956.1 844.9,956.8 846.1,958.4 847.3,958.0 848.5,957.0 849.7,957.0 850.9,956.7 852.1,956.4 853.3,957.7 854.5,958.7 855.7,958.0 856.9,956.7 858.1,956.8 859.3,957.6 860.5,957.7 861.7,957.7 862.9,957.0 864.1,956.7 865.3,957.9 866.5,958.2 867.7,957.4 868.9,957.1 870.1,956.9 871.3,956.4 872.5,955.5 873.7,954.2 874.9,954.3 876.1,956.4 877.3,957.8 878.5,957.6 879.7,957.3 880.9,956.6 882.1,955.3 883.3,955.4 884.5,956.5 885.7,957.2 886.9,957.4 888.1,956.5 889.3,955.6 890.5,956.1 891.7,956.6 892.9,956.4 894.1,956.7 895.3,956.8 896.5,956.6 897.7,956.3 898.9,956.1 900.1,956.3 901.3,956.9 902.5,956.8 903.7,956.5 904.9,956.8 906.1,956.4 907.3,956.3 908.5,957.7 909.7,958.0 910.9,956.2 912.1,955.3 913.3,955.7 914.5,955.3 915.7,955.1 916.9,956.0 918.1,956.3 919.3,955.6 920.5,955.3 921.7,955.8 922.9,956.7 924.1,956.8 925.3,956.1 926.5,955.7 927.7,955.6 928.9,955.9 930.1,956.8 931.3,956.2 932.5,955.0 933.7,956.0 934.9,956.8 936.1,956.4 937.3,956.4 938.5,956.7 939.7,956.8 940.9,956.3 942.1,955.6 943.3,954.9 944.5,954.9 945.7,955.6 946.9,955.8 948.1,954.9 949.3,954.5 950.5,956.0 951.7,956.4 952.9,955.6 954.1,956.2 955.3,956.2 956.5,955.3 957.7,954.9 958.9,955.1 960.1,955.5 961.3,956.0 962.5,956.5 963.7,956.5 964.9,955.8 966.1,955.3 967.3,955.1 968.5,954.7 969.7,954.7 970.9,955.5 972.1,955.9 973.3,955.3 974.5,955.3 975.7,955.8 976.9,955.7 978.1,955.1 979.3,954.8 980.5,954.9 981.7,954.6 982.9,954.4 984.1,954.6 985.3,954.7 986.5,954.4 987.7,954.9 988.9,955.6 990.1,955.6 991.3,955.2 992.5,955.0 993.7,955.0 994.9,954.9 996.1,954.5 997.3,954.3 998.5,954.7 999.7,954.8 1000.9,954.1 1002.1,953.6 1003.3,954.4 1004.5,955.2 1005.7,955.2 1006.9,955.4 1008.1,956.0 1009.3,956.2 1010.5,955.8 1011.7,955.4 1012.9,955.5 1014.1,955.6 1015.3,955.1 1016.5,954.8 1017.7,955.0 1018.9,954.8 1020.1,954.7 1021.3,954.9 1022.5,955.1 1023.7,955.6 1024.9,955.8 1026.1,954.8 1027.3,954.0 1028.5,954.5 1029.7,955.7 1030.9,956.1 1032.1,955.3 1033.3,954.8 1034.5,954.4 1035.7,953.6 1036.9,953.7 1038.1,955.0 1039.3,955.5 1040.5,955.4 1041.7,955.2 1042.9,955.1 1044.1,954.2 1045.3,953.8 1046.5,955.0 1047.7,955.2 1048.9,954.7 1050.1,954.3 1051.3,954.5 1052.5,955.4 1053.7,955.6 1054.9,955.6 1056.1,955.3 1057.3,955.3 1058.5,955.7 1059.7,955.3 1060.9,955.2 1062.1,955.3 1063.3,955.4 1064.5,955.4 1065.7,955.5 1066.9,955.8 1068.1,955.4 1069.3,955.0 1070.5,955.1 1071.7,955.4 1072.9,955.5 1074.1,955.3 1075.3,955.6 1076.5,955.6 1077.7,954.9 1078.9,954.1 1080.1,953.5 1081.3,954.5 1082.5,955.7 1083.7,955.2 1084.9,954.4 1086.1,954.3 1087.3,954.8 1088.5,955.1 1089.7,955.1 1090.9,955.2 1092.1,954.9 1093.3,954.9 1094.5,955.4 1095.7,955.5 1096.9,955.5 1098.1,955.1 1099.3,954.7 1100.5,954.8 1101.7,955.1 1102.9,955.0 1104.1,954.3 1105.3,954.0 1106.5,954.4 1107.7,954.3 1108.9,954.3 1110.1,953.7 1111.3,953.3 1112.5,954.3 1113.7,954.3 1114.9,953.5 1116.1,953.6 1117.3,954.2 1118.5,954.5 1119.7,954.7 1120.9,954.5 1122.1,953.7 1123.3,953.5 1124.5,954.3 1125.7,954.7 1126.9,953.8 1128.1,953.7 1129.3,954.9 1130.5,955.6 1131.7,955.6 1132.9,955.3 1134.1,954.6 1135.3,954.8 1136.5,955.2 1137.7,954.8 1138.9,954.6 1140.1,954.3 1141.3,953.9 1142.5,954.0 1143.7,954.6 1144.9,954.9 1146.1,954.9 1147.3,954.8 1148.5,955.0 1149.7,954.2 1150.9,953.0 1152.1,953.5 1153.3,954.9 1154.5,954.9 1155.7,954.7 1156.9,954.6 1158.1,954.2 1159.3,954.5 1160.5,954.6 1161.7,954.4 1162.9,954.7 1164.1,954.8 1165.3,954.0 1166.5,954.0 1167.7,954.7 1168.9,954.5 1170.1,954.1 1171.3,954.1 1172.5,953.9 1173.7,953.4 1174.9,953.4 1176.1,953.5 1177.3,953.7 1178.5,954.4 1179.7,954.4 1180.9,954.5 1182.1,954.5 1183.3,954.1 1184.5,954.1 1185.7,953.9 1186.9,953.8 1188.1,953.8 1189.3,954.2 1190.5,954.9 1191.7,954.7 1192.9,954.1 1194.1,954.0 1195.3,954.0 1196.5,954.2 1197.7,954.7 1198.9,954.8 1200.1,954.7 1201.3,954.2 1202.5,953.4 1203.7,953.8 1204.9,954.4 1206.1,954.4 1207.3,954.4 1208.5,954.3 1209.7,953.9 1210.9,954.0 1212.1,954.4 1213.3,954.6 1214.5,954.5 1215.7,954.6 1216.9,954.4 1218.1,953.8 1219.3,954.0 1220.5,953.9 1221.7,953.4 1222.9,953.7 1224.1,954.4 1225.3,954.7 1226.5,954.5 1227.7,954.7 1228.9,954.5 1230.1,954.1 1231.3,954.2 1232.5,954.4 1233.7,954.8 1234.9,955.0 1236.1,954.3 1237.3,954.0 1238.5,955.0 1239.7,955.5 1240.9,954.6 1242.1,953.9 1243.3,954.1 1244.5,954.0 1245.7,953.8 1246.9,954.2 1248.1,954.4 1249.3,954.6 1250.5,954.5 1251.7,954.1 1252.9,953.9 1254.1,953.8 1255.3,954.0 1256.5,954.6 1257.7,954.4 1258.9,954.1 1260.1,954.0 1261.3,954.0 1262.5,954.5 1263.7,954.4 1264.9,954.4 1266.1,955.0 1267.3,954.4 1268.5,954.3 1269.7,955.2 1270.9,955.1 1272.1,955.1 1273.3,955.0 1274.5,954.4 1275.7,954.6 1276.9,955.5 1278.1,955.4 1279.3,954.3 1280.5,954.1 1281.7,954.8 1282.9,954.5 1284.1,953.4 1285.3,953.8 1286.5,955.3 1287.7,955.0 1288.9,954.3 1290.1,954.8 1291.3,955.1 1292.5,954.1 1293.7,953.3 1294.9,954.0 1296.1,954.6 1297.3,954.3 1298.5,954.5 1299.7,955.4 1300.9,955.7 1302.1,955.4 1303.3,955.2 1304.5,955.3 1305.7,955.5 1306.9,954.6 1308.1,953.8 1309.3,953.9 1310.5,953.7 1311.7,953.5 1312.9,953.6 1314.1,953.9 1315.3,954.7 1316.5,955.2 1317.7,954.6 1318.9,954.4 1320.1,954.7 1321.3,955.1 1322.5,956.1 1323.7,956.5 1324.9,955.4 1326.1,954.2 1327.3,954.1 1328.5,953.7 1329.7,953.5 1330.9,953.9 1332.1,954.0 1333.3,954.0 1334.5,954.2 1335.7,954.4 1336.9,954.4 1338.1,954.3 1339.3,954.3 1340.5,954.5 1341.7,954.9 1342.9,954.8 1344.1,954.3 1345.3,954.3 1346.5,954.6 1347.7,953.8 1348.9,952.8 1350.1,953.8 1351.3,955.6 1352.5,954.9 1353.7,953.5 1354.9,954.0 1356.1,954.4 1357.3,954.0 1358.5,953.4 1359.7,952.6 1360.9,952.9 1362.1,953.9 1363.3,954.3 1364.5,954.3 1365.7,954.1 1366.9,953.9 1368.1,954.0 1369.3,953.8 1370.5,953.0 1371.7,952.3 1372.9,952.9 1374.1,953.6 1375.3,953.5 1376.5,954.1 1377.7,954.9 1378.9,954.9 1380.1,954.3 1381.3,954.3 1382.5,954.7 1383.7,955.1 1384.9,955.4 1386.1,955.0 1387.3,954.2 1388.5,953.7 1389.7,953.3 1390.9,952.6 1392.1,953.0 1393.3,954.7 1394.5,956.1 1395.7,954.9 1396.9,953.5 1398.1,953.8 1399.3,953.8 1400.5,953.5 1401.7,953.7 1402.9,954.1 1404.1,954.0 1405.3,953.9 1406.5,954.4 1407.7,954.9 1408.9,955.0 1410.1,955.2 1411.3,955.1 1412.5,954.3 1413.7,953.8 1414.9,954.1 1416.1,954.5 1417.3,954.7 1418.5,954.8 1419.7,955.0 1420.9,954.8 1422.1,953.9 1423.3,953.9 1424.5,954.7 1425.7,954.7 1426.9,953.9 1428.1,953.9 1429.3,954.8 1430.5,954.7 1431.7,954.0 1432.9,953.9 1434.1,953.3 1435.3,952.6 1436.5,952.6 1437.7,953.4 1438.9,953.8 1440.1,953.4 1441.3,953.6 1442.5,954.3 1443.7,955.1 1444.9,955.3 1446.1,954.9 1447.3,954.5 1448.5,954.1 1449.7,953.9 1450.9,954.5 1452.1,955.1 1453.3,954.2 1454.5,952.9 1455.7,952.9 1456.9,953.4 1458.1,954.1 1459.3,955.0 1460.5,955.3 1461.7,955.3 1462.9,954.7 1464.1,953.7 1465.3,953.7 1466.5,954.2 1467.7,954.0 1468.9,954.0 1470.1,953.5 1471.3,953.2 1472.5,954.0 1473.7,953.8 1474.9,953.3 1476.1,953.5 1477.3,953.7 1478.5,954.5 1479.7,954.6 1480.9,953.9 1482.1,954.3 1483.3,954.9 1484.5,955.0 1485.7,955.4 1486.9,955.6 1488.1,954.5 1489.3,953.2 1490.5,953.3 1491.7,954.1 1492.9,954.3 1494.1,953.9 1495.3,953.9 1496.5,954.0 1497.7,953.4 1498.9,953.0 1500.1,953.6 1501.3,954.6 1502.5,954.0 1503.7,953.0 1504.9,953.6 1506.1,954.5 1507.3,954.8 1508.5,954.9 1509.7,955.2 1510.9,955.1 1512.1,954.6 1513.3,954.2 1514.5,954.0 1515.7,953.9 1516.9,954.6 1518.1,955.1 1519.3,955.3 1520.5,954.7 1521.7,953.2 1522.9,952.7 1524.1,952.7 1525.3,952.7 1526.5,953.6 1527.7,954.8 1528.9,955.0 1530.1,955.3 1531.3,956.1 1532.5,956.1 1533.7,955.5 1534.9,954.8 1536.1,953.9 1537.3,953.7 1538.5,954.0 1539.7,953.8 1540.9,953.1 1542.1,953.1 1543.3,953.3 1544.5,952.7 1545.7,952.3 1546.9,953.2 1548.1,954.1 1549.3,954.0 1550.5,953.6 1551.7,954.1 1552.9,954.8 1554.1,955.1 1555.3,954.9 1556.5,954.7 1557.7,955.0 1558.9,954.8 1560.1,954.9 1561.3,954.7 1562.5,954.5 1563.7,954.4 1564.9,954.0 1566.1,953.9 1567.3,954.2 1568.5,954.4 1569.7,953.7 1570.9,953.4 1572.1,953.9 1573.3,953.8 1574.5,953.2 1575.7,952.6 1576.9,953.2 1578.1,954.0 1579.3,953.9 1580.5,953.9 1581.7,954.0 1582.9,954.5 1584.1,953.8 1585.3,952.2 1586.5,952.5 1587.7,953.7 1588.9,954.5 1590.1,954.8 1591.3,954.3 1592.5,953.6 1593.7,953.4 1594.9,953.3 1596.1,953.9 1597.3,954.5 1598.5,954.2 1599.7,954.1 1600.9,954.5 1602.1,954.5 1603.3,954.5 1604.5,954.9 1605.7,954.6 1606.9,954.0 1608.1,954.6 1609.3,955.0 1610.5,954.5 1611.7,954.2 1612.9,953.7 1614.1,954.2 1615.3,954.9 1616.5,954.6 1617.7,954.6 1618.9,955.1 1620.1,955.4 1621.3,955.1 1622.5,954.6 1623.7,954.2 1624.9,953.5 1626.1,953.6 1627.3,954.2 1628.5,954.1 1629.7,953.9 1630.9,954.1 1632.1,954.7 1633.3,954.6 1634.5,954.0 1635.7,954.0 1636.9,954.0 1638.1,953.5 1639.3,953.5 1640.5,953.9 1641.7,954.1 1642.9,953.9 1644.1,953.8 1645.3,954.2 1646.5,954.2 1647.7,954.2 1648.9,954.1 1650.1,953.1 1651.3,952.8 1652.5,953.3 1653.7,954.2 1654.9,955.1 1656.1,955.8 1657.3,955.6 1658.5,954.7 1659.7,954.4 1660.9,954.5 1662.1,954.1 1663.3,953.6 1664.5,954.0 1665.7,954.4 1666.9,954.5 1668.1,954.2 1669.3,953.8 1670.5,953.7 1671.7,953.9 1672.9,954.7 1674.1,954.4 1675.3,953.5 1676.5,953.9 1677.7,954.2 1678.9,954.2 1680.1,953.3 1681.3,952.9 1682.5,953.9 1683.7,953.9 1684.9,953.6 1686.1,953.8 1687.3,953.6 1688.5,954.1 1689.7,955.0 1690.9,954.6 1692.1,953.4 1693.3,953.6 1694.5,954.8 1695.7,955.3 1696.9,954.8 1698.1,954.0 1699.3,953.6 1700.5,953.5 1701.7,953.5 1702.9,953.0 1704.1,952.1 1705.3,953.0 1706.5,954.1 1707.7,954.1 1708.9,954.3 1710.1,954.4 1711.3,954.3 1712.5,954.0 1713.7,954.1 1714.9,954.5 1716.1,954.4 1717.3,954.2 1718.5,954.2 1719.7,954.7 1720.9,954.9" stroke="#1c8c1c" stroke-width="2.9"/>
</g>
<text transform="translate(99 1211) rotate(-90)" font-size="82">X-band ESR signal (arb.units)</text>
<text transform="translate(822.4 1493.0) scale(1.025 0.910)" style="font-family:'Noto Serif CJK SC', serif;font-style:italic" font-size="80.0">μ</text>
<text x="872.0" y="1519.0" style="font-family:'Liberation Serif', 'Times New Roman', serif" font-size="51.0">0</text>
<text x="898.5" y="1489.4" font-size="82"><tspan font-style="italic">H</tspan> (T)</text>
<polyline points="1010.2,152.9 1010.8,204.4 1011.3,245.5 1011.9,279.2 1012.4,307.3 1013.0,331.0 1013.6,351.3 1014.1,369.0 1014.7,384.4 1015.2,398.0 1015.8,410.1 1016.3,421.0 1016.9,430.7 1017.4,439.5 1018.0,447.5 1018.5,454.9 1019.1,461.6 1019.6,467.7 1020.2,473.4 1020.8,478.7 1021.3,483.6 1021.9,488.2 1022.4,492.4 1023.0,496.4 1023.5,500.2 1024.1,503.7 1024.6,507.0 1025.2,510.1 1025.7,513.0 1026.3,515.8 1026.8,518.4 1027.4,520.9 1028.0,523.3 1028.5,525.6 1029.1,527.7 1029.6,529.8 1030.2,531.7 1030.7,533.6 1031.3,535.4 1031.8,537.1 1032.4,538.7 1032.9,540.3 1033.5,541.8 1034.0,543.3 1034.6,544.7 1035.2,546.0 1035.7,547.3 1036.3,548.6 1036.8,549.8 1037.4,550.9 1037.9,552.0 1038.5,553.1 1039.0,554.2 1039.6,555.2 1040.1,556.2 1040.7,557.1 1041.2,558.0 1041.8,558.9 1042.4,559.8 1042.9,560.6 1043.5,561.4 1044.0,562.2 1044.6,563.0 1045.1,563.7 1045.7,564.5 1046.2,565.2 1046.8,565.8 1047.3,566.5 1047.9,567.2 1048.4,567.8 1049.0,568.4 1049.6,569.0 1050.1,569.6 1052.3,571.8 1054.5,573.8 1056.8,575.6 1059.0,577.3 1061.2,578.9 1063.4,580.3 1065.6,581.6 1067.8,582.8 1070.0,584.0 1072.3,585.0 1074.5,586.0 1076.7,587.0 1078.9,587.8 1081.1,588.7 1083.3,589.4 1085.6,590.2 1087.8,590.9 1090.0,591.5 1092.2,592.2 1094.4,592.8 1096.6,593.3 1098.8,593.9 1101.1,594.4 1103.3,594.9 1105.5,595.3 1107.7,595.8 1109.9,596.2 1112.1,596.6 1114.3,597.0 1116.6,597.4 1118.8,597.7 1121.0,598.1 1123.2,598.4 1125.4,598.8 1127.6,599.1 1129.9,599.4 1132.1,599.7 1134.3,599.9 1136.5,600.2 1138.7,600.5 1149.8,601.7 1160.9,602.7 1171.9,603.6 1183.0,604.3 1194.1,605.0 1205.2,605.6 1216.3,606.2 1227.3,606.6 1238.4,607.1 1249.5,607.5 1260.6,607.8 1271.6,608.2 1282.7,608.5 1293.8,608.8 1304.9,609.0 1315.9,609.3 1327.0,609.5 1338.1,609.7 1349.2,609.9 1360.2,610.1 1371.3,610.3 1382.4,610.5 1393.5,610.6 1404.6,610.8 1415.6,610.9 1426.7,611.0 1437.8,611.2 1448.9,611.3 1459.9,611.4 1471.0,611.5 1482.1,611.6 1493.2,611.7 1504.2,611.8 1515.3,611.9 1526.4,612.0 1537.5,612.0 1548.5,612.1 1559.6,612.2 1570.7,612.3 1581.8,612.3 1592.9,612.4 1603.9,612.5 1615.0,612.5 1626.1,612.6 1637.2,612.7 1648.2,612.7 1659.3,612.8 1670.4,612.8" fill="none" stroke="#ff0000" stroke-width="5" stroke-linecap="round" stroke-linejoin="round"/>
<circle cx="1011.2" cy="297.2" r="12.6" fill="#008000"/>
<circle cx="1017.6" cy="410.6" r="12.6" fill="#008000"/>
<circle cx="1028.9" cy="473.5" r="12.6" fill="#008000"/>
<circle cx="1039.5" cy="513.1" r="12.6" fill="#008000"/>
<circle cx="1050.8" cy="547.0" r="12.6" fill="#008000"/>
<circle cx="1062.1" cy="562.5" r="12.6" fill="#008000"/>
<circle cx="1073.4" cy="574.6" r="12.6" fill="#008000"/>
<circle cx="1095.3" cy="586.6" r="12.6" fill="#008000"/>
<circle cx="1139.1" cy="595.8" r="12.6" fill="#008000"/>
<circle cx="1228.0" cy="603.2" r="12.6" fill="#008000"/>
<circle cx="1339.5" cy="606.0" r="12.6" fill="#008000"/>
<circle cx="1449.6" cy="607.5" r="12.6" fill="#008000"/>
<circle cx="1670.8" cy="608.9" r="12.6" fill="#008000"/>
<rect x="984.3" y="113.6" width="708.9" height="519.2" fill="none" stroke="#000" stroke-width="3.5" stroke-linejoin="round"/>
<line x1="1005.8" y1="632.8" x2="1005.8" y2="643.8" stroke="#000" stroke-width="3.5" stroke-linecap="round"/>
<line x1="1005.8" y1="113.6" x2="1005.8" y2="124.6" stroke="#000" stroke-width="3.5" stroke-linecap="round"/>
<line x1="1116.6" y1="632.8" x2="1116.6" y2="639.3" stroke="#000" stroke-width="3.5" stroke-linecap="round"/>
<line x1="1116.6" y1="113.6" x2="1116.6" y2="120.1" stroke="#000" stroke-width="3.5" stroke-linecap="round"/>
<line x1="1227.3" y1="632.8" x2="1227.3" y2="643.8" stroke="#000" stroke-width="3.5" stroke-linecap="round"/>
<line x1="1227.3" y1="113.6" x2="1227.3" y2="124.6" stroke="#000" stroke-width="3.5" stroke-linecap="round"/>
<line x1="1338.1" y1="632.8" x2="1338.1" y2="639.3" stroke="#000" stroke-width="3.5" stroke-linecap="round"/>
<line x1="1338.1" y1="113.6" x2="1338.1" y2="120.1" stroke="#000" stroke-width="3.5" stroke-linecap="round"/>
<line x1="1448.9" y1="632.8" x2="1448.9" y2="643.8" stroke="#000" stroke-width="3.5" stroke-linecap="round"/>
<line x1="1448.9" y1="113.6" x2="1448.9" y2="124.6" stroke="#000" stroke-width="3.5" stroke-linecap="round"/>
<line x1="1559.6" y1="632.8" x2="1559.6" y2="639.3" stroke="#000" stroke-width="3.5" stroke-linecap="round"/>
<line x1="1559.6" y1="113.6" x2="1559.6" y2="120.1" stroke="#000" stroke-width="3.5" stroke-linecap="round"/>
<line x1="1670.4" y1="632.8" x2="1670.4" y2="643.8" stroke="#000" stroke-width="3.5" stroke-linecap="round"/>
<line x1="1670.4" y1="113.6" x2="1670.4" y2="124.6" stroke="#000" stroke-width="3.5" stroke-linecap="round"/>
<line x1="984.3" y1="615.9" x2="973.3" y2="615.9" stroke="#000" stroke-width="3.5" stroke-linecap="round"/>
<line x1="1693.2" y1="615.9" x2="1682.2" y2="615.9" stroke="#000" stroke-width="3.5" stroke-linecap="round"/>
<line x1="984.3" y1="532.2" x2="977.8" y2="532.2" stroke="#000" stroke-width="3.5" stroke-linecap="round"/>
<line x1="1693.2" y1="532.2" x2="1686.7" y2="532.2" stroke="#000" stroke-width="3.5" stroke-linecap="round"/>
<line x1="984.3" y1="448.6" x2="973.3" y2="448.6" stroke="#000" stroke-width="3.5" stroke-linecap="round"/>
<line x1="1693.2" y1="448.6" x2="1682.2" y2="448.6" stroke="#000" stroke-width="3.5" stroke-linecap="round"/>
<line x1="984.3" y1="364.9" x2="977.8" y2="364.9" stroke="#000" stroke-width="3.5" stroke-linecap="round"/>
<line x1="1693.2" y1="364.9" x2="1686.7" y2="364.9" stroke="#000" stroke-width="3.5" stroke-linecap="round"/>
<line x1="984.3" y1="281.2" x2="973.3" y2="281.2" stroke="#000" stroke-width="3.5" stroke-linecap="round"/>
<line x1="1693.2" y1="281.2" x2="1682.2" y2="281.2" stroke="#000" stroke-width="3.5" stroke-linecap="round"/>
<line x1="984.3" y1="197.5" x2="977.8" y2="197.5" stroke="#000" stroke-width="3.5" stroke-linecap="round"/>
<line x1="1693.2" y1="197.5" x2="1686.7" y2="197.5" stroke="#000" stroke-width="3.5" stroke-linecap="round"/>
<line x1="984.3" y1="113.9" x2="973.3" y2="113.9" stroke="#000" stroke-width="3.5" stroke-linecap="round"/>
<line x1="1693.2" y1="113.9" x2="1682.2" y2="113.9" stroke="#000" stroke-width="3.5" stroke-linecap="round"/>
<text transform="translate(0 683.5) scale(1 1.040)" x="994.12" font-size="42.0">0</text>
<text transform="translate(0 683.5) scale(1 1.040)" x="1194.40 1215.65 1239.01" font-size="42.0">100</text>
<text transform="translate(0 683.5) scale(1 1.040)" x="1413.83 1437.18 1460.54" font-size="42.0">200</text>
<text transform="translate(0 683.5) scale(1 1.040)" x="1635.36 1658.71 1682.07" font-size="42.0">300</text>
<text transform="translate(965.5 628.9) scale(1 1.040)" font-size="42.0" text-anchor="end">0</text>
<text transform="translate(965.5 461.6) scale(1 1.040)" font-size="42.0" text-anchor="end">3</text>
<text transform="translate(965.5 294.2) scale(1 1.040)" font-size="42.0" text-anchor="end">6</text>
<text transform="translate(965.5 126.9) scale(1 1.040)" font-size="42.0" text-anchor="end">9</text>
<text transform="translate(923.5 413.6) rotate(-90)" font-size="51.1" text-anchor="middle"><tspan style="font-family:'Noto Serif CJK SC', serif" font-size="45.0">χ</tspan> (cm<tspan dy="-20" font-size="30">3</tspan><tspan dy="20">/mol)</tspan></text>
<text x="1284.5" y="738.2" font-size="51"><tspan font-style="italic">T</tspan> (K)</text>
<line x1="1230.2" y1="191.6" x2="1348.1" y2="191.6" stroke="#ff0000" stroke-width="5.5" stroke-linecap="round"/>
<text x="1359.5" y="209.6" font-size="51">magnetic</text>
<text x="1359.5" y="271.4" font-size="50.8">susceptibility</text>
<circle cx="1289.2" cy="336" r="13" fill="#008000"/>
<text x="1360" y="353.2" font-size="50"><tspan font-style="italic">I</tspan><tspan font-size="30" dy="19">ESR</tspan></text>
<rect x="755.95" y="236.00" width="11.61" height="8.25" fill="#fff"/>
<rect x="772.50" y="236.00" width="11.49" height="8.25" fill="#fff"/>
<rect x="755.95" y="304.00" width="11.61" height="8.25" fill="#fff"/>
<rect x="772.50" y="304.00" width="11.49" height="8.25" fill="#fff"/>
<rect x="755.95" y="712.00" width="11.61" height="8.25" fill="#fff"/>
<rect x="772.50" y="712.00" width="11.49" height="8.25" fill="#fff"/>
<rect x="755.95" y="780.00" width="11.61" height="8.25" fill="#fff"/>
<rect x="772.50" y="780.00" width="11.49" height="8.25" fill="#fff"/>
<rect x="1673.69" y="1383.00" width="17.20" height="11.64" fill="#fff"/>
<rect x="1698.22" y="1383.00" width="17.03" height="11.64" fill="#fff"/>
<rect x="1196.08" y="678.00" width="8.86" height="6.76" fill="#fff"/>
<rect x="1208.72" y="678.00" width="8.78" height="6.76" fill="#fff"/>
</g></svg></div></body></html>
